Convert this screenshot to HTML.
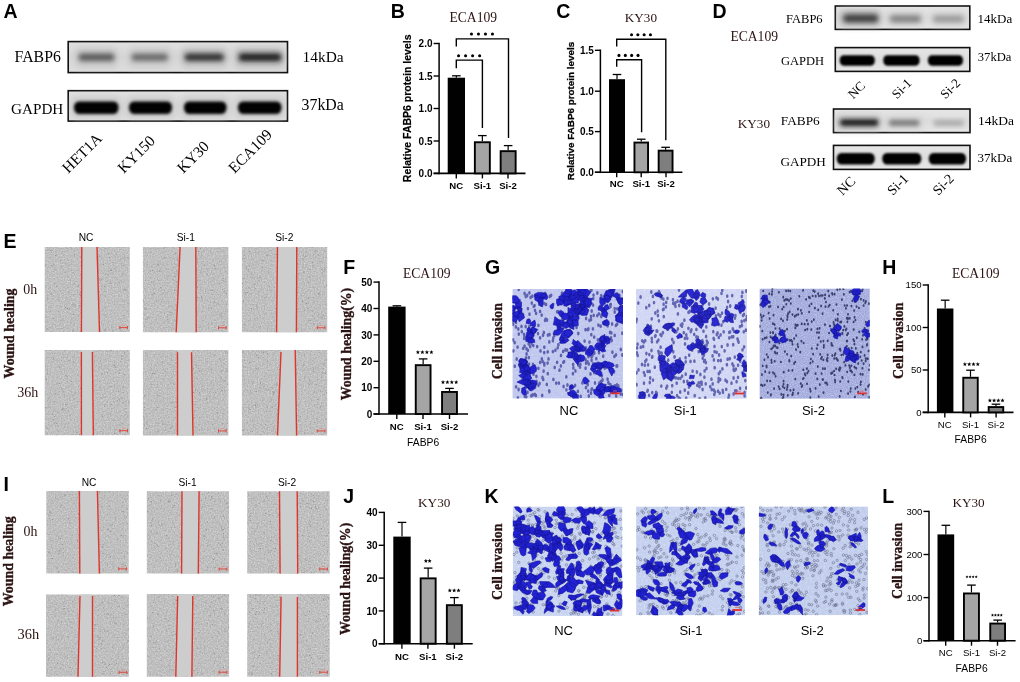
<!DOCTYPE html>
<html><head><meta charset="utf-8"><title>FABP6 figure</title>
<style>html,body{margin:0;padding:0;background:#fff;overflow:hidden;width:1020px;height:682px;}svg{display:block;}</style></head>
<body><svg width="1020" height="682" viewBox="0 0 1020 682">
<defs><filter id="bl5" x="-30%" y="-60%" width="160%" height="220%"><feGaussianBlur stdDeviation="0.5"/></filter><filter id="bl6" x="-30%" y="-60%" width="160%" height="220%"><feGaussianBlur stdDeviation="0.6"/></filter><filter id="bl7" x="-30%" y="-60%" width="160%" height="220%"><feGaussianBlur stdDeviation="0.7"/></filter><filter id="bl8" x="-30%" y="-60%" width="160%" height="220%"><feGaussianBlur stdDeviation="0.8"/></filter><filter id="bl9" x="-30%" y="-60%" width="160%" height="220%"><feGaussianBlur stdDeviation="0.9"/></filter><filter id="bl10" x="-30%" y="-60%" width="160%" height="220%"><feGaussianBlur stdDeviation="1.0"/></filter><filter id="bl11" x="-30%" y="-60%" width="160%" height="220%"><feGaussianBlur stdDeviation="1.1"/></filter><filter id="bl12" x="-30%" y="-60%" width="160%" height="220%"><feGaussianBlur stdDeviation="1.2"/></filter><filter id="bl13" x="-30%" y="-60%" width="160%" height="220%"><feGaussianBlur stdDeviation="1.3"/></filter><filter id="bl14" x="-30%" y="-60%" width="160%" height="220%"><feGaussianBlur stdDeviation="1.4"/></filter><filter id="bl15" x="-30%" y="-60%" width="160%" height="220%"><feGaussianBlur stdDeviation="1.5"/></filter><filter id="bl16" x="-30%" y="-60%" width="160%" height="220%"><feGaussianBlur stdDeviation="1.6"/></filter><filter id="bl17" x="-30%" y="-60%" width="160%" height="220%"><feGaussianBlur stdDeviation="1.7"/></filter><filter id="bl18" x="-30%" y="-60%" width="160%" height="220%"><feGaussianBlur stdDeviation="1.8"/></filter><filter id="bl19" x="-30%" y="-60%" width="160%" height="220%"><feGaussianBlur stdDeviation="1.9"/></filter><filter id="bl20" x="-30%" y="-60%" width="160%" height="220%"><feGaussianBlur stdDeviation="2.0"/></filter><filter id="bl21" x="-30%" y="-60%" width="160%" height="220%"><feGaussianBlur stdDeviation="2.1"/></filter><filter id="bl22" x="-30%" y="-60%" width="160%" height="220%"><feGaussianBlur stdDeviation="2.2"/></filter><filter id="bl23" x="-30%" y="-60%" width="160%" height="220%"><feGaussianBlur stdDeviation="2.3"/></filter><filter id="bl24" x="-30%" y="-60%" width="160%" height="220%"><feGaussianBlur stdDeviation="2.4"/></filter><filter id="bl25" x="-30%" y="-60%" width="160%" height="220%"><feGaussianBlur stdDeviation="2.5"/></filter><filter id="bl26" x="-30%" y="-60%" width="160%" height="220%"><feGaussianBlur stdDeviation="2.6"/></filter><filter id="bl27" x="-30%" y="-60%" width="160%" height="220%"><feGaussianBlur stdDeviation="2.7"/></filter><filter id="bl28" x="-30%" y="-60%" width="160%" height="220%"><feGaussianBlur stdDeviation="2.8"/></filter><filter id="bl29" x="-30%" y="-60%" width="160%" height="220%"><feGaussianBlur stdDeviation="2.9"/></filter><filter id="bl30" x="-30%" y="-60%" width="160%" height="220%"><feGaussianBlur stdDeviation="3.0"/></filter><filter id="bl31" x="-30%" y="-60%" width="160%" height="220%"><feGaussianBlur stdDeviation="3.1"/></filter><filter id="bl32" x="-30%" y="-60%" width="160%" height="220%"><feGaussianBlur stdDeviation="3.2"/></filter><filter id="bl33" x="-30%" y="-60%" width="160%" height="220%"><feGaussianBlur stdDeviation="3.3"/></filter><filter id="bl34" x="-30%" y="-60%" width="160%" height="220%"><feGaussianBlur stdDeviation="3.4"/></filter><filter id="bl35" x="-30%" y="-60%" width="160%" height="220%"><feGaussianBlur stdDeviation="3.5"/></filter><linearGradient id="ga1" x1="0" y1="0" x2="0" y2="1"><stop offset="0" stop-color="#e2e2e2"/><stop offset="0.5" stop-color="#d6d6d6"/><stop offset="1" stop-color="#dfdfdf"/></linearGradient><linearGradient id="ga2" x1="0" y1="0" x2="0" y2="1"><stop offset="0" stop-color="#e2e2e2"/><stop offset="0.5" stop-color="#d6d6d6"/><stop offset="1" stop-color="#dfdfdf"/></linearGradient><linearGradient id="gd1" x1="0" y1="0" x2="0" y2="1"><stop offset="0" stop-color="#e6e6e6"/><stop offset="0.5" stop-color="#dddddd"/><stop offset="1" stop-color="#e6e6e6"/></linearGradient><linearGradient id="gd2" x1="0" y1="0" x2="0" y2="1"><stop offset="0" stop-color="#e6e6e6"/><stop offset="0.5" stop-color="#dddddd"/><stop offset="1" stop-color="#e6e6e6"/></linearGradient><linearGradient id="gd3" x1="0" y1="0" x2="0" y2="1"><stop offset="0" stop-color="#e6e6e6"/><stop offset="0.5" stop-color="#dddddd"/><stop offset="1" stop-color="#e6e6e6"/></linearGradient><linearGradient id="gd4" x1="0" y1="0" x2="0" y2="1"><stop offset="0" stop-color="#e6e6e6"/><stop offset="0.5" stop-color="#dddddd"/><stop offset="1" stop-color="#e6e6e6"/></linearGradient><filter id="noiseG" x="0" y="0" width="100%" height="100%"><feTurbulence type="fractalNoise" baseFrequency="0.9" numOctaves="2" seed="3" result="n"/><feColorMatrix type="matrix" values="0 0 0 0 0  0 0 0 0 0  0 0 0 0 0  -1.6 0 0 0 0.95" in="n" result="a"/><feComposite in="SourceGraphic" in2="a" operator="in"/></filter><clipPath id="cw11"><rect x="44.70" y="247.00" width="85.10" height="85.10"/></clipPath><filter id="tx11" x="44.70" y="247.00" width="85.10" height="85.10" filterUnits="userSpaceOnUse" color-interpolation-filters="sRGB"><feTurbulence type="fractalNoise" baseFrequency="0.7" numOctaves="2" seed="11"/><feColorMatrix type="matrix" values="0.24 0 0 0 0.63  0.24 0 0 0 0.63  0.24 0 0 0 0.63  0 0 0 0 1"/></filter><clipPath id="cw12"><rect x="142.90" y="247.00" width="85.50" height="85.30"/></clipPath><filter id="tx12" x="142.90" y="247.00" width="85.50" height="85.30" filterUnits="userSpaceOnUse" color-interpolation-filters="sRGB"><feTurbulence type="fractalNoise" baseFrequency="0.7" numOctaves="2" seed="12"/><feColorMatrix type="matrix" values="0.24 0 0 0 0.63  0.24 0 0 0 0.63  0.24 0 0 0 0.63  0 0 0 0 1"/></filter><clipPath id="cw13"><rect x="241.90" y="247.00" width="85.30" height="85.30"/></clipPath><filter id="tx13" x="241.90" y="247.00" width="85.30" height="85.30" filterUnits="userSpaceOnUse" color-interpolation-filters="sRGB"><feTurbulence type="fractalNoise" baseFrequency="0.7" numOctaves="2" seed="13"/><feColorMatrix type="matrix" values="0.24 0 0 0 0.63  0.24 0 0 0 0.63  0.24 0 0 0 0.63  0 0 0 0 1"/></filter><clipPath id="cw14"><rect x="44.70" y="349.90" width="85.10" height="85.30"/></clipPath><filter id="tx14" x="44.70" y="349.90" width="85.10" height="85.30" filterUnits="userSpaceOnUse" color-interpolation-filters="sRGB"><feTurbulence type="fractalNoise" baseFrequency="0.7" numOctaves="2" seed="14"/><feColorMatrix type="matrix" values="0.24 0 0 0 0.63  0.24 0 0 0 0.63  0.24 0 0 0 0.63  0 0 0 0 1"/></filter><clipPath id="cw15"><rect x="142.90" y="349.90" width="85.50" height="85.50"/></clipPath><filter id="tx15" x="142.90" y="349.90" width="85.50" height="85.50" filterUnits="userSpaceOnUse" color-interpolation-filters="sRGB"><feTurbulence type="fractalNoise" baseFrequency="0.7" numOctaves="2" seed="15"/><feColorMatrix type="matrix" values="0.24 0 0 0 0.63  0.24 0 0 0 0.63  0.24 0 0 0 0.63  0 0 0 0 1"/></filter><clipPath id="cw16"><rect x="241.90" y="349.90" width="85.30" height="85.50"/></clipPath><filter id="tx16" x="241.90" y="349.90" width="85.30" height="85.50" filterUnits="userSpaceOnUse" color-interpolation-filters="sRGB"><feTurbulence type="fractalNoise" baseFrequency="0.7" numOctaves="2" seed="16"/><feColorMatrix type="matrix" values="0.24 0 0 0 0.63  0.24 0 0 0 0.63  0.24 0 0 0 0.63  0 0 0 0 1"/></filter><clipPath id="cw21"><rect x="46.30" y="491.00" width="82.40" height="82.40"/></clipPath><filter id="tx21" x="46.30" y="491.00" width="82.40" height="82.40" filterUnits="userSpaceOnUse" color-interpolation-filters="sRGB"><feTurbulence type="fractalNoise" baseFrequency="0.7" numOctaves="2" seed="21"/><feColorMatrix type="matrix" values="0.24 0 0 0 0.63  0.24 0 0 0 0.63  0.24 0 0 0 0.63  0 0 0 0 1"/></filter><clipPath id="cw22"><rect x="146.80" y="491.20" width="82.30" height="82.30"/></clipPath><filter id="tx22" x="146.80" y="491.20" width="82.30" height="82.30" filterUnits="userSpaceOnUse" color-interpolation-filters="sRGB"><feTurbulence type="fractalNoise" baseFrequency="0.7" numOctaves="2" seed="22"/><feColorMatrix type="matrix" values="0.24 0 0 0 0.63  0.24 0 0 0 0.63  0.24 0 0 0 0.63  0 0 0 0 1"/></filter><clipPath id="cw23"><rect x="247.20" y="491.20" width="82.50" height="82.30"/></clipPath><filter id="tx23" x="247.20" y="491.20" width="82.50" height="82.30" filterUnits="userSpaceOnUse" color-interpolation-filters="sRGB"><feTurbulence type="fractalNoise" baseFrequency="0.7" numOctaves="2" seed="23"/><feColorMatrix type="matrix" values="0.24 0 0 0 0.63  0.24 0 0 0 0.63  0.24 0 0 0 0.63  0 0 0 0 1"/></filter><clipPath id="cw24"><rect x="46.00" y="594.40" width="83.00" height="82.40"/></clipPath><filter id="tx24" x="46.00" y="594.40" width="83.00" height="82.40" filterUnits="userSpaceOnUse" color-interpolation-filters="sRGB"><feTurbulence type="fractalNoise" baseFrequency="0.7" numOctaves="2" seed="24"/><feColorMatrix type="matrix" values="0.24 0 0 0 0.63  0.24 0 0 0 0.63  0.24 0 0 0 0.63  0 0 0 0 1"/></filter><clipPath id="cw25"><rect x="146.80" y="594.10" width="82.30" height="82.60"/></clipPath><filter id="tx25" x="146.80" y="594.10" width="82.30" height="82.60" filterUnits="userSpaceOnUse" color-interpolation-filters="sRGB"><feTurbulence type="fractalNoise" baseFrequency="0.7" numOctaves="2" seed="25"/><feColorMatrix type="matrix" values="0.24 0 0 0 0.63  0.24 0 0 0 0.63  0.24 0 0 0 0.63  0 0 0 0 1"/></filter><clipPath id="cw26"><rect x="247.20" y="594.10" width="82.50" height="82.60"/></clipPath><filter id="tx26" x="247.20" y="594.10" width="82.50" height="82.60" filterUnits="userSpaceOnUse" color-interpolation-filters="sRGB"><feTurbulence type="fractalNoise" baseFrequency="0.7" numOctaves="2" seed="26"/><feColorMatrix type="matrix" values="0.24 0 0 0 0.63  0.24 0 0 0 0.63  0.24 0 0 0 0.63  0 0 0 0 1"/></filter><clipPath id="cc101"><rect x="512.40" y="289.00" width="110.60" height="109.60"/></clipPath><filter id="ct101" x="512.40" y="289.00" width="110.60" height="109.60" filterUnits="userSpaceOnUse" color-interpolation-filters="sRGB"><feTurbulence type="fractalNoise" baseFrequency="0.5" numOctaves="2" seed="101"/><feColorMatrix type="matrix" values="0 0 0 0 0.831  0 0 0 0 0.851  0 0 0 0 0.961  2.4 0 0 0 -0.95"/></filter><clipPath id="cc102"><rect x="636.00" y="289.00" width="111.00" height="109.80"/></clipPath><filter id="ct102" x="636.00" y="289.00" width="111.00" height="109.80" filterUnits="userSpaceOnUse" color-interpolation-filters="sRGB"><feTurbulence type="fractalNoise" baseFrequency="0.5" numOctaves="2" seed="102"/><feColorMatrix type="matrix" values="0 0 0 0 0.886  0 0 0 0 0.898  0 0 0 0 0.976  2.4 0 0 0 -0.95"/></filter><clipPath id="cc103"><rect x="759.50" y="288.60" width="110.30" height="110.10"/></clipPath><filter id="ct103" x="759.50" y="288.60" width="110.30" height="110.10" filterUnits="userSpaceOnUse" color-interpolation-filters="sRGB"><feTurbulence type="fractalNoise" baseFrequency="0.9" numOctaves="2" seed="103"/><feColorMatrix type="matrix" values="0 0 0 0 0.749  0 0 0 0 0.776  0 0 0 0 0.925  2.4 0 0 0 -0.95"/></filter><clipPath id="cc104"><rect x="512.80" y="506.60" width="109.60" height="109.30"/></clipPath><filter id="ct104" x="512.80" y="506.60" width="109.60" height="109.30" filterUnits="userSpaceOnUse" color-interpolation-filters="sRGB"><feTurbulence type="fractalNoise" baseFrequency="0.5" numOctaves="2" seed="104"/><feColorMatrix type="matrix" values="0 0 0 0 0.867  0 0 0 0 0.898  0 0 0 0 0.973  2.4 0 0 0 -0.95"/></filter><clipPath id="cc105"><rect x="636.10" y="506.50" width="108.80" height="108.80"/></clipPath><filter id="ct105" x="636.10" y="506.50" width="108.80" height="108.80" filterUnits="userSpaceOnUse" color-interpolation-filters="sRGB"><feTurbulence type="fractalNoise" baseFrequency="0.5" numOctaves="2" seed="105"/><feColorMatrix type="matrix" values="0 0 0 0 0.851  0 0 0 0 0.886  0 0 0 0 0.965  2.4 0 0 0 -0.95"/></filter><clipPath id="cc106"><rect x="758.90" y="506.50" width="109.10" height="108.80"/></clipPath><filter id="ct106" x="758.90" y="506.50" width="109.10" height="108.80" filterUnits="userSpaceOnUse" color-interpolation-filters="sRGB"><feTurbulence type="fractalNoise" baseFrequency="0.5" numOctaves="2" seed="106"/><feColorMatrix type="matrix" values="0 0 0 0 0.847  0 0 0 0 0.878  0 0 0 0 0.957  2.4 0 0 0 -0.95"/></filter></defs>
<rect width="1020" height="682" fill="#fff"/>
<g opacity="0.999">
<text x="3.60" y="18.20" font-family='"Liberation Sans", sans-serif' font-size="19.5" font-weight="bold" fill="#000" text-anchor="start">A</text>
<text x="390.80" y="18.00" font-family='"Liberation Sans", sans-serif' font-size="19.5" font-weight="bold" fill="#000" text-anchor="start">B</text>
<text x="556.30" y="18.20" font-family='"Liberation Sans", sans-serif' font-size="19.5" font-weight="bold" fill="#000" text-anchor="start">C</text>
<text x="712.60" y="18.20" font-family='"Liberation Sans", sans-serif' font-size="19.5" font-weight="bold" fill="#000" text-anchor="start">D</text>
<text x="3.40" y="247.90" font-family='"Liberation Sans", sans-serif' font-size="19.5" font-weight="bold" fill="#000" text-anchor="start">E</text>
<text x="343.20" y="274.10" font-family='"Liberation Sans", sans-serif' font-size="19.5" font-weight="bold" fill="#000" text-anchor="start">F</text>
<text x="485.00" y="274.30" font-family='"Liberation Sans", sans-serif' font-size="19.5" font-weight="bold" fill="#000" text-anchor="start">G</text>
<text x="882.30" y="274.10" font-family='"Liberation Sans", sans-serif' font-size="19.5" font-weight="bold" fill="#000" text-anchor="start">H</text>
<text x="3.40" y="490.60" font-family='"Liberation Sans", sans-serif' font-size="19.5" font-weight="bold" fill="#000" text-anchor="start">I</text>
<text x="343.30" y="502.70" font-family='"Liberation Sans", sans-serif' font-size="19.5" font-weight="bold" fill="#000" text-anchor="start">J</text>
<text x="484.60" y="502.70" font-family='"Liberation Sans", sans-serif' font-size="19.5" font-weight="bold" fill="#000" text-anchor="start">K</text>
<text x="882.30" y="502.70" font-family='"Liberation Sans", sans-serif' font-size="19.5" font-weight="bold" fill="#000" text-anchor="start">L</text>
<rect x="68.20" y="41.60" width="219.30" height="31.00" fill="url(#ga1)" stroke="#111" stroke-width="1.6"/>
<rect x="68.20" y="90.70" width="219.30" height="30.40" fill="url(#ga2)" stroke="#111" stroke-width="1.6"/>
<g>
<rect x="75.60" y="47.00" width="41.40" height="21.00" rx="4" fill="#c6c6c6" opacity="0.8" filter="url(#bl30)"/>
<rect x="128.60" y="47.00" width="42.10" height="21.00" rx="4" fill="#c8c8c8" opacity="0.8" filter="url(#bl30)"/>
<rect x="181.50" y="47.00" width="45.20" height="21.00" rx="4" fill="#c0c0c0" opacity="0.8" filter="url(#bl30)"/>
<rect x="235.00" y="47.00" width="49.00" height="21.00" rx="4" fill="#bcbcbc" opacity="0.8" filter="url(#bl30)"/>
<rect x="78.50" y="53.60" width="36.00" height="7.40" rx="3.70" fill="#5a5a5a" opacity="1.0" filter="url(#bl25)"/>
<rect x="131.50" y="53.80" width="36.50" height="7.00" rx="3.50" fill="#666666" opacity="1.0" filter="url(#bl25)"/>
<rect x="184.50" y="53.50" width="39.50" height="7.60" rx="3.80" fill="#2e2e2e" opacity="1.0" filter="url(#bl25)"/>
<rect x="238.50" y="53.30" width="43.00" height="8.00" rx="4.00" fill="#1a1a1a" opacity="1.0" filter="url(#bl25)"/>
<rect x="72.00" y="96.00" width="48.50" height="23.00" rx="4" fill="#c8c8c8" opacity="0.7" filter="url(#bl30)"/>
<rect x="127.00" y="96.00" width="47.00" height="23.00" rx="4" fill="#c8c8c8" opacity="0.7" filter="url(#bl30)"/>
<rect x="182.00" y="96.00" width="46.50" height="23.00" rx="4" fill="#c8c8c8" opacity="0.7" filter="url(#bl30)"/>
<rect x="236.00" y="96.00" width="47.50" height="23.00" rx="4" fill="#c8c8c8" opacity="0.7" filter="url(#bl30)"/>
<rect x="74.00" y="101.40" width="44.50" height="12.60" rx="4.85" ry="5.73" fill="#000" filter="url(#bl14)"/>
<rect x="129.00" y="101.40" width="43.00" height="12.60" rx="4.85" ry="5.73" fill="#000" filter="url(#bl14)"/>
<rect x="184.00" y="101.40" width="42.50" height="12.60" rx="4.85" ry="5.73" fill="#000" filter="url(#bl14)"/>
<rect x="238.00" y="101.40" width="43.50" height="12.60" rx="4.85" ry="5.73" fill="#000" filter="url(#bl14)"/>
</g>
<text x="14.60" y="61.80" font-family='"Liberation Serif", serif' font-size="15.8" font-weight="normal" fill="#000" text-anchor="start">FABP6</text>
<text x="11.00" y="113.80" font-family='"Liberation Serif", serif' font-size="15.2" font-weight="normal" fill="#000" text-anchor="start">GAPDH</text>
<text x="302.60" y="62.00" font-family='"Liberation Serif", serif' font-size="15.4" font-weight="normal" fill="#000" text-anchor="start">14kDa</text>
<text x="301.60" y="110.30" font-family='"Liberation Serif", serif' font-size="15.8" font-weight="normal" fill="#000" text-anchor="start">37kDa</text>
<text x="68.30" y="174.00" font-family='"Liberation Serif", serif' font-size="15.5" font-weight="normal" fill="#000" text-anchor="start" transform="rotate(-45 68.30 174.00)">HET1A</text>
<text x="123.80" y="174.00" font-family='"Liberation Serif", serif' font-size="15.5" font-weight="normal" fill="#000" text-anchor="start" transform="rotate(-45 123.80 174.00)">KY150</text>
<text x="183.30" y="174.00" font-family='"Liberation Serif", serif' font-size="15.5" font-weight="normal" fill="#000" text-anchor="start" transform="rotate(-45 183.30 174.00)">KY30</text>
<text x="234.60" y="174.00" font-family='"Liberation Serif", serif' font-size="15.5" font-weight="normal" fill="#000" text-anchor="start" transform="rotate(-45 234.60 174.00)">ECA109</text>
<line x1="439.10" y1="42.75" x2="439.10" y2="174.15" stroke="#000" stroke-width="1.5"/>
<line x1="433.60" y1="43.50" x2="439.10" y2="43.50" stroke="#000" stroke-width="1.4"/>
<text x="432.50" y="47.10" font-family='"Liberation Sans", sans-serif' font-size="10.0" font-weight="bold" fill="#000" text-anchor="end">2.0</text>
<line x1="433.60" y1="76.00" x2="439.10" y2="76.00" stroke="#000" stroke-width="1.4"/>
<text x="432.50" y="79.60" font-family='"Liberation Sans", sans-serif' font-size="10.0" font-weight="bold" fill="#000" text-anchor="end">1.5</text>
<line x1="433.60" y1="108.50" x2="439.10" y2="108.50" stroke="#000" stroke-width="1.4"/>
<text x="432.50" y="112.10" font-family='"Liberation Sans", sans-serif' font-size="10.0" font-weight="bold" fill="#000" text-anchor="end">1.0</text>
<line x1="433.60" y1="141.00" x2="439.10" y2="141.00" stroke="#000" stroke-width="1.4"/>
<text x="432.50" y="144.60" font-family='"Liberation Sans", sans-serif' font-size="10.0" font-weight="bold" fill="#000" text-anchor="end">0.5</text>
<line x1="433.60" y1="173.40" x2="439.10" y2="173.40" stroke="#000" stroke-width="1.4"/>
<text x="432.50" y="177.00" font-family='"Liberation Sans", sans-serif' font-size="10.0" font-weight="bold" fill="#000" text-anchor="end">0.0</text>
<line x1="433.60" y1="173.40" x2="525.50" y2="173.40" stroke="#000" stroke-width="1.6"/>
<line x1="456.30" y1="173.40" x2="456.30" y2="178.40" stroke="#000" stroke-width="1.4"/>
<line x1="482.40" y1="173.40" x2="482.40" y2="178.40" stroke="#000" stroke-width="1.4"/>
<line x1="508.00" y1="173.40" x2="508.00" y2="178.40" stroke="#000" stroke-width="1.4"/>
<line x1="456.35" y1="75.80" x2="456.35" y2="77.70" stroke="#000" stroke-width="1.2"/>
<line x1="452.05" y1="75.80" x2="460.65" y2="75.80" stroke="#000" stroke-width="1.3"/>
<rect x="447.70" y="77.70" width="17.30" height="95.70" fill="#000"/>
<line x1="482.35" y1="135.60" x2="482.35" y2="141.30" stroke="#000" stroke-width="1.2"/>
<line x1="478.05" y1="135.60" x2="486.65" y2="135.60" stroke="#000" stroke-width="1.3"/>
<rect x="474.85" y="142.25" width="15.00" height="31.15" fill="#a5a5a5" stroke="#000" stroke-width="1.9"/>
<line x1="508.15" y1="145.60" x2="508.15" y2="150.20" stroke="#000" stroke-width="1.2"/>
<line x1="503.85" y1="145.60" x2="512.45" y2="145.60" stroke="#000" stroke-width="1.3"/>
<rect x="500.65" y="151.15" width="15.00" height="22.25" fill="#7e7e7e" stroke="#000" stroke-width="1.9"/>
<path d="M456.3 68.2 V60.1 H482.4 V127.9" fill="none" stroke="#000" stroke-width="1.4"/>
<path d="M456.3 46.6 V38.9 H508.5 V138" fill="none" stroke="#000" stroke-width="1.4"/>
<circle cx="458.55" cy="55.70" r="1.55" fill="#000"/><circle cx="465.58" cy="55.70" r="1.55" fill="#000"/><circle cx="472.62" cy="55.70" r="1.55" fill="#000"/><circle cx="479.65" cy="55.70" r="1.55" fill="#000"/>
<circle cx="471.45" cy="34.00" r="1.55" fill="#000"/><circle cx="478.45" cy="34.00" r="1.55" fill="#000"/><circle cx="485.45" cy="34.00" r="1.55" fill="#000"/><circle cx="492.45" cy="34.00" r="1.55" fill="#000"/>
<text x="449.50" y="21.70" font-family='"Liberation Serif", serif' font-size="13.6" font-weight="normal" fill="#2a1212" text-anchor="start">ECA109</text>
<text x="411.20" y="108.30" font-family='"Liberation Sans", sans-serif' font-size="10.5" font-weight="bold" fill="#000" text-anchor="middle" transform="rotate(-90 411.20 108.30)" stroke="#000" stroke-width="0.2">Relative FABP6 protein levels</text>
<text x="456.30" y="188.70" font-family='"Liberation Sans", sans-serif' font-size="9.6" font-weight="bold" fill="#000" text-anchor="middle">NC</text>
<text x="482.40" y="188.70" font-family='"Liberation Sans", sans-serif' font-size="9.6" font-weight="bold" fill="#000" text-anchor="middle">Si-1</text>
<text x="508.00" y="188.70" font-family='"Liberation Sans", sans-serif' font-size="9.6" font-weight="bold" fill="#000" text-anchor="middle">Si-2</text>
<line x1="600.40" y1="49.55" x2="600.40" y2="173.05" stroke="#000" stroke-width="1.5"/>
<line x1="594.90" y1="50.30" x2="600.40" y2="50.30" stroke="#000" stroke-width="1.4"/>
<text x="593.80" y="53.90" font-family='"Liberation Sans", sans-serif' font-size="10.0" font-weight="bold" fill="#000" text-anchor="end">1.5</text>
<line x1="594.90" y1="91.20" x2="600.40" y2="91.20" stroke="#000" stroke-width="1.4"/>
<text x="593.80" y="94.80" font-family='"Liberation Sans", sans-serif' font-size="10.0" font-weight="bold" fill="#000" text-anchor="end">1.0</text>
<line x1="594.90" y1="131.60" x2="600.40" y2="131.60" stroke="#000" stroke-width="1.4"/>
<text x="593.80" y="135.20" font-family='"Liberation Sans", sans-serif' font-size="10.0" font-weight="bold" fill="#000" text-anchor="end">0.5</text>
<line x1="594.90" y1="172.30" x2="600.40" y2="172.30" stroke="#000" stroke-width="1.4"/>
<text x="593.80" y="175.90" font-family='"Liberation Sans", sans-serif' font-size="10.0" font-weight="bold" fill="#000" text-anchor="end">0.0</text>
<line x1="594.90" y1="172.30" x2="682.40" y2="172.30" stroke="#000" stroke-width="1.6"/>
<line x1="616.70" y1="172.30" x2="616.70" y2="177.30" stroke="#000" stroke-width="1.4"/>
<line x1="641.20" y1="172.30" x2="641.20" y2="177.30" stroke="#000" stroke-width="1.4"/>
<line x1="666.00" y1="172.30" x2="666.00" y2="177.30" stroke="#000" stroke-width="1.4"/>
<line x1="617.00" y1="74.50" x2="617.00" y2="79.20" stroke="#000" stroke-width="1.2"/>
<line x1="612.70" y1="74.50" x2="621.30" y2="74.50" stroke="#000" stroke-width="1.3"/>
<rect x="609.00" y="79.20" width="16.00" height="93.10" fill="#000"/>
<line x1="641.25" y1="139.20" x2="641.25" y2="141.60" stroke="#000" stroke-width="1.2"/>
<line x1="636.95" y1="139.20" x2="645.55" y2="139.20" stroke="#000" stroke-width="1.3"/>
<rect x="634.45" y="142.55" width="13.60" height="29.75" fill="#a5a5a5" stroke="#000" stroke-width="1.9"/>
<line x1="665.60" y1="147.30" x2="665.60" y2="149.70" stroke="#000" stroke-width="1.2"/>
<line x1="661.30" y1="147.30" x2="669.90" y2="147.30" stroke="#000" stroke-width="1.3"/>
<rect x="658.65" y="150.65" width="13.90" height="21.65" fill="#7e7e7e" stroke="#000" stroke-width="1.9"/>
<path d="M616.7 66.7 V59.8 H641.6 V132.3" fill="none" stroke="#000" stroke-width="1.4"/>
<path d="M616.7 46.6 V39.3 H665.8 V140.3" fill="none" stroke="#000" stroke-width="1.4"/>
<circle cx="618.95" cy="55.40" r="1.55" fill="#000"/><circle cx="625.32" cy="55.40" r="1.55" fill="#000"/><circle cx="631.68" cy="55.40" r="1.55" fill="#000"/><circle cx="638.05" cy="55.40" r="1.55" fill="#000"/>
<circle cx="631.55" cy="34.80" r="1.55" fill="#000"/><circle cx="637.85" cy="34.80" r="1.55" fill="#000"/><circle cx="644.15" cy="34.80" r="1.55" fill="#000"/><circle cx="650.45" cy="34.80" r="1.55" fill="#000"/>
<text x="624.80" y="21.70" font-family='"Liberation Serif", serif' font-size="13.2" font-weight="normal" fill="#2a1212" text-anchor="start">KY30</text>
<text x="573.80" y="111.00" font-family='"Liberation Sans", sans-serif' font-size="9.85" font-weight="bold" fill="#000" text-anchor="middle" transform="rotate(-90 573.80 111.00)" stroke="#000" stroke-width="0.3">Relative FABP6 protein levels</text>
<text x="616.70" y="187.30" font-family='"Liberation Sans", sans-serif' font-size="9.6" font-weight="bold" fill="#000" text-anchor="middle">NC</text>
<text x="641.20" y="187.30" font-family='"Liberation Sans", sans-serif' font-size="9.6" font-weight="bold" fill="#000" text-anchor="middle">Si-1</text>
<text x="666.00" y="187.30" font-family='"Liberation Sans", sans-serif' font-size="9.6" font-weight="bold" fill="#000" text-anchor="middle">Si-2</text>
<rect x="835.30" y="6.00" width="134.50" height="23.40" fill="url(#gd1)" stroke="#111" stroke-width="1.6"/>
<rect x="835.30" y="47.60" width="134.50" height="23.80" fill="url(#gd2)" stroke="#111" stroke-width="1.6"/>
<rect x="833.50" y="109.00" width="136.50" height="23.60" fill="url(#gd3)" stroke="#111" stroke-width="1.6"/>
<rect x="833.50" y="145.40" width="136.50" height="24.00" fill="url(#gd4)" stroke="#111" stroke-width="1.6"/>
<rect x="839.00" y="9.00" width="42.00" height="18.00" rx="4" fill="#b8b8b8" opacity="0.8" filter="url(#bl30)"/>
<rect x="887.00" y="11.00" width="36.00" height="15.00" rx="4" fill="#cbcbcb" opacity="0.7" filter="url(#bl30)"/>
<rect x="931.00" y="11.00" width="35.00" height="15.00" rx="4" fill="#d0d0d0" opacity="0.7" filter="url(#bl30)"/>
<rect x="843.00" y="14.20" width="35.40" height="8.40" rx="4.20" fill="#404040" opacity="1.0" filter="url(#bl24)"/>
<rect x="890.00" y="15.40" width="31.00" height="6.80" rx="3.40" fill="#808080" opacity="1.0" filter="url(#bl24)"/>
<rect x="933.00" y="15.80" width="30.70" height="6.40" rx="3.20" fill="#989898" opacity="1.0" filter="url(#bl24)"/>
<rect x="839.70" y="55.20" width="35.10" height="10.50" rx="4.04" ry="4.77" fill="#000" filter="url(#bl11)"/>
<rect x="883.30" y="55.20" width="36.30" height="10.50" rx="4.04" ry="4.77" fill="#000" filter="url(#bl11)"/>
<rect x="927.90" y="55.20" width="35.10" height="10.50" rx="4.04" ry="4.77" fill="#000" filter="url(#bl11)"/>
<rect x="836.00" y="115.00" width="45.00" height="16.00" rx="4" fill="#bcbcbc" opacity="0.8" filter="url(#bl30)"/>
<rect x="886.00" y="116.00" width="37.00" height="14.00" rx="4" fill="#cbcbcb" opacity="0.6" filter="url(#bl30)"/>
<rect x="840.00" y="119.30" width="38.40" height="6.60" rx="3.30" fill="#1c1c1c" opacity="1.0" filter="url(#bl20)"/>
<rect x="889.00" y="119.90" width="30.40" height="5.80" rx="2.90" fill="#7a7a7a" opacity="1.0" filter="url(#bl22)"/>
<rect x="933.40" y="120.30" width="30.60" height="5.40" rx="2.70" fill="#a4a4a4" opacity="1.0" filter="url(#bl24)"/>
<rect x="836.80" y="153.00" width="37.90" height="11.60" rx="4.46" ry="5.27" fill="#000" filter="url(#bl11)"/>
<rect x="882.30" y="153.00" width="39.00" height="11.60" rx="4.46" ry="5.27" fill="#000" filter="url(#bl11)"/>
<rect x="928.80" y="153.00" width="37.20" height="11.60" rx="4.46" ry="5.27" fill="#000" filter="url(#bl11)"/>
<text x="786.00" y="23.00" font-family='"Liberation Serif", serif' font-size="12.5" font-weight="normal" fill="#000" text-anchor="start">FABP6</text>
<text x="781.00" y="64.60" font-family='"Liberation Serif", serif' font-size="12.5" font-weight="normal" fill="#000" text-anchor="start">GAPDH</text>
<text x="730.40" y="41.10" font-family='"Liberation Serif", serif' font-size="13.6" font-weight="normal" fill="#2a1212" text-anchor="start">ECA109</text>
<text x="977.60" y="23.30" font-family='"Liberation Serif", serif' font-size="13.0" font-weight="normal" fill="#000" text-anchor="start">14kDa</text>
<text x="977.80" y="60.50" font-family='"Liberation Serif", serif' font-size="12.6" font-weight="normal" fill="#000" text-anchor="start">37kDa</text>
<text x="737.80" y="128.00" font-family='"Liberation Serif", serif' font-size="13.2" font-weight="normal" fill="#2a1212" text-anchor="start">KY30</text>
<text x="780.80" y="125.10" font-family='"Liberation Serif", serif' font-size="13.3" font-weight="normal" fill="#000" text-anchor="start">FABP6</text>
<text x="780.40" y="165.90" font-family='"Liberation Serif", serif' font-size="13.2" font-weight="normal" fill="#000" text-anchor="start">GAPDH</text>
<text x="978.00" y="125.20" font-family='"Liberation Serif", serif' font-size="13.5" font-weight="normal" fill="#000" text-anchor="start">14kDa</text>
<text x="977.60" y="161.50" font-family='"Liberation Serif", serif' font-size="13.0" font-weight="normal" fill="#000" text-anchor="start">37kDa</text>
<text x="853.20" y="99.40" font-family='"Liberation Serif", serif' font-size="13.1" font-weight="normal" fill="#000" text-anchor="start" transform="rotate(-45 853.20 99.40)">NC</text>
<text x="897.00" y="99.40" font-family='"Liberation Serif", serif' font-size="13.1" font-weight="normal" fill="#000" text-anchor="start" transform="rotate(-45 897.00 99.40)">Si-1</text>
<text x="945.60" y="99.40" font-family='"Liberation Serif", serif' font-size="13.1" font-weight="normal" fill="#000" text-anchor="start" transform="rotate(-45 945.60 99.40)">Si-2</text>
<text x="842.50" y="196.00" font-family='"Liberation Serif", serif' font-size="14.0" font-weight="normal" fill="#000" text-anchor="start" transform="rotate(-45 842.50 196.00)">NC</text>
<text x="892.80" y="196.00" font-family='"Liberation Serif", serif' font-size="14.0" font-weight="normal" fill="#000" text-anchor="start" transform="rotate(-45 892.80 196.00)">Si-1</text>
<text x="938.20" y="196.00" font-family='"Liberation Serif", serif' font-size="14.0" font-weight="normal" fill="#000" text-anchor="start" transform="rotate(-45 938.20 196.00)">Si-2</text>
<g clip-path="url(#cw11)">
<rect x="44.70" y="247.00" width="85.10" height="85.10" fill="#bdbdbd" filter="url(#tx11)"/>
<path d="M83.2 294.6h1v1h-1zM96.9 262.8h1v1h-1zM98.7 297.7h1v1h-1zM95.7 313.2h1v1h-1zM101.1 285.9h1v1h-1zM109.9 281.1h1v1h-1zM84.7 330.4h1v1h-1zM71.2 248.3h1v1h-1zM104.9 247.9h1v1h-1zM110.2 282.7h1v1h-1zM65.4 298.2h1v1h-1zM85.9 295.9h1v1h-1zM61.4 327.9h1v1h-1zM54.0 290.6h1v1h-1zM65.0 307.0h1v1h-1zM80.5 324.0h1v1h-1zM127.9 257.8h1v1h-1zM108.4 252.9h1v1h-1zM52.5 258.8h1v1h-1zM47.7 248.5h1v1h-1zM104.6 314.5h1v1h-1zM54.5 268.9h1v1h-1zM103.8 286.0h1v1h-1zM47.2 298.2h1v1h-1zM87.0 299.3h1v1h-1zM66.5 248.0h1v1h-1zM105.2 327.8h1v1h-1zM114.6 256.6h1v1h-1zM68.1 265.2h1v1h-1zM105.0 295.6h1v1h-1zM103.0 264.0h1v1h-1zM66.5 307.8h1v1h-1zM97.9 324.4h1v1h-1zM112.5 327.4h1v1h-1zM121.3 330.4h1v1h-1zM90.4 314.3h1v1h-1zM74.4 254.0h1v1h-1zM73.8 282.9h1v1h-1zM88.8 304.7h1v1h-1zM50.3 292.8h1v1h-1zM123.1 315.1h1v1h-1zM73.6 323.7h1v1h-1zM89.4 256.2h1v1h-1zM122.6 300.4h1v1h-1zM121.5 273.9h1v1h-1zM56.0 254.5h1v1h-1zM53.0 317.8h1v1h-1zM52.9 295.5h1v1h-1z" fill="rgb(130,130,130)" opacity="0.6"/>
<path d="M83.2 319.8h1v1h-1zM50.1 250.0h1v1h-1zM64.6 272.0h1v1h-1zM79.3 293.9h1v1h-1zM104.9 273.8h1v1h-1zM44.7 264.8h1v1h-1zM80.4 295.2h1v1h-1zM111.0 270.0h1v1h-1zM109.2 257.0h1v1h-1zM54.6 282.8h1v1h-1zM70.6 322.3h1v1h-1zM99.3 255.5h1v1h-1zM72.7 272.2h1v1h-1zM60.3 260.1h1v1h-1zM114.3 268.2h1v1h-1zM96.1 282.9h1v1h-1zM51.0 265.1h1v1h-1zM82.6 252.1h1v1h-1zM68.7 292.2h1v1h-1zM104.4 328.9h1v1h-1zM95.6 253.4h1v1h-1zM106.9 274.1h1v1h-1zM74.6 305.3h1v1h-1zM118.8 282.5h1v1h-1zM101.1 279.3h1v1h-1zM46.6 328.5h1v1h-1zM123.9 289.4h1v1h-1zM72.5 303.7h1v1h-1zM98.7 315.4h1v1h-1zM123.1 264.9h1v1h-1zM86.9 318.2h1v1h-1zM83.2 253.4h1v1h-1zM56.3 285.7h1v1h-1zM110.2 269.7h1v1h-1zM112.5 330.7h1v1h-1zM99.2 278.4h1v1h-1zM90.2 250.1h1v1h-1zM125.3 289.6h1v1h-1zM78.2 314.4h1v1h-1zM77.7 285.3h1v1h-1zM72.5 330.6h1v1h-1zM123.4 257.5h1v1h-1zM67.0 308.1h1v1h-1zM86.2 249.4h1v1h-1zM73.2 314.1h1v1h-1zM89.3 295.8h1v1h-1zM79.7 256.7h1v1h-1zM96.2 249.4h1v1h-1zM55.1 254.9h1v1h-1zM67.6 287.3h1v1h-1zM97.3 325.7h1v1h-1zM104.4 330.2h1v1h-1zM68.9 308.6h1v1h-1zM79.9 292.0h1v1h-1zM96.8 319.9h1v1h-1zM120.5 263.6h1v1h-1zM120.2 258.4h1v1h-1zM90.9 307.0h1v1h-1zM79.0 305.3h1v1h-1z" fill="rgb(110,110,110)" opacity="0.6"/>
<path d="M60.4 290.6h1v1h-1zM70.5 254.7h1v1h-1zM126.8 302.6h1v1h-1zM100.0 300.0h1v1h-1zM82.2 318.7h1v1h-1zM88.3 249.5h1v1h-1zM77.6 328.5h1v1h-1zM112.5 262.1h1v1h-1zM60.7 290.3h1v1h-1zM44.7 320.6h1v1h-1zM60.6 331.7h1v1h-1zM62.8 269.0h1v1h-1zM51.0 264.8h1v1h-1zM97.6 257.8h1v1h-1zM58.2 300.5h1v1h-1zM69.7 261.9h1v1h-1zM92.3 319.5h1v1h-1zM128.1 302.9h1v1h-1zM89.1 327.6h1v1h-1zM51.1 293.5h1v1h-1zM48.5 326.7h1v1h-1zM118.2 295.7h1v1h-1zM96.5 253.8h1v1h-1zM106.7 280.1h1v1h-1zM116.0 254.1h1v1h-1zM56.9 299.1h1v1h-1zM59.1 324.1h1v1h-1zM119.6 279.7h1v1h-1zM77.3 291.2h1v1h-1zM71.5 318.4h1v1h-1zM68.4 298.7h1v1h-1zM100.0 295.0h1v1h-1zM82.7 300.6h1v1h-1zM67.9 276.4h1v1h-1zM52.1 326.4h1v1h-1zM91.5 302.5h1v1h-1zM106.1 316.6h1v1h-1zM81.2 250.0h1v1h-1zM84.7 332.1h1v1h-1zM125.2 288.9h1v1h-1zM52.0 265.8h1v1h-1zM92.3 317.7h1v1h-1zM99.1 291.5h1v1h-1zM66.5 304.1h1v1h-1zM62.4 319.4h1v1h-1zM88.6 281.1h1v1h-1zM61.2 266.3h1v1h-1zM97.4 255.9h1v1h-1zM94.2 319.5h1v1h-1zM66.0 263.8h1v1h-1zM119.5 249.0h1v1h-1zM90.5 320.5h1v1h-1zM99.0 292.1h1v1h-1z" fill="rgb(150,150,150)" opacity="0.6"/>
<polygon points="81.80,246.00 97.00,246.00 99.50,333.10 81.40,333.10" fill="#cdcdcd"/>
</g>
<line x1="81.80" y1="247.00" x2="81.40" y2="332.10" stroke="#e0352b" stroke-width="1.4"/>
<line x1="97.00" y1="247.00" x2="99.50" y2="332.10" stroke="#e0352b" stroke-width="1.4"/>
<line x1="119.50" y1="327.60" x2="127.90" y2="327.60" stroke="#e04a40" stroke-width="1.0"/>
<line x1="119.90" y1="326.00" x2="119.90" y2="329.20" stroke="#e04a40" stroke-width="1.0"/>
<line x1="127.50" y1="326.00" x2="127.50" y2="329.20" stroke="#e04a40" stroke-width="1.0"/>
<line x1="122.00" y1="325.20" x2="125.50" y2="325.20" stroke="#e88a80" stroke-width="0.7"/>
<g clip-path="url(#cw12)">
<rect x="142.90" y="247.00" width="85.50" height="85.30" fill="#bdbdbd" filter="url(#tx12)"/>
<path d="M183.5 303.1h1v1h-1zM201.9 298.3h1v1h-1zM186.8 316.9h1v1h-1zM221.5 316.9h1v1h-1zM225.9 293.0h1v1h-1zM177.1 282.7h1v1h-1zM183.0 299.0h1v1h-1zM171.6 278.7h1v1h-1zM146.6 264.4h1v1h-1zM166.5 276.4h1v1h-1zM224.6 261.3h1v1h-1zM174.0 263.1h1v1h-1zM222.2 322.2h1v1h-1zM223.6 290.9h1v1h-1zM181.0 314.6h1v1h-1zM167.3 268.7h1v1h-1zM143.2 249.3h1v1h-1zM207.9 282.6h1v1h-1zM169.6 326.7h1v1h-1zM201.6 288.9h1v1h-1zM153.6 292.6h1v1h-1zM177.7 274.6h1v1h-1zM171.3 305.6h1v1h-1zM169.6 306.3h1v1h-1zM157.9 264.8h1v1h-1zM180.8 262.3h1v1h-1zM174.2 319.4h1v1h-1zM185.7 280.2h1v1h-1zM226.0 294.2h1v1h-1zM167.3 326.9h1v1h-1zM167.1 316.3h1v1h-1zM170.3 257.7h1v1h-1zM217.1 302.7h1v1h-1zM213.1 277.6h1v1h-1zM181.2 292.0h1v1h-1zM197.2 286.9h1v1h-1zM214.8 319.7h1v1h-1zM201.9 328.6h1v1h-1zM211.0 293.8h1v1h-1zM222.7 249.6h1v1h-1zM201.5 299.5h1v1h-1zM211.3 280.3h1v1h-1zM194.8 328.3h1v1h-1zM172.2 322.9h1v1h-1zM172.1 269.7h1v1h-1zM227.6 257.2h1v1h-1zM196.9 261.7h1v1h-1zM220.4 325.1h1v1h-1zM194.1 253.1h1v1h-1zM168.3 275.4h1v1h-1zM198.3 253.3h1v1h-1zM212.1 331.4h1v1h-1zM163.4 291.9h1v1h-1zM184.4 303.2h1v1h-1z" fill="rgb(150,150,150)" opacity="0.6"/>
<path d="M172.8 279.6h1v1h-1zM184.2 301.9h1v1h-1zM143.0 300.2h1v1h-1zM186.4 254.8h1v1h-1zM223.8 256.6h1v1h-1zM226.4 303.6h1v1h-1zM223.4 320.9h1v1h-1zM187.3 266.0h1v1h-1zM149.6 270.4h1v1h-1zM205.0 290.8h1v1h-1zM160.8 271.0h1v1h-1zM161.7 298.8h1v1h-1zM164.1 256.9h1v1h-1zM209.9 289.8h1v1h-1zM196.5 269.4h1v1h-1zM219.4 260.8h1v1h-1zM195.6 250.9h1v1h-1zM190.8 300.3h1v1h-1zM192.5 276.6h1v1h-1zM211.1 323.6h1v1h-1zM188.6 314.3h1v1h-1zM199.3 326.7h1v1h-1zM193.7 286.0h1v1h-1zM151.2 266.1h1v1h-1zM215.0 268.3h1v1h-1zM177.7 306.6h1v1h-1zM170.5 289.6h1v1h-1zM197.0 261.5h1v1h-1zM162.2 293.4h1v1h-1zM185.2 283.6h1v1h-1zM145.7 303.1h1v1h-1zM178.2 299.7h1v1h-1zM172.0 312.6h1v1h-1zM157.4 264.5h1v1h-1zM221.1 312.7h1v1h-1zM159.6 263.8h1v1h-1zM222.2 330.7h1v1h-1zM153.7 280.5h1v1h-1zM222.0 288.9h1v1h-1zM172.7 266.8h1v1h-1zM193.6 297.1h1v1h-1zM196.7 286.3h1v1h-1zM179.1 293.3h1v1h-1zM222.7 277.9h1v1h-1zM153.4 284.2h1v1h-1zM213.5 311.6h1v1h-1zM193.7 312.3h1v1h-1zM153.7 293.1h1v1h-1zM206.6 268.5h1v1h-1zM156.2 300.0h1v1h-1zM175.3 273.4h1v1h-1zM177.1 264.5h1v1h-1zM197.8 250.7h1v1h-1zM197.4 297.3h1v1h-1zM223.0 280.4h1v1h-1zM195.6 307.9h1v1h-1zM219.0 314.4h1v1h-1zM200.4 271.7h1v1h-1zM155.9 318.4h1v1h-1zM192.2 262.3h1v1h-1z" fill="rgb(130,130,130)" opacity="0.6"/>
<path d="M174.3 276.0h1v1h-1zM147.9 316.8h1v1h-1zM177.5 318.9h1v1h-1zM190.6 330.3h1v1h-1zM190.4 290.3h1v1h-1zM145.5 309.0h1v1h-1zM200.5 256.7h1v1h-1zM212.2 289.7h1v1h-1zM175.5 320.3h1v1h-1zM151.7 293.9h1v1h-1zM202.5 320.0h1v1h-1zM221.2 315.4h1v1h-1zM163.6 247.7h1v1h-1zM228.3 290.0h1v1h-1zM214.0 301.5h1v1h-1zM218.7 282.9h1v1h-1zM160.0 287.2h1v1h-1zM150.8 281.5h1v1h-1zM197.5 279.8h1v1h-1zM144.4 307.6h1v1h-1zM210.7 307.6h1v1h-1zM201.0 296.5h1v1h-1zM179.9 265.8h1v1h-1zM185.7 306.5h1v1h-1zM210.1 251.2h1v1h-1zM187.5 284.5h1v1h-1zM169.6 312.0h1v1h-1zM175.8 281.1h1v1h-1zM152.3 269.9h1v1h-1zM214.1 265.0h1v1h-1zM190.4 250.6h1v1h-1zM189.6 248.9h1v1h-1zM174.1 289.5h1v1h-1zM145.3 319.1h1v1h-1zM175.0 253.1h1v1h-1zM150.1 251.8h1v1h-1zM225.0 310.7h1v1h-1zM153.4 288.4h1v1h-1zM200.1 248.1h1v1h-1zM188.7 277.9h1v1h-1zM196.0 299.5h1v1h-1zM187.8 320.8h1v1h-1zM169.5 314.7h1v1h-1zM167.1 318.8h1v1h-1zM158.9 270.4h1v1h-1zM206.5 273.5h1v1h-1zM176.1 270.3h1v1h-1zM177.0 258.7h1v1h-1z" fill="rgb(110,110,110)" opacity="0.6"/>
<polygon points="180.10,246.00 195.80,246.00 196.20,333.30 176.20,333.30" fill="#cdcdcd"/>
</g>
<line x1="180.10" y1="247.00" x2="176.20" y2="332.30" stroke="#e0352b" stroke-width="1.4"/>
<line x1="195.80" y1="247.00" x2="196.20" y2="332.30" stroke="#e0352b" stroke-width="1.4"/>
<line x1="218.10" y1="327.80" x2="226.50" y2="327.80" stroke="#e04a40" stroke-width="1.0"/>
<line x1="218.50" y1="326.20" x2="218.50" y2="329.40" stroke="#e04a40" stroke-width="1.0"/>
<line x1="226.10" y1="326.20" x2="226.10" y2="329.40" stroke="#e04a40" stroke-width="1.0"/>
<line x1="220.60" y1="325.40" x2="224.10" y2="325.40" stroke="#e88a80" stroke-width="0.7"/>
<g clip-path="url(#cw13)">
<rect x="241.90" y="247.00" width="85.30" height="85.30" fill="#bdbdbd" filter="url(#tx13)"/>
<path d="M264.0 305.5h1v1h-1zM310.3 322.9h1v1h-1zM244.5 257.8h1v1h-1zM283.4 311.4h1v1h-1zM300.8 294.3h1v1h-1zM326.1 284.6h1v1h-1zM317.8 296.2h1v1h-1zM261.1 289.5h1v1h-1zM302.1 300.8h1v1h-1zM303.0 258.7h1v1h-1zM315.4 250.6h1v1h-1zM292.3 277.7h1v1h-1zM296.8 294.4h1v1h-1zM319.2 295.2h1v1h-1zM270.5 289.4h1v1h-1zM286.0 287.5h1v1h-1zM284.7 324.7h1v1h-1zM318.9 323.3h1v1h-1zM287.4 272.5h1v1h-1zM255.6 330.5h1v1h-1zM276.8 260.2h1v1h-1zM317.4 289.4h1v1h-1zM303.7 251.7h1v1h-1zM244.2 292.3h1v1h-1zM318.0 324.4h1v1h-1zM260.7 251.3h1v1h-1zM326.6 267.1h1v1h-1zM300.0 308.5h1v1h-1zM266.1 254.9h1v1h-1zM253.3 308.9h1v1h-1zM316.7 279.5h1v1h-1zM247.6 320.3h1v1h-1zM323.1 275.9h1v1h-1zM287.3 331.5h1v1h-1zM255.5 248.3h1v1h-1zM290.1 322.4h1v1h-1zM286.2 291.4h1v1h-1zM265.9 296.4h1v1h-1zM277.5 271.1h1v1h-1zM302.9 255.3h1v1h-1zM279.6 255.9h1v1h-1zM313.7 257.7h1v1h-1zM305.6 256.1h1v1h-1zM322.4 315.1h1v1h-1zM289.0 316.7h1v1h-1zM276.1 318.1h1v1h-1zM279.5 292.8h1v1h-1z" fill="rgb(150,150,150)" opacity="0.6"/>
<path d="M261.6 259.6h1v1h-1zM296.6 263.0h1v1h-1zM312.4 310.5h1v1h-1zM309.6 268.9h1v1h-1zM279.7 262.1h1v1h-1zM262.0 267.1h1v1h-1zM242.1 283.2h1v1h-1zM313.4 301.5h1v1h-1zM317.5 315.5h1v1h-1zM293.4 308.6h1v1h-1zM290.5 262.5h1v1h-1zM255.9 305.3h1v1h-1zM296.9 291.9h1v1h-1zM254.4 283.3h1v1h-1zM259.3 276.9h1v1h-1zM268.9 286.3h1v1h-1zM306.6 298.2h1v1h-1zM247.1 292.0h1v1h-1zM245.6 292.6h1v1h-1zM324.4 251.2h1v1h-1zM318.1 293.5h1v1h-1zM247.9 269.5h1v1h-1zM245.9 267.3h1v1h-1zM258.5 280.5h1v1h-1zM313.5 323.6h1v1h-1zM267.3 254.4h1v1h-1zM321.4 261.2h1v1h-1zM251.0 308.1h1v1h-1zM303.0 271.8h1v1h-1zM282.1 269.8h1v1h-1zM280.3 247.3h1v1h-1zM287.3 270.6h1v1h-1zM318.8 292.8h1v1h-1zM307.3 307.9h1v1h-1zM312.0 262.2h1v1h-1zM242.4 258.3h1v1h-1zM254.1 318.6h1v1h-1zM305.1 255.6h1v1h-1zM321.4 316.7h1v1h-1zM250.8 293.6h1v1h-1zM321.4 272.6h1v1h-1zM283.0 323.3h1v1h-1zM248.7 265.4h1v1h-1zM242.9 300.6h1v1h-1zM305.8 303.0h1v1h-1zM307.6 281.9h1v1h-1zM309.9 319.8h1v1h-1zM251.4 276.7h1v1h-1zM249.1 251.0h1v1h-1zM324.2 268.7h1v1h-1zM318.3 293.5h1v1h-1zM317.6 254.5h1v1h-1zM280.1 282.9h1v1h-1zM302.1 300.9h1v1h-1zM276.0 253.9h1v1h-1z" fill="rgb(110,110,110)" opacity="0.6"/>
<path d="M287.2 265.2h1v1h-1zM293.8 248.2h1v1h-1zM313.1 254.2h1v1h-1zM325.6 304.2h1v1h-1zM296.4 302.9h1v1h-1zM311.8 315.1h1v1h-1zM257.2 277.4h1v1h-1zM281.1 298.6h1v1h-1zM301.7 258.2h1v1h-1zM297.5 328.3h1v1h-1zM304.4 309.8h1v1h-1zM318.7 261.3h1v1h-1zM301.2 329.8h1v1h-1zM327.0 257.4h1v1h-1zM248.5 287.1h1v1h-1zM314.5 250.1h1v1h-1zM259.6 315.1h1v1h-1zM264.0 297.2h1v1h-1zM307.8 297.5h1v1h-1zM297.6 273.1h1v1h-1zM282.9 294.3h1v1h-1zM254.6 251.5h1v1h-1zM312.1 265.6h1v1h-1zM293.4 271.8h1v1h-1zM252.8 277.8h1v1h-1zM291.8 296.8h1v1h-1zM254.7 287.9h1v1h-1zM286.2 325.5h1v1h-1zM294.2 327.4h1v1h-1zM327.2 316.0h1v1h-1zM251.2 273.3h1v1h-1zM321.8 268.1h1v1h-1zM277.4 331.7h1v1h-1zM244.4 324.3h1v1h-1zM305.5 302.4h1v1h-1zM297.4 309.4h1v1h-1zM320.9 269.0h1v1h-1zM243.7 255.0h1v1h-1zM287.1 247.8h1v1h-1zM293.9 290.6h1v1h-1zM284.5 295.8h1v1h-1zM252.5 264.5h1v1h-1zM273.9 253.6h1v1h-1zM326.0 285.2h1v1h-1zM259.6 326.6h1v1h-1zM289.2 300.6h1v1h-1zM257.7 251.7h1v1h-1zM256.8 307.2h1v1h-1zM267.9 272.4h1v1h-1zM295.2 255.5h1v1h-1zM302.5 266.9h1v1h-1zM307.5 320.0h1v1h-1zM262.7 259.9h1v1h-1zM243.5 277.9h1v1h-1zM255.5 261.4h1v1h-1zM278.8 257.5h1v1h-1zM322.9 315.2h1v1h-1zM309.3 276.0h1v1h-1zM306.0 251.2h1v1h-1z" fill="rgb(130,130,130)" opacity="0.6"/>
<polygon points="277.50,246.00 296.80,246.00 296.40,333.30 276.60,333.30" fill="#cdcdcd"/>
</g>
<line x1="277.50" y1="247.00" x2="276.60" y2="332.30" stroke="#e0352b" stroke-width="1.4"/>
<line x1="296.80" y1="247.00" x2="296.40" y2="332.30" stroke="#e0352b" stroke-width="1.4"/>
<line x1="316.90" y1="327.80" x2="325.30" y2="327.80" stroke="#e04a40" stroke-width="1.0"/>
<line x1="317.30" y1="326.20" x2="317.30" y2="329.40" stroke="#e04a40" stroke-width="1.0"/>
<line x1="324.90" y1="326.20" x2="324.90" y2="329.40" stroke="#e04a40" stroke-width="1.0"/>
<line x1="319.40" y1="325.40" x2="322.90" y2="325.40" stroke="#e88a80" stroke-width="0.7"/>
<g clip-path="url(#cw14)">
<rect x="44.70" y="349.90" width="85.10" height="85.30" fill="#bdbdbd" filter="url(#tx14)"/>
<path d="M53.8 409.8h1v1h-1zM89.6 371.0h1v1h-1zM66.5 412.5h1v1h-1zM113.4 380.7h1v1h-1zM98.5 362.7h1v1h-1zM121.0 358.0h1v1h-1zM103.2 359.4h1v1h-1zM108.3 391.4h1v1h-1zM107.7 359.6h1v1h-1zM94.6 386.2h1v1h-1zM86.0 387.2h1v1h-1zM50.4 362.1h1v1h-1zM67.4 387.6h1v1h-1zM71.3 433.7h1v1h-1zM47.4 428.5h1v1h-1zM124.9 414.5h1v1h-1zM77.4 431.8h1v1h-1zM46.2 427.4h1v1h-1zM117.9 419.8h1v1h-1zM50.0 407.9h1v1h-1zM56.2 382.2h1v1h-1zM111.4 392.1h1v1h-1zM65.8 408.0h1v1h-1zM77.3 374.9h1v1h-1zM68.7 398.2h1v1h-1zM71.2 368.3h1v1h-1zM115.8 387.7h1v1h-1zM50.6 387.3h1v1h-1zM65.7 357.6h1v1h-1zM92.2 352.3h1v1h-1zM96.0 390.2h1v1h-1zM57.8 394.3h1v1h-1zM116.9 400.3h1v1h-1zM49.7 396.2h1v1h-1zM92.0 376.9h1v1h-1zM58.8 391.2h1v1h-1zM90.2 367.2h1v1h-1zM108.7 355.6h1v1h-1zM73.9 420.2h1v1h-1zM57.7 430.4h1v1h-1zM109.0 385.9h1v1h-1zM64.6 350.8h1v1h-1zM91.5 419.8h1v1h-1zM120.1 388.7h1v1h-1zM128.8 377.1h1v1h-1zM72.2 395.7h1v1h-1zM109.5 350.2h1v1h-1z" fill="rgb(150,150,150)" opacity="0.6"/>
<path d="M83.0 389.7h1v1h-1zM78.2 427.4h1v1h-1zM63.7 426.8h1v1h-1zM100.2 360.4h1v1h-1zM47.1 373.3h1v1h-1zM79.1 434.4h1v1h-1zM86.0 373.9h1v1h-1zM59.0 382.9h1v1h-1zM115.1 371.8h1v1h-1zM64.8 423.7h1v1h-1zM74.3 398.5h1v1h-1zM48.3 397.7h1v1h-1zM87.8 394.4h1v1h-1zM110.6 350.1h1v1h-1zM62.4 407.9h1v1h-1zM69.5 414.9h1v1h-1zM99.6 366.7h1v1h-1zM91.8 427.5h1v1h-1zM99.4 386.5h1v1h-1zM66.6 381.3h1v1h-1zM93.9 389.9h1v1h-1zM72.2 356.4h1v1h-1zM57.5 425.3h1v1h-1zM46.4 356.8h1v1h-1zM106.4 350.6h1v1h-1zM121.4 422.9h1v1h-1zM77.4 401.2h1v1h-1zM102.6 432.5h1v1h-1zM127.4 416.6h1v1h-1zM118.0 390.5h1v1h-1zM113.8 401.4h1v1h-1zM104.6 365.6h1v1h-1zM74.3 392.4h1v1h-1zM48.9 401.9h1v1h-1zM56.0 423.0h1v1h-1zM70.8 381.0h1v1h-1zM119.2 369.4h1v1h-1zM117.3 397.3h1v1h-1zM73.2 394.4h1v1h-1zM54.1 353.3h1v1h-1zM124.1 373.9h1v1h-1zM54.2 416.0h1v1h-1zM90.5 414.0h1v1h-1zM61.3 356.8h1v1h-1zM121.4 359.0h1v1h-1zM50.2 406.7h1v1h-1zM55.1 393.0h1v1h-1zM119.6 425.1h1v1h-1zM104.0 405.7h1v1h-1zM87.4 430.6h1v1h-1zM110.0 413.5h1v1h-1zM87.6 427.5h1v1h-1zM123.2 392.0h1v1h-1zM47.1 432.8h1v1h-1zM58.4 366.0h1v1h-1zM82.5 429.8h1v1h-1zM64.8 409.9h1v1h-1zM109.9 413.0h1v1h-1zM125.6 418.4h1v1h-1z" fill="rgb(130,130,130)" opacity="0.6"/>
<path d="M101.3 373.4h1v1h-1zM98.9 381.0h1v1h-1zM61.2 388.5h1v1h-1zM53.4 419.7h1v1h-1zM68.4 360.0h1v1h-1zM79.2 434.1h1v1h-1zM67.1 375.7h1v1h-1zM52.8 358.2h1v1h-1zM128.9 359.6h1v1h-1zM119.0 372.5h1v1h-1zM122.6 402.2h1v1h-1zM52.3 418.7h1v1h-1zM61.8 408.9h1v1h-1zM62.7 391.4h1v1h-1zM91.1 382.4h1v1h-1zM80.3 387.8h1v1h-1zM57.2 411.8h1v1h-1zM100.6 397.4h1v1h-1zM90.9 358.2h1v1h-1zM81.0 433.5h1v1h-1zM115.2 429.3h1v1h-1zM44.7 407.6h1v1h-1zM87.9 396.7h1v1h-1zM124.4 352.4h1v1h-1zM114.0 433.0h1v1h-1zM115.1 366.5h1v1h-1zM110.6 386.1h1v1h-1zM121.2 355.7h1v1h-1zM83.9 367.2h1v1h-1zM85.2 375.9h1v1h-1zM76.1 431.7h1v1h-1zM55.9 435.1h1v1h-1zM87.9 355.6h1v1h-1zM113.8 365.0h1v1h-1zM59.3 366.9h1v1h-1zM54.4 422.4h1v1h-1zM128.8 401.4h1v1h-1zM104.7 396.4h1v1h-1zM118.2 403.3h1v1h-1zM51.6 413.5h1v1h-1zM118.9 399.5h1v1h-1zM111.0 403.9h1v1h-1zM90.3 377.0h1v1h-1zM53.6 393.5h1v1h-1zM122.7 386.2h1v1h-1zM65.5 375.2h1v1h-1zM65.4 403.9h1v1h-1zM56.9 383.4h1v1h-1zM102.0 415.8h1v1h-1zM121.2 397.6h1v1h-1zM73.1 361.4h1v1h-1zM113.6 419.6h1v1h-1zM106.9 372.1h1v1h-1zM45.9 379.2h1v1h-1zM52.7 401.3h1v1h-1z" fill="rgb(110,110,110)" opacity="0.6"/>
<polygon points="81.40,348.90 92.40,348.90 93.30,436.20 81.40,436.20" fill="#cdcdcd"/>
</g>
<line x1="81.40" y1="352.00" x2="81.40" y2="435.20" stroke="#e0352b" stroke-width="1.4"/>
<line x1="92.40" y1="352.00" x2="93.30" y2="435.20" stroke="#e0352b" stroke-width="1.4"/>
<line x1="119.50" y1="430.70" x2="127.90" y2="430.70" stroke="#e04a40" stroke-width="1.0"/>
<line x1="119.90" y1="429.10" x2="119.90" y2="432.30" stroke="#e04a40" stroke-width="1.0"/>
<line x1="127.50" y1="429.10" x2="127.50" y2="432.30" stroke="#e04a40" stroke-width="1.0"/>
<line x1="122.00" y1="428.30" x2="125.50" y2="428.30" stroke="#e88a80" stroke-width="0.7"/>
<g clip-path="url(#cw15)">
<rect x="142.90" y="349.90" width="85.50" height="85.50" fill="#bdbdbd" filter="url(#tx15)"/>
<path d="M225.4 350.9h1v1h-1zM144.3 425.1h1v1h-1zM163.4 378.8h1v1h-1zM211.1 369.0h1v1h-1zM191.2 380.7h1v1h-1zM159.6 395.6h1v1h-1zM223.1 408.9h1v1h-1zM176.7 356.2h1v1h-1zM221.8 369.8h1v1h-1zM169.4 364.0h1v1h-1zM191.6 389.4h1v1h-1zM181.3 411.5h1v1h-1zM172.6 402.8h1v1h-1zM168.7 388.0h1v1h-1zM155.2 371.2h1v1h-1zM171.2 428.0h1v1h-1zM222.0 423.0h1v1h-1zM191.8 360.3h1v1h-1zM199.0 399.4h1v1h-1zM162.9 397.5h1v1h-1zM196.7 435.0h1v1h-1zM182.8 363.3h1v1h-1zM216.9 434.3h1v1h-1zM148.1 428.2h1v1h-1zM198.1 367.4h1v1h-1zM174.4 369.2h1v1h-1zM217.9 381.7h1v1h-1zM181.5 384.5h1v1h-1zM171.6 425.7h1v1h-1zM220.8 378.1h1v1h-1zM215.4 364.4h1v1h-1zM186.2 406.2h1v1h-1zM220.0 360.2h1v1h-1zM201.8 373.0h1v1h-1zM198.4 407.7h1v1h-1zM209.1 392.3h1v1h-1zM156.7 394.3h1v1h-1zM161.3 429.5h1v1h-1zM194.6 404.2h1v1h-1zM171.0 359.5h1v1h-1zM187.4 400.4h1v1h-1zM218.8 421.8h1v1h-1zM162.4 409.5h1v1h-1zM148.2 357.5h1v1h-1zM210.7 368.6h1v1h-1zM224.7 376.9h1v1h-1zM167.0 356.1h1v1h-1zM175.4 429.2h1v1h-1zM201.3 370.4h1v1h-1zM168.1 431.1h1v1h-1zM179.3 391.0h1v1h-1zM210.2 354.6h1v1h-1zM182.3 435.2h1v1h-1zM177.6 381.2h1v1h-1zM175.3 362.2h1v1h-1zM201.8 386.0h1v1h-1zM178.5 398.5h1v1h-1z" fill="rgb(150,150,150)" opacity="0.6"/>
<path d="M146.0 428.0h1v1h-1zM177.5 423.7h1v1h-1zM184.8 430.7h1v1h-1zM144.4 395.2h1v1h-1zM218.7 358.4h1v1h-1zM224.0 380.2h1v1h-1zM148.4 388.4h1v1h-1zM146.6 355.2h1v1h-1zM195.6 427.6h1v1h-1zM193.1 392.0h1v1h-1zM216.5 412.2h1v1h-1zM171.5 426.3h1v1h-1zM143.3 416.8h1v1h-1zM203.5 389.4h1v1h-1zM154.0 373.2h1v1h-1zM192.8 368.1h1v1h-1zM188.7 425.5h1v1h-1zM170.4 402.4h1v1h-1zM221.5 389.9h1v1h-1zM226.4 371.0h1v1h-1zM157.4 407.1h1v1h-1zM195.2 389.2h1v1h-1zM177.5 404.2h1v1h-1zM191.7 394.3h1v1h-1zM199.3 370.5h1v1h-1zM184.1 394.2h1v1h-1zM212.2 424.2h1v1h-1zM175.2 406.7h1v1h-1zM205.8 398.7h1v1h-1zM226.9 422.8h1v1h-1zM146.5 415.5h1v1h-1zM221.6 387.2h1v1h-1zM220.4 435.3h1v1h-1zM218.4 432.6h1v1h-1zM180.5 352.4h1v1h-1zM161.8 362.2h1v1h-1zM186.2 383.2h1v1h-1zM199.0 392.3h1v1h-1zM152.2 373.1h1v1h-1zM195.9 364.4h1v1h-1zM184.1 409.4h1v1h-1zM187.0 427.0h1v1h-1zM171.4 401.5h1v1h-1zM220.3 370.4h1v1h-1z" fill="rgb(110,110,110)" opacity="0.6"/>
<path d="M155.5 409.3h1v1h-1zM173.3 383.4h1v1h-1zM162.4 423.2h1v1h-1zM186.6 369.7h1v1h-1zM214.8 391.8h1v1h-1zM169.8 409.2h1v1h-1zM214.8 397.4h1v1h-1zM170.1 427.3h1v1h-1zM217.3 416.7h1v1h-1zM183.5 359.8h1v1h-1zM176.2 351.2h1v1h-1zM222.2 413.3h1v1h-1zM223.7 363.4h1v1h-1zM191.2 424.5h1v1h-1zM150.2 350.7h1v1h-1zM207.3 421.3h1v1h-1zM213.2 418.4h1v1h-1zM144.2 407.1h1v1h-1zM194.6 409.9h1v1h-1zM227.3 411.8h1v1h-1zM171.6 376.8h1v1h-1zM206.0 396.7h1v1h-1zM195.7 377.4h1v1h-1zM201.5 428.5h1v1h-1zM225.2 352.3h1v1h-1zM148.9 425.3h1v1h-1zM155.4 364.7h1v1h-1zM179.9 386.1h1v1h-1zM210.3 383.3h1v1h-1zM157.1 431.4h1v1h-1zM177.0 378.2h1v1h-1zM164.6 429.7h1v1h-1zM165.1 374.7h1v1h-1zM198.9 417.6h1v1h-1zM226.7 368.8h1v1h-1zM212.5 409.8h1v1h-1zM170.4 382.5h1v1h-1zM158.2 395.2h1v1h-1zM164.8 370.3h1v1h-1zM214.9 391.4h1v1h-1zM146.2 422.4h1v1h-1zM220.7 377.5h1v1h-1zM199.0 429.5h1v1h-1zM207.1 428.6h1v1h-1zM176.1 401.5h1v1h-1zM173.6 366.7h1v1h-1zM147.5 394.6h1v1h-1zM193.0 417.7h1v1h-1zM225.7 428.9h1v1h-1zM208.6 396.6h1v1h-1zM222.5 423.2h1v1h-1zM187.2 350.9h1v1h-1zM180.9 414.2h1v1h-1zM214.2 354.4h1v1h-1zM223.5 358.6h1v1h-1zM228.3 425.2h1v1h-1zM157.4 422.8h1v1h-1zM227.0 383.9h1v1h-1zM151.0 368.5h1v1h-1zM160.8 356.4h1v1h-1zM161.6 420.6h1v1h-1z" fill="rgb(130,130,130)" opacity="0.6"/>
<polygon points="177.50,348.90 191.50,348.90 193.00,436.40 177.50,436.40" fill="#cdcdcd"/>
</g>
<line x1="177.50" y1="352.20" x2="177.50" y2="435.40" stroke="#e0352b" stroke-width="1.4"/>
<line x1="191.50" y1="352.20" x2="193.00" y2="435.40" stroke="#e0352b" stroke-width="1.4"/>
<line x1="218.10" y1="430.90" x2="226.50" y2="430.90" stroke="#e04a40" stroke-width="1.0"/>
<line x1="218.50" y1="429.30" x2="218.50" y2="432.50" stroke="#e04a40" stroke-width="1.0"/>
<line x1="226.10" y1="429.30" x2="226.10" y2="432.50" stroke="#e04a40" stroke-width="1.0"/>
<line x1="220.60" y1="428.50" x2="224.10" y2="428.50" stroke="#e88a80" stroke-width="0.7"/>
<g clip-path="url(#cw16)">
<rect x="241.90" y="349.90" width="85.30" height="85.50" fill="#bdbdbd" filter="url(#tx16)"/>
<path d="M272.7 391.0h1v1h-1zM242.8 375.7h1v1h-1zM298.8 352.2h1v1h-1zM308.7 380.8h1v1h-1zM309.1 379.6h1v1h-1zM273.7 391.8h1v1h-1zM280.6 402.3h1v1h-1zM261.7 384.6h1v1h-1zM300.5 430.3h1v1h-1zM255.0 404.5h1v1h-1zM296.6 372.8h1v1h-1zM263.7 432.6h1v1h-1zM250.7 368.4h1v1h-1zM295.9 374.2h1v1h-1zM252.6 361.1h1v1h-1zM315.3 367.7h1v1h-1zM284.5 395.6h1v1h-1zM268.6 389.4h1v1h-1zM304.0 354.4h1v1h-1zM287.2 358.4h1v1h-1zM295.7 368.9h1v1h-1zM293.7 367.3h1v1h-1zM324.7 390.2h1v1h-1zM300.1 384.4h1v1h-1zM272.1 387.6h1v1h-1zM254.4 370.1h1v1h-1zM294.3 400.1h1v1h-1zM280.0 401.0h1v1h-1zM294.5 375.4h1v1h-1zM326.5 398.2h1v1h-1zM243.8 359.7h1v1h-1zM265.2 423.9h1v1h-1zM323.6 432.9h1v1h-1zM269.0 364.4h1v1h-1zM286.6 395.5h1v1h-1zM251.0 392.5h1v1h-1zM269.9 400.9h1v1h-1zM321.1 402.0h1v1h-1zM277.1 409.7h1v1h-1zM317.4 378.7h1v1h-1zM309.1 383.8h1v1h-1zM256.4 368.6h1v1h-1zM313.3 370.8h1v1h-1zM294.4 430.9h1v1h-1zM265.3 389.3h1v1h-1zM304.6 376.6h1v1h-1zM265.9 410.5h1v1h-1zM272.0 406.8h1v1h-1z" fill="rgb(130,130,130)" opacity="0.6"/>
<path d="M261.2 350.4h1v1h-1zM298.8 431.3h1v1h-1zM268.4 417.4h1v1h-1zM263.5 426.3h1v1h-1zM286.0 364.6h1v1h-1zM312.9 417.5h1v1h-1zM297.7 432.7h1v1h-1zM244.7 353.6h1v1h-1zM276.0 377.2h1v1h-1zM298.9 419.5h1v1h-1zM269.2 410.4h1v1h-1zM252.3 350.7h1v1h-1zM245.9 422.0h1v1h-1zM245.2 389.6h1v1h-1zM244.5 366.8h1v1h-1zM314.1 391.6h1v1h-1zM306.0 417.2h1v1h-1zM283.7 356.7h1v1h-1zM326.4 359.1h1v1h-1zM318.9 351.9h1v1h-1zM246.8 406.9h1v1h-1zM300.9 368.9h1v1h-1zM309.2 403.6h1v1h-1zM298.4 404.5h1v1h-1zM294.4 418.2h1v1h-1zM271.7 411.0h1v1h-1zM243.8 429.5h1v1h-1zM266.4 405.8h1v1h-1zM321.2 408.8h1v1h-1zM292.5 385.2h1v1h-1zM298.9 379.1h1v1h-1zM326.7 379.7h1v1h-1zM315.9 404.4h1v1h-1zM318.4 349.9h1v1h-1zM317.3 366.6h1v1h-1zM267.0 407.0h1v1h-1zM251.9 420.2h1v1h-1zM242.0 360.6h1v1h-1zM289.9 418.8h1v1h-1zM297.6 409.5h1v1h-1zM268.8 427.1h1v1h-1zM264.1 376.1h1v1h-1zM276.8 415.7h1v1h-1zM255.3 367.2h1v1h-1zM243.8 425.5h1v1h-1zM320.8 414.8h1v1h-1zM271.8 387.4h1v1h-1zM276.6 385.0h1v1h-1zM277.8 404.0h1v1h-1zM270.4 374.8h1v1h-1zM311.8 367.4h1v1h-1zM260.1 424.5h1v1h-1zM308.5 370.2h1v1h-1zM294.2 426.3h1v1h-1z" fill="rgb(150,150,150)" opacity="0.6"/>
<path d="M302.5 370.2h1v1h-1zM293.0 410.1h1v1h-1zM266.9 353.7h1v1h-1zM267.9 389.3h1v1h-1zM255.9 391.1h1v1h-1zM279.9 423.8h1v1h-1zM320.3 390.5h1v1h-1zM297.8 419.8h1v1h-1zM262.3 399.7h1v1h-1zM286.7 428.5h1v1h-1zM281.7 372.1h1v1h-1zM278.9 421.8h1v1h-1zM278.8 369.1h1v1h-1zM272.8 392.3h1v1h-1zM267.1 360.5h1v1h-1zM259.7 387.7h1v1h-1zM276.2 383.3h1v1h-1zM258.2 367.8h1v1h-1zM322.4 372.8h1v1h-1zM303.2 364.7h1v1h-1zM323.2 363.2h1v1h-1zM251.9 431.0h1v1h-1zM271.3 398.4h1v1h-1zM257.4 357.6h1v1h-1zM317.3 399.0h1v1h-1zM299.9 416.6h1v1h-1zM277.5 414.3h1v1h-1zM252.4 382.7h1v1h-1zM243.3 366.4h1v1h-1zM260.0 382.7h1v1h-1zM256.1 354.7h1v1h-1zM280.1 429.5h1v1h-1zM277.0 421.9h1v1h-1zM248.9 408.9h1v1h-1zM313.1 368.6h1v1h-1zM282.4 350.3h1v1h-1zM316.4 418.2h1v1h-1zM324.8 372.7h1v1h-1zM292.0 381.1h1v1h-1zM241.9 351.6h1v1h-1zM313.9 421.9h1v1h-1zM263.6 385.8h1v1h-1zM255.5 406.6h1v1h-1zM274.9 431.5h1v1h-1zM254.5 405.0h1v1h-1zM263.2 352.0h1v1h-1zM249.5 362.0h1v1h-1zM287.3 351.5h1v1h-1zM326.0 392.4h1v1h-1zM242.7 429.8h1v1h-1zM296.8 404.4h1v1h-1zM319.9 406.4h1v1h-1zM292.0 426.3h1v1h-1zM312.5 360.2h1v1h-1zM284.4 375.5h1v1h-1zM315.6 383.9h1v1h-1zM304.3 432.8h1v1h-1zM312.2 382.6h1v1h-1zM273.2 393.7h1v1h-1zM325.5 419.1h1v1h-1z" fill="rgb(110,110,110)" opacity="0.6"/>
<polygon points="281.00,348.90 295.20,348.90 296.60,436.40 277.50,436.40" fill="#cdcdcd"/>
</g>
<line x1="281.00" y1="352.00" x2="277.50" y2="435.40" stroke="#e0352b" stroke-width="1.4"/>
<line x1="295.20" y1="349.90" x2="296.60" y2="435.40" stroke="#e0352b" stroke-width="1.4"/>
<line x1="316.90" y1="430.90" x2="325.30" y2="430.90" stroke="#e04a40" stroke-width="1.0"/>
<line x1="317.30" y1="429.30" x2="317.30" y2="432.50" stroke="#e04a40" stroke-width="1.0"/>
<line x1="324.90" y1="429.30" x2="324.90" y2="432.50" stroke="#e04a40" stroke-width="1.0"/>
<line x1="319.40" y1="428.50" x2="322.90" y2="428.50" stroke="#e88a80" stroke-width="0.7"/>
<text x="86.00" y="241.00" font-family='"Liberation Sans", sans-serif' font-size="10.2" font-weight="normal" fill="#000" text-anchor="middle">NC</text>
<text x="185.80" y="241.00" font-family='"Liberation Sans", sans-serif' font-size="10.2" font-weight="normal" fill="#000" text-anchor="middle">Si-1</text>
<text x="284.30" y="241.00" font-family='"Liberation Sans", sans-serif' font-size="10.2" font-weight="normal" fill="#000" text-anchor="middle">Si-2</text>
<text x="23.20" y="293.90" font-family='"Liberation Serif", serif' font-size="13.9" font-weight="normal" fill="#2a1212" text-anchor="start">0h</text>
<text x="17.30" y="396.70" font-family='"Liberation Serif", serif' font-size="14.0" font-weight="normal" fill="#2a1212" text-anchor="start">36h</text>
<text x="13.80" y="333.50" font-family='"Liberation Serif", serif' font-size="13.9" font-weight="bold" fill="#2a1212" text-anchor="middle" transform="rotate(-90 13.80 333.50)" stroke="#2a1212" stroke-width="0.35">Wound healing</text>
<g clip-path="url(#cw21)">
<rect x="46.30" y="491.00" width="82.40" height="82.40" fill="#bdbdbd" filter="url(#tx21)"/>
<path d="M59.9 547.8h1v1h-1zM112.9 533.2h1v1h-1zM103.5 527.0h1v1h-1zM110.6 508.2h1v1h-1zM108.5 553.9h1v1h-1zM127.8 496.8h1v1h-1zM74.4 503.0h1v1h-1zM46.5 496.8h1v1h-1zM107.9 509.3h1v1h-1zM115.0 518.4h1v1h-1zM77.2 547.3h1v1h-1zM79.8 572.5h1v1h-1zM50.4 502.5h1v1h-1zM111.8 563.6h1v1h-1zM79.0 564.2h1v1h-1zM96.1 532.6h1v1h-1zM109.2 505.4h1v1h-1zM65.5 570.4h1v1h-1zM124.4 499.1h1v1h-1zM126.0 516.6h1v1h-1zM87.9 569.0h1v1h-1zM99.4 527.5h1v1h-1zM49.8 513.7h1v1h-1zM86.4 543.1h1v1h-1zM110.5 542.6h1v1h-1zM101.3 561.8h1v1h-1zM121.8 522.8h1v1h-1zM77.8 534.2h1v1h-1zM62.9 563.2h1v1h-1zM63.3 518.6h1v1h-1zM124.2 570.7h1v1h-1zM88.1 510.6h1v1h-1zM84.8 527.0h1v1h-1zM101.2 546.2h1v1h-1zM113.1 568.0h1v1h-1zM76.6 497.2h1v1h-1zM49.5 541.1h1v1h-1zM83.4 572.6h1v1h-1zM64.8 557.1h1v1h-1zM120.4 552.5h1v1h-1zM61.8 495.9h1v1h-1zM75.3 504.4h1v1h-1zM87.1 547.1h1v1h-1zM62.7 506.9h1v1h-1zM96.3 543.2h1v1h-1zM112.8 565.7h1v1h-1zM50.9 547.1h1v1h-1zM96.3 553.3h1v1h-1zM108.0 506.0h1v1h-1zM121.3 510.8h1v1h-1z" fill="rgb(150,150,150)" opacity="0.6"/>
<path d="M69.5 560.5h1v1h-1zM109.8 524.5h1v1h-1zM49.1 518.1h1v1h-1zM103.5 544.5h1v1h-1zM56.6 567.5h1v1h-1zM59.6 551.0h1v1h-1zM80.1 521.1h1v1h-1zM87.6 517.2h1v1h-1zM59.4 550.0h1v1h-1zM61.2 505.0h1v1h-1zM51.7 558.0h1v1h-1zM95.0 563.8h1v1h-1zM59.7 496.7h1v1h-1zM110.1 530.8h1v1h-1zM50.6 512.3h1v1h-1zM49.2 511.5h1v1h-1zM127.3 552.5h1v1h-1zM124.8 565.1h1v1h-1zM110.0 530.9h1v1h-1zM71.7 535.0h1v1h-1zM57.8 550.4h1v1h-1zM116.5 539.1h1v1h-1zM52.2 500.8h1v1h-1zM56.7 535.4h1v1h-1zM60.0 506.2h1v1h-1zM78.2 562.2h1v1h-1zM72.1 494.5h1v1h-1zM59.2 550.8h1v1h-1zM113.7 557.2h1v1h-1zM51.2 540.0h1v1h-1zM75.6 517.2h1v1h-1zM97.9 557.6h1v1h-1zM64.9 495.0h1v1h-1zM113.6 550.6h1v1h-1zM112.0 523.9h1v1h-1zM53.3 530.5h1v1h-1zM113.9 512.6h1v1h-1zM127.8 491.5h1v1h-1zM89.3 542.1h1v1h-1zM127.9 504.7h1v1h-1zM124.7 517.5h1v1h-1zM69.2 522.2h1v1h-1zM126.7 508.7h1v1h-1zM83.7 564.7h1v1h-1zM60.0 538.0h1v1h-1zM100.6 497.0h1v1h-1zM96.3 542.1h1v1h-1zM68.5 520.1h1v1h-1zM102.2 506.6h1v1h-1zM123.0 535.4h1v1h-1zM63.9 494.3h1v1h-1zM60.6 549.5h1v1h-1zM85.7 562.2h1v1h-1zM126.2 523.1h1v1h-1zM121.5 505.3h1v1h-1zM128.5 536.7h1v1h-1zM107.3 563.7h1v1h-1zM61.0 535.5h1v1h-1z" fill="rgb(130,130,130)" opacity="0.6"/>
<path d="M89.8 556.0h1v1h-1zM76.9 539.2h1v1h-1zM58.2 552.9h1v1h-1zM48.2 552.1h1v1h-1zM86.2 506.4h1v1h-1zM85.0 558.6h1v1h-1zM85.5 559.1h1v1h-1zM78.2 493.2h1v1h-1zM72.6 571.8h1v1h-1zM122.9 511.3h1v1h-1zM89.1 545.2h1v1h-1zM88.0 546.0h1v1h-1zM52.0 518.9h1v1h-1zM89.6 551.0h1v1h-1zM102.8 569.6h1v1h-1zM68.1 517.9h1v1h-1zM102.6 552.9h1v1h-1zM57.3 498.8h1v1h-1zM61.7 543.9h1v1h-1zM62.9 552.3h1v1h-1zM110.1 556.2h1v1h-1zM97.8 553.4h1v1h-1zM51.6 558.1h1v1h-1zM55.2 497.3h1v1h-1zM88.6 563.2h1v1h-1zM77.0 540.8h1v1h-1zM58.3 536.6h1v1h-1zM107.5 529.1h1v1h-1zM94.2 506.6h1v1h-1zM78.0 513.4h1v1h-1zM58.5 571.2h1v1h-1zM89.9 495.1h1v1h-1zM80.7 563.7h1v1h-1zM122.5 563.8h1v1h-1zM102.3 546.7h1v1h-1zM99.0 491.8h1v1h-1zM101.4 506.4h1v1h-1zM79.2 493.7h1v1h-1zM81.2 517.7h1v1h-1zM120.7 534.9h1v1h-1zM123.5 556.4h1v1h-1zM87.5 525.0h1v1h-1z" fill="rgb(110,110,110)" opacity="0.6"/>
<polygon points="79.40,490.00 97.40,490.00 99.40,574.40 79.80,574.40" fill="#cdcdcd"/>
</g>
<line x1="79.40" y1="491.00" x2="79.80" y2="573.40" stroke="#e0352b" stroke-width="1.4"/>
<line x1="97.40" y1="491.00" x2="99.40" y2="573.40" stroke="#e0352b" stroke-width="1.4"/>
<line x1="118.40" y1="568.90" x2="126.80" y2="568.90" stroke="#e04a40" stroke-width="1.0"/>
<line x1="118.80" y1="567.30" x2="118.80" y2="570.50" stroke="#e04a40" stroke-width="1.0"/>
<line x1="126.40" y1="567.30" x2="126.40" y2="570.50" stroke="#e04a40" stroke-width="1.0"/>
<line x1="120.90" y1="566.50" x2="124.40" y2="566.50" stroke="#e88a80" stroke-width="0.7"/>
<g clip-path="url(#cw22)">
<rect x="146.80" y="491.20" width="82.30" height="82.30" fill="#bdbdbd" filter="url(#tx22)"/>
<path d="M225.7 502.8h1v1h-1zM222.8 549.5h1v1h-1zM172.4 506.8h1v1h-1zM201.7 506.4h1v1h-1zM219.4 523.9h1v1h-1zM220.8 526.4h1v1h-1zM211.1 496.0h1v1h-1zM188.9 524.2h1v1h-1zM184.6 507.1h1v1h-1zM207.6 545.2h1v1h-1zM151.1 525.0h1v1h-1zM222.6 529.1h1v1h-1zM168.1 501.0h1v1h-1zM182.6 513.3h1v1h-1zM186.9 496.8h1v1h-1zM197.7 524.3h1v1h-1zM207.3 567.3h1v1h-1zM205.9 529.4h1v1h-1zM220.0 500.5h1v1h-1zM223.4 537.8h1v1h-1zM220.0 544.4h1v1h-1zM150.3 531.3h1v1h-1zM169.6 554.5h1v1h-1zM166.0 535.2h1v1h-1zM187.6 532.3h1v1h-1zM175.1 563.3h1v1h-1zM178.6 545.2h1v1h-1zM176.6 569.6h1v1h-1zM190.2 554.4h1v1h-1zM156.1 532.9h1v1h-1zM213.2 559.1h1v1h-1zM147.1 511.2h1v1h-1zM223.0 515.8h1v1h-1zM214.7 566.8h1v1h-1zM158.3 524.4h1v1h-1zM189.1 509.1h1v1h-1zM158.2 495.2h1v1h-1zM147.6 498.0h1v1h-1zM216.2 553.2h1v1h-1zM168.8 501.5h1v1h-1zM195.0 516.2h1v1h-1zM210.8 508.3h1v1h-1zM170.8 495.0h1v1h-1zM212.5 521.9h1v1h-1zM177.6 570.6h1v1h-1zM207.8 492.2h1v1h-1zM183.1 557.8h1v1h-1zM204.2 538.7h1v1h-1zM151.0 501.3h1v1h-1zM223.0 533.3h1v1h-1zM203.6 535.5h1v1h-1zM183.3 558.2h1v1h-1zM184.0 522.9h1v1h-1zM214.0 517.2h1v1h-1zM184.2 504.8h1v1h-1zM207.1 521.4h1v1h-1zM192.7 571.4h1v1h-1zM162.3 523.3h1v1h-1z" fill="rgb(110,110,110)" opacity="0.6"/>
<path d="M197.3 528.0h1v1h-1zM225.8 517.5h1v1h-1zM161.5 536.6h1v1h-1zM194.8 568.4h1v1h-1zM220.9 562.9h1v1h-1zM222.9 532.9h1v1h-1zM172.1 522.0h1v1h-1zM148.9 538.6h1v1h-1zM191.5 526.9h1v1h-1zM149.8 535.3h1v1h-1zM187.8 534.3h1v1h-1zM186.0 496.6h1v1h-1zM175.9 555.7h1v1h-1zM154.8 543.0h1v1h-1zM153.1 506.9h1v1h-1zM150.0 522.3h1v1h-1zM199.1 495.2h1v1h-1zM198.8 572.3h1v1h-1zM176.0 512.5h1v1h-1zM147.5 522.5h1v1h-1zM155.6 560.8h1v1h-1zM192.2 521.0h1v1h-1zM168.5 512.5h1v1h-1zM159.9 560.2h1v1h-1zM174.6 495.7h1v1h-1zM226.6 503.8h1v1h-1zM194.1 534.5h1v1h-1zM174.2 571.1h1v1h-1zM151.1 510.5h1v1h-1zM214.5 553.0h1v1h-1zM203.3 557.7h1v1h-1zM183.0 508.4h1v1h-1zM164.7 530.1h1v1h-1zM207.6 528.2h1v1h-1zM165.4 534.8h1v1h-1zM200.4 500.1h1v1h-1zM157.5 521.9h1v1h-1zM186.6 504.7h1v1h-1zM156.8 505.2h1v1h-1zM216.5 552.4h1v1h-1zM168.5 538.1h1v1h-1zM178.8 515.0h1v1h-1zM209.1 556.5h1v1h-1z" fill="rgb(150,150,150)" opacity="0.6"/>
<path d="M156.7 544.8h1v1h-1zM212.0 497.8h1v1h-1zM194.3 493.0h1v1h-1zM151.8 518.1h1v1h-1zM168.1 569.9h1v1h-1zM189.2 514.2h1v1h-1zM175.0 565.4h1v1h-1zM228.8 520.5h1v1h-1zM191.8 519.9h1v1h-1zM221.7 543.0h1v1h-1zM170.2 547.5h1v1h-1zM188.0 543.4h1v1h-1zM156.5 509.0h1v1h-1zM169.5 499.2h1v1h-1zM149.5 507.9h1v1h-1zM149.3 504.2h1v1h-1zM226.9 506.9h1v1h-1zM205.0 498.3h1v1h-1zM193.7 567.0h1v1h-1zM188.3 568.4h1v1h-1zM200.5 517.6h1v1h-1zM223.9 500.5h1v1h-1zM186.0 525.3h1v1h-1zM191.3 563.5h1v1h-1zM221.2 529.4h1v1h-1zM214.3 500.5h1v1h-1zM173.7 504.9h1v1h-1zM152.5 519.2h1v1h-1zM157.7 546.1h1v1h-1zM182.5 535.5h1v1h-1zM195.1 507.5h1v1h-1zM161.2 524.6h1v1h-1zM192.6 558.9h1v1h-1zM197.1 511.1h1v1h-1zM194.6 509.9h1v1h-1zM150.6 541.0h1v1h-1zM188.7 566.7h1v1h-1zM160.0 499.4h1v1h-1zM153.7 532.5h1v1h-1zM203.3 535.5h1v1h-1zM147.6 534.8h1v1h-1zM198.3 518.8h1v1h-1zM209.9 499.0h1v1h-1zM192.9 503.3h1v1h-1zM176.5 493.5h1v1h-1zM193.1 565.6h1v1h-1zM229.1 500.2h1v1h-1zM228.5 507.1h1v1h-1zM169.9 541.2h1v1h-1z" fill="rgb(130,130,130)" opacity="0.6"/>
<polygon points="182.00,490.20 199.10,490.20 198.30,574.50 181.60,574.50" fill="#cdcdcd"/>
</g>
<line x1="182.00" y1="491.20" x2="181.60" y2="573.50" stroke="#e0352b" stroke-width="1.4"/>
<line x1="199.10" y1="491.20" x2="198.30" y2="573.50" stroke="#e0352b" stroke-width="1.4"/>
<line x1="218.80" y1="569.00" x2="227.20" y2="569.00" stroke="#e04a40" stroke-width="1.0"/>
<line x1="219.20" y1="567.40" x2="219.20" y2="570.60" stroke="#e04a40" stroke-width="1.0"/>
<line x1="226.80" y1="567.40" x2="226.80" y2="570.60" stroke="#e04a40" stroke-width="1.0"/>
<line x1="221.30" y1="566.60" x2="224.80" y2="566.60" stroke="#e88a80" stroke-width="0.7"/>
<g clip-path="url(#cw23)">
<rect x="247.20" y="491.20" width="82.50" height="82.30" fill="#bdbdbd" filter="url(#tx23)"/>
<path d="M323.5 569.3h1v1h-1zM290.9 501.9h1v1h-1zM284.7 493.2h1v1h-1zM328.2 532.2h1v1h-1zM310.8 508.1h1v1h-1zM300.2 506.2h1v1h-1zM263.3 500.6h1v1h-1zM270.3 539.8h1v1h-1zM321.0 528.6h1v1h-1zM268.5 500.0h1v1h-1zM305.5 559.4h1v1h-1zM296.1 569.0h1v1h-1zM281.5 493.1h1v1h-1zM325.6 509.0h1v1h-1zM255.5 504.8h1v1h-1zM267.7 569.5h1v1h-1zM275.1 547.9h1v1h-1zM247.5 522.2h1v1h-1zM271.8 565.2h1v1h-1zM265.1 512.9h1v1h-1zM247.8 494.2h1v1h-1zM285.9 524.7h1v1h-1zM269.9 521.0h1v1h-1zM298.5 555.4h1v1h-1zM322.7 545.1h1v1h-1zM312.8 495.1h1v1h-1zM249.6 520.0h1v1h-1zM329.0 553.5h1v1h-1zM301.9 535.0h1v1h-1zM250.1 515.6h1v1h-1zM299.3 558.2h1v1h-1zM306.5 503.0h1v1h-1zM292.0 501.2h1v1h-1zM313.1 500.9h1v1h-1zM271.6 570.4h1v1h-1zM259.8 547.9h1v1h-1zM253.7 497.9h1v1h-1zM314.9 505.7h1v1h-1zM287.5 551.8h1v1h-1zM309.8 525.9h1v1h-1zM299.7 502.7h1v1h-1zM293.2 571.5h1v1h-1zM270.8 550.3h1v1h-1zM315.9 508.3h1v1h-1zM309.3 507.4h1v1h-1zM296.8 564.6h1v1h-1zM255.4 539.3h1v1h-1zM256.7 526.6h1v1h-1zM310.6 499.4h1v1h-1zM296.1 572.7h1v1h-1z" fill="rgb(110,110,110)" opacity="0.6"/>
<path d="M248.6 516.4h1v1h-1zM289.5 551.6h1v1h-1zM277.7 514.9h1v1h-1zM325.5 535.5h1v1h-1zM309.0 519.7h1v1h-1zM287.7 494.2h1v1h-1zM285.6 507.4h1v1h-1zM292.1 558.1h1v1h-1zM283.9 519.4h1v1h-1zM308.7 536.1h1v1h-1zM297.5 495.4h1v1h-1zM256.1 543.2h1v1h-1zM326.8 551.2h1v1h-1zM266.6 537.4h1v1h-1zM313.2 572.5h1v1h-1zM265.9 496.3h1v1h-1zM278.3 492.7h1v1h-1zM297.1 515.2h1v1h-1zM280.8 557.4h1v1h-1zM326.4 519.3h1v1h-1zM286.6 536.8h1v1h-1zM291.7 548.1h1v1h-1zM288.7 500.3h1v1h-1zM328.9 514.0h1v1h-1zM303.5 567.9h1v1h-1zM296.9 539.9h1v1h-1zM317.9 508.2h1v1h-1zM291.2 561.9h1v1h-1zM308.6 567.4h1v1h-1zM257.9 522.5h1v1h-1zM315.8 494.5h1v1h-1zM291.3 508.5h1v1h-1zM324.0 521.4h1v1h-1zM280.1 521.4h1v1h-1zM311.0 571.9h1v1h-1zM316.5 523.4h1v1h-1zM268.2 551.9h1v1h-1zM302.6 571.9h1v1h-1zM309.2 558.0h1v1h-1zM300.5 561.3h1v1h-1zM269.4 514.6h1v1h-1zM302.2 500.4h1v1h-1zM317.6 497.9h1v1h-1zM302.4 500.3h1v1h-1zM264.1 532.4h1v1h-1zM259.4 543.1h1v1h-1z" fill="rgb(130,130,130)" opacity="0.6"/>
<path d="M269.3 492.4h1v1h-1zM295.8 545.3h1v1h-1zM265.0 551.7h1v1h-1zM309.9 521.5h1v1h-1zM270.4 571.4h1v1h-1zM254.3 530.2h1v1h-1zM287.1 556.3h1v1h-1zM291.2 546.6h1v1h-1zM282.4 537.9h1v1h-1zM274.3 502.9h1v1h-1zM284.3 494.0h1v1h-1zM303.9 571.3h1v1h-1zM293.1 544.7h1v1h-1zM314.3 564.9h1v1h-1zM314.1 496.9h1v1h-1zM281.0 554.7h1v1h-1zM309.0 524.3h1v1h-1zM249.7 545.1h1v1h-1zM282.1 497.9h1v1h-1zM270.1 540.4h1v1h-1zM306.6 505.8h1v1h-1zM250.7 564.2h1v1h-1zM267.6 572.1h1v1h-1zM308.1 523.8h1v1h-1zM277.0 572.4h1v1h-1zM250.6 501.1h1v1h-1zM262.3 492.8h1v1h-1zM285.9 549.6h1v1h-1zM284.9 545.5h1v1h-1zM276.1 508.5h1v1h-1zM282.1 494.5h1v1h-1zM282.5 558.9h1v1h-1zM327.0 535.3h1v1h-1zM323.0 572.0h1v1h-1zM279.4 571.4h1v1h-1zM282.1 547.7h1v1h-1zM309.1 541.1h1v1h-1zM322.5 568.4h1v1h-1zM265.4 546.2h1v1h-1zM327.2 500.3h1v1h-1zM306.6 570.0h1v1h-1zM250.1 513.0h1v1h-1zM294.5 572.9h1v1h-1zM247.8 566.9h1v1h-1zM301.6 546.9h1v1h-1zM268.6 567.5h1v1h-1zM314.0 553.7h1v1h-1zM276.4 539.2h1v1h-1zM259.0 502.7h1v1h-1zM290.3 535.4h1v1h-1zM316.4 513.1h1v1h-1zM285.1 504.3h1v1h-1zM312.6 518.8h1v1h-1zM307.9 503.8h1v1h-1z" fill="rgb(150,150,150)" opacity="0.6"/>
<polygon points="279.50,490.20 297.20,490.20 297.70,574.50 280.10,574.50" fill="#cdcdcd"/>
</g>
<line x1="279.50" y1="491.20" x2="280.10" y2="573.50" stroke="#e0352b" stroke-width="1.4"/>
<line x1="297.20" y1="491.20" x2="297.70" y2="573.50" stroke="#e0352b" stroke-width="1.4"/>
<line x1="319.40" y1="569.00" x2="327.80" y2="569.00" stroke="#e04a40" stroke-width="1.0"/>
<line x1="319.80" y1="567.40" x2="319.80" y2="570.60" stroke="#e04a40" stroke-width="1.0"/>
<line x1="327.40" y1="567.40" x2="327.40" y2="570.60" stroke="#e04a40" stroke-width="1.0"/>
<line x1="321.90" y1="566.60" x2="325.40" y2="566.60" stroke="#e88a80" stroke-width="0.7"/>
<g clip-path="url(#cw24)">
<rect x="46.00" y="594.40" width="83.00" height="82.40" fill="#bdbdbd" filter="url(#tx24)"/>
<path d="M105.1 663.6h1v1h-1zM64.1 608.2h1v1h-1zM101.7 602.0h1v1h-1zM112.9 617.7h1v1h-1zM109.1 663.9h1v1h-1zM102.5 673.5h1v1h-1zM91.0 624.6h1v1h-1zM87.0 607.1h1v1h-1zM67.5 636.3h1v1h-1zM114.5 622.5h1v1h-1zM104.3 630.6h1v1h-1zM70.4 622.1h1v1h-1zM112.3 647.2h1v1h-1zM121.6 670.6h1v1h-1zM118.3 595.1h1v1h-1zM86.0 659.7h1v1h-1zM57.1 662.4h1v1h-1zM114.4 598.7h1v1h-1zM92.2 652.1h1v1h-1zM54.6 609.5h1v1h-1zM52.7 638.1h1v1h-1zM103.2 607.2h1v1h-1zM123.4 608.3h1v1h-1zM106.8 613.1h1v1h-1zM91.8 671.8h1v1h-1zM123.4 624.4h1v1h-1zM98.6 639.0h1v1h-1zM94.4 624.0h1v1h-1zM63.7 606.0h1v1h-1zM99.6 637.2h1v1h-1zM47.3 664.0h1v1h-1zM57.6 638.7h1v1h-1zM115.9 623.3h1v1h-1zM118.8 605.8h1v1h-1zM100.4 629.2h1v1h-1zM55.6 603.6h1v1h-1zM102.0 662.0h1v1h-1zM106.0 666.9h1v1h-1zM126.9 672.6h1v1h-1zM96.9 635.4h1v1h-1zM78.5 667.6h1v1h-1zM127.0 662.3h1v1h-1zM114.0 595.1h1v1h-1zM119.4 676.7h1v1h-1zM90.1 648.9h1v1h-1zM101.7 640.5h1v1h-1zM54.8 615.6h1v1h-1zM71.5 627.2h1v1h-1zM77.4 672.4h1v1h-1zM72.3 601.3h1v1h-1z" fill="rgb(110,110,110)" opacity="0.6"/>
<path d="M82.6 665.7h1v1h-1zM87.5 676.4h1v1h-1zM122.7 620.5h1v1h-1zM51.8 602.4h1v1h-1zM117.4 616.4h1v1h-1zM68.7 610.7h1v1h-1zM72.9 610.7h1v1h-1zM126.8 605.2h1v1h-1zM90.2 614.4h1v1h-1zM57.3 620.2h1v1h-1zM66.8 609.7h1v1h-1zM49.1 675.9h1v1h-1zM103.4 628.9h1v1h-1zM111.1 664.0h1v1h-1zM110.7 657.4h1v1h-1zM112.3 635.3h1v1h-1zM84.2 625.6h1v1h-1zM125.5 664.4h1v1h-1zM127.7 646.9h1v1h-1zM68.9 633.6h1v1h-1zM112.0 671.1h1v1h-1zM65.7 603.3h1v1h-1zM121.6 657.2h1v1h-1zM88.9 644.7h1v1h-1zM116.3 606.1h1v1h-1zM86.1 594.8h1v1h-1zM98.0 609.2h1v1h-1zM127.6 613.2h1v1h-1zM115.8 659.6h1v1h-1zM66.3 647.8h1v1h-1zM87.9 638.0h1v1h-1zM110.6 669.1h1v1h-1zM61.9 594.4h1v1h-1zM117.5 658.0h1v1h-1zM122.9 645.6h1v1h-1zM82.0 635.9h1v1h-1zM111.0 613.5h1v1h-1zM57.8 594.6h1v1h-1zM127.4 628.8h1v1h-1zM47.4 659.2h1v1h-1zM119.6 676.2h1v1h-1zM60.1 667.4h1v1h-1zM110.5 615.1h1v1h-1zM102.4 647.2h1v1h-1zM77.9 670.7h1v1h-1zM61.8 664.0h1v1h-1zM73.0 657.7h1v1h-1zM48.2 653.9h1v1h-1zM54.0 667.1h1v1h-1zM65.2 613.2h1v1h-1z" fill="rgb(150,150,150)" opacity="0.6"/>
<path d="M55.6 637.0h1v1h-1zM107.3 631.0h1v1h-1zM95.5 607.0h1v1h-1zM99.8 626.6h1v1h-1zM79.5 633.0h1v1h-1zM121.1 597.2h1v1h-1zM80.0 625.4h1v1h-1zM93.8 628.1h1v1h-1zM115.6 617.6h1v1h-1zM78.6 618.4h1v1h-1zM77.7 657.0h1v1h-1zM100.2 643.0h1v1h-1zM61.2 621.8h1v1h-1zM71.4 650.9h1v1h-1zM116.2 663.0h1v1h-1zM56.9 674.1h1v1h-1zM97.4 614.9h1v1h-1zM124.5 614.0h1v1h-1zM84.3 609.9h1v1h-1zM127.4 640.9h1v1h-1zM94.7 676.1h1v1h-1zM108.1 614.0h1v1h-1zM67.9 618.5h1v1h-1zM74.6 643.6h1v1h-1zM78.6 600.6h1v1h-1zM82.9 670.6h1v1h-1zM125.8 633.2h1v1h-1zM48.5 658.0h1v1h-1zM76.8 617.3h1v1h-1zM69.9 666.9h1v1h-1zM110.1 673.0h1v1h-1zM96.2 648.0h1v1h-1zM62.7 608.8h1v1h-1zM65.1 656.3h1v1h-1zM127.3 640.5h1v1h-1zM90.8 619.7h1v1h-1zM114.4 664.5h1v1h-1zM66.3 670.3h1v1h-1zM49.6 649.2h1v1h-1zM99.5 604.7h1v1h-1zM62.7 613.2h1v1h-1zM56.5 654.1h1v1h-1zM61.5 638.3h1v1h-1zM63.2 602.6h1v1h-1zM111.0 606.5h1v1h-1zM108.2 602.2h1v1h-1zM85.0 602.6h1v1h-1zM106.9 643.8h1v1h-1zM101.5 643.5h1v1h-1zM75.5 636.8h1v1h-1zM117.8 653.8h1v1h-1z" fill="rgb(130,130,130)" opacity="0.6"/>
<polygon points="80.00,593.40 92.50,593.40 92.50,677.80 78.00,677.80" fill="#cdcdcd"/>
</g>
<line x1="80.00" y1="596.00" x2="78.00" y2="676.80" stroke="#e0352b" stroke-width="1.4"/>
<line x1="92.50" y1="596.00" x2="92.50" y2="676.80" stroke="#e0352b" stroke-width="1.4"/>
<line x1="118.70" y1="672.30" x2="127.10" y2="672.30" stroke="#e04a40" stroke-width="1.0"/>
<line x1="119.10" y1="670.70" x2="119.10" y2="673.90" stroke="#e04a40" stroke-width="1.0"/>
<line x1="126.70" y1="670.70" x2="126.70" y2="673.90" stroke="#e04a40" stroke-width="1.0"/>
<line x1="121.20" y1="669.90" x2="124.70" y2="669.90" stroke="#e88a80" stroke-width="0.7"/>
<g clip-path="url(#cw25)">
<rect x="146.80" y="594.10" width="82.30" height="82.60" fill="#bdbdbd" filter="url(#tx25)"/>
<path d="M177.8 670.7h1v1h-1zM149.7 640.7h1v1h-1zM176.3 632.9h1v1h-1zM218.8 597.4h1v1h-1zM175.6 599.4h1v1h-1zM157.1 613.4h1v1h-1zM219.4 656.5h1v1h-1zM176.0 675.6h1v1h-1zM213.6 653.0h1v1h-1zM226.3 652.0h1v1h-1zM191.6 604.6h1v1h-1zM220.2 608.2h1v1h-1zM152.9 601.8h1v1h-1zM183.7 619.5h1v1h-1zM176.4 599.9h1v1h-1zM179.2 595.1h1v1h-1zM172.6 668.7h1v1h-1zM153.1 625.1h1v1h-1zM187.9 660.5h1v1h-1zM213.0 610.6h1v1h-1zM204.1 640.4h1v1h-1zM191.2 638.5h1v1h-1zM183.7 644.8h1v1h-1zM178.3 659.4h1v1h-1zM176.4 665.5h1v1h-1zM175.2 633.4h1v1h-1zM189.0 650.8h1v1h-1zM158.8 648.2h1v1h-1zM168.0 620.0h1v1h-1zM178.5 594.8h1v1h-1zM152.3 612.1h1v1h-1zM224.5 594.5h1v1h-1zM186.7 643.1h1v1h-1zM223.5 671.5h1v1h-1zM229.0 635.7h1v1h-1zM209.4 606.3h1v1h-1zM185.7 676.0h1v1h-1zM226.8 642.6h1v1h-1zM188.8 641.7h1v1h-1zM204.1 646.4h1v1h-1zM197.0 671.7h1v1h-1zM175.7 617.5h1v1h-1zM172.5 596.0h1v1h-1zM158.6 596.4h1v1h-1zM193.7 669.9h1v1h-1zM165.5 618.0h1v1h-1zM228.2 626.8h1v1h-1zM227.4 644.4h1v1h-1zM204.3 601.7h1v1h-1zM211.1 601.2h1v1h-1zM166.1 629.6h1v1h-1z" fill="rgb(110,110,110)" opacity="0.6"/>
<path d="M164.4 666.1h1v1h-1zM195.2 604.4h1v1h-1zM206.8 610.4h1v1h-1zM172.8 670.0h1v1h-1zM219.5 663.0h1v1h-1zM175.9 649.9h1v1h-1zM184.7 599.9h1v1h-1zM152.5 646.6h1v1h-1zM224.0 629.6h1v1h-1zM164.1 646.2h1v1h-1zM213.1 652.6h1v1h-1zM213.6 669.5h1v1h-1zM195.4 596.8h1v1h-1zM169.1 671.7h1v1h-1zM173.0 602.5h1v1h-1zM226.8 601.8h1v1h-1zM164.6 639.7h1v1h-1zM197.5 595.4h1v1h-1zM147.0 617.8h1v1h-1zM200.4 672.2h1v1h-1zM202.0 652.7h1v1h-1zM156.0 640.5h1v1h-1zM149.5 652.6h1v1h-1zM211.1 667.8h1v1h-1zM227.9 619.5h1v1h-1zM153.0 625.5h1v1h-1zM208.8 620.8h1v1h-1zM191.6 615.7h1v1h-1zM218.7 667.8h1v1h-1zM189.5 656.3h1v1h-1zM150.8 635.9h1v1h-1zM149.6 640.6h1v1h-1zM160.7 676.2h1v1h-1zM172.8 652.4h1v1h-1zM201.1 638.3h1v1h-1zM206.5 623.3h1v1h-1zM179.7 623.4h1v1h-1zM199.7 650.7h1v1h-1zM214.8 599.9h1v1h-1zM218.0 673.7h1v1h-1zM213.5 610.3h1v1h-1zM195.9 638.9h1v1h-1zM149.1 630.6h1v1h-1zM218.9 633.0h1v1h-1zM194.2 630.6h1v1h-1zM160.9 615.6h1v1h-1zM215.0 658.5h1v1h-1zM215.5 624.4h1v1h-1zM163.0 607.1h1v1h-1zM164.0 648.5h1v1h-1zM227.6 662.4h1v1h-1zM186.5 673.5h1v1h-1z" fill="rgb(150,150,150)" opacity="0.6"/>
<path d="M185.8 665.0h1v1h-1zM154.9 642.2h1v1h-1zM153.2 642.2h1v1h-1zM217.7 631.0h1v1h-1zM197.1 648.1h1v1h-1zM151.5 661.5h1v1h-1zM160.7 675.6h1v1h-1zM198.6 631.9h1v1h-1zM222.9 667.1h1v1h-1zM211.8 637.3h1v1h-1zM171.8 635.0h1v1h-1zM185.2 629.0h1v1h-1zM218.2 615.9h1v1h-1zM148.1 655.8h1v1h-1zM189.2 655.3h1v1h-1zM160.5 660.1h1v1h-1zM170.9 632.2h1v1h-1zM212.1 624.3h1v1h-1zM169.3 664.9h1v1h-1zM217.5 597.4h1v1h-1zM196.4 605.9h1v1h-1zM224.6 613.6h1v1h-1zM176.4 635.6h1v1h-1zM186.4 608.8h1v1h-1zM222.1 649.9h1v1h-1zM188.1 617.3h1v1h-1zM203.8 610.7h1v1h-1zM179.3 619.9h1v1h-1zM221.6 608.7h1v1h-1zM165.8 611.4h1v1h-1zM181.9 662.3h1v1h-1zM224.6 628.7h1v1h-1zM152.0 629.6h1v1h-1zM167.4 640.4h1v1h-1zM190.1 634.3h1v1h-1zM168.6 625.1h1v1h-1zM183.0 617.1h1v1h-1zM149.6 618.4h1v1h-1zM194.6 637.9h1v1h-1zM213.1 596.2h1v1h-1zM213.9 663.0h1v1h-1zM195.6 622.4h1v1h-1zM170.4 617.1h1v1h-1zM201.6 673.6h1v1h-1zM185.6 623.2h1v1h-1zM168.8 668.7h1v1h-1zM210.0 615.3h1v1h-1zM221.7 596.1h1v1h-1z" fill="rgb(130,130,130)" opacity="0.6"/>
<polygon points="177.70,593.10 192.80,593.10 191.90,677.70 175.80,677.70" fill="#cdcdcd"/>
</g>
<line x1="177.70" y1="596.00" x2="175.80" y2="676.70" stroke="#e0352b" stroke-width="1.4"/>
<line x1="192.80" y1="596.00" x2="191.90" y2="676.70" stroke="#e0352b" stroke-width="1.4"/>
<line x1="218.80" y1="672.20" x2="227.20" y2="672.20" stroke="#e04a40" stroke-width="1.0"/>
<line x1="219.20" y1="670.60" x2="219.20" y2="673.80" stroke="#e04a40" stroke-width="1.0"/>
<line x1="226.80" y1="670.60" x2="226.80" y2="673.80" stroke="#e04a40" stroke-width="1.0"/>
<line x1="221.30" y1="669.80" x2="224.80" y2="669.80" stroke="#e88a80" stroke-width="0.7"/>
<g clip-path="url(#cw26)">
<rect x="247.20" y="594.10" width="82.50" height="82.60" fill="#bdbdbd" filter="url(#tx26)"/>
<path d="M308.9 610.8h1v1h-1zM282.9 639.0h1v1h-1zM311.2 657.2h1v1h-1zM307.4 645.6h1v1h-1zM327.4 596.5h1v1h-1zM267.3 642.4h1v1h-1zM282.1 664.1h1v1h-1zM251.8 672.7h1v1h-1zM297.3 607.0h1v1h-1zM311.5 598.0h1v1h-1zM277.7 658.6h1v1h-1zM255.1 613.9h1v1h-1zM279.4 596.8h1v1h-1zM259.7 594.8h1v1h-1zM251.2 674.4h1v1h-1zM252.5 608.1h1v1h-1zM252.7 665.8h1v1h-1zM292.3 626.7h1v1h-1zM256.3 611.2h1v1h-1zM323.1 599.6h1v1h-1zM323.8 597.7h1v1h-1zM280.0 620.8h1v1h-1zM270.4 630.1h1v1h-1zM322.6 653.1h1v1h-1zM249.1 611.6h1v1h-1zM259.0 654.7h1v1h-1zM264.2 608.0h1v1h-1zM325.5 598.8h1v1h-1zM329.5 660.0h1v1h-1zM296.6 613.3h1v1h-1zM255.4 594.2h1v1h-1zM310.0 671.7h1v1h-1zM326.0 615.7h1v1h-1zM299.6 634.7h1v1h-1zM283.7 611.2h1v1h-1zM308.2 648.8h1v1h-1zM300.5 641.2h1v1h-1zM263.4 612.0h1v1h-1zM325.7 645.7h1v1h-1zM306.3 640.8h1v1h-1zM305.8 655.5h1v1h-1zM328.4 614.0h1v1h-1zM289.3 628.0h1v1h-1zM309.3 655.0h1v1h-1zM286.0 607.3h1v1h-1zM269.8 657.2h1v1h-1zM271.0 672.9h1v1h-1zM320.6 668.9h1v1h-1zM305.1 615.1h1v1h-1zM289.6 629.4h1v1h-1zM328.2 639.1h1v1h-1zM271.3 675.4h1v1h-1zM312.0 632.5h1v1h-1zM296.3 645.5h1v1h-1zM324.4 660.2h1v1h-1z" fill="rgb(110,110,110)" opacity="0.6"/>
<path d="M299.6 672.9h1v1h-1zM281.0 663.8h1v1h-1zM327.1 618.3h1v1h-1zM291.5 636.2h1v1h-1zM247.8 643.7h1v1h-1zM273.1 620.5h1v1h-1zM253.4 639.1h1v1h-1zM311.9 671.9h1v1h-1zM275.9 669.0h1v1h-1zM311.2 669.5h1v1h-1zM283.2 637.2h1v1h-1zM327.4 645.4h1v1h-1zM286.5 642.2h1v1h-1zM316.9 670.0h1v1h-1zM314.8 620.7h1v1h-1zM272.5 606.1h1v1h-1zM288.5 626.0h1v1h-1zM313.8 651.9h1v1h-1zM301.3 613.9h1v1h-1zM326.7 674.4h1v1h-1zM291.9 659.7h1v1h-1zM291.5 628.5h1v1h-1zM263.3 637.4h1v1h-1zM310.0 659.1h1v1h-1zM304.5 596.4h1v1h-1zM255.0 595.2h1v1h-1zM308.6 650.7h1v1h-1zM258.3 650.5h1v1h-1zM257.0 626.8h1v1h-1zM258.9 603.1h1v1h-1zM265.4 654.6h1v1h-1zM327.5 642.7h1v1h-1zM265.6 663.2h1v1h-1zM270.0 643.6h1v1h-1zM310.8 602.9h1v1h-1zM283.5 675.8h1v1h-1zM292.7 618.7h1v1h-1zM325.6 631.3h1v1h-1zM259.3 647.5h1v1h-1zM277.3 667.9h1v1h-1zM276.9 623.4h1v1h-1zM289.5 670.4h1v1h-1zM266.5 652.3h1v1h-1zM281.5 618.4h1v1h-1zM259.5 606.6h1v1h-1zM270.8 646.2h1v1h-1zM323.2 634.4h1v1h-1zM322.7 627.1h1v1h-1zM269.1 649.5h1v1h-1zM266.6 611.7h1v1h-1zM287.0 661.4h1v1h-1zM278.6 673.1h1v1h-1zM262.8 626.3h1v1h-1zM301.8 669.1h1v1h-1zM320.2 619.0h1v1h-1zM266.6 652.7h1v1h-1z" fill="rgb(150,150,150)" opacity="0.6"/>
<path d="M259.1 612.0h1v1h-1zM316.4 673.1h1v1h-1zM324.7 625.8h1v1h-1zM317.7 621.1h1v1h-1zM284.9 600.3h1v1h-1zM326.5 650.2h1v1h-1zM250.0 595.7h1v1h-1zM249.1 671.8h1v1h-1zM328.5 598.5h1v1h-1zM292.4 619.2h1v1h-1zM306.7 620.9h1v1h-1zM271.3 661.7h1v1h-1zM312.3 663.0h1v1h-1zM294.1 635.7h1v1h-1zM273.6 611.4h1v1h-1zM254.1 651.9h1v1h-1zM318.8 658.0h1v1h-1zM277.6 632.7h1v1h-1zM276.2 605.4h1v1h-1zM285.7 631.0h1v1h-1zM261.8 623.2h1v1h-1zM288.7 596.8h1v1h-1zM302.8 675.4h1v1h-1zM277.1 655.1h1v1h-1zM295.3 602.8h1v1h-1zM279.6 598.5h1v1h-1zM280.0 611.0h1v1h-1zM249.1 623.4h1v1h-1zM298.5 607.4h1v1h-1zM320.3 657.6h1v1h-1zM300.3 634.1h1v1h-1zM316.1 620.2h1v1h-1zM291.5 670.8h1v1h-1zM263.9 601.0h1v1h-1zM252.0 652.7h1v1h-1zM269.1 638.9h1v1h-1zM257.0 657.6h1v1h-1zM277.0 630.9h1v1h-1zM260.2 663.1h1v1h-1zM254.8 597.9h1v1h-1z" fill="rgb(130,130,130)" opacity="0.6"/>
<polygon points="281.10,593.10 297.40,593.10 297.40,677.70 279.70,677.70" fill="#cdcdcd"/>
</g>
<line x1="281.10" y1="596.70" x2="279.70" y2="676.70" stroke="#e0352b" stroke-width="1.4"/>
<line x1="297.40" y1="597.00" x2="297.40" y2="676.70" stroke="#e0352b" stroke-width="1.4"/>
<line x1="319.40" y1="672.20" x2="327.80" y2="672.20" stroke="#e04a40" stroke-width="1.0"/>
<line x1="319.80" y1="670.60" x2="319.80" y2="673.80" stroke="#e04a40" stroke-width="1.0"/>
<line x1="327.40" y1="670.60" x2="327.40" y2="673.80" stroke="#e04a40" stroke-width="1.0"/>
<line x1="321.90" y1="669.80" x2="325.40" y2="669.80" stroke="#e88a80" stroke-width="0.7"/>
<text x="89.00" y="486.00" font-family='"Liberation Sans", sans-serif' font-size="10.2" font-weight="normal" fill="#000" text-anchor="middle">NC</text>
<text x="187.60" y="486.00" font-family='"Liberation Sans", sans-serif' font-size="10.2" font-weight="normal" fill="#000" text-anchor="middle">Si-1</text>
<text x="287.00" y="486.00" font-family='"Liberation Sans", sans-serif' font-size="10.2" font-weight="normal" fill="#000" text-anchor="middle">Si-2</text>
<text x="23.50" y="535.90" font-family='"Liberation Serif", serif' font-size="13.9" font-weight="normal" fill="#2a1212" text-anchor="start">0h</text>
<text x="17.50" y="638.80" font-family='"Liberation Serif", serif' font-size="14.4" font-weight="normal" fill="#2a1212" text-anchor="start">36h</text>
<text x="13.50" y="561.30" font-family='"Liberation Serif", serif' font-size="13.9" font-weight="bold" fill="#2a1212" text-anchor="middle" transform="rotate(-90 13.50 561.30)" stroke="#2a1212" stroke-width="0.35">Wound healing</text>
<line x1="379.00" y1="281.35" x2="379.00" y2="414.75" stroke="#000" stroke-width="1.5"/>
<line x1="373.50" y1="282.10" x2="379.00" y2="282.10" stroke="#000" stroke-width="1.4"/>
<text x="372.40" y="285.70" font-family='"Liberation Sans", sans-serif' font-size="10.0" font-weight="bold" fill="#000" text-anchor="end">50</text>
<line x1="373.50" y1="308.50" x2="379.00" y2="308.50" stroke="#000" stroke-width="1.4"/>
<text x="372.40" y="312.10" font-family='"Liberation Sans", sans-serif' font-size="10.0" font-weight="bold" fill="#000" text-anchor="end">40</text>
<line x1="373.50" y1="334.90" x2="379.00" y2="334.90" stroke="#000" stroke-width="1.4"/>
<text x="372.40" y="338.50" font-family='"Liberation Sans", sans-serif' font-size="10.0" font-weight="bold" fill="#000" text-anchor="end">30</text>
<line x1="373.50" y1="361.30" x2="379.00" y2="361.30" stroke="#000" stroke-width="1.4"/>
<text x="372.40" y="364.90" font-family='"Liberation Sans", sans-serif' font-size="10.0" font-weight="bold" fill="#000" text-anchor="end">20</text>
<line x1="373.50" y1="387.70" x2="379.00" y2="387.70" stroke="#000" stroke-width="1.4"/>
<text x="372.40" y="391.30" font-family='"Liberation Sans", sans-serif' font-size="10.0" font-weight="bold" fill="#000" text-anchor="end">10</text>
<line x1="373.50" y1="414.00" x2="379.00" y2="414.00" stroke="#000" stroke-width="1.4"/>
<text x="372.40" y="417.60" font-family='"Liberation Sans", sans-serif' font-size="10.0" font-weight="bold" fill="#000" text-anchor="end">0</text>
<line x1="373.50" y1="414.00" x2="468.00" y2="414.00" stroke="#000" stroke-width="1.6"/>
<line x1="396.80" y1="414.00" x2="396.80" y2="419.00" stroke="#000" stroke-width="1.4"/>
<line x1="423.00" y1="414.00" x2="423.00" y2="419.00" stroke="#000" stroke-width="1.4"/>
<line x1="449.50" y1="414.00" x2="449.50" y2="419.00" stroke="#000" stroke-width="1.4"/>
<line x1="396.90" y1="305.80" x2="396.90" y2="306.60" stroke="#000" stroke-width="1.2"/>
<line x1="392.60" y1="305.80" x2="401.20" y2="305.80" stroke="#000" stroke-width="1.3"/>
<rect x="388.20" y="306.60" width="17.40" height="107.40" fill="#000"/>
<line x1="423.15" y1="358.90" x2="423.15" y2="364.20" stroke="#000" stroke-width="1.2"/>
<line x1="418.85" y1="358.90" x2="427.45" y2="358.90" stroke="#000" stroke-width="1.3"/>
<rect x="415.75" y="365.15" width="14.80" height="48.85" fill="#a5a5a5" stroke="#000" stroke-width="1.9"/>
<line x1="449.50" y1="388.40" x2="449.50" y2="391.00" stroke="#000" stroke-width="1.2"/>
<line x1="445.20" y1="388.40" x2="453.80" y2="388.40" stroke="#000" stroke-width="1.3"/>
<rect x="442.05" y="391.95" width="14.90" height="22.05" fill="#7e7e7e" stroke="#000" stroke-width="1.9"/>
<text x="396.80" y="429.50" font-family='"Liberation Sans", sans-serif' font-size="9.6" font-weight="bold" fill="#000" text-anchor="middle">NC</text>
<text x="423.00" y="429.50" font-family='"Liberation Sans", sans-serif' font-size="9.6" font-weight="bold" fill="#000" text-anchor="middle">Si-1</text>
<text x="449.50" y="429.50" font-family='"Liberation Sans", sans-serif' font-size="9.6" font-weight="bold" fill="#000" text-anchor="middle">Si-2</text>
<text x="423.10" y="445.60" font-family='"Liberation Sans", sans-serif' font-size="10.3" font-weight="normal" fill="#000" text-anchor="middle">FABP6</text>
<polygon points="417.90,350.00 418.48,351.40 419.99,351.52 418.84,352.51 419.19,353.98 417.90,353.19 416.61,353.98 416.96,352.51 415.81,351.52 417.32,351.40" fill="#000"/><polygon points="422.40,350.00 422.98,351.40 424.49,351.52 423.34,352.51 423.69,353.98 422.40,353.19 421.11,353.98 421.46,352.51 420.31,351.52 421.82,351.40" fill="#000"/><polygon points="426.90,350.00 427.48,351.40 428.99,351.52 427.84,352.51 428.19,353.98 426.90,353.19 425.61,353.98 425.96,352.51 424.81,351.52 426.32,351.40" fill="#000"/><polygon points="431.40,350.00 431.98,351.40 433.49,351.52 432.34,352.51 432.69,353.98 431.40,353.19 430.11,353.98 430.46,352.51 429.31,351.52 430.82,351.40" fill="#000"/>
<polygon points="443.00,380.10 443.58,381.50 445.09,381.62 443.94,382.61 444.29,384.08 443.00,383.29 441.71,384.08 442.06,382.61 440.91,381.62 442.42,381.50" fill="#000"/><polygon points="447.40,380.10 447.98,381.50 449.49,381.62 448.34,382.61 448.69,384.08 447.40,383.29 446.11,384.08 446.46,382.61 445.31,381.62 446.82,381.50" fill="#000"/><polygon points="451.80,380.10 452.38,381.50 453.89,381.62 452.74,382.61 453.09,384.08 451.80,383.29 450.51,384.08 450.86,382.61 449.71,381.62 451.22,381.50" fill="#000"/><polygon points="456.20,380.10 456.78,381.50 458.29,381.62 457.14,382.61 457.49,384.08 456.20,383.29 454.91,384.08 455.26,382.61 454.11,381.62 455.62,381.50" fill="#000"/>
<text x="403.00" y="277.70" font-family='"Liberation Serif", serif' font-size="13.6" font-weight="normal" fill="#2a1212" text-anchor="start">ECA109</text>
<text x="350.60" y="344.00" font-family='"Liberation Serif", serif' font-size="13.8" font-weight="bold" fill="#2a1212" text-anchor="middle" transform="rotate(-90 350.60 344.00)" stroke="#2a1212" stroke-width="0.35">Wound healing(%)</text>
<line x1="928.20" y1="284.25" x2="928.20" y2="413.15" stroke="#000" stroke-width="1.5"/>
<line x1="922.70" y1="285.00" x2="928.20" y2="285.00" stroke="#000" stroke-width="1.4"/>
<text x="921.60" y="288.46" font-family='"Liberation Sans", sans-serif' font-size="9.6" font-weight="normal" fill="#000" text-anchor="end">150</text>
<line x1="922.70" y1="327.50" x2="928.20" y2="327.50" stroke="#000" stroke-width="1.4"/>
<text x="921.60" y="330.96" font-family='"Liberation Sans", sans-serif' font-size="9.6" font-weight="normal" fill="#000" text-anchor="end">100</text>
<line x1="922.70" y1="370.00" x2="928.20" y2="370.00" stroke="#000" stroke-width="1.4"/>
<text x="921.60" y="373.46" font-family='"Liberation Sans", sans-serif' font-size="9.6" font-weight="normal" fill="#000" text-anchor="end">50</text>
<line x1="922.70" y1="412.40" x2="928.20" y2="412.40" stroke="#000" stroke-width="1.4"/>
<text x="921.60" y="415.86" font-family='"Liberation Sans", sans-serif' font-size="9.6" font-weight="normal" fill="#000" text-anchor="end">0</text>
<line x1="922.70" y1="412.40" x2="1013.50" y2="412.40" stroke="#000" stroke-width="1.6"/>
<line x1="944.80" y1="412.40" x2="944.80" y2="417.40" stroke="#000" stroke-width="1.4"/>
<line x1="970.60" y1="412.40" x2="970.60" y2="417.40" stroke="#000" stroke-width="1.4"/>
<line x1="996.10" y1="412.40" x2="996.10" y2="417.40" stroke="#000" stroke-width="1.4"/>
<line x1="945.15" y1="300.20" x2="945.15" y2="308.50" stroke="#000" stroke-width="1.2"/>
<line x1="940.85" y1="300.20" x2="949.45" y2="300.20" stroke="#000" stroke-width="1.3"/>
<rect x="936.90" y="308.50" width="16.50" height="103.90" fill="#000"/>
<line x1="970.50" y1="370.20" x2="970.50" y2="376.80" stroke="#000" stroke-width="1.2"/>
<line x1="966.20" y1="370.20" x2="974.80" y2="370.20" stroke="#000" stroke-width="1.3"/>
<rect x="963.25" y="377.75" width="14.50" height="34.65" fill="#a5a5a5" stroke="#000" stroke-width="1.9"/>
<line x1="995.95" y1="404.20" x2="995.95" y2="406.10" stroke="#000" stroke-width="1.2"/>
<line x1="991.65" y1="404.20" x2="1000.25" y2="404.20" stroke="#000" stroke-width="1.3"/>
<rect x="988.65" y="407.05" width="14.60" height="5.35" fill="#7e7e7e" stroke="#000" stroke-width="1.9"/>
<text x="944.80" y="427.90" font-family='"Liberation Sans", sans-serif' font-size="9.6" font-weight="normal" fill="#000" text-anchor="middle">NC</text>
<text x="970.60" y="427.90" font-family='"Liberation Sans", sans-serif' font-size="9.6" font-weight="normal" fill="#000" text-anchor="middle">Si-1</text>
<text x="996.10" y="427.90" font-family='"Liberation Sans", sans-serif' font-size="9.6" font-weight="normal" fill="#000" text-anchor="middle">Si-2</text>
<text x="970.60" y="443.20" font-family='"Liberation Sans", sans-serif' font-size="10.3" font-weight="normal" fill="#000" text-anchor="middle">FABP6</text>
<polygon points="964.90,362.00 965.48,363.40 966.99,363.52 965.84,364.51 966.19,365.98 964.90,365.19 963.61,365.98 963.96,364.51 962.81,363.52 964.32,363.40" fill="#000"/><polygon points="969.20,362.00 969.78,363.40 971.29,363.52 970.14,364.51 970.49,365.98 969.20,365.19 967.91,365.98 968.26,364.51 967.11,363.52 968.62,363.40" fill="#000"/><polygon points="973.50,362.00 974.08,363.40 975.59,363.52 974.44,364.51 974.79,365.98 973.50,365.19 972.21,365.98 972.56,364.51 971.41,363.52 972.92,363.40" fill="#000"/><polygon points="977.80,362.00 978.38,363.40 979.89,363.52 978.74,364.51 979.09,365.98 977.80,365.19 976.51,365.98 976.86,364.51 975.71,363.52 977.22,363.40" fill="#000"/>
<polygon points="989.90,398.30 990.48,399.70 991.99,399.82 990.84,400.81 991.19,402.28 989.90,401.49 988.61,402.28 988.96,400.81 987.81,399.82 989.32,399.70" fill="#000"/><polygon points="994.10,398.30 994.68,399.70 996.19,399.82 995.04,400.81 995.39,402.28 994.10,401.49 992.81,402.28 993.16,400.81 992.01,399.82 993.52,399.70" fill="#000"/><polygon points="998.30,398.30 998.88,399.70 1000.39,399.82 999.24,400.81 999.59,402.28 998.30,401.49 997.01,402.28 997.36,400.81 996.21,399.82 997.72,399.70" fill="#000"/><polygon points="1002.50,398.30 1003.08,399.70 1004.59,399.82 1003.44,400.81 1003.79,402.28 1002.50,401.49 1001.21,402.28 1001.56,400.81 1000.41,399.82 1001.92,399.70" fill="#000"/>
<text x="951.90" y="277.70" font-family='"Liberation Serif", serif' font-size="13.6" font-weight="normal" fill="#2a1212" text-anchor="start">ECA109</text>
<text x="902.60" y="340.80" font-family='"Liberation Serif", serif' font-size="13.8" font-weight="bold" fill="#2a1212" text-anchor="middle" transform="rotate(-90 902.60 340.80)" stroke="#2a1212" stroke-width="0.35">Cell invasion</text>
<line x1="384.20" y1="511.65" x2="384.20" y2="644.45" stroke="#000" stroke-width="1.5"/>
<line x1="378.70" y1="512.40" x2="384.20" y2="512.40" stroke="#000" stroke-width="1.4"/>
<text x="377.60" y="516.00" font-family='"Liberation Sans", sans-serif' font-size="10.0" font-weight="bold" fill="#000" text-anchor="end">40</text>
<line x1="378.70" y1="545.30" x2="384.20" y2="545.30" stroke="#000" stroke-width="1.4"/>
<text x="377.60" y="548.90" font-family='"Liberation Sans", sans-serif' font-size="10.0" font-weight="bold" fill="#000" text-anchor="end">30</text>
<line x1="378.70" y1="578.10" x2="384.20" y2="578.10" stroke="#000" stroke-width="1.4"/>
<text x="377.60" y="581.70" font-family='"Liberation Sans", sans-serif' font-size="10.0" font-weight="bold" fill="#000" text-anchor="end">20</text>
<line x1="378.70" y1="610.90" x2="384.20" y2="610.90" stroke="#000" stroke-width="1.4"/>
<text x="377.60" y="614.50" font-family='"Liberation Sans", sans-serif' font-size="10.0" font-weight="bold" fill="#000" text-anchor="end">10</text>
<line x1="378.70" y1="643.70" x2="384.20" y2="643.70" stroke="#000" stroke-width="1.4"/>
<text x="377.60" y="647.30" font-family='"Liberation Sans", sans-serif' font-size="10.0" font-weight="bold" fill="#000" text-anchor="end">0</text>
<line x1="378.70" y1="643.70" x2="472.70" y2="643.70" stroke="#000" stroke-width="1.6"/>
<line x1="401.90" y1="643.70" x2="401.90" y2="648.70" stroke="#000" stroke-width="1.4"/>
<line x1="427.90" y1="643.70" x2="427.90" y2="648.70" stroke="#000" stroke-width="1.4"/>
<line x1="454.40" y1="643.70" x2="454.40" y2="648.70" stroke="#000" stroke-width="1.4"/>
<line x1="402.00" y1="522.40" x2="402.00" y2="536.60" stroke="#000" stroke-width="1.2"/>
<line x1="397.70" y1="522.40" x2="406.30" y2="522.40" stroke="#000" stroke-width="1.3"/>
<rect x="393.30" y="536.60" width="17.40" height="107.10" fill="#000"/>
<line x1="428.15" y1="568.10" x2="428.15" y2="577.40" stroke="#000" stroke-width="1.2"/>
<line x1="423.85" y1="568.10" x2="432.45" y2="568.10" stroke="#000" stroke-width="1.3"/>
<rect x="420.65" y="578.35" width="15.00" height="65.35" fill="#a5a5a5" stroke="#000" stroke-width="1.9"/>
<line x1="454.35" y1="597.60" x2="454.35" y2="604.20" stroke="#000" stroke-width="1.2"/>
<line x1="450.05" y1="597.60" x2="458.65" y2="597.60" stroke="#000" stroke-width="1.3"/>
<rect x="446.85" y="605.15" width="15.00" height="38.55" fill="#7e7e7e" stroke="#000" stroke-width="1.9"/>
<text x="401.90" y="659.60" font-family='"Liberation Sans", sans-serif' font-size="9.6" font-weight="bold" fill="#000" text-anchor="middle">NC</text>
<text x="427.90" y="659.60" font-family='"Liberation Sans", sans-serif' font-size="9.6" font-weight="bold" fill="#000" text-anchor="middle">Si-1</text>
<text x="454.40" y="659.60" font-family='"Liberation Sans", sans-serif' font-size="9.6" font-weight="bold" fill="#000" text-anchor="middle">Si-2</text>
<polygon points="425.90,558.80 426.48,560.20 427.99,560.32 426.84,561.31 427.19,562.78 425.90,561.99 424.61,562.78 424.96,561.31 423.81,560.32 425.32,560.20" fill="#000"/><polygon points="429.60,558.80 430.18,560.20 431.69,560.32 430.54,561.31 430.89,562.78 429.60,561.99 428.31,562.78 428.66,561.31 427.51,560.32 429.02,560.20" fill="#000"/>
<polygon points="449.80,588.30 450.38,589.70 451.89,589.82 450.74,590.81 451.09,592.28 449.80,591.49 448.51,592.28 448.86,590.81 447.71,589.82 449.22,589.70" fill="#000"/><polygon points="454.15,588.30 454.73,589.70 456.24,589.82 455.09,590.81 455.44,592.28 454.15,591.49 452.86,592.28 453.21,590.81 452.06,589.82 453.57,589.70" fill="#000"/><polygon points="458.50,588.30 459.08,589.70 460.59,589.82 459.44,590.81 459.79,592.28 458.50,591.49 457.21,592.28 457.56,590.81 456.41,589.82 457.92,589.70" fill="#000"/>
<text x="418.10" y="507.00" font-family='"Liberation Serif", serif' font-size="13.2" font-weight="normal" fill="#2a1212" text-anchor="start">KY30</text>
<text x="349.80" y="578.90" font-family='"Liberation Serif", serif' font-size="13.8" font-weight="bold" fill="#2a1212" text-anchor="middle" transform="rotate(-90 349.80 578.90)" stroke="#2a1212" stroke-width="0.35">Wound healing(%)</text>
<line x1="929.00" y1="510.65" x2="929.00" y2="641.45" stroke="#000" stroke-width="1.5"/>
<line x1="923.50" y1="511.40" x2="929.00" y2="511.40" stroke="#000" stroke-width="1.4"/>
<text x="922.40" y="514.86" font-family='"Liberation Sans", sans-serif' font-size="9.6" font-weight="normal" fill="#000" text-anchor="end">300</text>
<line x1="923.50" y1="554.50" x2="929.00" y2="554.50" stroke="#000" stroke-width="1.4"/>
<text x="922.40" y="557.96" font-family='"Liberation Sans", sans-serif' font-size="9.6" font-weight="normal" fill="#000" text-anchor="end">200</text>
<line x1="923.50" y1="597.60" x2="929.00" y2="597.60" stroke="#000" stroke-width="1.4"/>
<text x="922.40" y="601.06" font-family='"Liberation Sans", sans-serif' font-size="9.6" font-weight="normal" fill="#000" text-anchor="end">100</text>
<line x1="923.50" y1="640.70" x2="929.00" y2="640.70" stroke="#000" stroke-width="1.4"/>
<text x="922.40" y="644.16" font-family='"Liberation Sans", sans-serif' font-size="9.6" font-weight="normal" fill="#000" text-anchor="end">0</text>
<line x1="923.50" y1="640.70" x2="1015.60" y2="640.70" stroke="#000" stroke-width="1.6"/>
<line x1="945.70" y1="640.70" x2="945.70" y2="645.70" stroke="#000" stroke-width="1.4"/>
<line x1="971.50" y1="640.70" x2="971.50" y2="645.70" stroke="#000" stroke-width="1.4"/>
<line x1="997.50" y1="640.70" x2="997.50" y2="645.70" stroke="#000" stroke-width="1.4"/>
<line x1="945.85" y1="525.30" x2="945.85" y2="534.40" stroke="#000" stroke-width="1.2"/>
<line x1="941.55" y1="525.30" x2="950.15" y2="525.30" stroke="#000" stroke-width="1.3"/>
<rect x="937.50" y="534.40" width="16.70" height="106.30" fill="#000"/>
<line x1="971.45" y1="585.10" x2="971.45" y2="592.50" stroke="#000" stroke-width="1.2"/>
<line x1="967.15" y1="585.10" x2="975.75" y2="585.10" stroke="#000" stroke-width="1.3"/>
<rect x="963.95" y="593.45" width="15.00" height="47.25" fill="#a5a5a5" stroke="#000" stroke-width="1.9"/>
<line x1="997.65" y1="620.10" x2="997.65" y2="622.60" stroke="#000" stroke-width="1.2"/>
<line x1="993.35" y1="620.10" x2="1001.95" y2="620.10" stroke="#000" stroke-width="1.3"/>
<rect x="990.25" y="623.55" width="14.80" height="17.15" fill="#7e7e7e" stroke="#000" stroke-width="1.9"/>
<text x="945.70" y="656.30" font-family='"Liberation Sans", sans-serif' font-size="9.6" font-weight="normal" fill="#000" text-anchor="middle">NC</text>
<text x="971.50" y="656.30" font-family='"Liberation Sans", sans-serif' font-size="9.6" font-weight="normal" fill="#000" text-anchor="middle">Si-1</text>
<text x="997.50" y="656.30" font-family='"Liberation Sans", sans-serif' font-size="9.6" font-weight="normal" fill="#000" text-anchor="middle">Si-2</text>
<text x="971.60" y="671.90" font-family='"Liberation Sans", sans-serif' font-size="10.3" font-weight="normal" fill="#000" text-anchor="middle">FABP6</text>
<polygon points="967.00,575.30 967.42,576.32 968.52,576.41 967.68,577.12 967.94,578.19 967.00,577.62 966.06,578.19 966.32,577.12 965.48,576.41 966.58,576.32" fill="#000"/><polygon points="970.07,575.30 970.49,576.32 971.59,576.41 970.75,577.12 971.01,578.19 970.07,577.62 969.13,578.19 969.38,577.12 968.54,576.41 969.64,576.32" fill="#000"/><polygon points="973.13,575.30 973.56,576.32 974.66,576.41 973.82,577.12 974.07,578.19 973.13,577.62 972.19,578.19 972.45,577.12 971.61,576.41 972.71,576.32" fill="#000"/><polygon points="976.20,575.30 976.62,576.32 977.72,576.41 976.88,577.12 977.14,578.19 976.20,577.62 975.26,578.19 975.52,577.12 974.68,576.41 975.78,576.32" fill="#000"/>
<polygon points="992.50,613.60 992.92,614.62 994.02,614.71 993.18,615.42 993.44,616.49 992.50,615.92 991.56,616.49 991.82,615.42 990.98,614.71 992.08,614.62" fill="#000"/><polygon points="995.43,613.60 995.86,614.62 996.96,614.71 996.12,615.42 996.37,616.49 995.43,615.92 994.49,616.49 994.75,615.42 993.91,614.71 995.01,614.62" fill="#000"/><polygon points="998.37,613.60 998.79,614.62 999.89,614.71 999.05,615.42 999.31,616.49 998.37,615.92 997.43,616.49 997.68,615.42 996.84,614.71 997.94,614.62" fill="#000"/><polygon points="1001.30,613.60 1001.72,614.62 1002.82,614.71 1001.98,615.42 1002.24,616.49 1001.30,615.92 1000.36,616.49 1000.62,615.42 999.78,614.71 1000.88,614.62" fill="#000"/>
<text x="952.40" y="507.00" font-family='"Liberation Serif", serif' font-size="13.2" font-weight="normal" fill="#2a1212" text-anchor="start">KY30</text>
<text x="902.40" y="560.90" font-family='"Liberation Serif", serif' font-size="13.8" font-weight="bold" fill="#2a1212" text-anchor="middle" transform="rotate(-90 902.40 560.90)" stroke="#2a1212" stroke-width="0.35">Cell invasion</text>
<g clip-path="url(#cc101)"><rect x="512.40" y="289.00" width="110.60" height="109.60" fill="#bfc6ee"/><rect x="512.40" y="289.00" width="110.60" height="109.60" fill="#bfc6ee" filter="url(#ct101)" opacity="0.7"/><path d="M575.4 310.3a1.3 1.9 0 1 0 2.6 0a1.3 1.9 0 1 0-2.6 0M617.9 390.3a1.3 1.9 0 1 0 2.6 0a1.3 1.9 0 1 0-2.6 0M562.8 361.7a1.3 1.9 0 1 0 2.6 0a1.3 1.9 0 1 0-2.6 0M534.8 313.3a1.3 1.9 0 1 0 2.6 0a1.3 1.9 0 1 0-2.6 0M543.0 364.9a1.3 1.9 0 1 0 2.6 0a1.3 1.9 0 1 0-2.6 0M534.6 395.4a1.3 1.9 0 1 0 2.6 0a1.3 1.9 0 1 0-2.6 0M518.9 310.2a1.3 1.9 0 1 0 2.6 0a1.3 1.9 0 1 0-2.6 0M520.9 373.4a1.3 1.9 0 1 0 2.6 0a1.3 1.9 0 1 0-2.6 0M551.6 340.7a1.3 1.9 0 1 0 2.6 0a1.3 1.9 0 1 0-2.6 0M547.2 358.9a1.3 1.9 0 1 0 2.6 0a1.3 1.9 0 1 0-2.6 0M555.8 311.8a1.3 1.9 0 1 0 2.6 0a1.3 1.9 0 1 0-2.6 0M558.7 322.4a1.3 1.9 0 1 0 2.6 0a1.3 1.9 0 1 0-2.6 0M523.4 379.2a1.3 1.9 0 1 0 2.6 0a1.3 1.9 0 1 0-2.6 0M586.3 361.9a1.3 1.9 0 1 0 2.6 0a1.3 1.9 0 1 0-2.6 0M608.7 332.3a1.3 1.9 0 1 0 2.6 0a1.3 1.9 0 1 0-2.6 0M553.0 335.4a1.3 1.9 0 1 0 2.6 0a1.3 1.9 0 1 0-2.6 0M555.8 362.3a1.3 1.9 0 1 0 2.6 0a1.3 1.9 0 1 0-2.6 0M511.8 339.9a1.3 1.9 0 1 0 2.6 0a1.3 1.9 0 1 0-2.6 0M570.3 326.9a1.3 1.9 0 1 0 2.6 0a1.3 1.9 0 1 0-2.6 0M513.5 366.2a1.3 1.9 0 1 0 2.6 0a1.3 1.9 0 1 0-2.6 0M512.1 350.9a1.3 1.9 0 1 0 2.6 0a1.3 1.9 0 1 0-2.6 0M528.1 292.8a1.3 1.9 0 1 0 2.6 0a1.3 1.9 0 1 0-2.6 0M531.1 296.2a1.3 1.9 0 1 0 2.6 0a1.3 1.9 0 1 0-2.6 0M527.8 364.1a1.3 1.9 0 1 0 2.6 0a1.3 1.9 0 1 0-2.6 0M591.6 328.8a1.3 1.9 0 1 0 2.6 0a1.3 1.9 0 1 0-2.6 0M583.3 341.1a1.3 1.9 0 1 0 2.6 0a1.3 1.9 0 1 0-2.6 0M566.2 385.0a1.3 1.9 0 1 0 2.6 0a1.3 1.9 0 1 0-2.6 0M545.5 384.4a1.3 1.9 0 1 0 2.6 0a1.3 1.9 0 1 0-2.6 0M587.5 363.9a1.3 1.9 0 1 0 2.6 0a1.3 1.9 0 1 0-2.6 0M511.8 298.2a1.3 1.9 0 1 0 2.6 0a1.3 1.9 0 1 0-2.6 0M514.6 326.9a1.3 1.9 0 1 0 2.6 0a1.3 1.9 0 1 0-2.6 0M615.7 385.0a1.3 1.9 0 1 0 2.6 0a1.3 1.9 0 1 0-2.6 0M603.8 302.0a1.3 1.9 0 1 0 2.6 0a1.3 1.9 0 1 0-2.6 0M589.2 373.9a1.3 1.9 0 1 0 2.6 0a1.3 1.9 0 1 0-2.6 0M600.6 375.8a1.3 1.9 0 1 0 2.6 0a1.3 1.9 0 1 0-2.6 0M526.6 308.6a1.3 1.9 0 1 0 2.6 0a1.3 1.9 0 1 0-2.6 0M598.8 369.9a1.3 1.9 0 1 0 2.6 0a1.3 1.9 0 1 0-2.6 0M609.8 337.9a1.3 1.9 0 1 0 2.6 0a1.3 1.9 0 1 0-2.6 0M609.5 304.3a1.3 1.9 0 1 0 2.6 0a1.3 1.9 0 1 0-2.6 0M617.0 385.9a1.3 1.9 0 1 0 2.6 0a1.3 1.9 0 1 0-2.6 0M548.4 296.4a1.3 1.9 0 1 0 2.6 0a1.3 1.9 0 1 0-2.6 0M571.8 364.5a1.3 1.9 0 1 0 2.6 0a1.3 1.9 0 1 0-2.6 0M549.9 295.3a1.3 1.9 0 1 0 2.6 0a1.3 1.9 0 1 0-2.6 0M541.9 379.4a1.3 1.9 0 1 0 2.6 0a1.3 1.9 0 1 0-2.6 0M521.1 391.7a1.3 1.9 0 1 0 2.6 0a1.3 1.9 0 1 0-2.6 0M538.8 311.4a1.3 1.9 0 1 0 2.6 0a1.3 1.9 0 1 0-2.6 0M523.5 396.5a1.3 1.9 0 1 0 2.6 0a1.3 1.9 0 1 0-2.6 0M610.8 324.0a1.3 1.9 0 1 0 2.6 0a1.3 1.9 0 1 0-2.6 0M521.7 360.6a1.3 1.9 0 1 0 2.6 0a1.3 1.9 0 1 0-2.6 0M609.3 290.3a1.3 1.9 0 1 0 2.6 0a1.3 1.9 0 1 0-2.6 0M581.1 382.9a1.3 1.9 0 1 0 2.6 0a1.3 1.9 0 1 0-2.6 0M561.8 351.4a1.3 1.9 0 1 0 2.6 0a1.3 1.9 0 1 0-2.6 0M600.1 315.1a1.3 1.9 0 1 0 2.6 0a1.3 1.9 0 1 0-2.6 0M541.3 361.4a1.3 1.9 0 1 0 2.6 0a1.3 1.9 0 1 0-2.6 0M572.2 347.7a1.3 1.9 0 1 0 2.6 0a1.3 1.9 0 1 0-2.6 0M548.1 391.7a1.3 1.9 0 1 0 2.6 0a1.3 1.9 0 1 0-2.6 0M543.0 363.4a1.3 1.9 0 1 0 2.6 0a1.3 1.9 0 1 0-2.6 0M610.0 332.9a1.3 1.9 0 1 0 2.6 0a1.3 1.9 0 1 0-2.6 0M517.1 313.2a1.3 1.9 0 1 0 2.6 0a1.3 1.9 0 1 0-2.6 0M518.4 305.2a1.3 1.9 0 1 0 2.6 0a1.3 1.9 0 1 0-2.6 0M524.4 326.5a1.3 1.9 0 1 0 2.6 0a1.3 1.9 0 1 0-2.6 0M552.0 338.0a1.3 1.9 0 1 0 2.6 0a1.3 1.9 0 1 0-2.6 0M584.7 363.2a1.3 1.9 0 1 0 2.6 0a1.3 1.9 0 1 0-2.6 0M587.1 328.9a1.3 1.9 0 1 0 2.6 0a1.3 1.9 0 1 0-2.6 0M584.4 349.3a1.3 1.9 0 1 0 2.6 0a1.3 1.9 0 1 0-2.6 0M525.2 348.8a1.3 1.9 0 1 0 2.6 0a1.3 1.9 0 1 0-2.6 0M546.3 363.1a1.3 1.9 0 1 0 2.6 0a1.3 1.9 0 1 0-2.6 0M592.4 315.4a1.3 1.9 0 1 0 2.6 0a1.3 1.9 0 1 0-2.6 0M559.2 338.9a1.3 1.9 0 1 0 2.6 0a1.3 1.9 0 1 0-2.6 0M543.9 293.4a1.3 1.9 0 1 0 2.6 0a1.3 1.9 0 1 0-2.6 0M516.6 397.8a1.3 1.9 0 1 0 2.6 0a1.3 1.9 0 1 0-2.6 0M592.9 337.1a1.3 1.9 0 1 0 2.6 0a1.3 1.9 0 1 0-2.6 0M584.8 318.5a1.3 1.9 0 1 0 2.6 0a1.3 1.9 0 1 0-2.6 0M589.7 393.2a1.3 1.9 0 1 0 2.6 0a1.3 1.9 0 1 0-2.6 0M596.6 340.0a1.3 1.9 0 1 0 2.6 0a1.3 1.9 0 1 0-2.6 0M619.9 390.1a1.3 1.9 0 1 0 2.6 0a1.3 1.9 0 1 0-2.6 0M517.5 334.1a1.3 1.9 0 1 0 2.6 0a1.3 1.9 0 1 0-2.6 0M561.1 319.0a1.3 1.9 0 1 0 2.6 0a1.3 1.9 0 1 0-2.6 0M579.3 304.7a1.3 1.9 0 1 0 2.6 0a1.3 1.9 0 1 0-2.6 0M593.7 383.0a1.3 1.9 0 1 0 2.6 0a1.3 1.9 0 1 0-2.6 0M517.9 364.9a1.3 1.9 0 1 0 2.6 0a1.3 1.9 0 1 0-2.6 0M540.5 359.0a1.3 1.9 0 1 0 2.6 0a1.3 1.9 0 1 0-2.6 0M587.5 396.0a1.3 1.9 0 1 0 2.6 0a1.3 1.9 0 1 0-2.6 0M599.4 326.2a1.3 1.9 0 1 0 2.6 0a1.3 1.9 0 1 0-2.6 0M591.8 305.1a1.3 1.9 0 1 0 2.6 0a1.3 1.9 0 1 0-2.6 0M590.0 334.7a1.3 1.9 0 1 0 2.6 0a1.3 1.9 0 1 0-2.6 0M540.4 315.1a1.3 1.9 0 1 0 2.6 0a1.3 1.9 0 1 0-2.6 0M535.1 376.3a1.3 1.9 0 1 0 2.6 0a1.3 1.9 0 1 0-2.6 0M521.7 314.5a1.3 1.9 0 1 0 2.6 0a1.3 1.9 0 1 0-2.6 0M532.4 306.3a1.3 1.9 0 1 0 2.6 0a1.3 1.9 0 1 0-2.6 0M591.8 353.4a1.3 1.9 0 1 0 2.6 0a1.3 1.9 0 1 0-2.6 0M584.6 387.7a1.3 1.9 0 1 0 2.6 0a1.3 1.9 0 1 0-2.6 0M560.7 293.1a1.3 1.9 0 1 0 2.6 0a1.3 1.9 0 1 0-2.6 0M532.0 345.6a1.3 1.9 0 1 0 2.6 0a1.3 1.9 0 1 0-2.6 0M590.2 389.7a1.3 1.9 0 1 0 2.6 0a1.3 1.9 0 1 0-2.6 0M567.6 313.9a1.3 1.9 0 1 0 2.6 0a1.3 1.9 0 1 0-2.6 0M576.6 391.4a1.3 1.9 0 1 0 2.6 0a1.3 1.9 0 1 0-2.6 0M547.9 391.0a1.3 1.9 0 1 0 2.6 0a1.3 1.9 0 1 0-2.6 0M611.1 352.2a1.3 1.9 0 1 0 2.6 0a1.3 1.9 0 1 0-2.6 0M564.3 303.1a1.3 1.9 0 1 0 2.6 0a1.3 1.9 0 1 0-2.6 0M523.3 293.5a1.3 1.9 0 1 0 2.6 0a1.3 1.9 0 1 0-2.6 0M578.7 367.1a1.3 1.9 0 1 0 2.6 0a1.3 1.9 0 1 0-2.6 0M621.0 355.0a1.3 1.9 0 1 0 2.6 0a1.3 1.9 0 1 0-2.6 0M621.0 333.2a1.3 1.9 0 1 0 2.6 0a1.3 1.9 0 1 0-2.6 0M525.9 295.5a1.3 1.9 0 1 0 2.6 0a1.3 1.9 0 1 0-2.6 0M543.0 347.2a1.3 1.9 0 1 0 2.6 0a1.3 1.9 0 1 0-2.6 0M620.2 321.6a1.3 1.9 0 1 0 2.6 0a1.3 1.9 0 1 0-2.6 0M537.1 368.3a1.3 1.9 0 1 0 2.6 0a1.3 1.9 0 1 0-2.6 0M554.1 350.2a1.3 1.9 0 1 0 2.6 0a1.3 1.9 0 1 0-2.6 0M527.8 382.5a1.3 1.9 0 1 0 2.6 0a1.3 1.9 0 1 0-2.6 0M612.8 371.8a1.3 1.9 0 1 0 2.6 0a1.3 1.9 0 1 0-2.6 0M614.6 325.4a1.3 1.9 0 1 0 2.6 0a1.3 1.9 0 1 0-2.6 0M514.7 322.4a1.3 1.9 0 1 0 2.6 0a1.3 1.9 0 1 0-2.6 0M610.4 340.5a1.3 1.9 0 1 0 2.6 0a1.3 1.9 0 1 0-2.6 0M533.3 305.6a1.3 1.9 0 1 0 2.6 0a1.3 1.9 0 1 0-2.6 0M529.3 337.1a1.3 1.9 0 1 0 2.6 0a1.3 1.9 0 1 0-2.6 0M613.5 385.9a1.3 1.9 0 1 0 2.6 0a1.3 1.9 0 1 0-2.6 0M594.9 371.9a1.3 1.9 0 1 0 2.6 0a1.3 1.9 0 1 0-2.6 0M532.2 374.2a1.3 1.9 0 1 0 2.6 0a1.3 1.9 0 1 0-2.6 0M535.9 346.6a1.3 1.9 0 1 0 2.6 0a1.3 1.9 0 1 0-2.6 0M514.8 386.8a1.3 1.9 0 1 0 2.6 0a1.3 1.9 0 1 0-2.6 0M525.3 354.0a1.3 1.9 0 1 0 2.6 0a1.3 1.9 0 1 0-2.6 0M584.3 359.6a1.3 1.9 0 1 0 2.6 0a1.3 1.9 0 1 0-2.6 0M586.6 329.5a1.3 1.9 0 1 0 2.6 0a1.3 1.9 0 1 0-2.6 0M598.7 391.9a1.3 1.9 0 1 0 2.6 0a1.3 1.9 0 1 0-2.6 0M579.4 396.4a1.3 1.9 0 1 0 2.6 0a1.3 1.9 0 1 0-2.6 0M605.1 295.1a1.3 1.9 0 1 0 2.6 0a1.3 1.9 0 1 0-2.6 0M585.4 299.0a1.3 1.9 0 1 0 2.6 0a1.3 1.9 0 1 0-2.6 0M584.2 329.7a1.3 1.9 0 1 0 2.6 0a1.3 1.9 0 1 0-2.6 0M605.6 293.9a1.3 1.9 0 1 0 2.6 0a1.3 1.9 0 1 0-2.6 0M615.8 293.8a1.3 1.9 0 1 0 2.6 0a1.3 1.9 0 1 0-2.6 0M517.4 289.3a1.3 1.9 0 1 0 2.6 0a1.3 1.9 0 1 0-2.6 0M525.0 397.1a1.3 1.9 0 1 0 2.6 0a1.3 1.9 0 1 0-2.6 0M603.5 389.5a1.3 1.9 0 1 0 2.6 0a1.3 1.9 0 1 0-2.6 0M531.7 364.4a1.3 1.9 0 1 0 2.6 0a1.3 1.9 0 1 0-2.6 0M599.1 368.7a1.3 1.9 0 1 0 2.6 0a1.3 1.9 0 1 0-2.6 0M540.9 395.4a1.3 1.9 0 1 0 2.6 0a1.3 1.9 0 1 0-2.6 0M591.7 364.0a1.3 1.9 0 1 0 2.6 0a1.3 1.9 0 1 0-2.6 0M542.6 332.5a1.3 1.9 0 1 0 2.6 0a1.3 1.9 0 1 0-2.6 0M594.9 345.6a1.3 1.9 0 1 0 2.6 0a1.3 1.9 0 1 0-2.6 0M565.1 389.8a1.3 1.9 0 1 0 2.6 0a1.3 1.9 0 1 0-2.6 0M557.6 383.1a1.3 1.9 0 1 0 2.6 0a1.3 1.9 0 1 0-2.6 0M516.3 347.1a1.3 1.9 0 1 0 2.6 0a1.3 1.9 0 1 0-2.6 0M590.0 290.2a1.3 1.9 0 1 0 2.6 0a1.3 1.9 0 1 0-2.6 0M588.1 320.3a1.3 1.9 0 1 0 2.6 0a1.3 1.9 0 1 0-2.6 0M580.3 357.3a1.3 1.9 0 1 0 2.6 0a1.3 1.9 0 1 0-2.6 0M526.2 392.4a1.3 1.9 0 1 0 2.6 0a1.3 1.9 0 1 0-2.6 0M537.9 304.0a1.3 1.9 0 1 0 2.6 0a1.3 1.9 0 1 0-2.6 0M560.1 296.0a1.3 1.9 0 1 0 2.6 0a1.3 1.9 0 1 0-2.6 0M522.3 372.5a1.3 1.9 0 1 0 2.6 0a1.3 1.9 0 1 0-2.6 0M521.9 348.3a1.3 1.9 0 1 0 2.6 0a1.3 1.9 0 1 0-2.6 0M609.0 338.7a1.3 1.9 0 1 0 2.6 0a1.3 1.9 0 1 0-2.6 0M601.2 380.0a1.3 1.9 0 1 0 2.6 0a1.3 1.9 0 1 0-2.6 0M529.3 297.4a1.3 1.9 0 1 0 2.6 0a1.3 1.9 0 1 0-2.6 0M597.8 384.0a1.3 1.9 0 1 0 2.6 0a1.3 1.9 0 1 0-2.6 0M605.4 367.3a1.3 1.9 0 1 0 2.6 0a1.3 1.9 0 1 0-2.6 0M567.5 394.0a1.3 1.9 0 1 0 2.6 0a1.3 1.9 0 1 0-2.6 0M592.9 372.6a1.3 1.9 0 1 0 2.6 0a1.3 1.9 0 1 0-2.6 0M611.9 295.0a1.3 1.9 0 1 0 2.6 0a1.3 1.9 0 1 0-2.6 0M593.1 353.0a1.3 1.9 0 1 0 2.6 0a1.3 1.9 0 1 0-2.6 0M512.5 317.0a1.3 1.9 0 1 0 2.6 0a1.3 1.9 0 1 0-2.6 0M590.3 347.0a1.3 1.9 0 1 0 2.6 0a1.3 1.9 0 1 0-2.6 0M573.3 320.5a1.3 1.9 0 1 0 2.6 0a1.3 1.9 0 1 0-2.6 0M573.8 385.3a1.3 1.9 0 1 0 2.6 0a1.3 1.9 0 1 0-2.6 0M619.5 349.5a1.3 1.9 0 1 0 2.6 0a1.3 1.9 0 1 0-2.6 0M592.0 298.6a1.3 1.9 0 1 0 2.6 0a1.3 1.9 0 1 0-2.6 0M526.6 350.3a1.3 1.9 0 1 0 2.6 0a1.3 1.9 0 1 0-2.6 0M602.5 302.1a1.3 1.9 0 1 0 2.6 0a1.3 1.9 0 1 0-2.6 0M527.4 343.8a1.3 1.9 0 1 0 2.6 0a1.3 1.9 0 1 0-2.6 0M544.8 304.4a1.3 1.9 0 1 0 2.6 0a1.3 1.9 0 1 0-2.6 0M528.6 335.5a1.3 1.9 0 1 0 2.6 0a1.3 1.9 0 1 0-2.6 0M598.8 307.8a1.3 1.9 0 1 0 2.6 0a1.3 1.9 0 1 0-2.6 0M600.2 297.2a1.3 1.9 0 1 0 2.6 0a1.3 1.9 0 1 0-2.6 0M538.8 362.3a1.3 1.9 0 1 0 2.6 0a1.3 1.9 0 1 0-2.6 0M511.9 324.3a1.3 1.9 0 1 0 2.6 0a1.3 1.9 0 1 0-2.6 0M528.2 314.2a1.3 1.9 0 1 0 2.6 0a1.3 1.9 0 1 0-2.6 0M609.2 306.5a1.3 1.9 0 1 0 2.6 0a1.3 1.9 0 1 0-2.6 0M590.7 388.8a1.3 1.9 0 1 0 2.6 0a1.3 1.9 0 1 0-2.6 0M538.3 383.5a1.3 1.9 0 1 0 2.6 0a1.3 1.9 0 1 0-2.6 0M546.5 373.7a1.3 1.9 0 1 0 2.6 0a1.3 1.9 0 1 0-2.6 0M575.3 327.4a1.3 1.9 0 1 0 2.6 0a1.3 1.9 0 1 0-2.6 0M609.1 365.3a1.3 1.9 0 1 0 2.6 0a1.3 1.9 0 1 0-2.6 0M546.4 351.8a1.3 1.9 0 1 0 2.6 0a1.3 1.9 0 1 0-2.6 0M543.7 320.3a1.3 1.9 0 1 0 2.6 0a1.3 1.9 0 1 0-2.6 0M614.9 395.9a1.3 1.9 0 1 0 2.6 0a1.3 1.9 0 1 0-2.6 0M528.6 389.4a1.3 1.9 0 1 0 2.6 0a1.3 1.9 0 1 0-2.6 0M590.1 290.2a1.3 1.9 0 1 0 2.6 0a1.3 1.9 0 1 0-2.6 0M523.1 336.8a1.3 1.9 0 1 0 2.6 0a1.3 1.9 0 1 0-2.6 0M609.2 384.7a1.3 1.9 0 1 0 2.6 0a1.3 1.9 0 1 0-2.6 0M538.8 337.8a1.3 1.9 0 1 0 2.6 0a1.3 1.9 0 1 0-2.6 0M613.4 312.0a1.3 1.9 0 1 0 2.6 0a1.3 1.9 0 1 0-2.6 0M522.7 334.5a1.3 1.9 0 1 0 2.6 0a1.3 1.9 0 1 0-2.6 0M586.4 384.7a1.3 1.9 0 1 0 2.6 0a1.3 1.9 0 1 0-2.6 0M608.1 290.3a1.3 1.9 0 1 0 2.6 0a1.3 1.9 0 1 0-2.6 0M530.5 303.1a1.3 1.9 0 1 0 2.6 0a1.3 1.9 0 1 0-2.6 0M577.0 333.5a1.3 1.9 0 1 0 2.6 0a1.3 1.9 0 1 0-2.6 0M613.1 356.4a1.3 1.9 0 1 0 2.6 0a1.3 1.9 0 1 0-2.6 0M579.1 364.3a1.3 1.9 0 1 0 2.6 0a1.3 1.9 0 1 0-2.6 0M533.8 387.1a1.3 1.9 0 1 0 2.6 0a1.3 1.9 0 1 0-2.6 0M606.3 379.2a1.3 1.9 0 1 0 2.6 0a1.3 1.9 0 1 0-2.6 0M597.6 307.9a1.3 1.9 0 1 0 2.6 0a1.3 1.9 0 1 0-2.6 0M517.0 329.0a1.3 1.9 0 1 0 2.6 0a1.3 1.9 0 1 0-2.6 0M590.4 311.0a1.3 1.9 0 1 0 2.6 0a1.3 1.9 0 1 0-2.6 0M607.2 383.0a1.3 1.9 0 1 0 2.6 0a1.3 1.9 0 1 0-2.6 0M588.2 342.1a1.3 1.9 0 1 0 2.6 0a1.3 1.9 0 1 0-2.6 0M527.7 377.7a1.3 1.9 0 1 0 2.6 0a1.3 1.9 0 1 0-2.6 0M530.2 343.4a1.3 1.9 0 1 0 2.6 0a1.3 1.9 0 1 0-2.6 0M595.0 358.7a1.3 1.9 0 1 0 2.6 0a1.3 1.9 0 1 0-2.6 0M537.2 385.3a1.3 1.9 0 1 0 2.6 0a1.3 1.9 0 1 0-2.6 0M546.6 335.1a1.3 1.9 0 1 0 2.6 0a1.3 1.9 0 1 0-2.6 0M559.6 365.9a1.3 1.9 0 1 0 2.6 0a1.3 1.9 0 1 0-2.6 0M515.4 359.0a1.3 1.9 0 1 0 2.6 0a1.3 1.9 0 1 0-2.6 0M565.0 376.8a1.3 1.9 0 1 0 2.6 0a1.3 1.9 0 1 0-2.6 0M551.6 351.6a1.3 1.9 0 1 0 2.6 0a1.3 1.9 0 1 0-2.6 0M618.1 295.4a1.3 1.9 0 1 0 2.6 0a1.3 1.9 0 1 0-2.6 0M598.7 340.3a1.3 1.9 0 1 0 2.6 0a1.3 1.9 0 1 0-2.6 0M544.3 319.1a1.3 1.9 0 1 0 2.6 0a1.3 1.9 0 1 0-2.6 0M535.2 381.4a1.3 1.9 0 1 0 2.6 0a1.3 1.9 0 1 0-2.6 0M533.5 394.5a1.3 1.9 0 1 0 2.6 0a1.3 1.9 0 1 0-2.6 0M568.2 320.3a1.3 1.9 0 1 0 2.6 0a1.3 1.9 0 1 0-2.6 0M597.7 352.7a1.3 1.9 0 1 0 2.6 0a1.3 1.9 0 1 0-2.6 0M608.9 304.8a1.3 1.9 0 1 0 2.6 0a1.3 1.9 0 1 0-2.6 0M587.6 292.1a1.3 1.9 0 1 0 2.6 0a1.3 1.9 0 1 0-2.6 0M531.4 334.5a1.3 1.9 0 1 0 2.6 0a1.3 1.9 0 1 0-2.6 0M545.7 320.0a1.3 1.9 0 1 0 2.6 0a1.3 1.9 0 1 0-2.6 0M574.1 370.9a1.3 1.9 0 1 0 2.6 0a1.3 1.9 0 1 0-2.6 0M557.1 344.7a1.3 1.9 0 1 0 2.6 0a1.3 1.9 0 1 0-2.6 0M597.6 313.8a1.3 1.9 0 1 0 2.6 0a1.3 1.9 0 1 0-2.6 0M621.5 291.6a1.3 1.9 0 1 0 2.6 0a1.3 1.9 0 1 0-2.6 0M552.1 379.4a1.3 1.9 0 1 0 2.6 0a1.3 1.9 0 1 0-2.6 0M537.1 325.3a1.3 1.9 0 1 0 2.6 0a1.3 1.9 0 1 0-2.6 0M530.0 395.8a1.3 1.9 0 1 0 2.6 0a1.3 1.9 0 1 0-2.6 0M608.0 297.9a1.3 1.9 0 1 0 2.6 0a1.3 1.9 0 1 0-2.6 0M570.7 305.7a1.3 1.9 0 1 0 2.6 0a1.3 1.9 0 1 0-2.6 0M513.1 313.2a1.3 1.9 0 1 0 2.6 0a1.3 1.9 0 1 0-2.6 0M588.8 346.9a1.3 1.9 0 1 0 2.6 0a1.3 1.9 0 1 0-2.6 0M542.9 352.6a1.3 1.9 0 1 0 2.6 0a1.3 1.9 0 1 0-2.6 0M520.2 326.5a1.3 1.9 0 1 0 2.6 0a1.3 1.9 0 1 0-2.6 0M522.0 379.3a1.3 1.9 0 1 0 2.6 0a1.3 1.9 0 1 0-2.6 0M553.4 367.4a1.3 1.9 0 1 0 2.6 0a1.3 1.9 0 1 0-2.6 0M548.2 334.5a1.3 1.9 0 1 0 2.6 0a1.3 1.9 0 1 0-2.6 0M574.7 317.4a1.3 1.9 0 1 0 2.6 0a1.3 1.9 0 1 0-2.6 0M571.6 373.7a1.3 1.9 0 1 0 2.6 0a1.3 1.9 0 1 0-2.6 0M519.3 310.8a1.3 1.9 0 1 0 2.6 0a1.3 1.9 0 1 0-2.6 0M513.4 342.6a1.3 1.9 0 1 0 2.6 0a1.3 1.9 0 1 0-2.6 0M523.3 346.1a1.3 1.9 0 1 0 2.6 0a1.3 1.9 0 1 0-2.6 0M528.9 346.6a1.3 1.9 0 1 0 2.6 0a1.3 1.9 0 1 0-2.6 0M542.3 371.1a1.3 1.9 0 1 0 2.6 0a1.3 1.9 0 1 0-2.6 0M601.3 394.2a1.3 1.9 0 1 0 2.6 0a1.3 1.9 0 1 0-2.6 0M562.3 386.5a1.3 1.9 0 1 0 2.6 0a1.3 1.9 0 1 0-2.6 0M606.4 325.8a1.3 1.9 0 1 0 2.6 0a1.3 1.9 0 1 0-2.6 0M619.5 394.0a1.3 1.9 0 1 0 2.6 0a1.3 1.9 0 1 0-2.6 0M528.5 371.4a1.3 1.9 0 1 0 2.6 0a1.3 1.9 0 1 0-2.6 0M587.1 356.6a1.3 1.9 0 1 0 2.6 0a1.3 1.9 0 1 0-2.6 0M589.7 319.5a1.3 1.9 0 1 0 2.6 0a1.3 1.9 0 1 0-2.6 0M603.4 368.1a1.3 1.9 0 1 0 2.6 0a1.3 1.9 0 1 0-2.6 0M531.4 394.9a1.3 1.9 0 1 0 2.6 0a1.3 1.9 0 1 0-2.6 0M592.2 295.1a1.3 1.9 0 1 0 2.6 0a1.3 1.9 0 1 0-2.6 0M514.7 307.6a1.3 1.9 0 1 0 2.6 0a1.3 1.9 0 1 0-2.6 0M584.3 368.2a1.3 1.9 0 1 0 2.6 0a1.3 1.9 0 1 0-2.6 0M614.1 385.8a1.3 1.9 0 1 0 2.6 0a1.3 1.9 0 1 0-2.6 0M533.7 310.3a1.3 1.9 0 1 0 2.6 0a1.3 1.9 0 1 0-2.6 0M520.5 331.7a1.3 1.9 0 1 0 2.6 0a1.3 1.9 0 1 0-2.6 0M557.9 330.7a1.3 1.9 0 1 0 2.6 0a1.3 1.9 0 1 0-2.6 0M601.9 356.2a1.3 1.9 0 1 0 2.6 0a1.3 1.9 0 1 0-2.6 0M600.0 383.5a1.3 1.9 0 1 0 2.6 0a1.3 1.9 0 1 0-2.6 0M595.7 345.3a1.3 1.9 0 1 0 2.6 0a1.3 1.9 0 1 0-2.6 0M556.4 347.8a1.3 1.9 0 1 0 2.6 0a1.3 1.9 0 1 0-2.6 0M562.0 362.3a1.3 1.9 0 1 0 2.6 0a1.3 1.9 0 1 0-2.6 0M605.3 363.1a1.3 1.9 0 1 0 2.6 0a1.3 1.9 0 1 0-2.6 0M539.2 350.9a1.3 1.9 0 1 0 2.6 0a1.3 1.9 0 1 0-2.6 0M561.5 302.5a1.3 1.9 0 1 0 2.6 0a1.3 1.9 0 1 0-2.6 0M522.8 338.4a1.3 1.9 0 1 0 2.6 0a1.3 1.9 0 1 0-2.6 0M615.2 366.0a1.3 1.9 0 1 0 2.6 0a1.3 1.9 0 1 0-2.6 0M517.3 389.5a1.3 1.9 0 1 0 2.6 0a1.3 1.9 0 1 0-2.6 0M591.3 355.1a1.3 1.9 0 1 0 2.6 0a1.3 1.9 0 1 0-2.6 0M511.8 323.0a1.3 1.9 0 1 0 2.6 0a1.3 1.9 0 1 0-2.6 0M548.0 341.9a1.3 1.9 0 1 0 2.6 0a1.3 1.9 0 1 0-2.6 0M524.7 358.0a1.3 1.9 0 1 0 2.6 0a1.3 1.9 0 1 0-2.6 0M578.8 359.2a1.3 1.9 0 1 0 2.6 0a1.3 1.9 0 1 0-2.6 0M565.8 350.1a1.3 1.9 0 1 0 2.6 0a1.3 1.9 0 1 0-2.6 0M523.6 379.6a1.3 1.9 0 1 0 2.6 0a1.3 1.9 0 1 0-2.6 0M607.1 382.3a1.3 1.9 0 1 0 2.6 0a1.3 1.9 0 1 0-2.6 0M596.0 315.6a1.3 1.9 0 1 0 2.6 0a1.3 1.9 0 1 0-2.6 0M543.6 294.6a1.3 1.9 0 1 0 2.6 0a1.3 1.9 0 1 0-2.6 0M598.0 383.2a1.3 1.9 0 1 0 2.6 0a1.3 1.9 0 1 0-2.6 0M614.7 354.8a1.3 1.9 0 1 0 2.6 0a1.3 1.9 0 1 0-2.6 0M599.5 381.7a1.3 1.9 0 1 0 2.6 0a1.3 1.9 0 1 0-2.6 0M524.5 296.5a1.3 1.9 0 1 0 2.6 0a1.3 1.9 0 1 0-2.6 0M608.0 395.4a1.3 1.9 0 1 0 2.6 0a1.3 1.9 0 1 0-2.6 0M590.3 356.9a1.3 1.9 0 1 0 2.6 0a1.3 1.9 0 1 0-2.6 0M554.9 383.1a1.3 1.9 0 1 0 2.6 0a1.3 1.9 0 1 0-2.6 0M542.6 294.9a1.3 1.9 0 1 0 2.6 0a1.3 1.9 0 1 0-2.6 0M600.0 295.7a1.3 1.9 0 1 0 2.6 0a1.3 1.9 0 1 0-2.6 0M590.3 360.3a1.3 1.9 0 1 0 2.6 0a1.3 1.9 0 1 0-2.6 0M523.3 336.9a1.3 1.9 0 1 0 2.6 0a1.3 1.9 0 1 0-2.6 0M541.2 377.5a1.3 1.9 0 1 0 2.6 0a1.3 1.9 0 1 0-2.6 0M597.1 325.1a1.3 1.9 0 1 0 2.6 0a1.3 1.9 0 1 0-2.6 0M528.1 326.5a1.3 1.9 0 1 0 2.6 0a1.3 1.9 0 1 0-2.6 0M559.7 355.4a1.3 1.9 0 1 0 2.6 0a1.3 1.9 0 1 0-2.6 0M615.9 324.2a1.3 1.9 0 1 0 2.6 0a1.3 1.9 0 1 0-2.6 0M527.5 357.6a1.3 1.9 0 1 0 2.6 0a1.3 1.9 0 1 0-2.6 0M558.2 370.2a1.3 1.9 0 1 0 2.6 0a1.3 1.9 0 1 0-2.6 0M584.3 349.0a1.3 1.9 0 1 0 2.6 0a1.3 1.9 0 1 0-2.6 0M601.3 310.5a1.3 1.9 0 1 0 2.6 0a1.3 1.9 0 1 0-2.6 0M597.7 309.0a1.3 1.9 0 1 0 2.6 0a1.3 1.9 0 1 0-2.6 0M564.1 349.9a1.3 1.9 0 1 0 2.6 0a1.3 1.9 0 1 0-2.6 0M571.2 301.3a1.3 1.9 0 1 0 2.6 0a1.3 1.9 0 1 0-2.6 0M561.9 319.7a1.3 1.9 0 1 0 2.6 0a1.3 1.9 0 1 0-2.6 0M541.7 335.2a1.3 1.9 0 1 0 2.6 0a1.3 1.9 0 1 0-2.6 0M556.8 311.6a1.3 1.9 0 1 0 2.6 0a1.3 1.9 0 1 0-2.6 0M586.9 391.1a1.3 1.9 0 1 0 2.6 0a1.3 1.9 0 1 0-2.6 0M615.9 308.8a1.3 1.9 0 1 0 2.6 0a1.3 1.9 0 1 0-2.6 0M536.7 333.6a1.3 1.9 0 1 0 2.6 0a1.3 1.9 0 1 0-2.6 0M576.9 364.9a1.3 1.9 0 1 0 2.6 0a1.3 1.9 0 1 0-2.6 0M576.3 343.0a1.3 1.9 0 1 0 2.6 0a1.3 1.9 0 1 0-2.6 0M621.6 394.3a1.3 1.9 0 1 0 2.6 0a1.3 1.9 0 1 0-2.6 0M600.0 316.6a1.3 1.9 0 1 0 2.6 0a1.3 1.9 0 1 0-2.6 0M596.0 293.0a1.3 1.9 0 1 0 2.6 0a1.3 1.9 0 1 0-2.6 0M615.9 365.9a1.3 1.9 0 1 0 2.6 0a1.3 1.9 0 1 0-2.6 0M613.4 335.4a1.3 1.9 0 1 0 2.6 0a1.3 1.9 0 1 0-2.6 0M589.7 316.5a1.3 1.9 0 1 0 2.6 0a1.3 1.9 0 1 0-2.6 0M613.4 308.6a1.3 1.9 0 1 0 2.6 0a1.3 1.9 0 1 0-2.6 0M512.1 319.7a1.3 1.9 0 1 0 2.6 0a1.3 1.9 0 1 0-2.6 0M584.6 347.9a1.3 1.9 0 1 0 2.6 0a1.3 1.9 0 1 0-2.6 0M600.4 363.9a1.3 1.9 0 1 0 2.6 0a1.3 1.9 0 1 0-2.6 0M597.4 392.3a1.3 1.9 0 1 0 2.6 0a1.3 1.9 0 1 0-2.6 0M518.4 300.6a1.3 1.9 0 1 0 2.6 0a1.3 1.9 0 1 0-2.6 0M543.0 303.6a1.3 1.9 0 1 0 2.6 0a1.3 1.9 0 1 0-2.6 0M572.1 367.9a1.3 1.9 0 1 0 2.6 0a1.3 1.9 0 1 0-2.6 0" fill="#5e62ae"/><path d="M580.7 306.8L583.4 307.7L579.6 313.5L576.0 315.2L574.3 310.0ZM568.0 296.9L563.3 297.1L561.4 295.3L564.1 291.9L566.3 290.4L571.8 292.0L571.4 295.2ZM575.5 305.2L581.4 303.7L581.8 309.4L579.1 315.3L574.0 311.6ZM566.6 306.4L563.7 305.7L563.9 301.0L565.6 300.2L570.9 300.8L570.5 303.7ZM585.0 310.4L584.7 312.2L581.0 314.4L576.9 312.1L576.9 309.2L579.2 307.7L581.6 307.7ZM559.8 305.1L557.7 305.9L556.5 303.2L556.6 299.3L559.0 298.6L563.7 299.7L563.9 301.8L562.1 305.0ZM562.7 300.0L566.2 296.9L569.6 296.3L572.1 300.6L571.3 304.7L566.7 304.5L564.4 303.9ZM574.7 315.3L570.2 316.9L568.0 312.5L567.9 307.5L571.0 308.9L576.7 309.3L580.4 310.7L577.9 315.9ZM587.9 305.7L583.7 302.9L582.2 299.4L584.9 295.4L588.6 298.5ZM577.3 306.2L584.1 304.7L588.9 310.0L587.0 315.2L581.7 315.4L578.2 311.6ZM584.1 295.7L579.5 295.2L576.5 289.3L583.5 286.3L586.1 292.2ZM571.8 303.5L568.0 304.3L567.9 298.6L575.6 294.0L579.6 295.9L578.2 303.1ZM572.2 305.7L580.0 303.6L582.3 308.1L578.5 313.6L573.8 309.3ZM584.3 307.5L584.6 309.6L581.5 309.7L578.9 308.6L579.5 305.5L582.0 304.2L584.4 305.4ZM569.7 295.7L569.4 294.0L571.1 290.8L575.3 289.9L578.2 292.9L577.5 296.6L574.2 299.0L570.1 299.2ZM564.3 302.5L561.0 300.7L559.2 299.7L558.9 296.3L561.6 296.1L565.5 295.7L564.9 299.9ZM580.1 305.7L580.1 300.3L585.6 300.4L585.6 305.0L582.1 310.6ZM579.5 299.8L575.0 298.3L574.0 297.1L574.9 293.4L579.3 291.1L582.1 292.5L584.4 297.5L581.0 298.4ZM570.1 294.5L574.7 295.1L576.7 297.4L572.2 300.5L568.5 298.7ZM586.0 289.2L582.5 293.8L580.7 293.6L579.0 291.4L579.5 289.8L582.2 286.3L584.8 287.9ZM569.7 294.3L565.6 292.9L565.6 289.7L566.7 287.7L570.0 287.4L571.5 289.3L571.4 291.9ZM584.8 297.2L584.4 299.9L582.5 302.0L578.1 299.5L579.0 295.9L583.3 295.3ZM584.5 301.5L587.8 297.9L592.4 303.0L589.3 307.7L585.5 306.8ZM587.6 297.9L592.5 298.6L589.0 306.1L583.6 308.1L583.4 301.8ZM577.7 292.2L586.0 288.4L591.0 292.1L586.6 298.2L580.5 297.3ZM574.8 301.3L576.1 304.4L575.2 309.9L571.5 311.3L570.8 308.7L571.8 304.4ZM573.2 321.4L569.5 318.1L571.6 315.9L578.8 315.9L579.2 319.1ZM567.1 322.8L567.9 320.0L568.7 316.3L572.8 318.5L572.6 321.6L572.4 323.7L570.8 325.1ZM578.3 325.5L572.7 326.7L571.7 322.5L573.1 319.5L578.2 320.0L578.1 322.3ZM556.7 324.7L558.8 322.8L561.9 325.2L559.9 329.7L557.4 329.9ZM570.6 317.7L568.1 315.7L566.5 313.5L570.1 311.8L572.6 312.9L573.7 316.4ZM553.0 334.2L554.2 330.7L557.4 329.5L559.9 327.5L564.1 328.1L562.2 331.9L558.7 335.1L556.8 335.3ZM558.7 327.4L557.1 323.9L556.5 321.3L557.9 319.6L563.5 320.4L564.2 323.1L564.2 324.1L561.3 326.2ZM570.0 328.9L573.2 333.0L568.3 336.7L565.0 335.3L564.0 331.4ZM562.1 326.6L563.5 321.8L567.7 322.3L570.0 326.2L566.1 328.5ZM567.9 314.9L569.3 319.1L564.2 319.9L562.1 318.3L561.9 313.5L565.6 313.0ZM558.0 312.5L560.4 310.2L563.4 311.8L563.9 314.9L561.2 317.4L559.7 315.8ZM565.6 322.9L567.3 320.0L570.7 319.8L572.1 320.8L573.6 324.3L571.8 326.0L569.1 326.0L566.9 324.6ZM554.2 320.6L554.8 316.6L558.1 319.1L560.9 323.8L558.5 325.3L555.2 325.3L553.3 324.8ZM567.4 329.5L571.9 330.9L572.4 334.1L568.7 337.9L562.9 337.4L560.1 338.0L561.3 334.0L563.6 330.7ZM520.4 310.8L523.6 314.6L524.6 317.7L519.3 321.7L517.0 316.8ZM510.5 301.5L511.4 295.8L516.1 295.7L517.7 297.0L520.1 301.0L517.7 303.5L512.1 302.9ZM515.4 309.7L514.3 311.9L513.0 314.7L510.3 312.4L508.2 309.1L509.9 307.2L514.0 307.1ZM514.6 317.1L512.7 315.1L512.9 312.7L517.5 310.9L520.3 312.6L517.3 316.4ZM517.1 306.4L520.3 306.9L522.1 308.8L520.5 311.2L517.5 309.5ZM510.0 316.2L513.9 315.5L519.0 316.5L516.0 322.2L510.5 320.6ZM521.4 307.1L518.2 308.6L515.0 308.7L515.6 302.9L521.6 301.9ZM514.0 310.2L511.3 311.0L509.7 308.2L511.1 306.4L512.9 305.1L515.8 306.8L515.3 308.0ZM522.1 308.6L521.8 312.4L520.0 313.8L518.1 311.6L517.7 307.7L519.9 307.4ZM543.2 302.6L542.5 306.9L540.1 306.0L537.7 301.2L539.6 297.4L543.2 297.0ZM546.2 293.5L545.6 297.0L540.8 297.9L534.8 296.8L534.3 294.3L537.8 292.4L541.7 292.4ZM540.8 299.0L539.9 302.7L534.9 300.0L534.5 295.3L539.0 295.8ZM546.7 299.5L542.4 298.8L541.3 296.6L541.3 294.5L544.0 293.6L546.9 294.5L547.9 297.8ZM602.2 315.7L601.2 309.1L605.6 309.7L607.9 313.3L606.6 318.0ZM620.1 298.3L624.4 297.6L625.5 301.9L622.4 303.8L619.7 304.7L617.9 302.2L618.4 300.0ZM622.9 323.8L618.1 322.0L615.6 320.8L615.9 316.9L617.5 315.2L620.7 315.2L623.3 317.0L624.7 322.3ZM602.8 312.0L598.1 309.1L599.3 306.7L599.9 304.8L604.1 308.1L604.8 309.8L603.8 311.9ZM618.8 294.0L619.9 296.9L618.5 298.9L615.4 297.7L613.7 296.4L612.7 295.2L615.4 293.1L617.5 293.7ZM599.7 302.7L599.8 297.4L604.7 298.8L605.0 303.7L602.0 306.5ZM608.4 295.1L610.6 299.6L608.0 302.9L602.6 300.1L604.5 295.9ZM613.5 292.9L611.4 296.0L607.5 295.9L606.0 291.2L613.0 289.4ZM606.8 310.2L604.6 311.8L603.6 308.2L605.1 305.1L607.7 304.6L609.6 308.5ZM622.2 303.7L620.6 305.3L618.2 302.9L617.4 299.2L621.1 297.6L623.4 299.2L624.0 303.1ZM610.6 288.7L612.1 288.5L615.2 289.1L614.3 292.5L613.1 293.3L610.0 293.0L609.6 291.6ZM603.5 296.1L606.0 290.9L610.2 290.3L613.3 292.5L611.8 297.6L606.0 299.3ZM617.3 296.8L620.9 298.9L620.3 302.4L618.2 301.9L616.0 299.2ZM610.9 299.0L609.8 300.8L608.1 301.8L606.5 299.3L603.6 296.6L605.1 295.0L610.1 296.8ZM622.8 316.7L625.0 320.7L621.5 321.7L617.1 321.7L616.4 319.8L615.2 315.8L619.2 312.2L623.7 313.7ZM618.6 307.3L623.3 305.8L625.7 306.9L626.4 311.8L620.7 312.9L618.2 309.8ZM609.2 324.5L606.3 326.0L602.9 324.6L602.8 321.6L607.0 319.3L609.2 321.8ZM619.8 305.8L623.4 305.3L625.8 310.1L622.8 314.3L618.5 316.2L618.7 310.9ZM533.2 333.0L534.3 335.4L532.6 338.2L530.8 339.0L529.3 338.1L526.9 337.1L528.6 333.6L529.8 332.8ZM534.6 328.1L535.7 331.0L535.5 332.8L533.6 334.2L530.9 331.2L531.2 329.9L533.3 326.8ZM530.3 332.3L527.2 331.0L527.0 328.8L528.1 327.6L529.0 327.4L531.3 329.2L532.4 330.9L531.9 332.6ZM532.7 331.4L531.5 338.0L528.9 340.3L525.5 340.1L526.6 332.4L529.4 329.8ZM530.0 342.9L525.5 341.1L529.6 337.3L534.1 339.0L534.9 342.3ZM529.9 323.6L533.2 321.1L534.8 320.1L535.6 322.8L535.6 324.9L535.0 327.0L532.3 326.0L530.4 325.6ZM530.6 329.8L532.1 326.7L537.9 329.5L535.6 332.6L532.6 335.3L530.6 333.4ZM574.2 357.8L575.2 355.8L574.4 353.0L577.5 354.4L578.3 355.1L579.0 357.6L578.9 359.1L576.9 359.7ZM595.6 349.0L594.2 350.6L592.0 354.5L588.7 352.3L586.1 351.6L588.2 348.3L590.5 345.5L592.7 346.4ZM585.4 351.9L587.8 349.2L590.7 350.8L593.3 352.1L591.6 354.7L590.2 356.4L585.5 354.3ZM568.5 353.6L571.0 351.5L572.4 352.2L574.4 353.9L574.7 355.6L571.8 357.9L568.6 357.9L566.4 356.7ZM573.2 339.3L574.6 340.5L576.4 341.8L577.4 344.3L576.9 346.0L574.9 346.4L571.9 343.3L572.7 342.1ZM582.0 350.6L579.7 352.0L576.9 352.1L575.3 349.7L576.8 347.4L579.8 347.4ZM569.5 348.5L572.1 346.5L576.4 346.2L578.0 348.8L576.1 350.7L572.3 351.9ZM585.8 348.6L585.1 350.9L582.3 351.6L579.0 349.7L579.8 347.3L581.0 346.5L583.3 345.6L584.8 347.3ZM577.4 361.5L576.4 356.6L580.2 354.6L584.0 355.7L585.0 357.8L584.0 360.7L581.5 361.7ZM576.8 359.4L574.3 360.3L571.3 356.6L572.8 351.3L576.0 351.8L578.8 355.5ZM568.0 352.1L571.8 352.0L572.5 355.4L570.6 356.7L568.1 354.7ZM580.6 357.4L580.4 360.6L579.3 361.9L577.7 364.9L575.3 361.9L573.9 359.7L576.3 356.6L579.3 355.1ZM574.8 350.5L573.7 348.9L575.2 346.1L576.4 344.8L580.2 347.9L581.2 349.7L577.2 351.7ZM582.4 348.3L577.3 350.5L575.7 347.5L573.7 344.0L577.9 340.4L582.4 344.9ZM596.9 350.2L594.4 346.4L596.7 342.9L599.6 342.5L602.3 341.6L603.1 343.2L601.1 346.4L598.8 348.8ZM608.7 340.7L605.4 340.9L603.7 338.2L606.1 336.0L608.7 336.8ZM598.3 351.5L598.6 348.3L599.1 345.7L601.6 344.4L603.3 343.0L603.9 348.3L602.4 349.8ZM599.4 338.3L604.8 334.3L605.1 337.1L604.1 341.5L599.5 341.3ZM603.0 350.9L601.9 348.4L601.6 344.1L603.2 343.0L604.3 344.3L605.9 345.6L604.0 349.2ZM610.5 339.1L609.8 340.8L610.2 342.9L606.6 344.5L606.5 342.6L605.3 340.7L607.3 338.1L608.2 338.0ZM603.8 336.4L604.8 338.4L604.8 341.8L601.7 342.4L600.9 340.7L600.1 338.8L600.0 337.2L602.2 335.7ZM600.5 350.6L596.7 346.7L599.4 345.1L601.7 343.2L603.5 346.7L605.8 351.2L602.3 352.1ZM603.8 338.3L606.6 338.3L606.3 342.6L601.7 347.4L600.8 342.2ZM527.6 360.9L526.7 364.5L524.9 365.8L522.1 367.6L521.1 363.7L519.5 362.1L524.4 359.9ZM524.2 368.7L525.2 365.7L528.4 365.8L529.9 369.2L528.6 372.4L525.8 371.7ZM528.2 380.2L532.8 380.1L536.0 381.1L537.4 384.1L533.0 388.1L529.6 387.8L526.5 385.6ZM532.1 383.0L534.4 383.7L536.4 384.7L534.3 389.3L530.9 391.1L528.6 388.8L528.5 385.7ZM522.8 371.1L525.7 370.6L528.4 370.8L531.1 373.6L527.9 374.6L525.7 374.9L523.7 374.2L522.8 373.0ZM519.9 368.6L518.4 364.1L521.2 363.0L522.9 364.0L523.8 367.3ZM523.7 368.4L522.8 366.1L527.2 363.7L529.6 367.2L529.7 370.0L526.9 371.7ZM527.3 370.6L523.1 372.3L519.7 372.7L520.0 369.3L520.3 367.3L523.1 364.5L525.5 365.4L528.4 366.6ZM530.5 380.7L529.6 386.0L527.6 387.6L526.0 388.3L523.5 382.7L523.2 379.8L527.4 379.0ZM521.9 378.2L518.7 375.5L523.2 373.1L526.3 373.3L527.6 375.9ZM526.2 366.9L523.5 368.9L519.4 362.8L520.4 358.5L524.3 359.7L527.1 361.9ZM521.8 366.6L518.5 361.1L520.4 358.6L525.7 359.2L527.3 362.6ZM531.9 378.1L528.4 381.3L524.3 379.6L522.9 377.3L526.1 373.3L529.6 372.2L530.9 376.6ZM530.7 382.3L530.0 384.1L524.2 385.0L522.4 384.4L516.9 382.1L520.5 380.2L523.3 378.7L528.3 379.9ZM526.4 395.1L523.0 394.8L521.8 392.3L521.7 388.3L524.9 386.8L526.0 390.2ZM532.9 382.3L533.4 385.2L533.6 386.3L531.1 388.4L528.1 389.1L527.7 386.9L528.3 384.2L530.3 382.7ZM530.1 373.3L529.6 369.3L530.5 366.8L535.0 364.6L536.6 368.3L536.2 371.4L532.8 373.8ZM532.0 388.7L527.9 388.1L526.9 386.5L525.1 384.0L525.4 381.9L528.5 382.0L530.8 383.3L532.1 386.5ZM593.9 369.6L591.5 367.5L591.4 365.7L595.0 362.5L596.5 363.8L596.9 365.4L596.9 368.0ZM592.5 365.0L594.8 365.8L596.3 367.0L595.8 370.4L594.5 372.4L592.2 371.5L590.3 369.0L591.5 366.9ZM602.2 363.3L603.5 366.3L599.9 367.7L596.8 368.9L594.2 363.9L598.1 361.9ZM610.0 368.3L605.6 367.3L604.7 364.3L605.2 362.1L609.2 361.9L613.3 363.6L614.3 365.9ZM596.9 364.5L601.8 363.5L603.7 366.2L602.5 367.6L598.4 369.1L597.2 366.4ZM606.1 361.0L608.2 364.4L605.9 366.7L603.2 367.9L601.3 365.2L602.2 362.8L603.8 361.2ZM611.8 376.0L609.2 371.5L607.8 367.1L613.1 368.1L614.4 370.6ZM599.6 369.6L598.4 366.8L599.3 366.0L600.0 364.4L602.1 365.4L603.8 365.5L602.2 368.1L601.9 368.9ZM602.0 372.8L601.8 375.6L600.0 376.5L597.9 374.8L595.3 373.9L596.3 370.9L597.9 369.2L600.9 371.2ZM593.7 392.3L593.6 389.5L596.6 389.3L600.4 390.4L600.4 394.1L600.7 395.6L597.8 396.3L594.3 394.1ZM614.2 389.8L611.4 391.1L609.8 390.9L608.8 388.1L609.5 387.1L612.4 387.5ZM604.6 393.5L601.5 394.7L598.8 389.4L601.6 386.7L605.5 388.8ZM595.8 388.3L599.7 384.0L606.3 384.4L604.4 389.7L600.0 391.5ZM598.5 398.0L599.3 394.6L599.6 393.2L602.4 392.7L603.1 395.0L604.3 397.9L602.2 398.1L599.9 399.1ZM604.3 389.4L605.1 386.8L608.5 386.4L609.0 388.9L609.5 391.4L605.7 392.2ZM610.6 393.4L610.3 389.0L610.4 386.1L613.3 385.6L615.6 387.7L617.2 389.1L616.0 393.8L613.6 393.8ZM610.1 389.4L614.2 386.5L620.1 388.0L621.3 391.7L613.6 392.4ZM596.6 387.1L597.8 385.4L601.4 382.9L604.7 385.1L604.9 389.5L600.0 391.7L596.0 390.3ZM610.9 390.0L610.8 391.5L609.1 391.9L607.6 391.5L606.9 388.5L607.1 386.7L609.3 386.4ZM572.3 388.5L570.6 387.6L570.5 384.9L572.3 384.5L574.6 387.3ZM571.9 386.3L573.1 388.5L571.3 389.5L569.3 390.0L569.4 387.3L569.6 385.7ZM567.6 392.5L573.8 393.1L575.5 395.7L570.9 396.7L567.9 394.2ZM570.3 390.6L573.6 389.9L576.5 392.8L576.5 396.3L573.7 398.3L571.1 396.3L568.5 394.4ZM572.8 394.3L574.6 394.3L578.4 394.7L578.3 400.6L574.8 399.9L572.3 398.1ZM563.2 342.0L563.3 338.1L567.7 338.6L568.9 340.6L564.8 343.4ZM561.1 340.3L564.3 340.2L564.6 341.1L564.9 342.2L564.2 343.1L562.0 343.5L559.5 343.0L559.8 342.2ZM560.4 337.4L563.5 337.3L564.1 338.9L562.8 341.4L560.6 341.6L559.3 340.0ZM554.0 303.5L553.2 308.4L551.9 309.0L550.2 307.8L549.9 305.8L552.1 303.6ZM526.0 323.2L527.1 319.3L529.5 318.8L530.7 320.7L530.4 322.7L528.7 324.0ZM573.7 325.6L574.0 329.4L572.3 328.9L569.4 327.5L570.4 324.2L572.3 324.3ZM525.7 360.0L526.5 362.6L524.4 365.3L520.4 365.7L522.3 362.2ZM606.0 322.9L605.5 323.8L603.3 324.7L602.7 323.8L602.5 322.2L603.7 320.9L605.9 320.7ZM584.3 383.9L583.2 381.3L582.5 380.7L583.5 378.0L585.4 377.0L587.4 378.6L589.5 381.3L586.7 383.8Z" fill="#2424d2" stroke="#16169c" stroke-width="0.6"/><rect x="610.5" y="392.4" width="9.5" height="1.8" fill="#e03030"/><rect x="613.0" y="390.6" width="4" height="0.8" fill="#e06060"/></g>
<g clip-path="url(#cc102)"><rect x="636.00" y="289.00" width="111.00" height="109.80" fill="#d0d5f3"/><rect x="636.00" y="289.00" width="111.00" height="109.80" fill="#d0d5f3" filter="url(#ct102)" opacity="0.7"/><path d="M651.1 356.6a1.3 1.9 0 1 0 2.6 0a1.3 1.9 0 1 0-2.6 0M653.5 367.2a1.3 1.9 0 1 0 2.6 0a1.3 1.9 0 1 0-2.6 0M702.2 331.2a1.3 1.9 0 1 0 2.6 0a1.3 1.9 0 1 0-2.6 0M703.2 351.2a1.3 1.9 0 1 0 2.6 0a1.3 1.9 0 1 0-2.6 0M639.5 347.2a1.3 1.9 0 1 0 2.6 0a1.3 1.9 0 1 0-2.6 0M703.5 346.1a1.3 1.9 0 1 0 2.6 0a1.3 1.9 0 1 0-2.6 0M732.3 369.7a1.3 1.9 0 1 0 2.6 0a1.3 1.9 0 1 0-2.6 0M676.6 313.9a1.3 1.9 0 1 0 2.6 0a1.3 1.9 0 1 0-2.6 0M648.9 378.0a1.3 1.9 0 1 0 2.6 0a1.3 1.9 0 1 0-2.6 0M711.3 355.9a1.3 1.9 0 1 0 2.6 0a1.3 1.9 0 1 0-2.6 0M683.7 344.0a1.3 1.9 0 1 0 2.6 0a1.3 1.9 0 1 0-2.6 0M659.3 347.2a1.3 1.9 0 1 0 2.6 0a1.3 1.9 0 1 0-2.6 0M650.8 357.2a1.3 1.9 0 1 0 2.6 0a1.3 1.9 0 1 0-2.6 0M704.6 362.6a1.3 1.9 0 1 0 2.6 0a1.3 1.9 0 1 0-2.6 0M662.1 299.1a1.3 1.9 0 1 0 2.6 0a1.3 1.9 0 1 0-2.6 0M671.7 364.5a1.3 1.9 0 1 0 2.6 0a1.3 1.9 0 1 0-2.6 0M691.3 371.1a1.3 1.9 0 1 0 2.6 0a1.3 1.9 0 1 0-2.6 0M682.5 332.7a1.3 1.9 0 1 0 2.6 0a1.3 1.9 0 1 0-2.6 0M735.4 307.3a1.3 1.9 0 1 0 2.6 0a1.3 1.9 0 1 0-2.6 0M657.7 353.7a1.3 1.9 0 1 0 2.6 0a1.3 1.9 0 1 0-2.6 0M704.8 336.5a1.3 1.9 0 1 0 2.6 0a1.3 1.9 0 1 0-2.6 0M696.6 337.4a1.3 1.9 0 1 0 2.6 0a1.3 1.9 0 1 0-2.6 0M708.9 386.6a1.3 1.9 0 1 0 2.6 0a1.3 1.9 0 1 0-2.6 0M726.3 359.2a1.3 1.9 0 1 0 2.6 0a1.3 1.9 0 1 0-2.6 0M686.9 393.0a1.3 1.9 0 1 0 2.6 0a1.3 1.9 0 1 0-2.6 0M684.3 357.7a1.3 1.9 0 1 0 2.6 0a1.3 1.9 0 1 0-2.6 0M731.1 364.0a1.3 1.9 0 1 0 2.6 0a1.3 1.9 0 1 0-2.6 0M678.1 370.6a1.3 1.9 0 1 0 2.6 0a1.3 1.9 0 1 0-2.6 0M701.3 389.5a1.3 1.9 0 1 0 2.6 0a1.3 1.9 0 1 0-2.6 0M703.9 347.6a1.3 1.9 0 1 0 2.6 0a1.3 1.9 0 1 0-2.6 0M742.8 346.9a1.3 1.9 0 1 0 2.6 0a1.3 1.9 0 1 0-2.6 0M678.9 392.0a1.3 1.9 0 1 0 2.6 0a1.3 1.9 0 1 0-2.6 0M739.5 307.9a1.3 1.9 0 1 0 2.6 0a1.3 1.9 0 1 0-2.6 0M642.7 383.2a1.3 1.9 0 1 0 2.6 0a1.3 1.9 0 1 0-2.6 0M732.7 331.2a1.3 1.9 0 1 0 2.6 0a1.3 1.9 0 1 0-2.6 0M663.0 364.2a1.3 1.9 0 1 0 2.6 0a1.3 1.9 0 1 0-2.6 0M739.1 312.4a1.3 1.9 0 1 0 2.6 0a1.3 1.9 0 1 0-2.6 0M684.4 361.8a1.3 1.9 0 1 0 2.6 0a1.3 1.9 0 1 0-2.6 0M659.2 334.6a1.3 1.9 0 1 0 2.6 0a1.3 1.9 0 1 0-2.6 0M650.6 341.7a1.3 1.9 0 1 0 2.6 0a1.3 1.9 0 1 0-2.6 0M660.2 297.9a1.3 1.9 0 1 0 2.6 0a1.3 1.9 0 1 0-2.6 0M677.9 305.5a1.3 1.9 0 1 0 2.6 0a1.3 1.9 0 1 0-2.6 0M647.9 305.5a1.3 1.9 0 1 0 2.6 0a1.3 1.9 0 1 0-2.6 0M681.1 323.9a1.3 1.9 0 1 0 2.6 0a1.3 1.9 0 1 0-2.6 0M715.5 334.5a1.3 1.9 0 1 0 2.6 0a1.3 1.9 0 1 0-2.6 0M661.7 309.6a1.3 1.9 0 1 0 2.6 0a1.3 1.9 0 1 0-2.6 0M667.7 370.6a1.3 1.9 0 1 0 2.6 0a1.3 1.9 0 1 0-2.6 0M657.1 340.1a1.3 1.9 0 1 0 2.6 0a1.3 1.9 0 1 0-2.6 0M724.2 380.1a1.3 1.9 0 1 0 2.6 0a1.3 1.9 0 1 0-2.6 0M686.0 381.5a1.3 1.9 0 1 0 2.6 0a1.3 1.9 0 1 0-2.6 0M706.0 313.9a1.3 1.9 0 1 0 2.6 0a1.3 1.9 0 1 0-2.6 0M645.0 307.7a1.3 1.9 0 1 0 2.6 0a1.3 1.9 0 1 0-2.6 0M722.4 331.8a1.3 1.9 0 1 0 2.6 0a1.3 1.9 0 1 0-2.6 0M727.7 395.2a1.3 1.9 0 1 0 2.6 0a1.3 1.9 0 1 0-2.6 0M736.7 340.5a1.3 1.9 0 1 0 2.6 0a1.3 1.9 0 1 0-2.6 0M635.5 319.3a1.3 1.9 0 1 0 2.6 0a1.3 1.9 0 1 0-2.6 0M659.0 360.3a1.3 1.9 0 1 0 2.6 0a1.3 1.9 0 1 0-2.6 0M712.6 390.2a1.3 1.9 0 1 0 2.6 0a1.3 1.9 0 1 0-2.6 0M713.0 394.4a1.3 1.9 0 1 0 2.6 0a1.3 1.9 0 1 0-2.6 0M705.5 341.1a1.3 1.9 0 1 0 2.6 0a1.3 1.9 0 1 0-2.6 0M727.6 319.1a1.3 1.9 0 1 0 2.6 0a1.3 1.9 0 1 0-2.6 0M721.1 368.9a1.3 1.9 0 1 0 2.6 0a1.3 1.9 0 1 0-2.6 0M730.9 295.6a1.3 1.9 0 1 0 2.6 0a1.3 1.9 0 1 0-2.6 0M655.6 393.3a1.3 1.9 0 1 0 2.6 0a1.3 1.9 0 1 0-2.6 0M650.5 338.5a1.3 1.9 0 1 0 2.6 0a1.3 1.9 0 1 0-2.6 0M701.5 341.9a1.3 1.9 0 1 0 2.6 0a1.3 1.9 0 1 0-2.6 0M732.3 393.9a1.3 1.9 0 1 0 2.6 0a1.3 1.9 0 1 0-2.6 0M672.6 303.8a1.3 1.9 0 1 0 2.6 0a1.3 1.9 0 1 0-2.6 0M736.2 338.8a1.3 1.9 0 1 0 2.6 0a1.3 1.9 0 1 0-2.6 0M662.3 304.2a1.3 1.9 0 1 0 2.6 0a1.3 1.9 0 1 0-2.6 0M635.7 353.0a1.3 1.9 0 1 0 2.6 0a1.3 1.9 0 1 0-2.6 0M665.9 350.1a1.3 1.9 0 1 0 2.6 0a1.3 1.9 0 1 0-2.6 0M737.3 342.2a1.3 1.9 0 1 0 2.6 0a1.3 1.9 0 1 0-2.6 0M740.5 296.3a1.3 1.9 0 1 0 2.6 0a1.3 1.9 0 1 0-2.6 0M718.8 371.9a1.3 1.9 0 1 0 2.6 0a1.3 1.9 0 1 0-2.6 0M741.1 292.4a1.3 1.9 0 1 0 2.6 0a1.3 1.9 0 1 0-2.6 0M690.9 350.1a1.3 1.9 0 1 0 2.6 0a1.3 1.9 0 1 0-2.6 0M701.1 340.7a1.3 1.9 0 1 0 2.6 0a1.3 1.9 0 1 0-2.6 0M665.0 388.1a1.3 1.9 0 1 0 2.6 0a1.3 1.9 0 1 0-2.6 0M732.2 366.0a1.3 1.9 0 1 0 2.6 0a1.3 1.9 0 1 0-2.6 0M741.2 349.8a1.3 1.9 0 1 0 2.6 0a1.3 1.9 0 1 0-2.6 0M643.5 365.2a1.3 1.9 0 1 0 2.6 0a1.3 1.9 0 1 0-2.6 0M646.3 371.4a1.3 1.9 0 1 0 2.6 0a1.3 1.9 0 1 0-2.6 0M706.7 311.7a1.3 1.9 0 1 0 2.6 0a1.3 1.9 0 1 0-2.6 0M651.6 296.4a1.3 1.9 0 1 0 2.6 0a1.3 1.9 0 1 0-2.6 0M654.3 396.4a1.3 1.9 0 1 0 2.6 0a1.3 1.9 0 1 0-2.6 0M660.0 386.1a1.3 1.9 0 1 0 2.6 0a1.3 1.9 0 1 0-2.6 0M649.6 326.2a1.3 1.9 0 1 0 2.6 0a1.3 1.9 0 1 0-2.6 0M687.1 328.3a1.3 1.9 0 1 0 2.6 0a1.3 1.9 0 1 0-2.6 0M741.7 315.4a1.3 1.9 0 1 0 2.6 0a1.3 1.9 0 1 0-2.6 0M688.4 311.5a1.3 1.9 0 1 0 2.6 0a1.3 1.9 0 1 0-2.6 0M646.8 364.8a1.3 1.9 0 1 0 2.6 0a1.3 1.9 0 1 0-2.6 0M672.3 342.5a1.3 1.9 0 1 0 2.6 0a1.3 1.9 0 1 0-2.6 0M711.6 298.8a1.3 1.9 0 1 0 2.6 0a1.3 1.9 0 1 0-2.6 0M640.7 364.5a1.3 1.9 0 1 0 2.6 0a1.3 1.9 0 1 0-2.6 0M745.0 291.0a1.3 1.9 0 1 0 2.6 0a1.3 1.9 0 1 0-2.6 0M684.9 398.2a1.3 1.9 0 1 0 2.6 0a1.3 1.9 0 1 0-2.6 0M727.2 397.6a1.3 1.9 0 1 0 2.6 0a1.3 1.9 0 1 0-2.6 0M693.4 395.7a1.3 1.9 0 1 0 2.6 0a1.3 1.9 0 1 0-2.6 0M640.9 340.8a1.3 1.9 0 1 0 2.6 0a1.3 1.9 0 1 0-2.6 0M728.8 331.9a1.3 1.9 0 1 0 2.6 0a1.3 1.9 0 1 0-2.6 0M683.6 338.3a1.3 1.9 0 1 0 2.6 0a1.3 1.9 0 1 0-2.6 0M676.9 378.3a1.3 1.9 0 1 0 2.6 0a1.3 1.9 0 1 0-2.6 0M742.7 314.3a1.3 1.9 0 1 0 2.6 0a1.3 1.9 0 1 0-2.6 0M670.5 377.3a1.3 1.9 0 1 0 2.6 0a1.3 1.9 0 1 0-2.6 0M717.3 378.4a1.3 1.9 0 1 0 2.6 0a1.3 1.9 0 1 0-2.6 0M710.4 389.5a1.3 1.9 0 1 0 2.6 0a1.3 1.9 0 1 0-2.6 0M728.5 358.6a1.3 1.9 0 1 0 2.6 0a1.3 1.9 0 1 0-2.6 0M666.2 298.3a1.3 1.9 0 1 0 2.6 0a1.3 1.9 0 1 0-2.6 0M730.2 383.2a1.3 1.9 0 1 0 2.6 0a1.3 1.9 0 1 0-2.6 0M733.7 318.1a1.3 1.9 0 1 0 2.6 0a1.3 1.9 0 1 0-2.6 0M716.7 391.2a1.3 1.9 0 1 0 2.6 0a1.3 1.9 0 1 0-2.6 0M657.6 291.6a1.3 1.9 0 1 0 2.6 0a1.3 1.9 0 1 0-2.6 0M654.0 313.0a1.3 1.9 0 1 0 2.6 0a1.3 1.9 0 1 0-2.6 0M710.2 379.2a1.3 1.9 0 1 0 2.6 0a1.3 1.9 0 1 0-2.6 0M725.6 364.7a1.3 1.9 0 1 0 2.6 0a1.3 1.9 0 1 0-2.6 0M743.3 395.8a1.3 1.9 0 1 0 2.6 0a1.3 1.9 0 1 0-2.6 0M683.5 390.2a1.3 1.9 0 1 0 2.6 0a1.3 1.9 0 1 0-2.6 0M714.5 315.9a1.3 1.9 0 1 0 2.6 0a1.3 1.9 0 1 0-2.6 0M699.7 307.7a1.3 1.9 0 1 0 2.6 0a1.3 1.9 0 1 0-2.6 0M679.1 378.3a1.3 1.9 0 1 0 2.6 0a1.3 1.9 0 1 0-2.6 0M635.8 347.9a1.3 1.9 0 1 0 2.6 0a1.3 1.9 0 1 0-2.6 0M683.1 320.1a1.3 1.9 0 1 0 2.6 0a1.3 1.9 0 1 0-2.6 0M641.9 346.5a1.3 1.9 0 1 0 2.6 0a1.3 1.9 0 1 0-2.6 0M671.7 299.7a1.3 1.9 0 1 0 2.6 0a1.3 1.9 0 1 0-2.6 0M679.3 363.6a1.3 1.9 0 1 0 2.6 0a1.3 1.9 0 1 0-2.6 0M643.5 375.2a1.3 1.9 0 1 0 2.6 0a1.3 1.9 0 1 0-2.6 0M643.9 340.7a1.3 1.9 0 1 0 2.6 0a1.3 1.9 0 1 0-2.6 0M675.4 383.1a1.3 1.9 0 1 0 2.6 0a1.3 1.9 0 1 0-2.6 0M733.8 369.9a1.3 1.9 0 1 0 2.6 0a1.3 1.9 0 1 0-2.6 0M667.4 324.6a1.3 1.9 0 1 0 2.6 0a1.3 1.9 0 1 0-2.6 0M726.3 345.0a1.3 1.9 0 1 0 2.6 0a1.3 1.9 0 1 0-2.6 0M705.2 368.5a1.3 1.9 0 1 0 2.6 0a1.3 1.9 0 1 0-2.6 0M656.0 331.2a1.3 1.9 0 1 0 2.6 0a1.3 1.9 0 1 0-2.6 0M740.6 325.5a1.3 1.9 0 1 0 2.6 0a1.3 1.9 0 1 0-2.6 0M728.9 306.0a1.3 1.9 0 1 0 2.6 0a1.3 1.9 0 1 0-2.6 0M636.3 344.2a1.3 1.9 0 1 0 2.6 0a1.3 1.9 0 1 0-2.6 0M666.1 354.4a1.3 1.9 0 1 0 2.6 0a1.3 1.9 0 1 0-2.6 0M720.2 293.3a1.3 1.9 0 1 0 2.6 0a1.3 1.9 0 1 0-2.6 0M690.1 330.0a1.3 1.9 0 1 0 2.6 0a1.3 1.9 0 1 0-2.6 0M735.3 381.7a1.3 1.9 0 1 0 2.6 0a1.3 1.9 0 1 0-2.6 0M732.9 370.4a1.3 1.9 0 1 0 2.6 0a1.3 1.9 0 1 0-2.6 0M673.2 357.0a1.3 1.9 0 1 0 2.6 0a1.3 1.9 0 1 0-2.6 0M695.1 329.4a1.3 1.9 0 1 0 2.6 0a1.3 1.9 0 1 0-2.6 0M666.9 360.2a1.3 1.9 0 1 0 2.6 0a1.3 1.9 0 1 0-2.6 0M734.2 315.6a1.3 1.9 0 1 0 2.6 0a1.3 1.9 0 1 0-2.6 0M674.2 306.4a1.3 1.9 0 1 0 2.6 0a1.3 1.9 0 1 0-2.6 0M675.2 331.7a1.3 1.9 0 1 0 2.6 0a1.3 1.9 0 1 0-2.6 0M645.1 359.8a1.3 1.9 0 1 0 2.6 0a1.3 1.9 0 1 0-2.6 0M672.9 377.6a1.3 1.9 0 1 0 2.6 0a1.3 1.9 0 1 0-2.6 0M661.6 369.6a1.3 1.9 0 1 0 2.6 0a1.3 1.9 0 1 0-2.6 0M743.4 307.6a1.3 1.9 0 1 0 2.6 0a1.3 1.9 0 1 0-2.6 0M675.8 395.7a1.3 1.9 0 1 0 2.6 0a1.3 1.9 0 1 0-2.6 0M679.5 325.1a1.3 1.9 0 1 0 2.6 0a1.3 1.9 0 1 0-2.6 0M651.7 380.1a1.3 1.9 0 1 0 2.6 0a1.3 1.9 0 1 0-2.6 0M670.9 385.6a1.3 1.9 0 1 0 2.6 0a1.3 1.9 0 1 0-2.6 0M696.6 308.7a1.3 1.9 0 1 0 2.6 0a1.3 1.9 0 1 0-2.6 0M744.9 387.9a1.3 1.9 0 1 0 2.6 0a1.3 1.9 0 1 0-2.6 0M717.8 355.0a1.3 1.9 0 1 0 2.6 0a1.3 1.9 0 1 0-2.6 0M718.4 393.1a1.3 1.9 0 1 0 2.6 0a1.3 1.9 0 1 0-2.6 0M656.6 315.5a1.3 1.9 0 1 0 2.6 0a1.3 1.9 0 1 0-2.6 0M719.3 334.9a1.3 1.9 0 1 0 2.6 0a1.3 1.9 0 1 0-2.6 0M744.0 380.6a1.3 1.9 0 1 0 2.6 0a1.3 1.9 0 1 0-2.6 0M692.6 306.5a1.3 1.9 0 1 0 2.6 0a1.3 1.9 0 1 0-2.6 0M702.6 355.0a1.3 1.9 0 1 0 2.6 0a1.3 1.9 0 1 0-2.6 0M699.1 374.5a1.3 1.9 0 1 0 2.6 0a1.3 1.9 0 1 0-2.6 0M687.7 387.0a1.3 1.9 0 1 0 2.6 0a1.3 1.9 0 1 0-2.6 0M700.8 306.6a1.3 1.9 0 1 0 2.6 0a1.3 1.9 0 1 0-2.6 0M725.8 307.5a1.3 1.9 0 1 0 2.6 0a1.3 1.9 0 1 0-2.6 0M735.2 390.8a1.3 1.9 0 1 0 2.6 0a1.3 1.9 0 1 0-2.6 0M656.4 311.1a1.3 1.9 0 1 0 2.6 0a1.3 1.9 0 1 0-2.6 0M712.7 339.2a1.3 1.9 0 1 0 2.6 0a1.3 1.9 0 1 0-2.6 0M676.3 371.5a1.3 1.9 0 1 0 2.6 0a1.3 1.9 0 1 0-2.6 0M671.9 303.3a1.3 1.9 0 1 0 2.6 0a1.3 1.9 0 1 0-2.6 0M695.9 385.3a1.3 1.9 0 1 0 2.6 0a1.3 1.9 0 1 0-2.6 0M741.2 300.6a1.3 1.9 0 1 0 2.6 0a1.3 1.9 0 1 0-2.6 0M717.5 324.6a1.3 1.9 0 1 0 2.6 0a1.3 1.9 0 1 0-2.6 0M742.5 331.8a1.3 1.9 0 1 0 2.6 0a1.3 1.9 0 1 0-2.6 0M646.1 325.3a1.3 1.9 0 1 0 2.6 0a1.3 1.9 0 1 0-2.6 0M691.9 308.3a1.3 1.9 0 1 0 2.6 0a1.3 1.9 0 1 0-2.6 0M720.2 325.2a1.3 1.9 0 1 0 2.6 0a1.3 1.9 0 1 0-2.6 0M717.1 314.5a1.3 1.9 0 1 0 2.6 0a1.3 1.9 0 1 0-2.6 0M689.2 361.4a1.3 1.9 0 1 0 2.6 0a1.3 1.9 0 1 0-2.6 0M657.6 320.8a1.3 1.9 0 1 0 2.6 0a1.3 1.9 0 1 0-2.6 0M727.9 332.3a1.3 1.9 0 1 0 2.6 0a1.3 1.9 0 1 0-2.6 0M673.4 356.8a1.3 1.9 0 1 0 2.6 0a1.3 1.9 0 1 0-2.6 0M711.4 383.9a1.3 1.9 0 1 0 2.6 0a1.3 1.9 0 1 0-2.6 0M697.4 382.8a1.3 1.9 0 1 0 2.6 0a1.3 1.9 0 1 0-2.6 0M733.8 390.8a1.3 1.9 0 1 0 2.6 0a1.3 1.9 0 1 0-2.6 0M736.8 365.2a1.3 1.9 0 1 0 2.6 0a1.3 1.9 0 1 0-2.6 0M712.0 331.7a1.3 1.9 0 1 0 2.6 0a1.3 1.9 0 1 0-2.6 0M646.5 390.3a1.3 1.9 0 1 0 2.6 0a1.3 1.9 0 1 0-2.6 0M680.7 326.1a1.3 1.9 0 1 0 2.6 0a1.3 1.9 0 1 0-2.6 0M695.6 372.0a1.3 1.9 0 1 0 2.6 0a1.3 1.9 0 1 0-2.6 0M726.8 301.5a1.3 1.9 0 1 0 2.6 0a1.3 1.9 0 1 0-2.6 0M721.7 392.3a1.3 1.9 0 1 0 2.6 0a1.3 1.9 0 1 0-2.6 0M743.3 392.4a1.3 1.9 0 1 0 2.6 0a1.3 1.9 0 1 0-2.6 0M698.2 386.6a1.3 1.9 0 1 0 2.6 0a1.3 1.9 0 1 0-2.6 0M700.3 382.2a1.3 1.9 0 1 0 2.6 0a1.3 1.9 0 1 0-2.6 0M744.6 330.2a1.3 1.9 0 1 0 2.6 0a1.3 1.9 0 1 0-2.6 0M648.4 371.4a1.3 1.9 0 1 0 2.6 0a1.3 1.9 0 1 0-2.6 0M738.8 388.3a1.3 1.9 0 1 0 2.6 0a1.3 1.9 0 1 0-2.6 0M686.0 338.3a1.3 1.9 0 1 0 2.6 0a1.3 1.9 0 1 0-2.6 0M648.5 382.5a1.3 1.9 0 1 0 2.6 0a1.3 1.9 0 1 0-2.6 0M664.9 302.4a1.3 1.9 0 1 0 2.6 0a1.3 1.9 0 1 0-2.6 0M646.0 391.2a1.3 1.9 0 1 0 2.6 0a1.3 1.9 0 1 0-2.6 0M680.8 376.1a1.3 1.9 0 1 0 2.6 0a1.3 1.9 0 1 0-2.6 0M642.5 341.9a1.3 1.9 0 1 0 2.6 0a1.3 1.9 0 1 0-2.6 0M717.5 373.7a1.3 1.9 0 1 0 2.6 0a1.3 1.9 0 1 0-2.6 0M655.8 341.8a1.3 1.9 0 1 0 2.6 0a1.3 1.9 0 1 0-2.6 0M724.9 389.3a1.3 1.9 0 1 0 2.6 0a1.3 1.9 0 1 0-2.6 0M645.1 353.5a1.3 1.9 0 1 0 2.6 0a1.3 1.9 0 1 0-2.6 0M733.5 357.1a1.3 1.9 0 1 0 2.6 0a1.3 1.9 0 1 0-2.6 0M721.9 321.7a1.3 1.9 0 1 0 2.6 0a1.3 1.9 0 1 0-2.6 0M689.4 290.5a1.3 1.9 0 1 0 2.6 0a1.3 1.9 0 1 0-2.6 0M723.3 350.8a1.3 1.9 0 1 0 2.6 0a1.3 1.9 0 1 0-2.6 0M654.8 392.3a1.3 1.9 0 1 0 2.6 0a1.3 1.9 0 1 0-2.6 0M658.2 292.7a1.3 1.9 0 1 0 2.6 0a1.3 1.9 0 1 0-2.6 0M715.1 297.8a1.3 1.9 0 1 0 2.6 0a1.3 1.9 0 1 0-2.6 0M707.8 304.0a1.3 1.9 0 1 0 2.6 0a1.3 1.9 0 1 0-2.6 0M637.2 369.9a1.3 1.9 0 1 0 2.6 0a1.3 1.9 0 1 0-2.6 0M702.8 361.4a1.3 1.9 0 1 0 2.6 0a1.3 1.9 0 1 0-2.6 0M713.4 367.7a1.3 1.9 0 1 0 2.6 0a1.3 1.9 0 1 0-2.6 0M654.3 335.6a1.3 1.9 0 1 0 2.6 0a1.3 1.9 0 1 0-2.6 0M700.4 384.1a1.3 1.9 0 1 0 2.6 0a1.3 1.9 0 1 0-2.6 0M706.4 342.6a1.3 1.9 0 1 0 2.6 0a1.3 1.9 0 1 0-2.6 0M725.7 381.7a1.3 1.9 0 1 0 2.6 0a1.3 1.9 0 1 0-2.6 0M662.4 309.1a1.3 1.9 0 1 0 2.6 0a1.3 1.9 0 1 0-2.6 0M635.3 384.7a1.3 1.9 0 1 0 2.6 0a1.3 1.9 0 1 0-2.6 0M658.2 352.5a1.3 1.9 0 1 0 2.6 0a1.3 1.9 0 1 0-2.6 0M693.1 361.2a1.3 1.9 0 1 0 2.6 0a1.3 1.9 0 1 0-2.6 0M738.9 361.1a1.3 1.9 0 1 0 2.6 0a1.3 1.9 0 1 0-2.6 0M653.8 336.3a1.3 1.9 0 1 0 2.6 0a1.3 1.9 0 1 0-2.6 0M655.3 331.0a1.3 1.9 0 1 0 2.6 0a1.3 1.9 0 1 0-2.6 0M716.9 360.6a1.3 1.9 0 1 0 2.6 0a1.3 1.9 0 1 0-2.6 0M704.4 383.8a1.3 1.9 0 1 0 2.6 0a1.3 1.9 0 1 0-2.6 0M745.5 316.6a1.3 1.9 0 1 0 2.6 0a1.3 1.9 0 1 0-2.6 0M712.6 359.9a1.3 1.9 0 1 0 2.6 0a1.3 1.9 0 1 0-2.6 0M637.7 397.9a1.3 1.9 0 1 0 2.6 0a1.3 1.9 0 1 0-2.6 0M679.0 362.9a1.3 1.9 0 1 0 2.6 0a1.3 1.9 0 1 0-2.6 0M660.2 335.5a1.3 1.9 0 1 0 2.6 0a1.3 1.9 0 1 0-2.6 0M647.8 395.3a1.3 1.9 0 1 0 2.6 0a1.3 1.9 0 1 0-2.6 0M639.3 297.0a1.3 1.9 0 1 0 2.6 0a1.3 1.9 0 1 0-2.6 0M715.4 352.3a1.3 1.9 0 1 0 2.6 0a1.3 1.9 0 1 0-2.6 0M670.5 392.3a1.3 1.9 0 1 0 2.6 0a1.3 1.9 0 1 0-2.6 0M712.3 338.3a1.3 1.9 0 1 0 2.6 0a1.3 1.9 0 1 0-2.6 0M713.7 391.9a1.3 1.9 0 1 0 2.6 0a1.3 1.9 0 1 0-2.6 0M731.5 329.0a1.3 1.9 0 1 0 2.6 0a1.3 1.9 0 1 0-2.6 0M720.7 313.2a1.3 1.9 0 1 0 2.6 0a1.3 1.9 0 1 0-2.6 0M677.5 398.0a1.3 1.9 0 1 0 2.6 0a1.3 1.9 0 1 0-2.6 0M716.3 333.0a1.3 1.9 0 1 0 2.6 0a1.3 1.9 0 1 0-2.6 0M695.1 337.0a1.3 1.9 0 1 0 2.6 0a1.3 1.9 0 1 0-2.6 0M713.2 346.4a1.3 1.9 0 1 0 2.6 0a1.3 1.9 0 1 0-2.6 0M685.0 335.0a1.3 1.9 0 1 0 2.6 0a1.3 1.9 0 1 0-2.6 0M732.3 378.0a1.3 1.9 0 1 0 2.6 0a1.3 1.9 0 1 0-2.6 0M661.6 332.7a1.3 1.9 0 1 0 2.6 0a1.3 1.9 0 1 0-2.6 0M734.6 369.1a1.3 1.9 0 1 0 2.6 0a1.3 1.9 0 1 0-2.6 0M701.4 358.1a1.3 1.9 0 1 0 2.6 0a1.3 1.9 0 1 0-2.6 0M657.1 351.3a1.3 1.9 0 1 0 2.6 0a1.3 1.9 0 1 0-2.6 0M717.5 337.4a1.3 1.9 0 1 0 2.6 0a1.3 1.9 0 1 0-2.6 0M680.1 336.3a1.3 1.9 0 1 0 2.6 0a1.3 1.9 0 1 0-2.6 0M701.2 313.1a1.3 1.9 0 1 0 2.6 0a1.3 1.9 0 1 0-2.6 0M725.9 296.1a1.3 1.9 0 1 0 2.6 0a1.3 1.9 0 1 0-2.6 0M720.5 346.6a1.3 1.9 0 1 0 2.6 0a1.3 1.9 0 1 0-2.6 0M662.5 316.6a1.3 1.9 0 1 0 2.6 0a1.3 1.9 0 1 0-2.6 0M664.6 306.8a1.3 1.9 0 1 0 2.6 0a1.3 1.9 0 1 0-2.6 0M744.9 319.6a1.3 1.9 0 1 0 2.6 0a1.3 1.9 0 1 0-2.6 0M644.0 361.3a1.3 1.9 0 1 0 2.6 0a1.3 1.9 0 1 0-2.6 0M743.0 320.6a1.3 1.9 0 1 0 2.6 0a1.3 1.9 0 1 0-2.6 0M660.4 353.2a1.3 1.9 0 1 0 2.6 0a1.3 1.9 0 1 0-2.6 0M670.9 339.5a1.3 1.9 0 1 0 2.6 0a1.3 1.9 0 1 0-2.6 0M698.3 398.6a1.3 1.9 0 1 0 2.6 0a1.3 1.9 0 1 0-2.6 0M676.6 328.8a1.3 1.9 0 1 0 2.6 0a1.3 1.9 0 1 0-2.6 0M713.3 351.7a1.3 1.9 0 1 0 2.6 0a1.3 1.9 0 1 0-2.6 0M732.0 336.7a1.3 1.9 0 1 0 2.6 0a1.3 1.9 0 1 0-2.6 0M705.3 345.0a1.3 1.9 0 1 0 2.6 0a1.3 1.9 0 1 0-2.6 0M701.7 342.7a1.3 1.9 0 1 0 2.6 0a1.3 1.9 0 1 0-2.6 0M652.7 302.6a1.3 1.9 0 1 0 2.6 0a1.3 1.9 0 1 0-2.6 0M678.8 398.8a1.3 1.9 0 1 0 2.6 0a1.3 1.9 0 1 0-2.6 0M691.2 343.8a1.3 1.9 0 1 0 2.6 0a1.3 1.9 0 1 0-2.6 0M684.4 374.2a1.3 1.9 0 1 0 2.6 0a1.3 1.9 0 1 0-2.6 0M674.0 331.8a1.3 1.9 0 1 0 2.6 0a1.3 1.9 0 1 0-2.6 0M672.0 351.8a1.3 1.9 0 1 0 2.6 0a1.3 1.9 0 1 0-2.6 0M687.9 355.2a1.3 1.9 0 1 0 2.6 0a1.3 1.9 0 1 0-2.6 0M738.6 326.6a1.3 1.9 0 1 0 2.6 0a1.3 1.9 0 1 0-2.6 0M704.0 398.0a1.3 1.9 0 1 0 2.6 0a1.3 1.9 0 1 0-2.6 0M717.1 381.6a1.3 1.9 0 1 0 2.6 0a1.3 1.9 0 1 0-2.6 0M724.9 310.6a1.3 1.9 0 1 0 2.6 0a1.3 1.9 0 1 0-2.6 0M705.0 326.9a1.3 1.9 0 1 0 2.6 0a1.3 1.9 0 1 0-2.6 0M674.1 303.0a1.3 1.9 0 1 0 2.6 0a1.3 1.9 0 1 0-2.6 0M721.4 390.3a1.3 1.9 0 1 0 2.6 0a1.3 1.9 0 1 0-2.6 0M730.4 336.8a1.3 1.9 0 1 0 2.6 0a1.3 1.9 0 1 0-2.6 0M736.7 377.3a1.3 1.9 0 1 0 2.6 0a1.3 1.9 0 1 0-2.6 0M703.1 377.2a1.3 1.9 0 1 0 2.6 0a1.3 1.9 0 1 0-2.6 0M721.0 290.3a1.3 1.9 0 1 0 2.6 0a1.3 1.9 0 1 0-2.6 0M703.6 360.3a1.3 1.9 0 1 0 2.6 0a1.3 1.9 0 1 0-2.6 0M674.6 377.8a1.3 1.9 0 1 0 2.6 0a1.3 1.9 0 1 0-2.6 0M716.6 299.0a1.3 1.9 0 1 0 2.6 0a1.3 1.9 0 1 0-2.6 0M677.7 290.0a1.3 1.9 0 1 0 2.6 0a1.3 1.9 0 1 0-2.6 0M676.3 301.2a1.3 1.9 0 1 0 2.6 0a1.3 1.9 0 1 0-2.6 0M634.9 321.7a1.3 1.9 0 1 0 2.6 0a1.3 1.9 0 1 0-2.6 0M714.3 308.2a1.3 1.9 0 1 0 2.6 0a1.3 1.9 0 1 0-2.6 0M742.3 309.5a1.3 1.9 0 1 0 2.6 0a1.3 1.9 0 1 0-2.6 0M726.8 318.7a1.3 1.9 0 1 0 2.6 0a1.3 1.9 0 1 0-2.6 0M731.9 344.7a1.3 1.9 0 1 0 2.6 0a1.3 1.9 0 1 0-2.6 0M728.0 337.9a1.3 1.9 0 1 0 2.6 0a1.3 1.9 0 1 0-2.6 0M665.8 386.2a1.3 1.9 0 1 0 2.6 0a1.3 1.9 0 1 0-2.6 0M637.0 303.1a1.3 1.9 0 1 0 2.6 0a1.3 1.9 0 1 0-2.6 0M650.2 350.5a1.3 1.9 0 1 0 2.6 0a1.3 1.9 0 1 0-2.6 0M719.0 316.0a1.3 1.9 0 1 0 2.6 0a1.3 1.9 0 1 0-2.6 0M699.2 382.6a1.3 1.9 0 1 0 2.6 0a1.3 1.9 0 1 0-2.6 0M635.3 372.8a1.3 1.9 0 1 0 2.6 0a1.3 1.9 0 1 0-2.6 0M650.0 292.0a1.3 1.9 0 1 0 2.6 0a1.3 1.9 0 1 0-2.6 0M689.4 331.5a1.3 1.9 0 1 0 2.6 0a1.3 1.9 0 1 0-2.6 0M678.5 358.9a1.3 1.9 0 1 0 2.6 0a1.3 1.9 0 1 0-2.6 0M636.4 355.4a1.3 1.9 0 1 0 2.6 0a1.3 1.9 0 1 0-2.6 0M650.9 392.6a1.3 1.9 0 1 0 2.6 0a1.3 1.9 0 1 0-2.6 0M687.2 312.4a1.3 1.9 0 1 0 2.6 0a1.3 1.9 0 1 0-2.6 0M692.9 334.3a1.3 1.9 0 1 0 2.6 0a1.3 1.9 0 1 0-2.6 0M642.6 372.6a1.3 1.9 0 1 0 2.6 0a1.3 1.9 0 1 0-2.6 0M682.5 381.5a1.3 1.9 0 1 0 2.6 0a1.3 1.9 0 1 0-2.6 0M718.9 379.7a1.3 1.9 0 1 0 2.6 0a1.3 1.9 0 1 0-2.6 0M740.4 321.5a1.3 1.9 0 1 0 2.6 0a1.3 1.9 0 1 0-2.6 0M697.4 351.7a1.3 1.9 0 1 0 2.6 0a1.3 1.9 0 1 0-2.6 0M703.3 370.9a1.3 1.9 0 1 0 2.6 0a1.3 1.9 0 1 0-2.6 0M719.5 360.5a1.3 1.9 0 1 0 2.6 0a1.3 1.9 0 1 0-2.6 0M701.7 348.6a1.3 1.9 0 1 0 2.6 0a1.3 1.9 0 1 0-2.6 0M650.4 318.8a1.3 1.9 0 1 0 2.6 0a1.3 1.9 0 1 0-2.6 0M648.0 354.6a1.3 1.9 0 1 0 2.6 0a1.3 1.9 0 1 0-2.6 0M701.9 313.6a1.3 1.9 0 1 0 2.6 0a1.3 1.9 0 1 0-2.6 0" fill="#6468b2"/><path d="M682.4 303.2L683.8 302.7L685.3 303.3L687.9 307.1L687.1 309.5L685.8 309.3L683.8 307.8L682.2 307.3ZM705.5 297.0L704.1 298.0L700.9 296.5L700.2 295.2L702.6 292.3L705.8 294.1ZM693.4 300.3L694.1 302.2L690.0 303.3L687.7 300.9L690.0 298.9ZM707.2 301.7L702.9 305.3L699.8 302.0L701.1 298.0L705.2 297.8ZM686.6 299.8L691.8 300.0L692.5 303.5L689.7 306.8L685.7 303.5ZM688.0 289.4L691.9 288.7L694.0 292.0L696.4 295.1L696.0 298.0L691.5 298.2L689.6 296.0L686.1 290.4ZM682.8 304.1L679.5 302.2L680.2 299.4L682.3 297.5L684.5 297.4L686.2 298.5L685.2 301.9ZM678.3 297.1L681.0 294.2L686.3 289.8L687.3 291.6L686.3 296.7L684.0 297.3ZM695.9 293.0L699.9 294.3L698.8 297.9L696.2 300.7L694.0 297.0L693.5 294.7ZM697.3 297.9L694.1 294.7L695.3 290.7L697.5 289.6L699.8 293.1L698.5 296.6ZM699.3 309.9L696.3 312.5L694.6 313.5L691.0 312.2L691.4 306.1L696.4 305.6ZM701.6 309.3L698.9 314.6L693.1 309.4L695.2 305.1L701.9 305.6ZM710.3 314.4L709.4 318.5L704.3 318.5L700.8 312.8L704.8 310.4L707.6 311.2ZM709.9 316.4L709.0 314.8L706.8 311.9L708.2 308.5L709.3 307.0L713.9 310.3L715.2 313.1L713.7 314.1ZM701.4 328.7L698.8 326.7L697.3 320.7L700.3 321.4L703.5 324.6ZM697.2 321.6L698.7 317.1L701.9 317.4L702.2 321.0L699.8 323.6ZM696.5 321.8L691.5 322.3L689.4 319.7L691.8 317.0L695.0 314.5L698.3 315.1L699.8 317.1L700.3 319.9ZM701.5 316.6L705.3 314.5L708.1 318.1L708.1 322.5L704.3 323.0L699.1 321.2ZM698.4 310.1L700.5 307.3L701.8 306.8L704.0 308.8L702.0 312.3L700.1 313.9L698.6 312.1ZM701.4 320.8L700.1 322.4L698.1 324.7L694.1 322.7L694.3 320.5L692.6 318.7L695.5 316.6L698.8 318.5ZM713.4 308.0L714.2 310.3L713.3 313.8L706.7 314.7L705.4 310.8L708.9 307.8ZM704.4 314.6L704.5 311.2L710.6 311.2L710.3 315.0L708.0 319.5ZM695.4 321.3L695.0 319.5L698.2 317.9L701.6 319.0L703.1 321.1L703.5 325.1L699.6 324.5L697.4 325.4ZM701.6 319.3L703.5 315.5L710.4 314.3L711.2 316.4L707.6 320.3L703.5 322.3ZM696.3 317.5L697.3 315.7L701.3 315.9L701.8 320.0L699.8 321.4L697.5 323.9L695.7 321.2L694.3 318.0ZM714.7 326.3L711.5 325.3L712.2 321.4L711.8 318.3L716.7 317.3L718.8 321.8L719.2 324.7ZM658.0 295.5L658.3 293.5L660.0 292.9L661.7 294.4L661.3 297.3ZM655.6 295.9L654.0 294.2L655.5 292.9L657.1 292.6L659.2 293.6L662.7 295.3L661.7 297.7L658.2 296.8ZM730.0 322.2L727.4 318.2L729.5 315.9L732.7 317.8L733.5 322.7ZM729.3 316.5L729.7 314.5L731.6 313.3L734.0 314.4L733.3 317.2L732.2 319.0L729.7 318.4ZM723.7 321.2L725.1 316.1L730.4 317.3L729.9 320.0L727.5 322.2ZM730.5 313.7L729.6 316.2L727.7 316.4L725.3 314.5L724.9 312.0L725.6 309.2L729.0 311.2ZM742.6 304.5L744.8 304.8L744.6 308.8L744.0 310.9L739.6 312.7L738.3 309.6L738.1 307.4ZM742.1 306.0L739.1 306.7L738.1 302.9L741.4 301.1L743.6 300.3L744.4 302.8ZM736.5 309.5L734.4 308.2L735.4 304.6L737.9 304.7L739.6 308.4ZM647.8 332.6L645.3 331.8L645.9 329.1L646.7 326.6L648.1 324.4L651.2 327.3L651.9 328.5L650.4 330.3ZM653.9 330.1L651.9 333.2L648.8 333.7L647.4 331.9L650.2 330.1ZM648.3 326.9L651.7 330.5L651.1 333.6L649.3 334.5L645.8 330.3L645.8 327.1ZM649.1 332.3L650.3 334.5L648.6 335.7L646.7 335.0L644.4 333.2L646.2 331.9ZM649.6 332.2L647.3 333.7L645.7 334.5L643.1 330.6L645.1 327.4L647.3 326.5ZM665.3 324.4L668.4 325.1L669.1 327.5L664.7 328.7L662.7 327.6L663.0 326.0ZM672.6 327.4L674.6 328.7L675.7 329.9L674.9 333.1L673.7 332.5L671.9 331.1L671.9 329.3ZM667.9 330.9L665.7 329.2L663.5 326.9L665.1 324.0L669.7 323.0L670.7 325.6L670.1 327.9ZM674.8 323.2L674.2 325.5L671.7 326.6L669.6 323.9L672.6 322.8ZM671.2 323.4L672.2 326.0L672.2 328.2L668.7 328.1L666.3 327.6L666.1 325.5L667.5 323.6ZM700.4 346.7L700.5 345.2L704.9 345.8L705.6 348.1L703.6 351.2L700.5 350.9ZM705.3 348.0L700.6 349.4L696.3 347.7L697.8 343.4L703.0 345.4ZM701.8 345.2L701.8 346.7L699.5 349.3L697.2 344.9L698.7 342.3ZM702.2 353.1L699.9 352.2L699.5 350.0L700.2 349.0L703.1 348.1L706.4 349.5L703.7 351.5ZM686.8 347.1L687.8 345.2L690.8 344.9L694.2 346.3L693.7 347.5L691.6 350.8L688.8 350.2L687.3 348.7ZM708.5 348.4L707.6 351.6L701.9 355.3L701.0 351.2L703.3 347.4ZM696.4 347.4L695.4 345.1L695.6 343.1L696.8 341.5L698.4 340.0L700.2 342.4L700.9 343.1L699.3 345.4ZM704.9 349.3L704.4 352.0L702.5 351.5L699.6 349.9L701.2 348.0L702.3 346.6L704.4 346.9ZM696.9 342.8L695.4 340.1L696.7 339.0L698.5 338.8L702.5 341.5L702.4 343.7L702.6 345.3L699.6 345.7ZM691.5 347.1L690.5 344.4L693.3 342.9L695.9 344.7L696.0 347.7L692.9 349.6ZM659.6 361.9L659.3 358.8L662.4 358.1L664.9 360.4L666.3 361.3L664.1 364.8L662.0 365.2ZM670.6 372.5L668.6 373.8L667.3 372.0L666.2 369.3L668.7 366.2L671.3 365.7L672.0 367.4L673.0 368.5ZM671.5 381.3L668.4 378.9L667.2 374.2L667.7 371.7L670.6 372.1L674.3 376.9ZM675.7 363.9L674.9 360.4L678.6 359.2L680.7 361.1L680.0 363.6L678.5 365.6L677.0 365.0ZM674.6 367.0L671.6 367.4L669.7 367.6L669.5 365.2L671.4 363.5L673.5 362.8L676.2 363.9L676.6 365.9ZM666.7 378.4L666.8 375.8L665.6 371.7L669.9 369.6L671.2 372.7L672.4 377.6L670.4 380.3ZM658.2 360.4L658.2 357.1L659.2 355.3L661.3 355.1L665.4 355.9L665.1 358.1L664.7 360.3L662.3 360.5ZM684.0 363.6L681.1 368.0L678.0 366.4L676.5 363.7L680.7 361.0ZM679.3 366.7L681.2 367.7L682.2 369.1L681.4 372.0L678.7 373.7L676.8 371.8L677.2 369.1ZM674.0 363.3L679.4 365.6L678.5 371.4L674.7 371.4L670.3 367.3ZM672.4 369.9L677.3 372.8L673.0 376.6L669.0 377.8L665.5 372.9L669.2 369.8ZM679.6 365.1L684.5 364.0L683.3 369.8L678.9 372.4L675.4 368.6ZM662.5 367.1L659.0 362.6L664.3 361.5L668.0 362.7L671.8 368.1L666.1 369.7ZM679.4 368.7L679.4 369.9L676.7 372.3L673.1 370.9L673.8 368.5L677.1 365.4ZM682.6 362.1L683.5 363.3L682.6 365.1L679.2 365.6L675.5 364.1L676.0 361.0L675.9 359.9L681.0 360.2ZM669.9 354.0L667.4 356.7L664.6 353.2L665.5 348.4L668.9 346.3L672.1 344.6L672.7 350.5ZM659.7 365.1L662.2 360.8L665.7 364.8L667.4 366.0L666.3 372.1L662.3 372.9L660.1 370.9ZM668.7 374.4L666.5 377.6L663.6 380.0L661.1 373.6L664.7 367.8L667.8 368.8ZM738.1 357.0L740.7 355.7L741.7 358.8L740.0 361.1L736.7 359.7ZM743.6 365.8L741.9 363.5L743.9 359.7L746.2 361.9L746.3 365.6ZM747.9 365.6L750.3 366.3L749.0 371.4L746.0 371.5L743.2 371.3L743.8 367.7L745.8 365.4ZM739.3 359.1L737.5 356.2L739.3 353.0L743.0 354.9L742.1 357.3ZM744.2 372.7L745.8 373.9L746.1 376.4L744.4 376.7L742.8 377.2L741.9 373.9L741.9 371.6ZM745.2 370.2L743.7 368.0L744.1 366.3L748.3 366.1L748.1 368.6ZM741.4 354.1L743.7 356.8L740.2 358.3L736.9 355.4L739.1 353.3ZM744.3 363.6L746.2 364.3L745.5 366.6L745.3 367.6L743.1 367.4L741.4 365.7L743.0 364.3ZM643.3 400.9L641.5 400.5L639.8 399.4L639.4 397.5L642.3 395.5L643.4 393.7L645.3 396.1L644.6 400.8ZM644.0 398.9L640.6 398.4L638.3 396.3L639.5 393.7L642.4 391.9L645.2 393.6L645.7 395.3ZM644.2 394.8L642.1 395.2L640.4 394.9L639.0 392.3L642.7 391.6L645.5 392.7ZM668.0 397.7L664.2 396.0L665.6 394.2L670.0 394.0L671.1 396.3ZM669.1 399.5L666.1 400.2L666.4 397.5L667.4 396.0L669.7 395.2L672.0 396.2L670.7 398.6ZM670.9 396.8L672.6 395.9L673.3 396.2L675.3 397.4L674.7 399.5L673.8 400.6L671.9 400.6L670.3 398.6ZM692.5 384.4L690.5 382.4L692.6 380.9L693.9 381.8L694.9 383.7ZM692.2 375.3L694.5 375.4L693.8 378.6L691.6 378.6L689.4 378.7L690.0 375.0ZM688.6 385.7L687.1 384.7L687.1 383.7L689.0 381.9L690.7 382.3L691.9 383.6L690.8 386.7ZM682.3 337.1L677.7 338.7L676.5 336.2L679.5 333.3L681.7 334.4ZM735.0 330.9L736.1 330.1L738.1 330.2L739.4 330.7L739.1 332.6L737.6 333.4L735.8 333.6L734.5 332.7ZM653.1 399.1L652.5 397.4L653.5 395.9L654.3 394.2L656.3 393.7L657.5 395.0L657.1 397.0L655.9 399.3ZM698.3 316.2L697.8 313.5L699.4 312.7L701.2 313.7L702.1 315.7L699.5 317.0ZM692.8 306.1L694.3 303.3L695.6 302.1L697.6 303.1L697.8 304.9L697.7 306.3L695.9 308.6L694.9 307.1Z" fill="#2a2ad0" stroke="#1c1c9c" stroke-width="0.6"/><rect x="734.5" y="392.6" width="9.5" height="1.8" fill="#e03030"/><rect x="737.0" y="390.8" width="4" height="0.8" fill="#e06060"/></g>
<g clip-path="url(#cc103)"><rect x="759.50" y="288.60" width="110.30" height="110.10" fill="#a0a9da"/><rect x="759.50" y="288.60" width="110.30" height="110.10" fill="#a0a9da" filter="url(#ct103)" opacity="1.0"/><path d="M866.5 338.8a1.0 1.35 0 1 0 2.0 0a1.0 1.35 0 1 0-2.0 0M837.8 369.5a1.0 1.35 0 1 0 2.0 0a1.0 1.35 0 1 0-2.0 0M782.2 297.2a1.0 1.35 0 1 0 2.0 0a1.0 1.35 0 1 0-2.0 0M825.0 302.0a1.0 1.35 0 1 0 2.0 0a1.0 1.35 0 1 0-2.0 0M800.7 386.6a1.0 1.35 0 1 0 2.0 0a1.0 1.35 0 1 0-2.0 0M854.7 301.7a1.0 1.35 0 1 0 2.0 0a1.0 1.35 0 1 0-2.0 0M767.6 313.1a1.0 1.35 0 1 0 2.0 0a1.0 1.35 0 1 0-2.0 0M849.8 291.3a1.0 1.35 0 1 0 2.0 0a1.0 1.35 0 1 0-2.0 0M783.3 300.4a1.0 1.35 0 1 0 2.0 0a1.0 1.35 0 1 0-2.0 0M772.6 346.2a1.0 1.35 0 1 0 2.0 0a1.0 1.35 0 1 0-2.0 0M778.7 333.7a1.0 1.35 0 1 0 2.0 0a1.0 1.35 0 1 0-2.0 0M839.4 368.2a1.0 1.35 0 1 0 2.0 0a1.0 1.35 0 1 0-2.0 0M804.3 375.2a1.0 1.35 0 1 0 2.0 0a1.0 1.35 0 1 0-2.0 0M821.6 379.6a1.0 1.35 0 1 0 2.0 0a1.0 1.35 0 1 0-2.0 0M786.0 329.2a1.0 1.35 0 1 0 2.0 0a1.0 1.35 0 1 0-2.0 0M822.5 392.7a1.0 1.35 0 1 0 2.0 0a1.0 1.35 0 1 0-2.0 0M826.7 340.9a1.0 1.35 0 1 0 2.0 0a1.0 1.35 0 1 0-2.0 0M786.2 319.6a1.0 1.35 0 1 0 2.0 0a1.0 1.35 0 1 0-2.0 0M782.3 397.2a1.0 1.35 0 1 0 2.0 0a1.0 1.35 0 1 0-2.0 0M856.3 387.1a1.0 1.35 0 1 0 2.0 0a1.0 1.35 0 1 0-2.0 0M816.8 366.6a1.0 1.35 0 1 0 2.0 0a1.0 1.35 0 1 0-2.0 0M791.2 341.6a1.0 1.35 0 1 0 2.0 0a1.0 1.35 0 1 0-2.0 0M774.6 334.9a1.0 1.35 0 1 0 2.0 0a1.0 1.35 0 1 0-2.0 0M786.4 299.6a1.0 1.35 0 1 0 2.0 0a1.0 1.35 0 1 0-2.0 0M859.9 299.2a1.0 1.35 0 1 0 2.0 0a1.0 1.35 0 1 0-2.0 0M848.2 365.6a1.0 1.35 0 1 0 2.0 0a1.0 1.35 0 1 0-2.0 0M768.4 342.0a1.0 1.35 0 1 0 2.0 0a1.0 1.35 0 1 0-2.0 0M868.3 397.3a1.0 1.35 0 1 0 2.0 0a1.0 1.35 0 1 0-2.0 0M820.6 373.6a1.0 1.35 0 1 0 2.0 0a1.0 1.35 0 1 0-2.0 0M836.7 320.7a1.0 1.35 0 1 0 2.0 0a1.0 1.35 0 1 0-2.0 0M819.2 354.3a1.0 1.35 0 1 0 2.0 0a1.0 1.35 0 1 0-2.0 0M802.0 378.8a1.0 1.35 0 1 0 2.0 0a1.0 1.35 0 1 0-2.0 0M807.5 371.1a1.0 1.35 0 1 0 2.0 0a1.0 1.35 0 1 0-2.0 0M765.6 337.6a1.0 1.35 0 1 0 2.0 0a1.0 1.35 0 1 0-2.0 0M763.4 359.8a1.0 1.35 0 1 0 2.0 0a1.0 1.35 0 1 0-2.0 0M854.8 348.4a1.0 1.35 0 1 0 2.0 0a1.0 1.35 0 1 0-2.0 0M820.9 357.1a1.0 1.35 0 1 0 2.0 0a1.0 1.35 0 1 0-2.0 0M783.8 331.1a1.0 1.35 0 1 0 2.0 0a1.0 1.35 0 1 0-2.0 0M822.3 359.8a1.0 1.35 0 1 0 2.0 0a1.0 1.35 0 1 0-2.0 0M800.4 341.2a1.0 1.35 0 1 0 2.0 0a1.0 1.35 0 1 0-2.0 0M795.0 349.6a1.0 1.35 0 1 0 2.0 0a1.0 1.35 0 1 0-2.0 0M833.1 324.7a1.0 1.35 0 1 0 2.0 0a1.0 1.35 0 1 0-2.0 0M834.1 382.1a1.0 1.35 0 1 0 2.0 0a1.0 1.35 0 1 0-2.0 0M817.7 396.5a1.0 1.35 0 1 0 2.0 0a1.0 1.35 0 1 0-2.0 0M792.6 389.8a1.0 1.35 0 1 0 2.0 0a1.0 1.35 0 1 0-2.0 0M778.6 328.6a1.0 1.35 0 1 0 2.0 0a1.0 1.35 0 1 0-2.0 0M848.6 292.2a1.0 1.35 0 1 0 2.0 0a1.0 1.35 0 1 0-2.0 0M826.3 384.5a1.0 1.35 0 1 0 2.0 0a1.0 1.35 0 1 0-2.0 0M862.6 363.7a1.0 1.35 0 1 0 2.0 0a1.0 1.35 0 1 0-2.0 0M796.6 325.2a1.0 1.35 0 1 0 2.0 0a1.0 1.35 0 1 0-2.0 0M828.1 295.9a1.0 1.35 0 1 0 2.0 0a1.0 1.35 0 1 0-2.0 0M761.6 385.7a1.0 1.35 0 1 0 2.0 0a1.0 1.35 0 1 0-2.0 0M827.6 306.5a1.0 1.35 0 1 0 2.0 0a1.0 1.35 0 1 0-2.0 0M805.8 320.4a1.0 1.35 0 1 0 2.0 0a1.0 1.35 0 1 0-2.0 0M854.4 320.1a1.0 1.35 0 1 0 2.0 0a1.0 1.35 0 1 0-2.0 0M838.4 370.5a1.0 1.35 0 1 0 2.0 0a1.0 1.35 0 1 0-2.0 0M793.7 316.4a1.0 1.35 0 1 0 2.0 0a1.0 1.35 0 1 0-2.0 0M816.0 332.6a1.0 1.35 0 1 0 2.0 0a1.0 1.35 0 1 0-2.0 0M824.0 324.7a1.0 1.35 0 1 0 2.0 0a1.0 1.35 0 1 0-2.0 0M846.1 334.9a1.0 1.35 0 1 0 2.0 0a1.0 1.35 0 1 0-2.0 0M773.5 373.9a1.0 1.35 0 1 0 2.0 0a1.0 1.35 0 1 0-2.0 0M857.2 363.6a1.0 1.35 0 1 0 2.0 0a1.0 1.35 0 1 0-2.0 0M818.8 384.6a1.0 1.35 0 1 0 2.0 0a1.0 1.35 0 1 0-2.0 0M861.5 289.6a1.0 1.35 0 1 0 2.0 0a1.0 1.35 0 1 0-2.0 0M812.3 290.7a1.0 1.35 0 1 0 2.0 0a1.0 1.35 0 1 0-2.0 0M795.3 315.2a1.0 1.35 0 1 0 2.0 0a1.0 1.35 0 1 0-2.0 0M809.4 363.2a1.0 1.35 0 1 0 2.0 0a1.0 1.35 0 1 0-2.0 0M853.5 317.3a1.0 1.35 0 1 0 2.0 0a1.0 1.35 0 1 0-2.0 0M759.8 398.6a1.0 1.35 0 1 0 2.0 0a1.0 1.35 0 1 0-2.0 0M844.8 349.2a1.0 1.35 0 1 0 2.0 0a1.0 1.35 0 1 0-2.0 0M770.9 294.4a1.0 1.35 0 1 0 2.0 0a1.0 1.35 0 1 0-2.0 0M861.5 346.9a1.0 1.35 0 1 0 2.0 0a1.0 1.35 0 1 0-2.0 0M853.4 374.9a1.0 1.35 0 1 0 2.0 0a1.0 1.35 0 1 0-2.0 0M841.3 377.3a1.0 1.35 0 1 0 2.0 0a1.0 1.35 0 1 0-2.0 0M786.4 315.7a1.0 1.35 0 1 0 2.0 0a1.0 1.35 0 1 0-2.0 0M806.3 373.1a1.0 1.35 0 1 0 2.0 0a1.0 1.35 0 1 0-2.0 0M846.1 372.0a1.0 1.35 0 1 0 2.0 0a1.0 1.35 0 1 0-2.0 0M822.4 341.1a1.0 1.35 0 1 0 2.0 0a1.0 1.35 0 1 0-2.0 0M779.9 362.0a1.0 1.35 0 1 0 2.0 0a1.0 1.35 0 1 0-2.0 0M830.6 345.2a1.0 1.35 0 1 0 2.0 0a1.0 1.35 0 1 0-2.0 0M838.7 396.4a1.0 1.35 0 1 0 2.0 0a1.0 1.35 0 1 0-2.0 0M862.6 300.4a1.0 1.35 0 1 0 2.0 0a1.0 1.35 0 1 0-2.0 0M790.2 356.1a1.0 1.35 0 1 0 2.0 0a1.0 1.35 0 1 0-2.0 0M834.6 319.9a1.0 1.35 0 1 0 2.0 0a1.0 1.35 0 1 0-2.0 0M861.2 339.3a1.0 1.35 0 1 0 2.0 0a1.0 1.35 0 1 0-2.0 0M842.9 294.4a1.0 1.35 0 1 0 2.0 0a1.0 1.35 0 1 0-2.0 0M789.3 291.1a1.0 1.35 0 1 0 2.0 0a1.0 1.35 0 1 0-2.0 0M845.8 346.1a1.0 1.35 0 1 0 2.0 0a1.0 1.35 0 1 0-2.0 0M863.6 355.4a1.0 1.35 0 1 0 2.0 0a1.0 1.35 0 1 0-2.0 0M794.3 327.9a1.0 1.35 0 1 0 2.0 0a1.0 1.35 0 1 0-2.0 0M799.9 310.4a1.0 1.35 0 1 0 2.0 0a1.0 1.35 0 1 0-2.0 0M770.4 360.1a1.0 1.35 0 1 0 2.0 0a1.0 1.35 0 1 0-2.0 0M793.1 338.5a1.0 1.35 0 1 0 2.0 0a1.0 1.35 0 1 0-2.0 0M836.7 318.8a1.0 1.35 0 1 0 2.0 0a1.0 1.35 0 1 0-2.0 0M807.0 324.2a1.0 1.35 0 1 0 2.0 0a1.0 1.35 0 1 0-2.0 0M794.2 362.0a1.0 1.35 0 1 0 2.0 0a1.0 1.35 0 1 0-2.0 0M769.4 332.6a1.0 1.35 0 1 0 2.0 0a1.0 1.35 0 1 0-2.0 0M770.6 362.4a1.0 1.35 0 1 0 2.0 0a1.0 1.35 0 1 0-2.0 0M791.4 394.9a1.0 1.35 0 1 0 2.0 0a1.0 1.35 0 1 0-2.0 0M811.7 361.5a1.0 1.35 0 1 0 2.0 0a1.0 1.35 0 1 0-2.0 0M816.3 378.9a1.0 1.35 0 1 0 2.0 0a1.0 1.35 0 1 0-2.0 0M835.8 359.2a1.0 1.35 0 1 0 2.0 0a1.0 1.35 0 1 0-2.0 0M762.0 304.2a1.0 1.35 0 1 0 2.0 0a1.0 1.35 0 1 0-2.0 0M841.3 334.0a1.0 1.35 0 1 0 2.0 0a1.0 1.35 0 1 0-2.0 0M866.1 358.6a1.0 1.35 0 1 0 2.0 0a1.0 1.35 0 1 0-2.0 0M849.3 370.6a1.0 1.35 0 1 0 2.0 0a1.0 1.35 0 1 0-2.0 0M864.7 361.0a1.0 1.35 0 1 0 2.0 0a1.0 1.35 0 1 0-2.0 0M861.9 335.5a1.0 1.35 0 1 0 2.0 0a1.0 1.35 0 1 0-2.0 0M788.0 300.7a1.0 1.35 0 1 0 2.0 0a1.0 1.35 0 1 0-2.0 0M786.4 387.1a1.0 1.35 0 1 0 2.0 0a1.0 1.35 0 1 0-2.0 0M831.1 293.4a1.0 1.35 0 1 0 2.0 0a1.0 1.35 0 1 0-2.0 0M761.6 339.3a1.0 1.35 0 1 0 2.0 0a1.0 1.35 0 1 0-2.0 0M818.6 328.3a1.0 1.35 0 1 0 2.0 0a1.0 1.35 0 1 0-2.0 0M760.7 317.4a1.0 1.35 0 1 0 2.0 0a1.0 1.35 0 1 0-2.0 0M855.2 368.5a1.0 1.35 0 1 0 2.0 0a1.0 1.35 0 1 0-2.0 0M848.8 318.3a1.0 1.35 0 1 0 2.0 0a1.0 1.35 0 1 0-2.0 0M832.2 310.3a1.0 1.35 0 1 0 2.0 0a1.0 1.35 0 1 0-2.0 0M791.8 393.9a1.0 1.35 0 1 0 2.0 0a1.0 1.35 0 1 0-2.0 0M782.0 320.8a1.0 1.35 0 1 0 2.0 0a1.0 1.35 0 1 0-2.0 0M782.5 384.2a1.0 1.35 0 1 0 2.0 0a1.0 1.35 0 1 0-2.0 0M834.3 353.7a1.0 1.35 0 1 0 2.0 0a1.0 1.35 0 1 0-2.0 0M852.4 339.6a1.0 1.35 0 1 0 2.0 0a1.0 1.35 0 1 0-2.0 0M859.5 374.2a1.0 1.35 0 1 0 2.0 0a1.0 1.35 0 1 0-2.0 0M791.5 314.6a1.0 1.35 0 1 0 2.0 0a1.0 1.35 0 1 0-2.0 0M817.8 337.7a1.0 1.35 0 1 0 2.0 0a1.0 1.35 0 1 0-2.0 0M845.6 360.4a1.0 1.35 0 1 0 2.0 0a1.0 1.35 0 1 0-2.0 0M840.4 355.0a1.0 1.35 0 1 0 2.0 0a1.0 1.35 0 1 0-2.0 0M787.6 370.5a1.0 1.35 0 1 0 2.0 0a1.0 1.35 0 1 0-2.0 0M866.8 358.8a1.0 1.35 0 1 0 2.0 0a1.0 1.35 0 1 0-2.0 0M836.9 314.3a1.0 1.35 0 1 0 2.0 0a1.0 1.35 0 1 0-2.0 0M771.5 337.9a1.0 1.35 0 1 0 2.0 0a1.0 1.35 0 1 0-2.0 0M824.0 368.7a1.0 1.35 0 1 0 2.0 0a1.0 1.35 0 1 0-2.0 0M810.8 348.5a1.0 1.35 0 1 0 2.0 0a1.0 1.35 0 1 0-2.0 0M768.3 293.9a1.0 1.35 0 1 0 2.0 0a1.0 1.35 0 1 0-2.0 0M771.9 323.7a1.0 1.35 0 1 0 2.0 0a1.0 1.35 0 1 0-2.0 0M785.3 304.3a1.0 1.35 0 1 0 2.0 0a1.0 1.35 0 1 0-2.0 0M795.8 325.7a1.0 1.35 0 1 0 2.0 0a1.0 1.35 0 1 0-2.0 0M849.4 391.6a1.0 1.35 0 1 0 2.0 0a1.0 1.35 0 1 0-2.0 0M868.1 369.8a1.0 1.35 0 1 0 2.0 0a1.0 1.35 0 1 0-2.0 0M759.7 314.8a1.0 1.35 0 1 0 2.0 0a1.0 1.35 0 1 0-2.0 0M868.7 365.2a1.0 1.35 0 1 0 2.0 0a1.0 1.35 0 1 0-2.0 0M853.1 310.6a1.0 1.35 0 1 0 2.0 0a1.0 1.35 0 1 0-2.0 0M785.0 299.4a1.0 1.35 0 1 0 2.0 0a1.0 1.35 0 1 0-2.0 0M816.4 328.9a1.0 1.35 0 1 0 2.0 0a1.0 1.35 0 1 0-2.0 0M810.4 303.8a1.0 1.35 0 1 0 2.0 0a1.0 1.35 0 1 0-2.0 0M761.3 331.1a1.0 1.35 0 1 0 2.0 0a1.0 1.35 0 1 0-2.0 0M860.7 360.5a1.0 1.35 0 1 0 2.0 0a1.0 1.35 0 1 0-2.0 0M821.6 295.5a1.0 1.35 0 1 0 2.0 0a1.0 1.35 0 1 0-2.0 0M806.3 329.2a1.0 1.35 0 1 0 2.0 0a1.0 1.35 0 1 0-2.0 0M828.1 333.0a1.0 1.35 0 1 0 2.0 0a1.0 1.35 0 1 0-2.0 0M846.9 318.9a1.0 1.35 0 1 0 2.0 0a1.0 1.35 0 1 0-2.0 0M838.9 289.1a1.0 1.35 0 1 0 2.0 0a1.0 1.35 0 1 0-2.0 0M774.6 376.3a1.0 1.35 0 1 0 2.0 0a1.0 1.35 0 1 0-2.0 0M852.6 322.0a1.0 1.35 0 1 0 2.0 0a1.0 1.35 0 1 0-2.0 0M780.4 394.4a1.0 1.35 0 1 0 2.0 0a1.0 1.35 0 1 0-2.0 0M823.8 298.4a1.0 1.35 0 1 0 2.0 0a1.0 1.35 0 1 0-2.0 0M867.6 350.9a1.0 1.35 0 1 0 2.0 0a1.0 1.35 0 1 0-2.0 0M791.5 344.3a1.0 1.35 0 1 0 2.0 0a1.0 1.35 0 1 0-2.0 0M799.3 352.2a1.0 1.35 0 1 0 2.0 0a1.0 1.35 0 1 0-2.0 0M804.1 330.0a1.0 1.35 0 1 0 2.0 0a1.0 1.35 0 1 0-2.0 0M839.2 322.2a1.0 1.35 0 1 0 2.0 0a1.0 1.35 0 1 0-2.0 0M850.1 370.8a1.0 1.35 0 1 0 2.0 0a1.0 1.35 0 1 0-2.0 0M862.6 305.6a1.0 1.35 0 1 0 2.0 0a1.0 1.35 0 1 0-2.0 0M853.5 367.1a1.0 1.35 0 1 0 2.0 0a1.0 1.35 0 1 0-2.0 0M778.6 388.9a1.0 1.35 0 1 0 2.0 0a1.0 1.35 0 1 0-2.0 0M813.9 308.2a1.0 1.35 0 1 0 2.0 0a1.0 1.35 0 1 0-2.0 0M781.6 398.6a1.0 1.35 0 1 0 2.0 0a1.0 1.35 0 1 0-2.0 0M847.0 314.3a1.0 1.35 0 1 0 2.0 0a1.0 1.35 0 1 0-2.0 0M856.9 292.8a1.0 1.35 0 1 0 2.0 0a1.0 1.35 0 1 0-2.0 0M835.3 358.3a1.0 1.35 0 1 0 2.0 0a1.0 1.35 0 1 0-2.0 0M854.4 388.6a1.0 1.35 0 1 0 2.0 0a1.0 1.35 0 1 0-2.0 0M839.2 381.5a1.0 1.35 0 1 0 2.0 0a1.0 1.35 0 1 0-2.0 0M809.6 391.4a1.0 1.35 0 1 0 2.0 0a1.0 1.35 0 1 0-2.0 0M805.9 368.7a1.0 1.35 0 1 0 2.0 0a1.0 1.35 0 1 0-2.0 0M841.3 333.1a1.0 1.35 0 1 0 2.0 0a1.0 1.35 0 1 0-2.0 0M848.9 367.7a1.0 1.35 0 1 0 2.0 0a1.0 1.35 0 1 0-2.0 0M776.1 353.3a1.0 1.35 0 1 0 2.0 0a1.0 1.35 0 1 0-2.0 0M812.1 354.2a1.0 1.35 0 1 0 2.0 0a1.0 1.35 0 1 0-2.0 0M761.7 365.8a1.0 1.35 0 1 0 2.0 0a1.0 1.35 0 1 0-2.0 0M802.3 369.8a1.0 1.35 0 1 0 2.0 0a1.0 1.35 0 1 0-2.0 0M785.1 290.9a1.0 1.35 0 1 0 2.0 0a1.0 1.35 0 1 0-2.0 0M809.9 359.0a1.0 1.35 0 1 0 2.0 0a1.0 1.35 0 1 0-2.0 0M844.4 348.1a1.0 1.35 0 1 0 2.0 0a1.0 1.35 0 1 0-2.0 0M855.6 306.6a1.0 1.35 0 1 0 2.0 0a1.0 1.35 0 1 0-2.0 0M772.1 333.0a1.0 1.35 0 1 0 2.0 0a1.0 1.35 0 1 0-2.0 0M831.0 372.9a1.0 1.35 0 1 0 2.0 0a1.0 1.35 0 1 0-2.0 0M765.7 354.5a1.0 1.35 0 1 0 2.0 0a1.0 1.35 0 1 0-2.0 0M797.1 346.8a1.0 1.35 0 1 0 2.0 0a1.0 1.35 0 1 0-2.0 0M769.4 306.3a1.0 1.35 0 1 0 2.0 0a1.0 1.35 0 1 0-2.0 0M828.8 326.1a1.0 1.35 0 1 0 2.0 0a1.0 1.35 0 1 0-2.0 0M866.2 344.4a1.0 1.35 0 1 0 2.0 0a1.0 1.35 0 1 0-2.0 0M797.0 309.2a1.0 1.35 0 1 0 2.0 0a1.0 1.35 0 1 0-2.0 0M816.6 344.9a1.0 1.35 0 1 0 2.0 0a1.0 1.35 0 1 0-2.0 0M786.8 395.3a1.0 1.35 0 1 0 2.0 0a1.0 1.35 0 1 0-2.0 0M814.6 373.7a1.0 1.35 0 1 0 2.0 0a1.0 1.35 0 1 0-2.0 0M834.0 380.2a1.0 1.35 0 1 0 2.0 0a1.0 1.35 0 1 0-2.0 0M769.9 394.6a1.0 1.35 0 1 0 2.0 0a1.0 1.35 0 1 0-2.0 0M824.5 306.7a1.0 1.35 0 1 0 2.0 0a1.0 1.35 0 1 0-2.0 0M824.1 294.9a1.0 1.35 0 1 0 2.0 0a1.0 1.35 0 1 0-2.0 0M805.1 299.4a1.0 1.35 0 1 0 2.0 0a1.0 1.35 0 1 0-2.0 0M763.8 338.2a1.0 1.35 0 1 0 2.0 0a1.0 1.35 0 1 0-2.0 0M851.0 372.1a1.0 1.35 0 1 0 2.0 0a1.0 1.35 0 1 0-2.0 0M861.7 374.4a1.0 1.35 0 1 0 2.0 0a1.0 1.35 0 1 0-2.0 0M826.6 354.9a1.0 1.35 0 1 0 2.0 0a1.0 1.35 0 1 0-2.0 0M864.3 302.9a1.0 1.35 0 1 0 2.0 0a1.0 1.35 0 1 0-2.0 0M815.9 348.6a1.0 1.35 0 1 0 2.0 0a1.0 1.35 0 1 0-2.0 0M760.1 384.9a1.0 1.35 0 1 0 2.0 0a1.0 1.35 0 1 0-2.0 0M833.5 326.0a1.0 1.35 0 1 0 2.0 0a1.0 1.35 0 1 0-2.0 0M846.2 341.1a1.0 1.35 0 1 0 2.0 0a1.0 1.35 0 1 0-2.0 0M838.6 349.1a1.0 1.35 0 1 0 2.0 0a1.0 1.35 0 1 0-2.0 0M853.4 344.2a1.0 1.35 0 1 0 2.0 0a1.0 1.35 0 1 0-2.0 0M768.4 372.6a1.0 1.35 0 1 0 2.0 0a1.0 1.35 0 1 0-2.0 0M783.9 351.6a1.0 1.35 0 1 0 2.0 0a1.0 1.35 0 1 0-2.0 0M861.4 368.3a1.0 1.35 0 1 0 2.0 0a1.0 1.35 0 1 0-2.0 0M766.1 380.9a1.0 1.35 0 1 0 2.0 0a1.0 1.35 0 1 0-2.0 0M865.1 339.8a1.0 1.35 0 1 0 2.0 0a1.0 1.35 0 1 0-2.0 0M786.6 339.6a1.0 1.35 0 1 0 2.0 0a1.0 1.35 0 1 0-2.0 0M817.1 293.7a1.0 1.35 0 1 0 2.0 0a1.0 1.35 0 1 0-2.0 0M851.9 359.4a1.0 1.35 0 1 0 2.0 0a1.0 1.35 0 1 0-2.0 0M802.6 378.3a1.0 1.35 0 1 0 2.0 0a1.0 1.35 0 1 0-2.0 0M777.6 386.6a1.0 1.35 0 1 0 2.0 0a1.0 1.35 0 1 0-2.0 0M853.2 340.9a1.0 1.35 0 1 0 2.0 0a1.0 1.35 0 1 0-2.0 0M770.9 338.0a1.0 1.35 0 1 0 2.0 0a1.0 1.35 0 1 0-2.0 0M770.2 349.0a1.0 1.35 0 1 0 2.0 0a1.0 1.35 0 1 0-2.0 0M774.2 345.9a1.0 1.35 0 1 0 2.0 0a1.0 1.35 0 1 0-2.0 0M803.6 324.2a1.0 1.35 0 1 0 2.0 0a1.0 1.35 0 1 0-2.0 0M822.8 347.4a1.0 1.35 0 1 0 2.0 0a1.0 1.35 0 1 0-2.0 0M855.8 337.8a1.0 1.35 0 1 0 2.0 0a1.0 1.35 0 1 0-2.0 0M821.9 368.7a1.0 1.35 0 1 0 2.0 0a1.0 1.35 0 1 0-2.0 0M776.6 347.8a1.0 1.35 0 1 0 2.0 0a1.0 1.35 0 1 0-2.0 0M778.4 343.1a1.0 1.35 0 1 0 2.0 0a1.0 1.35 0 1 0-2.0 0M814.6 388.4a1.0 1.35 0 1 0 2.0 0a1.0 1.35 0 1 0-2.0 0M864.7 322.2a1.0 1.35 0 1 0 2.0 0a1.0 1.35 0 1 0-2.0 0M852.7 329.6a1.0 1.35 0 1 0 2.0 0a1.0 1.35 0 1 0-2.0 0M786.1 354.3a1.0 1.35 0 1 0 2.0 0a1.0 1.35 0 1 0-2.0 0M791.9 392.8a1.0 1.35 0 1 0 2.0 0a1.0 1.35 0 1 0-2.0 0M857.9 292.1a1.0 1.35 0 1 0 2.0 0a1.0 1.35 0 1 0-2.0 0M867.1 386.4a1.0 1.35 0 1 0 2.0 0a1.0 1.35 0 1 0-2.0 0M773.7 361.3a1.0 1.35 0 1 0 2.0 0a1.0 1.35 0 1 0-2.0 0M820.1 306.1a1.0 1.35 0 1 0 2.0 0a1.0 1.35 0 1 0-2.0 0M836.3 289.7a1.0 1.35 0 1 0 2.0 0a1.0 1.35 0 1 0-2.0 0M796.6 344.4a1.0 1.35 0 1 0 2.0 0a1.0 1.35 0 1 0-2.0 0M847.0 333.4a1.0 1.35 0 1 0 2.0 0a1.0 1.35 0 1 0-2.0 0M790.2 340.3a1.0 1.35 0 1 0 2.0 0a1.0 1.35 0 1 0-2.0 0M818.0 332.6a1.0 1.35 0 1 0 2.0 0a1.0 1.35 0 1 0-2.0 0M769.2 381.0a1.0 1.35 0 1 0 2.0 0a1.0 1.35 0 1 0-2.0 0M781.2 309.2a1.0 1.35 0 1 0 2.0 0a1.0 1.35 0 1 0-2.0 0M782.5 394.8a1.0 1.35 0 1 0 2.0 0a1.0 1.35 0 1 0-2.0 0M767.0 357.2a1.0 1.35 0 1 0 2.0 0a1.0 1.35 0 1 0-2.0 0M821.6 313.7a1.0 1.35 0 1 0 2.0 0a1.0 1.35 0 1 0-2.0 0M844.9 308.3a1.0 1.35 0 1 0 2.0 0a1.0 1.35 0 1 0-2.0 0M771.1 291.6a1.0 1.35 0 1 0 2.0 0a1.0 1.35 0 1 0-2.0 0M831.4 294.4a1.0 1.35 0 1 0 2.0 0a1.0 1.35 0 1 0-2.0 0M826.4 360.9a1.0 1.35 0 1 0 2.0 0a1.0 1.35 0 1 0-2.0 0M769.8 395.2a1.0 1.35 0 1 0 2.0 0a1.0 1.35 0 1 0-2.0 0M773.6 324.6a1.0 1.35 0 1 0 2.0 0a1.0 1.35 0 1 0-2.0 0M846.8 318.0a1.0 1.35 0 1 0 2.0 0a1.0 1.35 0 1 0-2.0 0M844.4 365.3a1.0 1.35 0 1 0 2.0 0a1.0 1.35 0 1 0-2.0 0M842.2 330.0a1.0 1.35 0 1 0 2.0 0a1.0 1.35 0 1 0-2.0 0M788.8 340.4a1.0 1.35 0 1 0 2.0 0a1.0 1.35 0 1 0-2.0 0M827.3 291.1a1.0 1.35 0 1 0 2.0 0a1.0 1.35 0 1 0-2.0 0M768.6 318.6a1.0 1.35 0 1 0 2.0 0a1.0 1.35 0 1 0-2.0 0M764.2 371.7a1.0 1.35 0 1 0 2.0 0a1.0 1.35 0 1 0-2.0 0M865.8 345.3a1.0 1.35 0 1 0 2.0 0a1.0 1.35 0 1 0-2.0 0M795.2 335.5a1.0 1.35 0 1 0 2.0 0a1.0 1.35 0 1 0-2.0 0M855.1 368.2a1.0 1.35 0 1 0 2.0 0a1.0 1.35 0 1 0-2.0 0M820.1 358.7a1.0 1.35 0 1 0 2.0 0a1.0 1.35 0 1 0-2.0 0M859.3 356.8a1.0 1.35 0 1 0 2.0 0a1.0 1.35 0 1 0-2.0 0M781.8 386.5a1.0 1.35 0 1 0 2.0 0a1.0 1.35 0 1 0-2.0 0M763.4 304.0a1.0 1.35 0 1 0 2.0 0a1.0 1.35 0 1 0-2.0 0M779.9 330.7a1.0 1.35 0 1 0 2.0 0a1.0 1.35 0 1 0-2.0 0M822.0 379.6a1.0 1.35 0 1 0 2.0 0a1.0 1.35 0 1 0-2.0 0M786.6 385.0a1.0 1.35 0 1 0 2.0 0a1.0 1.35 0 1 0-2.0 0M868.3 384.8a1.0 1.35 0 1 0 2.0 0a1.0 1.35 0 1 0-2.0 0M848.1 351.0a1.0 1.35 0 1 0 2.0 0a1.0 1.35 0 1 0-2.0 0M808.4 305.9a1.0 1.35 0 1 0 2.0 0a1.0 1.35 0 1 0-2.0 0M800.8 313.3a1.0 1.35 0 1 0 2.0 0a1.0 1.35 0 1 0-2.0 0M798.3 296.3a1.0 1.35 0 1 0 2.0 0a1.0 1.35 0 1 0-2.0 0M864.8 334.7a1.0 1.35 0 1 0 2.0 0a1.0 1.35 0 1 0-2.0 0M768.7 302.5a1.0 1.35 0 1 0 2.0 0a1.0 1.35 0 1 0-2.0 0M807.9 297.2a1.0 1.35 0 1 0 2.0 0a1.0 1.35 0 1 0-2.0 0M832.6 322.4a1.0 1.35 0 1 0 2.0 0a1.0 1.35 0 1 0-2.0 0M829.1 326.1a1.0 1.35 0 1 0 2.0 0a1.0 1.35 0 1 0-2.0 0M801.3 385.7a1.0 1.35 0 1 0 2.0 0a1.0 1.35 0 1 0-2.0 0M809.0 389.1a1.0 1.35 0 1 0 2.0 0a1.0 1.35 0 1 0-2.0 0M833.1 371.0a1.0 1.35 0 1 0 2.0 0a1.0 1.35 0 1 0-2.0 0M839.4 350.4a1.0 1.35 0 1 0 2.0 0a1.0 1.35 0 1 0-2.0 0M793.1 363.6a1.0 1.35 0 1 0 2.0 0a1.0 1.35 0 1 0-2.0 0M762.5 315.8a1.0 1.35 0 1 0 2.0 0a1.0 1.35 0 1 0-2.0 0M847.3 381.6a1.0 1.35 0 1 0 2.0 0a1.0 1.35 0 1 0-2.0 0M760.9 374.7a1.0 1.35 0 1 0 2.0 0a1.0 1.35 0 1 0-2.0 0M808.1 312.0a1.0 1.35 0 1 0 2.0 0a1.0 1.35 0 1 0-2.0 0M859.8 352.1a1.0 1.35 0 1 0 2.0 0a1.0 1.35 0 1 0-2.0 0M785.9 389.6a1.0 1.35 0 1 0 2.0 0a1.0 1.35 0 1 0-2.0 0M765.7 366.4a1.0 1.35 0 1 0 2.0 0a1.0 1.35 0 1 0-2.0 0M838.7 369.8a1.0 1.35 0 1 0 2.0 0a1.0 1.35 0 1 0-2.0 0M810.7 321.6a1.0 1.35 0 1 0 2.0 0a1.0 1.35 0 1 0-2.0 0M782.7 372.2a1.0 1.35 0 1 0 2.0 0a1.0 1.35 0 1 0-2.0 0M813.7 291.6a1.0 1.35 0 1 0 2.0 0a1.0 1.35 0 1 0-2.0 0M835.1 368.8a1.0 1.35 0 1 0 2.0 0a1.0 1.35 0 1 0-2.0 0M845.7 341.0a1.0 1.35 0 1 0 2.0 0a1.0 1.35 0 1 0-2.0 0M833.7 355.3a1.0 1.35 0 1 0 2.0 0a1.0 1.35 0 1 0-2.0 0M845.8 318.2a1.0 1.35 0 1 0 2.0 0a1.0 1.35 0 1 0-2.0 0M782.6 381.1a1.0 1.35 0 1 0 2.0 0a1.0 1.35 0 1 0-2.0 0M787.3 290.8a1.0 1.35 0 1 0 2.0 0a1.0 1.35 0 1 0-2.0 0M833.5 375.0a1.0 1.35 0 1 0 2.0 0a1.0 1.35 0 1 0-2.0 0M853.9 396.9a1.0 1.35 0 1 0 2.0 0a1.0 1.35 0 1 0-2.0 0M766.8 392.6a1.0 1.35 0 1 0 2.0 0a1.0 1.35 0 1 0-2.0 0M789.8 303.5a1.0 1.35 0 1 0 2.0 0a1.0 1.35 0 1 0-2.0 0M789.7 298.6a1.0 1.35 0 1 0 2.0 0a1.0 1.35 0 1 0-2.0 0M759.1 304.9a1.0 1.35 0 1 0 2.0 0a1.0 1.35 0 1 0-2.0 0M820.0 295.6a1.0 1.35 0 1 0 2.0 0a1.0 1.35 0 1 0-2.0 0M842.3 288.9a1.0 1.35 0 1 0 2.0 0a1.0 1.35 0 1 0-2.0 0M782.7 307.0a1.0 1.35 0 1 0 2.0 0a1.0 1.35 0 1 0-2.0 0M771.4 288.6a1.0 1.35 0 1 0 2.0 0a1.0 1.35 0 1 0-2.0 0M814.7 296.2a1.0 1.35 0 1 0 2.0 0a1.0 1.35 0 1 0-2.0 0M771.4 288.7a1.0 1.35 0 1 0 2.0 0a1.0 1.35 0 1 0-2.0 0M850.4 306.1a1.0 1.35 0 1 0 2.0 0a1.0 1.35 0 1 0-2.0 0M803.8 373.8a1.0 1.35 0 1 0 2.0 0a1.0 1.35 0 1 0-2.0 0M774.5 328.5a1.0 1.35 0 1 0 2.0 0a1.0 1.35 0 1 0-2.0 0M850.5 358.3a1.0 1.35 0 1 0 2.0 0a1.0 1.35 0 1 0-2.0 0M773.4 345.9a1.0 1.35 0 1 0 2.0 0a1.0 1.35 0 1 0-2.0 0M850.7 348.0a1.0 1.35 0 1 0 2.0 0a1.0 1.35 0 1 0-2.0 0M788.6 311.9a1.0 1.35 0 1 0 2.0 0a1.0 1.35 0 1 0-2.0 0M858.3 331.8a1.0 1.35 0 1 0 2.0 0a1.0 1.35 0 1 0-2.0 0M780.1 318.9a1.0 1.35 0 1 0 2.0 0a1.0 1.35 0 1 0-2.0 0M824.3 382.9a1.0 1.35 0 1 0 2.0 0a1.0 1.35 0 1 0-2.0 0M831.3 355.6a1.0 1.35 0 1 0 2.0 0a1.0 1.35 0 1 0-2.0 0M797.2 314.5a1.0 1.35 0 1 0 2.0 0a1.0 1.35 0 1 0-2.0 0M833.0 328.0a1.0 1.35 0 1 0 2.0 0a1.0 1.35 0 1 0-2.0 0M791.4 370.4a1.0 1.35 0 1 0 2.0 0a1.0 1.35 0 1 0-2.0 0M859.9 381.9a1.0 1.35 0 1 0 2.0 0a1.0 1.35 0 1 0-2.0 0M771.9 372.5a1.0 1.35 0 1 0 2.0 0a1.0 1.35 0 1 0-2.0 0M818.0 296.0a1.0 1.35 0 1 0 2.0 0a1.0 1.35 0 1 0-2.0 0M847.7 348.5a1.0 1.35 0 1 0 2.0 0a1.0 1.35 0 1 0-2.0 0M811.7 296.0a1.0 1.35 0 1 0 2.0 0a1.0 1.35 0 1 0-2.0 0M819.8 341.5a1.0 1.35 0 1 0 2.0 0a1.0 1.35 0 1 0-2.0 0M849.7 388.6a1.0 1.35 0 1 0 2.0 0a1.0 1.35 0 1 0-2.0 0M773.1 388.6a1.0 1.35 0 1 0 2.0 0a1.0 1.35 0 1 0-2.0 0M802.1 290.4a1.0 1.35 0 1 0 2.0 0a1.0 1.35 0 1 0-2.0 0M841.5 377.9a1.0 1.35 0 1 0 2.0 0a1.0 1.35 0 1 0-2.0 0M846.0 305.5a1.0 1.35 0 1 0 2.0 0a1.0 1.35 0 1 0-2.0 0M839.9 391.0a1.0 1.35 0 1 0 2.0 0a1.0 1.35 0 1 0-2.0 0M863.7 328.4a1.0 1.35 0 1 0 2.0 0a1.0 1.35 0 1 0-2.0 0M851.4 300.8a1.0 1.35 0 1 0 2.0 0a1.0 1.35 0 1 0-2.0 0M856.3 353.1a1.0 1.35 0 1 0 2.0 0a1.0 1.35 0 1 0-2.0 0M831.4 372.6a1.0 1.35 0 1 0 2.0 0a1.0 1.35 0 1 0-2.0 0M787.1 313.7a1.0 1.35 0 1 0 2.0 0a1.0 1.35 0 1 0-2.0 0M765.6 367.1a1.0 1.35 0 1 0 2.0 0a1.0 1.35 0 1 0-2.0 0M762.2 291.0a1.0 1.35 0 1 0 2.0 0a1.0 1.35 0 1 0-2.0 0M830.5 343.4a1.0 1.35 0 1 0 2.0 0a1.0 1.35 0 1 0-2.0 0M868.0 303.7a1.0 1.35 0 1 0 2.0 0a1.0 1.35 0 1 0-2.0 0M817.2 309.9a1.0 1.35 0 1 0 2.0 0a1.0 1.35 0 1 0-2.0 0M847.1 393.6a1.0 1.35 0 1 0 2.0 0a1.0 1.35 0 1 0-2.0 0M864.9 301.3a1.0 1.35 0 1 0 2.0 0a1.0 1.35 0 1 0-2.0 0M839.2 349.1a1.0 1.35 0 1 0 2.0 0a1.0 1.35 0 1 0-2.0 0M769.6 336.8a1.0 1.35 0 1 0 2.0 0a1.0 1.35 0 1 0-2.0 0M838.6 367.9a1.0 1.35 0 1 0 2.0 0a1.0 1.35 0 1 0-2.0 0M808.9 297.9a1.0 1.35 0 1 0 2.0 0a1.0 1.35 0 1 0-2.0 0M800.7 323.9a1.0 1.35 0 1 0 2.0 0a1.0 1.35 0 1 0-2.0 0M797.1 393.3a1.0 1.35 0 1 0 2.0 0a1.0 1.35 0 1 0-2.0 0M826.5 358.0a1.0 1.35 0 1 0 2.0 0a1.0 1.35 0 1 0-2.0 0M758.8 326.3a1.0 1.35 0 1 0 2.0 0a1.0 1.35 0 1 0-2.0 0M843.7 305.5a1.0 1.35 0 1 0 2.0 0a1.0 1.35 0 1 0-2.0 0M760.6 320.5a1.0 1.35 0 1 0 2.0 0a1.0 1.35 0 1 0-2.0 0M773.9 352.0a1.0 1.35 0 1 0 2.0 0a1.0 1.35 0 1 0-2.0 0M794.3 379.1a1.0 1.35 0 1 0 2.0 0a1.0 1.35 0 1 0-2.0 0M844.7 330.1a1.0 1.35 0 1 0 2.0 0a1.0 1.35 0 1 0-2.0 0M859.5 384.6a1.0 1.35 0 1 0 2.0 0a1.0 1.35 0 1 0-2.0 0M862.0 394.3a1.0 1.35 0 1 0 2.0 0a1.0 1.35 0 1 0-2.0 0M857.2 392.1a1.0 1.35 0 1 0 2.0 0a1.0 1.35 0 1 0-2.0 0M809.3 397.6a1.0 1.35 0 1 0 2.0 0a1.0 1.35 0 1 0-2.0 0M788.4 361.3a1.0 1.35 0 1 0 2.0 0a1.0 1.35 0 1 0-2.0 0M760.4 398.1a1.0 1.35 0 1 0 2.0 0a1.0 1.35 0 1 0-2.0 0M833.6 294.2a1.0 1.35 0 1 0 2.0 0a1.0 1.35 0 1 0-2.0 0M864.7 358.6a1.0 1.35 0 1 0 2.0 0a1.0 1.35 0 1 0-2.0 0M802.6 343.1a1.0 1.35 0 1 0 2.0 0a1.0 1.35 0 1 0-2.0 0M864.7 389.6a1.0 1.35 0 1 0 2.0 0a1.0 1.35 0 1 0-2.0 0M772.5 315.2a1.0 1.35 0 1 0 2.0 0a1.0 1.35 0 1 0-2.0 0M777.9 292.3a1.0 1.35 0 1 0 2.0 0a1.0 1.35 0 1 0-2.0 0M774.2 353.1a1.0 1.35 0 1 0 2.0 0a1.0 1.35 0 1 0-2.0 0M830.1 373.6a1.0 1.35 0 1 0 2.0 0a1.0 1.35 0 1 0-2.0 0M850.4 365.8a1.0 1.35 0 1 0 2.0 0a1.0 1.35 0 1 0-2.0 0M861.1 291.0a1.0 1.35 0 1 0 2.0 0a1.0 1.35 0 1 0-2.0 0M865.7 337.3a1.0 1.35 0 1 0 2.0 0a1.0 1.35 0 1 0-2.0 0M842.3 354.4a1.0 1.35 0 1 0 2.0 0a1.0 1.35 0 1 0-2.0 0M843.2 362.1a1.0 1.35 0 1 0 2.0 0a1.0 1.35 0 1 0-2.0 0M775.7 347.5a1.0 1.35 0 1 0 2.0 0a1.0 1.35 0 1 0-2.0 0M763.7 385.0a1.0 1.35 0 1 0 2.0 0a1.0 1.35 0 1 0-2.0 0M840.3 321.9a1.0 1.35 0 1 0 2.0 0a1.0 1.35 0 1 0-2.0 0M794.5 324.8a1.0 1.35 0 1 0 2.0 0a1.0 1.35 0 1 0-2.0 0M771.6 348.0a1.0 1.35 0 1 0 2.0 0a1.0 1.35 0 1 0-2.0 0M836.0 326.6a1.0 1.35 0 1 0 2.0 0a1.0 1.35 0 1 0-2.0 0M806.0 383.8a1.0 1.35 0 1 0 2.0 0a1.0 1.35 0 1 0-2.0 0M835.5 304.5a1.0 1.35 0 1 0 2.0 0a1.0 1.35 0 1 0-2.0 0M783.4 388.0a1.0 1.35 0 1 0 2.0 0a1.0 1.35 0 1 0-2.0 0M828.7 305.0a1.0 1.35 0 1 0 2.0 0a1.0 1.35 0 1 0-2.0 0M810.3 329.6a1.0 1.35 0 1 0 2.0 0a1.0 1.35 0 1 0-2.0 0M825.6 382.8a1.0 1.35 0 1 0 2.0 0a1.0 1.35 0 1 0-2.0 0M846.4 321.8a1.0 1.35 0 1 0 2.0 0a1.0 1.35 0 1 0-2.0 0M785.5 299.5a1.0 1.35 0 1 0 2.0 0a1.0 1.35 0 1 0-2.0 0M788.3 360.4a1.0 1.35 0 1 0 2.0 0a1.0 1.35 0 1 0-2.0 0M831.5 345.5a1.0 1.35 0 1 0 2.0 0a1.0 1.35 0 1 0-2.0 0M840.9 299.7a1.0 1.35 0 1 0 2.0 0a1.0 1.35 0 1 0-2.0 0M777.0 307.0a1.0 1.35 0 1 0 2.0 0a1.0 1.35 0 1 0-2.0 0M836.8 360.4a1.0 1.35 0 1 0 2.0 0a1.0 1.35 0 1 0-2.0 0M799.8 383.6a1.0 1.35 0 1 0 2.0 0a1.0 1.35 0 1 0-2.0 0M789.4 390.3a1.0 1.35 0 1 0 2.0 0a1.0 1.35 0 1 0-2.0 0M857.9 308.0a1.0 1.35 0 1 0 2.0 0a1.0 1.35 0 1 0-2.0 0M833.2 358.5a1.0 1.35 0 1 0 2.0 0a1.0 1.35 0 1 0-2.0 0M786.5 316.9a1.0 1.35 0 1 0 2.0 0a1.0 1.35 0 1 0-2.0 0M772.0 332.4a1.0 1.35 0 1 0 2.0 0a1.0 1.35 0 1 0-2.0 0M843.4 326.4a1.0 1.35 0 1 0 2.0 0a1.0 1.35 0 1 0-2.0 0M845.4 328.9a1.0 1.35 0 1 0 2.0 0a1.0 1.35 0 1 0-2.0 0M833.7 325.6a1.0 1.35 0 1 0 2.0 0a1.0 1.35 0 1 0-2.0 0M825.7 359.7a1.0 1.35 0 1 0 2.0 0a1.0 1.35 0 1 0-2.0 0M812.8 319.7a1.0 1.35 0 1 0 2.0 0a1.0 1.35 0 1 0-2.0 0M768.0 306.8a1.0 1.35 0 1 0 2.0 0a1.0 1.35 0 1 0-2.0 0M822.9 345.4a1.0 1.35 0 1 0 2.0 0a1.0 1.35 0 1 0-2.0 0M765.5 365.9a1.0 1.35 0 1 0 2.0 0a1.0 1.35 0 1 0-2.0 0" fill="#3c4172"/><path d="M766.3 304.8L765.0 306.1L762.3 303.4L762.0 300.2L764.5 298.0L766.4 298.5L767.9 299.6L768.5 302.9ZM765.4 302.6L765.6 306.1L763.1 307.5L761.6 306.2L760.7 303.2L762.5 301.1ZM767.6 299.9L770.2 301.7L766.3 304.9L763.8 302.5L763.3 300.3ZM760.7 298.8L763.2 295.4L764.9 296.6L765.2 298.3L762.8 299.6ZM765.0 300.3L763.2 299.1L762.3 296.3L762.4 295.7L764.5 295.0L767.2 295.2L767.5 298.3L767.8 299.1ZM852.6 294.6L853.1 291.0L855.4 290.7L858.0 292.2L857.9 294.3L854.6 295.8ZM858.0 300.6L855.9 301.6L854.1 302.3L853.9 300.8L854.2 298.5L856.3 297.1L858.7 297.6ZM851.7 290.3L853.9 288.4L859.6 288.5L861.6 291.4L860.8 292.3L857.8 294.7L854.0 294.4L851.5 292.9ZM856.4 295.8L855.0 293.9L857.2 290.3L860.1 291.5L860.6 294.3ZM854.5 300.8L853.1 299.3L853.4 298.2L854.6 296.0L856.8 295.5L859.5 296.0L859.2 297.6L857.7 299.3ZM776.0 336.3L777.1 337.4L775.3 340.2L774.3 340.4L772.5 339.2L773.5 336.7L774.4 335.9ZM774.4 343.0L774.2 338.7L774.1 335.8L777.5 337.3L779.0 341.4L778.3 342.8ZM775.7 337.2L777.4 339.0L775.3 341.0L772.5 340.4L772.7 338.1ZM780.8 337.9L785.1 335.5L785.6 337.4L787.3 340.2L785.7 342.3L782.5 342.2L778.7 340.8L779.6 339.7ZM783.3 335.5L780.2 335.8L778.4 334.0L780.2 331.5L782.5 332.6ZM782.8 335.4L780.9 335.0L779.5 330.9L782.8 329.4L783.9 331.0L785.2 335.4ZM780.4 338.2L783.1 336.9L785.8 339.6L782.6 343.2L780.8 341.4ZM836.4 331.7L839.1 332.8L841.0 333.6L840.5 336.3L837.9 335.7L835.6 336.0L834.0 334.1L834.2 331.3ZM831.6 330.9L830.5 328.7L833.1 328.9L835.0 329.0L836.4 331.5L836.5 334.3L836.1 335.9L833.0 333.7ZM834.1 337.9L833.2 336.1L834.4 334.5L838.1 334.0L838.0 336.4L837.6 338.9ZM835.1 326.0L837.3 323.2L841.5 326.7L840.9 328.9L838.9 331.5L834.4 330.1L834.1 327.1ZM830.5 330.1L832.2 329.1L835.1 329.1L836.7 330.9L836.4 331.9L834.6 333.8L833.1 333.3L831.3 331.7ZM838.4 325.3L839.9 326.4L840.8 329.0L838.8 330.4L836.8 328.5L835.8 327.4L837.1 324.9ZM867.5 336.8L867.1 334.9L867.5 333.4L868.9 332.6L871.4 335.3L870.4 336.8L868.4 337.0ZM868.5 331.8L866.6 332.9L864.3 332.2L863.2 331.5L865.4 329.8L867.1 329.6L868.6 330.0ZM865.4 324.7L867.3 321.8L868.5 320.4L869.8 320.2L871.9 321.1L871.1 325.5L869.5 326.0L867.1 326.8ZM869.1 336.3L867.3 338.3L865.5 336.5L862.8 334.1L865.3 333.3L865.8 332.1L869.5 333.8L869.8 335.0ZM866.8 331.1L865.1 332.1L862.5 333.0L861.6 330.7L863.3 329.2L866.4 329.3ZM856.6 355.2L857.6 357.0L855.8 359.6L855.3 363.0L852.6 361.6L850.1 360.0L851.2 355.8L853.2 355.1ZM848.4 360.9L845.5 361.2L845.1 359.7L846.1 355.9L848.3 355.5L850.6 355.8L850.6 359.1ZM852.4 360.8L852.2 359.4L852.7 357.1L854.3 355.8L856.6 357.2L856.1 359.7L854.9 361.7L854.2 362.6ZM852.7 360.5L846.6 357.2L848.9 354.2L852.4 353.1L856.7 354.5L855.9 358.5ZM858.3 354.0L858.9 357.3L858.9 359.1L856.7 360.6L853.9 358.0L854.5 354.8ZM851.4 358.5L847.6 356.8L848.7 353.0L853.3 354.0L855.2 356.3ZM847.7 355.1L845.7 354.9L843.2 352.5L845.0 346.6L847.4 348.2L850.6 350.2L849.7 352.4ZM853.0 356.5L850.0 355.6L848.7 353.7L849.7 350.2L852.4 350.6L854.1 351.8L854.0 353.8Z" fill="#2424d2" stroke="#16169c" stroke-width="0.6"/><rect x="857.3" y="392.5" width="9.5" height="1.8" fill="#e03030"/><rect x="859.8" y="390.7" width="4" height="0.8" fill="#e06060"/></g>
<g clip-path="url(#cc104)"><rect x="512.80" y="506.60" width="109.60" height="109.30" fill="#c6d2f0"/><rect x="512.80" y="506.60" width="109.60" height="109.30" fill="#c6d2f0" filter="url(#ct104)" opacity="0.7"/><path d="M616.8 601.9a1.2 1.2 0 1 0 2.4 0a1.2 1.2 0 1 0-2.4 0M591.8 531.5a1.2 1.2 0 1 0 2.4 0a1.2 1.2 0 1 0-2.4 0M547.8 584.6a1.2 1.2 0 1 0 2.4 0a1.2 1.2 0 1 0-2.4 0M600.0 508.4a1.2 1.2 0 1 0 2.4 0a1.2 1.2 0 1 0-2.4 0M529.9 604.5a1.2 1.2 0 1 0 2.4 0a1.2 1.2 0 1 0-2.4 0M524.5 578.2a1.2 1.2 0 1 0 2.4 0a1.2 1.2 0 1 0-2.4 0M547.7 577.2a1.2 1.2 0 1 0 2.4 0a1.2 1.2 0 1 0-2.4 0M606.1 570.2a1.2 1.2 0 1 0 2.4 0a1.2 1.2 0 1 0-2.4 0M554.5 541.8a1.2 1.2 0 1 0 2.4 0a1.2 1.2 0 1 0-2.4 0M579.7 575.3a1.2 1.2 0 1 0 2.4 0a1.2 1.2 0 1 0-2.4 0M556.5 557.6a1.2 1.2 0 1 0 2.4 0a1.2 1.2 0 1 0-2.4 0M570.4 534.8a1.2 1.2 0 1 0 2.4 0a1.2 1.2 0 1 0-2.4 0M531.3 568.7a1.2 1.2 0 1 0 2.4 0a1.2 1.2 0 1 0-2.4 0M522.6 571.9a1.2 1.2 0 1 0 2.4 0a1.2 1.2 0 1 0-2.4 0M599.5 597.1a1.2 1.2 0 1 0 2.4 0a1.2 1.2 0 1 0-2.4 0M539.2 551.9a1.2 1.2 0 1 0 2.4 0a1.2 1.2 0 1 0-2.4 0M612.8 544.8a1.2 1.2 0 1 0 2.4 0a1.2 1.2 0 1 0-2.4 0M620.3 528.5a1.2 1.2 0 1 0 2.4 0a1.2 1.2 0 1 0-2.4 0M603.7 511.1a1.2 1.2 0 1 0 2.4 0a1.2 1.2 0 1 0-2.4 0M584.8 594.6a1.2 1.2 0 1 0 2.4 0a1.2 1.2 0 1 0-2.4 0M571.6 575.8a1.2 1.2 0 1 0 2.4 0a1.2 1.2 0 1 0-2.4 0M611.8 615.5a1.2 1.2 0 1 0 2.4 0a1.2 1.2 0 1 0-2.4 0M531.3 563.7a1.2 1.2 0 1 0 2.4 0a1.2 1.2 0 1 0-2.4 0M516.0 548.0a1.2 1.2 0 1 0 2.4 0a1.2 1.2 0 1 0-2.4 0M527.5 524.1a1.2 1.2 0 1 0 2.4 0a1.2 1.2 0 1 0-2.4 0M580.1 515.8a1.2 1.2 0 1 0 2.4 0a1.2 1.2 0 1 0-2.4 0M528.5 507.7a1.2 1.2 0 1 0 2.4 0a1.2 1.2 0 1 0-2.4 0M600.8 533.2a1.2 1.2 0 1 0 2.4 0a1.2 1.2 0 1 0-2.4 0M519.5 574.5a1.2 1.2 0 1 0 2.4 0a1.2 1.2 0 1 0-2.4 0M590.2 575.5a1.2 1.2 0 1 0 2.4 0a1.2 1.2 0 1 0-2.4 0M571.6 565.0a1.2 1.2 0 1 0 2.4 0a1.2 1.2 0 1 0-2.4 0M590.5 540.5a1.2 1.2 0 1 0 2.4 0a1.2 1.2 0 1 0-2.4 0M604.0 582.4a1.2 1.2 0 1 0 2.4 0a1.2 1.2 0 1 0-2.4 0M605.7 603.9a1.2 1.2 0 1 0 2.4 0a1.2 1.2 0 1 0-2.4 0M603.6 563.3a1.2 1.2 0 1 0 2.4 0a1.2 1.2 0 1 0-2.4 0M568.8 586.8a1.2 1.2 0 1 0 2.4 0a1.2 1.2 0 1 0-2.4 0M575.1 509.7a1.2 1.2 0 1 0 2.4 0a1.2 1.2 0 1 0-2.4 0M612.1 528.4a1.2 1.2 0 1 0 2.4 0a1.2 1.2 0 1 0-2.4 0M564.7 556.0a1.2 1.2 0 1 0 2.4 0a1.2 1.2 0 1 0-2.4 0M521.8 569.8a1.2 1.2 0 1 0 2.4 0a1.2 1.2 0 1 0-2.4 0M576.3 595.5a1.2 1.2 0 1 0 2.4 0a1.2 1.2 0 1 0-2.4 0M578.7 540.1a1.2 1.2 0 1 0 2.4 0a1.2 1.2 0 1 0-2.4 0M573.5 611.4a1.2 1.2 0 1 0 2.4 0a1.2 1.2 0 1 0-2.4 0M581.4 598.8a1.2 1.2 0 1 0 2.4 0a1.2 1.2 0 1 0-2.4 0M512.8 582.0a1.2 1.2 0 1 0 2.4 0a1.2 1.2 0 1 0-2.4 0M534.7 524.4a1.2 1.2 0 1 0 2.4 0a1.2 1.2 0 1 0-2.4 0M547.9 526.0a1.2 1.2 0 1 0 2.4 0a1.2 1.2 0 1 0-2.4 0M521.0 529.7a1.2 1.2 0 1 0 2.4 0a1.2 1.2 0 1 0-2.4 0M536.9 533.9a1.2 1.2 0 1 0 2.4 0a1.2 1.2 0 1 0-2.4 0M599.2 515.7a1.2 1.2 0 1 0 2.4 0a1.2 1.2 0 1 0-2.4 0M533.5 512.6a1.2 1.2 0 1 0 2.4 0a1.2 1.2 0 1 0-2.4 0M567.1 531.6a1.2 1.2 0 1 0 2.4 0a1.2 1.2 0 1 0-2.4 0M569.8 532.6a1.2 1.2 0 1 0 2.4 0a1.2 1.2 0 1 0-2.4 0M533.1 559.9a1.2 1.2 0 1 0 2.4 0a1.2 1.2 0 1 0-2.4 0M519.5 603.3a1.2 1.2 0 1 0 2.4 0a1.2 1.2 0 1 0-2.4 0M573.3 549.8a1.2 1.2 0 1 0 2.4 0a1.2 1.2 0 1 0-2.4 0M571.9 610.1a1.2 1.2 0 1 0 2.4 0a1.2 1.2 0 1 0-2.4 0M565.8 549.7a1.2 1.2 0 1 0 2.4 0a1.2 1.2 0 1 0-2.4 0M535.4 548.2a1.2 1.2 0 1 0 2.4 0a1.2 1.2 0 1 0-2.4 0M596.4 573.6a1.2 1.2 0 1 0 2.4 0a1.2 1.2 0 1 0-2.4 0M541.8 604.8a1.2 1.2 0 1 0 2.4 0a1.2 1.2 0 1 0-2.4 0M526.2 545.5a1.2 1.2 0 1 0 2.4 0a1.2 1.2 0 1 0-2.4 0M596.7 606.6a1.2 1.2 0 1 0 2.4 0a1.2 1.2 0 1 0-2.4 0M561.9 507.8a1.2 1.2 0 1 0 2.4 0a1.2 1.2 0 1 0-2.4 0M573.1 553.3a1.2 1.2 0 1 0 2.4 0a1.2 1.2 0 1 0-2.4 0M514.8 544.7a1.2 1.2 0 1 0 2.4 0a1.2 1.2 0 1 0-2.4 0M608.3 510.7a1.2 1.2 0 1 0 2.4 0a1.2 1.2 0 1 0-2.4 0M531.1 524.9a1.2 1.2 0 1 0 2.4 0a1.2 1.2 0 1 0-2.4 0M599.0 540.2a1.2 1.2 0 1 0 2.4 0a1.2 1.2 0 1 0-2.4 0M586.6 580.4a1.2 1.2 0 1 0 2.4 0a1.2 1.2 0 1 0-2.4 0M512.9 554.5a1.2 1.2 0 1 0 2.4 0a1.2 1.2 0 1 0-2.4 0M524.7 594.0a1.2 1.2 0 1 0 2.4 0a1.2 1.2 0 1 0-2.4 0M565.2 546.9a1.2 1.2 0 1 0 2.4 0a1.2 1.2 0 1 0-2.4 0M600.6 596.5a1.2 1.2 0 1 0 2.4 0a1.2 1.2 0 1 0-2.4 0M519.1 517.0a1.2 1.2 0 1 0 2.4 0a1.2 1.2 0 1 0-2.4 0M547.0 540.8a1.2 1.2 0 1 0 2.4 0a1.2 1.2 0 1 0-2.4 0M559.9 553.3a1.2 1.2 0 1 0 2.4 0a1.2 1.2 0 1 0-2.4 0M618.2 580.0a1.2 1.2 0 1 0 2.4 0a1.2 1.2 0 1 0-2.4 0M617.0 574.2a1.2 1.2 0 1 0 2.4 0a1.2 1.2 0 1 0-2.4 0M537.2 568.6a1.2 1.2 0 1 0 2.4 0a1.2 1.2 0 1 0-2.4 0M529.1 570.4a1.2 1.2 0 1 0 2.4 0a1.2 1.2 0 1 0-2.4 0M527.2 608.3a1.2 1.2 0 1 0 2.4 0a1.2 1.2 0 1 0-2.4 0M544.8 604.4a1.2 1.2 0 1 0 2.4 0a1.2 1.2 0 1 0-2.4 0M535.7 529.3a1.2 1.2 0 1 0 2.4 0a1.2 1.2 0 1 0-2.4 0M538.6 596.6a1.2 1.2 0 1 0 2.4 0a1.2 1.2 0 1 0-2.4 0M602.3 588.0a1.2 1.2 0 1 0 2.4 0a1.2 1.2 0 1 0-2.4 0M574.6 522.5a1.2 1.2 0 1 0 2.4 0a1.2 1.2 0 1 0-2.4 0M537.7 510.2a1.2 1.2 0 1 0 2.4 0a1.2 1.2 0 1 0-2.4 0M613.6 520.6a1.2 1.2 0 1 0 2.4 0a1.2 1.2 0 1 0-2.4 0M590.0 506.7a1.2 1.2 0 1 0 2.4 0a1.2 1.2 0 1 0-2.4 0M542.8 572.5a1.2 1.2 0 1 0 2.4 0a1.2 1.2 0 1 0-2.4 0M531.6 514.2a1.2 1.2 0 1 0 2.4 0a1.2 1.2 0 1 0-2.4 0M609.8 538.0a1.2 1.2 0 1 0 2.4 0a1.2 1.2 0 1 0-2.4 0M512.3 583.6a1.2 1.2 0 1 0 2.4 0a1.2 1.2 0 1 0-2.4 0M620.0 566.2a1.2 1.2 0 1 0 2.4 0a1.2 1.2 0 1 0-2.4 0M515.5 552.2a1.2 1.2 0 1 0 2.4 0a1.2 1.2 0 1 0-2.4 0M578.4 533.3a1.2 1.2 0 1 0 2.4 0a1.2 1.2 0 1 0-2.4 0M557.3 587.6a1.2 1.2 0 1 0 2.4 0a1.2 1.2 0 1 0-2.4 0M583.7 597.5a1.2 1.2 0 1 0 2.4 0a1.2 1.2 0 1 0-2.4 0M615.8 563.3a1.2 1.2 0 1 0 2.4 0a1.2 1.2 0 1 0-2.4 0M619.1 519.4a1.2 1.2 0 1 0 2.4 0a1.2 1.2 0 1 0-2.4 0M568.3 580.4a1.2 1.2 0 1 0 2.4 0a1.2 1.2 0 1 0-2.4 0M613.4 558.0a1.2 1.2 0 1 0 2.4 0a1.2 1.2 0 1 0-2.4 0M559.4 604.1a1.2 1.2 0 1 0 2.4 0a1.2 1.2 0 1 0-2.4 0M563.1 512.9a1.2 1.2 0 1 0 2.4 0a1.2 1.2 0 1 0-2.4 0M561.1 536.1a1.2 1.2 0 1 0 2.4 0a1.2 1.2 0 1 0-2.4 0M583.5 595.8a1.2 1.2 0 1 0 2.4 0a1.2 1.2 0 1 0-2.4 0M516.8 541.2a1.2 1.2 0 1 0 2.4 0a1.2 1.2 0 1 0-2.4 0M610.2 595.0a1.2 1.2 0 1 0 2.4 0a1.2 1.2 0 1 0-2.4 0M597.5 549.1a1.2 1.2 0 1 0 2.4 0a1.2 1.2 0 1 0-2.4 0M616.2 599.3a1.2 1.2 0 1 0 2.4 0a1.2 1.2 0 1 0-2.4 0M601.3 566.0a1.2 1.2 0 1 0 2.4 0a1.2 1.2 0 1 0-2.4 0M581.9 521.0a1.2 1.2 0 1 0 2.4 0a1.2 1.2 0 1 0-2.4 0M515.5 508.2a1.2 1.2 0 1 0 2.4 0a1.2 1.2 0 1 0-2.4 0M517.5 562.3a1.2 1.2 0 1 0 2.4 0a1.2 1.2 0 1 0-2.4 0M615.2 569.5a1.2 1.2 0 1 0 2.4 0a1.2 1.2 0 1 0-2.4 0M598.0 589.1a1.2 1.2 0 1 0 2.4 0a1.2 1.2 0 1 0-2.4 0M615.1 536.8a1.2 1.2 0 1 0 2.4 0a1.2 1.2 0 1 0-2.4 0M566.1 607.7a1.2 1.2 0 1 0 2.4 0a1.2 1.2 0 1 0-2.4 0M547.8 582.9a1.2 1.2 0 1 0 2.4 0a1.2 1.2 0 1 0-2.4 0M556.8 523.3a1.2 1.2 0 1 0 2.4 0a1.2 1.2 0 1 0-2.4 0M533.9 545.9a1.2 1.2 0 1 0 2.4 0a1.2 1.2 0 1 0-2.4 0M514.8 603.0a1.2 1.2 0 1 0 2.4 0a1.2 1.2 0 1 0-2.4 0M550.5 532.9a1.2 1.2 0 1 0 2.4 0a1.2 1.2 0 1 0-2.4 0M599.3 507.2a1.2 1.2 0 1 0 2.4 0a1.2 1.2 0 1 0-2.4 0M595.1 555.8a1.2 1.2 0 1 0 2.4 0a1.2 1.2 0 1 0-2.4 0M521.5 550.1a1.2 1.2 0 1 0 2.4 0a1.2 1.2 0 1 0-2.4 0M619.7 510.9a1.2 1.2 0 1 0 2.4 0a1.2 1.2 0 1 0-2.4 0M542.7 526.1a1.2 1.2 0 1 0 2.4 0a1.2 1.2 0 1 0-2.4 0M576.4 528.3a1.2 1.2 0 1 0 2.4 0a1.2 1.2 0 1 0-2.4 0M604.6 546.4a1.2 1.2 0 1 0 2.4 0a1.2 1.2 0 1 0-2.4 0M615.7 519.9a1.2 1.2 0 1 0 2.4 0a1.2 1.2 0 1 0-2.4 0M536.8 509.5a1.2 1.2 0 1 0 2.4 0a1.2 1.2 0 1 0-2.4 0M516.5 526.7a1.2 1.2 0 1 0 2.4 0a1.2 1.2 0 1 0-2.4 0M576.0 566.8a1.2 1.2 0 1 0 2.4 0a1.2 1.2 0 1 0-2.4 0M591.2 532.2a1.2 1.2 0 1 0 2.4 0a1.2 1.2 0 1 0-2.4 0M577.2 614.2a1.2 1.2 0 1 0 2.4 0a1.2 1.2 0 1 0-2.4 0M546.8 532.3a1.2 1.2 0 1 0 2.4 0a1.2 1.2 0 1 0-2.4 0M532.0 612.1a1.2 1.2 0 1 0 2.4 0a1.2 1.2 0 1 0-2.4 0M581.4 560.6a1.2 1.2 0 1 0 2.4 0a1.2 1.2 0 1 0-2.4 0M565.9 515.3a1.2 1.2 0 1 0 2.4 0a1.2 1.2 0 1 0-2.4 0M536.3 583.1a1.2 1.2 0 1 0 2.4 0a1.2 1.2 0 1 0-2.4 0M539.2 562.8a1.2 1.2 0 1 0 2.4 0a1.2 1.2 0 1 0-2.4 0M610.7 526.6a1.2 1.2 0 1 0 2.4 0a1.2 1.2 0 1 0-2.4 0M563.4 589.9a1.2 1.2 0 1 0 2.4 0a1.2 1.2 0 1 0-2.4 0M593.2 596.9a1.2 1.2 0 1 0 2.4 0a1.2 1.2 0 1 0-2.4 0M611.4 569.7a1.2 1.2 0 1 0 2.4 0a1.2 1.2 0 1 0-2.4 0M536.3 562.3a1.2 1.2 0 1 0 2.4 0a1.2 1.2 0 1 0-2.4 0M613.2 528.3a1.2 1.2 0 1 0 2.4 0a1.2 1.2 0 1 0-2.4 0M543.8 528.2a1.2 1.2 0 1 0 2.4 0a1.2 1.2 0 1 0-2.4 0M607.9 517.2a1.2 1.2 0 1 0 2.4 0a1.2 1.2 0 1 0-2.4 0M528.2 573.2a1.2 1.2 0 1 0 2.4 0a1.2 1.2 0 1 0-2.4 0M591.5 552.7a1.2 1.2 0 1 0 2.4 0a1.2 1.2 0 1 0-2.4 0M593.7 583.9a1.2 1.2 0 1 0 2.4 0a1.2 1.2 0 1 0-2.4 0M554.4 514.6a1.2 1.2 0 1 0 2.4 0a1.2 1.2 0 1 0-2.4 0M587.3 574.4a1.2 1.2 0 1 0 2.4 0a1.2 1.2 0 1 0-2.4 0M616.7 583.3a1.2 1.2 0 1 0 2.4 0a1.2 1.2 0 1 0-2.4 0M518.5 528.0a1.2 1.2 0 1 0 2.4 0a1.2 1.2 0 1 0-2.4 0M545.3 586.0a1.2 1.2 0 1 0 2.4 0a1.2 1.2 0 1 0-2.4 0M545.5 532.2a1.2 1.2 0 1 0 2.4 0a1.2 1.2 0 1 0-2.4 0M532.0 536.2a1.2 1.2 0 1 0 2.4 0a1.2 1.2 0 1 0-2.4 0M566.1 584.1a1.2 1.2 0 1 0 2.4 0a1.2 1.2 0 1 0-2.4 0M604.5 517.6a1.2 1.2 0 1 0 2.4 0a1.2 1.2 0 1 0-2.4 0M572.1 612.9a1.2 1.2 0 1 0 2.4 0a1.2 1.2 0 1 0-2.4 0M555.0 520.2a1.2 1.2 0 1 0 2.4 0a1.2 1.2 0 1 0-2.4 0M583.2 596.7a1.2 1.2 0 1 0 2.4 0a1.2 1.2 0 1 0-2.4 0M516.0 515.9a1.2 1.2 0 1 0 2.4 0a1.2 1.2 0 1 0-2.4 0M545.2 546.4a1.2 1.2 0 1 0 2.4 0a1.2 1.2 0 1 0-2.4 0M524.2 515.8a1.2 1.2 0 1 0 2.4 0a1.2 1.2 0 1 0-2.4 0M557.8 611.1a1.2 1.2 0 1 0 2.4 0a1.2 1.2 0 1 0-2.4 0M573.7 536.9a1.2 1.2 0 1 0 2.4 0a1.2 1.2 0 1 0-2.4 0M616.7 537.5a1.2 1.2 0 1 0 2.4 0a1.2 1.2 0 1 0-2.4 0M527.1 520.1a1.2 1.2 0 1 0 2.4 0a1.2 1.2 0 1 0-2.4 0M514.2 606.7a1.2 1.2 0 1 0 2.4 0a1.2 1.2 0 1 0-2.4 0M569.9 613.8a1.2 1.2 0 1 0 2.4 0a1.2 1.2 0 1 0-2.4 0M570.9 514.4a1.2 1.2 0 1 0 2.4 0a1.2 1.2 0 1 0-2.4 0M552.2 544.3a1.2 1.2 0 1 0 2.4 0a1.2 1.2 0 1 0-2.4 0M528.9 515.4a1.2 1.2 0 1 0 2.4 0a1.2 1.2 0 1 0-2.4 0M587.2 601.8a1.2 1.2 0 1 0 2.4 0a1.2 1.2 0 1 0-2.4 0M614.0 532.6a1.2 1.2 0 1 0 2.4 0a1.2 1.2 0 1 0-2.4 0M579.1 534.4a1.2 1.2 0 1 0 2.4 0a1.2 1.2 0 1 0-2.4 0M604.1 606.4a1.2 1.2 0 1 0 2.4 0a1.2 1.2 0 1 0-2.4 0M512.8 527.4a1.2 1.2 0 1 0 2.4 0a1.2 1.2 0 1 0-2.4 0M606.8 614.0a1.2 1.2 0 1 0 2.4 0a1.2 1.2 0 1 0-2.4 0M604.6 513.6a1.2 1.2 0 1 0 2.4 0a1.2 1.2 0 1 0-2.4 0M577.4 590.8a1.2 1.2 0 1 0 2.4 0a1.2 1.2 0 1 0-2.4 0M574.2 566.0a1.2 1.2 0 1 0 2.4 0a1.2 1.2 0 1 0-2.4 0M596.5 513.1a1.2 1.2 0 1 0 2.4 0a1.2 1.2 0 1 0-2.4 0M574.0 612.9a1.2 1.2 0 1 0 2.4 0a1.2 1.2 0 1 0-2.4 0M571.9 546.0a1.2 1.2 0 1 0 2.4 0a1.2 1.2 0 1 0-2.4 0M526.5 603.9a1.2 1.2 0 1 0 2.4 0a1.2 1.2 0 1 0-2.4 0M585.0 611.0a1.2 1.2 0 1 0 2.4 0a1.2 1.2 0 1 0-2.4 0M617.3 582.2a1.2 1.2 0 1 0 2.4 0a1.2 1.2 0 1 0-2.4 0M605.2 595.9a1.2 1.2 0 1 0 2.4 0a1.2 1.2 0 1 0-2.4 0M593.1 552.1a1.2 1.2 0 1 0 2.4 0a1.2 1.2 0 1 0-2.4 0M585.8 592.2a1.2 1.2 0 1 0 2.4 0a1.2 1.2 0 1 0-2.4 0M540.7 592.6a1.2 1.2 0 1 0 2.4 0a1.2 1.2 0 1 0-2.4 0M577.7 548.1a1.2 1.2 0 1 0 2.4 0a1.2 1.2 0 1 0-2.4 0M559.1 607.0a1.2 1.2 0 1 0 2.4 0a1.2 1.2 0 1 0-2.4 0M518.9 511.4a1.2 1.2 0 1 0 2.4 0a1.2 1.2 0 1 0-2.4 0M566.2 518.3a1.2 1.2 0 1 0 2.4 0a1.2 1.2 0 1 0-2.4 0M605.4 607.1a1.2 1.2 0 1 0 2.4 0a1.2 1.2 0 1 0-2.4 0M550.7 545.0a1.2 1.2 0 1 0 2.4 0a1.2 1.2 0 1 0-2.4 0M584.0 603.2a1.2 1.2 0 1 0 2.4 0a1.2 1.2 0 1 0-2.4 0M581.5 604.4a1.2 1.2 0 1 0 2.4 0a1.2 1.2 0 1 0-2.4 0M549.1 557.7a1.2 1.2 0 1 0 2.4 0a1.2 1.2 0 1 0-2.4 0M586.9 587.7a1.2 1.2 0 1 0 2.4 0a1.2 1.2 0 1 0-2.4 0M553.6 545.2a1.2 1.2 0 1 0 2.4 0a1.2 1.2 0 1 0-2.4 0M604.4 579.5a1.2 1.2 0 1 0 2.4 0a1.2 1.2 0 1 0-2.4 0M569.9 534.1a1.2 1.2 0 1 0 2.4 0a1.2 1.2 0 1 0-2.4 0M551.6 515.9a1.2 1.2 0 1 0 2.4 0a1.2 1.2 0 1 0-2.4 0M538.4 516.5a1.2 1.2 0 1 0 2.4 0a1.2 1.2 0 1 0-2.4 0M536.2 574.8a1.2 1.2 0 1 0 2.4 0a1.2 1.2 0 1 0-2.4 0M572.8 599.5a1.2 1.2 0 1 0 2.4 0a1.2 1.2 0 1 0-2.4 0M573.5 543.9a1.2 1.2 0 1 0 2.4 0a1.2 1.2 0 1 0-2.4 0M549.8 597.4a1.2 1.2 0 1 0 2.4 0a1.2 1.2 0 1 0-2.4 0M513.7 524.4a1.2 1.2 0 1 0 2.4 0a1.2 1.2 0 1 0-2.4 0M560.4 522.6a1.2 1.2 0 1 0 2.4 0a1.2 1.2 0 1 0-2.4 0M555.2 523.9a1.2 1.2 0 1 0 2.4 0a1.2 1.2 0 1 0-2.4 0M579.3 601.3a1.2 1.2 0 1 0 2.4 0a1.2 1.2 0 1 0-2.4 0M554.5 591.1a1.2 1.2 0 1 0 2.4 0a1.2 1.2 0 1 0-2.4 0M511.8 518.4a1.2 1.2 0 1 0 2.4 0a1.2 1.2 0 1 0-2.4 0M527.7 592.3a1.2 1.2 0 1 0 2.4 0a1.2 1.2 0 1 0-2.4 0M541.8 569.1a1.2 1.2 0 1 0 2.4 0a1.2 1.2 0 1 0-2.4 0M606.5 568.3a1.2 1.2 0 1 0 2.4 0a1.2 1.2 0 1 0-2.4 0M556.1 566.5a1.2 1.2 0 1 0 2.4 0a1.2 1.2 0 1 0-2.4 0M583.8 571.5a1.2 1.2 0 1 0 2.4 0a1.2 1.2 0 1 0-2.4 0M571.1 521.4a1.2 1.2 0 1 0 2.4 0a1.2 1.2 0 1 0-2.4 0M618.0 586.0a1.2 1.2 0 1 0 2.4 0a1.2 1.2 0 1 0-2.4 0M608.0 592.8a1.2 1.2 0 1 0 2.4 0a1.2 1.2 0 1 0-2.4 0M535.8 555.1a1.2 1.2 0 1 0 2.4 0a1.2 1.2 0 1 0-2.4 0M577.1 525.8a1.2 1.2 0 1 0 2.4 0a1.2 1.2 0 1 0-2.4 0M601.3 560.2a1.2 1.2 0 1 0 2.4 0a1.2 1.2 0 1 0-2.4 0M575.5 606.8a1.2 1.2 0 1 0 2.4 0a1.2 1.2 0 1 0-2.4 0M546.4 543.7a1.2 1.2 0 1 0 2.4 0a1.2 1.2 0 1 0-2.4 0M576.8 517.7a1.2 1.2 0 1 0 2.4 0a1.2 1.2 0 1 0-2.4 0M539.5 529.4a1.2 1.2 0 1 0 2.4 0a1.2 1.2 0 1 0-2.4 0M618.1 576.4a1.2 1.2 0 1 0 2.4 0a1.2 1.2 0 1 0-2.4 0M599.0 576.2a1.2 1.2 0 1 0 2.4 0a1.2 1.2 0 1 0-2.4 0M546.6 547.0a1.2 1.2 0 1 0 2.4 0a1.2 1.2 0 1 0-2.4 0M615.7 573.7a1.2 1.2 0 1 0 2.4 0a1.2 1.2 0 1 0-2.4 0M578.1 553.4a1.2 1.2 0 1 0 2.4 0a1.2 1.2 0 1 0-2.4 0M610.6 531.5a1.2 1.2 0 1 0 2.4 0a1.2 1.2 0 1 0-2.4 0M607.7 583.0a1.2 1.2 0 1 0 2.4 0a1.2 1.2 0 1 0-2.4 0M591.7 615.0a1.2 1.2 0 1 0 2.4 0a1.2 1.2 0 1 0-2.4 0M565.2 564.8a1.2 1.2 0 1 0 2.4 0a1.2 1.2 0 1 0-2.4 0M557.3 580.2a1.2 1.2 0 1 0 2.4 0a1.2 1.2 0 1 0-2.4 0M604.9 590.3a1.2 1.2 0 1 0 2.4 0a1.2 1.2 0 1 0-2.4 0M537.0 595.1a1.2 1.2 0 1 0 2.4 0a1.2 1.2 0 1 0-2.4 0M515.2 577.1a1.2 1.2 0 1 0 2.4 0a1.2 1.2 0 1 0-2.4 0M530.8 541.5a1.2 1.2 0 1 0 2.4 0a1.2 1.2 0 1 0-2.4 0M573.9 522.2a1.2 1.2 0 1 0 2.4 0a1.2 1.2 0 1 0-2.4 0M590.5 579.1a1.2 1.2 0 1 0 2.4 0a1.2 1.2 0 1 0-2.4 0M596.8 559.0a1.2 1.2 0 1 0 2.4 0a1.2 1.2 0 1 0-2.4 0M603.7 587.9a1.2 1.2 0 1 0 2.4 0a1.2 1.2 0 1 0-2.4 0M571.5 578.4a1.2 1.2 0 1 0 2.4 0a1.2 1.2 0 1 0-2.4 0M539.6 571.6a1.2 1.2 0 1 0 2.4 0a1.2 1.2 0 1 0-2.4 0M542.6 521.9a1.2 1.2 0 1 0 2.4 0a1.2 1.2 0 1 0-2.4 0M577.9 607.8a1.2 1.2 0 1 0 2.4 0a1.2 1.2 0 1 0-2.4 0M563.1 524.7a1.2 1.2 0 1 0 2.4 0a1.2 1.2 0 1 0-2.4 0M581.8 527.9a1.2 1.2 0 1 0 2.4 0a1.2 1.2 0 1 0-2.4 0M582.6 587.3a1.2 1.2 0 1 0 2.4 0a1.2 1.2 0 1 0-2.4 0M534.6 539.1a1.2 1.2 0 1 0 2.4 0a1.2 1.2 0 1 0-2.4 0M560.3 579.1a1.2 1.2 0 1 0 2.4 0a1.2 1.2 0 1 0-2.4 0M587.7 610.8a1.2 1.2 0 1 0 2.4 0a1.2 1.2 0 1 0-2.4 0M577.4 608.4a1.2 1.2 0 1 0 2.4 0a1.2 1.2 0 1 0-2.4 0M535.0 534.2a1.2 1.2 0 1 0 2.4 0a1.2 1.2 0 1 0-2.4 0M618.0 592.5a1.2 1.2 0 1 0 2.4 0a1.2 1.2 0 1 0-2.4 0M554.6 513.5a1.2 1.2 0 1 0 2.4 0a1.2 1.2 0 1 0-2.4 0M539.4 551.2a1.2 1.2 0 1 0 2.4 0a1.2 1.2 0 1 0-2.4 0M513.9 572.7a1.2 1.2 0 1 0 2.4 0a1.2 1.2 0 1 0-2.4 0M611.8 543.6a1.2 1.2 0 1 0 2.4 0a1.2 1.2 0 1 0-2.4 0M549.6 537.3a1.2 1.2 0 1 0 2.4 0a1.2 1.2 0 1 0-2.4 0M555.4 572.9a1.2 1.2 0 1 0 2.4 0a1.2 1.2 0 1 0-2.4 0M543.9 511.8a1.2 1.2 0 1 0 2.4 0a1.2 1.2 0 1 0-2.4 0M518.8 607.5a1.2 1.2 0 1 0 2.4 0a1.2 1.2 0 1 0-2.4 0M583.8 520.7a1.2 1.2 0 1 0 2.4 0a1.2 1.2 0 1 0-2.4 0M557.1 588.8a1.2 1.2 0 1 0 2.4 0a1.2 1.2 0 1 0-2.4 0M553.3 578.5a1.2 1.2 0 1 0 2.4 0a1.2 1.2 0 1 0-2.4 0M621.0 546.1a1.2 1.2 0 1 0 2.4 0a1.2 1.2 0 1 0-2.4 0M561.2 522.9a1.2 1.2 0 1 0 2.4 0a1.2 1.2 0 1 0-2.4 0M588.4 558.9a1.2 1.2 0 1 0 2.4 0a1.2 1.2 0 1 0-2.4 0M570.5 540.4a1.2 1.2 0 1 0 2.4 0a1.2 1.2 0 1 0-2.4 0M579.8 572.2a1.2 1.2 0 1 0 2.4 0a1.2 1.2 0 1 0-2.4 0M611.9 590.5a1.2 1.2 0 1 0 2.4 0a1.2 1.2 0 1 0-2.4 0M520.5 520.3a1.2 1.2 0 1 0 2.4 0a1.2 1.2 0 1 0-2.4 0M553.8 527.6a1.2 1.2 0 1 0 2.4 0a1.2 1.2 0 1 0-2.4 0M531.3 526.1a1.2 1.2 0 1 0 2.4 0a1.2 1.2 0 1 0-2.4 0M603.9 517.8a1.2 1.2 0 1 0 2.4 0a1.2 1.2 0 1 0-2.4 0M598.1 557.9a1.2 1.2 0 1 0 2.4 0a1.2 1.2 0 1 0-2.4 0M592.3 557.1a1.2 1.2 0 1 0 2.4 0a1.2 1.2 0 1 0-2.4 0M536.5 549.9a1.2 1.2 0 1 0 2.4 0a1.2 1.2 0 1 0-2.4 0M611.3 590.8a1.2 1.2 0 1 0 2.4 0a1.2 1.2 0 1 0-2.4 0M583.0 551.5a1.2 1.2 0 1 0 2.4 0a1.2 1.2 0 1 0-2.4 0M593.1 523.0a1.2 1.2 0 1 0 2.4 0a1.2 1.2 0 1 0-2.4 0M562.5 545.9a1.2 1.2 0 1 0 2.4 0a1.2 1.2 0 1 0-2.4 0M557.6 595.5a1.2 1.2 0 1 0 2.4 0a1.2 1.2 0 1 0-2.4 0M529.3 537.3a1.2 1.2 0 1 0 2.4 0a1.2 1.2 0 1 0-2.4 0M573.4 539.1a1.2 1.2 0 1 0 2.4 0a1.2 1.2 0 1 0-2.4 0M610.6 554.9a1.2 1.2 0 1 0 2.4 0a1.2 1.2 0 1 0-2.4 0M512.0 536.9a1.2 1.2 0 1 0 2.4 0a1.2 1.2 0 1 0-2.4 0M542.1 551.6a1.2 1.2 0 1 0 2.4 0a1.2 1.2 0 1 0-2.4 0M511.6 608.3a1.2 1.2 0 1 0 2.4 0a1.2 1.2 0 1 0-2.4 0M558.0 583.6a1.2 1.2 0 1 0 2.4 0a1.2 1.2 0 1 0-2.4 0M562.0 556.9a1.2 1.2 0 1 0 2.4 0a1.2 1.2 0 1 0-2.4 0M544.9 605.1a1.2 1.2 0 1 0 2.4 0a1.2 1.2 0 1 0-2.4 0M527.8 563.1a1.2 1.2 0 1 0 2.4 0a1.2 1.2 0 1 0-2.4 0M541.9 540.4a1.2 1.2 0 1 0 2.4 0a1.2 1.2 0 1 0-2.4 0M522.6 610.9a1.2 1.2 0 1 0 2.4 0a1.2 1.2 0 1 0-2.4 0M545.7 583.4a1.2 1.2 0 1 0 2.4 0a1.2 1.2 0 1 0-2.4 0M593.2 606.7a1.2 1.2 0 1 0 2.4 0a1.2 1.2 0 1 0-2.4 0M560.5 559.9a1.2 1.2 0 1 0 2.4 0a1.2 1.2 0 1 0-2.4 0M602.2 566.7a1.2 1.2 0 1 0 2.4 0a1.2 1.2 0 1 0-2.4 0M537.2 545.9a1.2 1.2 0 1 0 2.4 0a1.2 1.2 0 1 0-2.4 0M611.0 540.7a1.2 1.2 0 1 0 2.4 0a1.2 1.2 0 1 0-2.4 0M577.7 591.0a1.2 1.2 0 1 0 2.4 0a1.2 1.2 0 1 0-2.4 0M599.4 574.5a1.2 1.2 0 1 0 2.4 0a1.2 1.2 0 1 0-2.4 0M596.7 613.8a1.2 1.2 0 1 0 2.4 0a1.2 1.2 0 1 0-2.4 0M564.9 544.1a1.2 1.2 0 1 0 2.4 0a1.2 1.2 0 1 0-2.4 0M555.1 588.0a1.2 1.2 0 1 0 2.4 0a1.2 1.2 0 1 0-2.4 0M532.9 599.5a1.2 1.2 0 1 0 2.4 0a1.2 1.2 0 1 0-2.4 0M540.5 523.7a1.2 1.2 0 1 0 2.4 0a1.2 1.2 0 1 0-2.4 0M591.5 541.6a1.2 1.2 0 1 0 2.4 0a1.2 1.2 0 1 0-2.4 0M594.6 528.7a1.2 1.2 0 1 0 2.4 0a1.2 1.2 0 1 0-2.4 0M540.9 557.8a1.2 1.2 0 1 0 2.4 0a1.2 1.2 0 1 0-2.4 0M589.8 566.1a1.2 1.2 0 1 0 2.4 0a1.2 1.2 0 1 0-2.4 0M616.3 608.6a1.2 1.2 0 1 0 2.4 0a1.2 1.2 0 1 0-2.4 0M525.6 598.3a1.2 1.2 0 1 0 2.4 0a1.2 1.2 0 1 0-2.4 0M621.1 538.2a1.2 1.2 0 1 0 2.4 0a1.2 1.2 0 1 0-2.4 0M557.1 567.6a1.2 1.2 0 1 0 2.4 0a1.2 1.2 0 1 0-2.4 0" fill="none" stroke="#6c7492" stroke-width="0.6"/><path d="M547.2 530.5L549.4 530.1L550.5 532.9L548.9 534.1L544.4 535.9L540.9 534.7L540.8 532.9L542.8 530.6ZM512.7 541.4L516.4 538.9L521.9 539.8L523.6 542.7L518.8 544.9ZM514.7 528.4L514.3 525.0L519.4 523.5L524.7 525.1L519.0 528.5ZM545.5 521.6L545.4 517.6L549.5 521.3L550.3 526.1L546.9 524.5ZM553.7 533.3L551.0 537.2L547.0 539.2L542.5 537.6L544.6 534.8L547.8 532.1ZM551.4 527.5L548.3 527.4L547.0 526.9L547.2 524.1L549.7 522.7L551.7 523.8L553.2 525.8ZM520.7 516.2L523.8 515.1L524.9 517.9L524.7 519.7L522.5 520.1L519.0 519.0ZM539.3 525.4L536.8 528.7L536.5 525.3L537.6 521.8L540.2 520.3L541.3 521.7ZM525.9 530.5L528.7 529.8L530.6 531.6L529.1 533.8L524.4 535.5L523.4 535.3L523.4 532.6ZM545.8 539.0L541.8 536.8L538.2 533.2L537.5 531.1L539.3 530.2L542.5 531.1L545.3 534.6L545.8 536.9ZM556.6 534.9L557.7 537.1L557.2 542.9L553.6 547.4L552.0 544.0L552.4 537.4ZM530.9 538.1L529.6 541.3L526.9 544.2L524.7 544.0L524.7 540.9L525.5 536.2L528.0 534.4L530.5 534.9ZM541.8 554.0L539.8 553.1L535.2 542.1L537.5 539.0L541.9 542.8L543.2 548.0ZM521.0 532.3L522.4 528.4L529.4 524.8L530.1 528.1L523.1 533.3ZM548.7 552.0L544.9 550.3L542.3 548.3L544.9 543.9L548.1 545.7L549.1 547.6ZM533.4 548.2L540.6 547.9L540.5 549.4L538.9 552.0L532.1 554.3L527.6 552.9L530.1 550.5ZM545.1 519.0L547.0 516.4L550.9 516.9L552.9 519.7L550.1 522.9L548.5 521.1ZM521.3 533.2L519.0 536.1L515.0 538.3L512.8 535.0L513.3 532.2L515.3 529.6L519.6 527.5L520.9 529.9ZM520.3 518.4L521.4 524.5L520.7 530.9L518.9 530.7L516.9 527.6L516.3 526.3L516.4 520.7L518.7 516.9ZM540.8 550.1L533.5 549.0L534.6 545.9L543.8 545.0L548.5 548.6ZM517.4 526.2L522.1 524.1L527.3 525.5L526.0 529.1L518.4 531.5L513.7 529.5ZM534.3 515.6L536.5 515.8L538.7 517.5L540.6 518.7L539.1 521.1L539.0 522.4L536.8 521.7L535.5 518.8ZM536.2 530.8L539.3 529.6L542.5 530.5L542.5 534.7L539.5 537.2L536.3 536.4L533.9 532.6ZM537.5 529.7L539.3 530.1L539.5 533.0L535.9 534.8L533.0 533.9L534.3 531.7ZM538.9 533.8L536.6 533.5L534.0 529.1L536.2 527.4L538.6 524.9L541.1 526.7L540.7 531.5ZM548.8 514.6L549.1 519.3L548.4 519.8L545.9 521.7L545.4 519.6L545.9 513.4L547.9 511.8ZM516.2 536.9L516.9 534.3L520.4 534.8L521.5 536.4L522.3 537.9L519.8 539.4L516.6 538.3ZM547.3 542.1L544.5 540.3L547.1 535.0L550.5 533.0L552.9 536.9L553.6 539.6L549.1 543.3ZM579.4 518.1L583.1 516.1L586.5 516.8L586.6 521.6L584.2 524.3ZM611.7 519.9L611.9 516.7L616.4 518.0L617.3 524.5L614.0 523.9ZM580.7 521.0L579.3 523.4L574.1 522.2L571.2 520.2L575.3 518.0L579.5 518.4ZM573.1 528.5L572.3 532.7L565.9 535.9L566.1 532.2L569.2 529.1ZM588.9 508.7L589.4 514.2L581.7 517.7L580.8 514.3L583.4 509.2ZM603.6 532.6L606.4 531.5L610.7 534.2L611.9 536.6L609.2 537.4L605.0 534.7ZM589.0 512.3L587.7 509.4L589.0 507.4L592.4 508.5L593.7 508.8L594.1 511.6L590.6 513.3ZM578.4 545.3L576.4 543.4L576.8 541.1L580.3 541.9L582.4 544.6L582.1 547.2ZM587.6 548.7L586.1 545.1L587.1 543.7L588.7 542.1L591.2 543.0L592.9 544.5L591.3 546.3L589.3 548.3ZM610.3 542.3L606.9 541.8L605.9 536.4L607.3 534.8L611.2 536.5L613.2 537.9ZM585.0 523.7L588.9 520.6L592.8 523.8L593.1 528.5L588.0 528.8ZM588.8 553.4L587.0 555.3L584.1 554.2L583.6 548.6L584.6 543.6L587.0 538.4L588.6 544.0ZM600.9 511.7L599.1 514.3L595.4 513.8L593.9 510.7L598.4 508.4L600.4 507.7L603.3 509.7ZM601.4 545.0L600.4 548.7L597.8 549.1L596.2 547.0L596.7 544.3ZM614.5 518.2L612.3 520.3L609.5 517.5L611.3 514.2L613.8 514.4L615.8 515.3ZM590.7 531.5L589.0 534.3L585.1 534.4L583.3 532.1L582.7 529.0L584.3 527.7L588.3 525.9L589.9 529.3ZM606.9 510.3L614.7 508.5L614.0 512.8L608.4 515.6L602.3 515.4ZM589.2 535.7L585.4 532.8L585.9 526.7L589.0 528.0L590.1 532.2ZM582.6 547.8L578.4 549.9L576.7 546.2L576.0 542.5L580.1 539.6L584.0 544.7ZM587.8 550.6L586.6 550.4L584.6 547.7L586.7 544.1L588.4 544.7L590.0 546.0L590.1 549.1ZM605.9 538.2L603.2 539.4L604.2 536.1L606.9 533.4L610.2 532.7L612.9 532.2L613.3 534.4L607.9 539.1ZM582.2 525.9L585.0 526.3L586.1 529.2L588.1 531.6L585.4 532.7L582.7 533.3L581.7 530.4L581.4 528.2ZM587.5 541.5L586.9 537.9L589.3 537.5L592.1 538.0L592.9 539.7L590.6 541.4ZM590.4 512.3L590.8 511.4L592.7 508.0L594.5 506.6L595.1 508.6L595.5 511.4L594.0 514.3L592.1 513.6ZM599.2 545.3L597.2 548.6L594.4 550.0L592.2 549.4L594.9 544.8L595.7 542.0L598.8 543.8ZM602.3 537.7L598.8 538.7L596.6 537.4L596.4 535.3L598.6 533.4L600.9 535.6ZM574.6 587.7L570.1 584.6L567.7 576.1L574.2 578.0L578.7 584.0ZM557.3 573.6L557.4 571.2L561.4 568.5L564.4 568.7L563.9 570.6L561.6 572.9L558.3 573.9ZM581.9 567.0L579.8 572.0L577.6 575.8L576.0 572.1L574.4 568.9L576.7 565.5L579.5 564.8ZM583.4 577.3L579.9 576.2L576.2 574.9L576.5 571.2L581.2 570.5L583.6 572.5L585.2 574.8ZM556.6 574.3L555.6 571.7L558.4 565.3L560.7 565.8L560.5 570.7ZM577.9 571.9L576.3 564.6L576.5 561.7L579.2 560.9L581.7 564.4L580.2 567.7ZM558.8 565.8L554.4 566.5L553.4 564.5L554.7 558.9L556.4 557.8L558.2 558.2L559.9 562.8ZM572.8 563.8L574.3 567.8L571.0 572.1L566.9 573.7L566.0 570.7L571.0 562.9ZM547.5 555.4L550.3 552.4L555.1 553.6L556.2 557.3L552.6 561.4L551.3 560.6L548.0 558.1ZM560.7 551.3L559.2 549.0L557.3 547.5L557.7 542.0L560.9 542.4L562.3 544.8L562.9 548.5ZM566.6 579.9L565.1 582.0L560.9 584.4L556.5 587.4L555.6 585.0L555.9 583.0L558.6 580.6L563.1 579.8ZM560.2 582.9L559.6 578.3L560.4 576.3L561.5 571.9L563.0 570.5L564.1 572.6L563.9 578.6L562.6 581.2ZM548.7 573.1L545.1 572.0L542.3 569.0L545.2 567.3L549.2 569.1ZM553.2 558.1L550.8 558.0L548.4 554.8L549.0 550.4L551.7 551.5L554.4 555.6ZM554.3 555.4L552.6 555.6L552.0 552.1L552.5 548.8L553.4 548.0L555.1 551.7L556.4 554.4L556.0 557.1ZM576.3 558.5L571.2 558.4L569.6 557.3L567.8 554.7L570.6 554.2L576.0 553.7L578.0 556.7ZM545.0 558.1L548.6 556.8L551.7 559.4L550.4 561.8L546.6 561.5ZM567.1 571.8L570.5 569.3L574.2 568.6L575.3 572.5L573.1 577.6L570.2 575.6ZM572.4 557.5L568.9 560.7L565.8 559.9L566.9 557.8L569.6 554.7L573.6 554.7ZM556.6 562.0L552.4 558.7L549.5 554.6L552.5 554.0L559.2 556.3L561.1 559.6ZM533.3 610.4L529.0 613.5L526.7 612.0L527.0 607.9L527.6 604.2L532.0 605.0L533.3 605.2L535.2 608.0ZM530.8 573.1L535.2 575.8L532.9 579.2L527.9 580.2L521.4 579.3L523.8 577.2ZM520.7 583.7L522.6 584.9L525.4 588.2L524.5 590.7L521.7 589.8L517.4 587.5L518.4 585.7ZM532.2 575.1L536.3 575.5L537.1 579.8L535.9 583.6L530.6 582.6L529.6 578.9ZM542.9 585.3L547.1 582.1L547.3 586.1L544.7 589.1L541.9 590.5ZM523.7 591.3L521.6 588.2L519.7 585.7L520.3 582.0L523.4 581.1L526.8 584.0L526.7 587.1ZM530.0 594.0L527.8 594.4L525.5 593.4L526.2 590.8L529.0 589.7L532.0 590.8ZM532.7 603.3L530.3 601.0L533.6 596.8L537.8 598.8L537.7 603.6ZM538.6 574.4L541.7 572.5L543.0 574.2L541.8 577.0L537.1 580.4L534.7 580.2L533.6 579.0L535.9 576.3ZM520.8 569.8L521.1 567.4L523.7 567.9L526.4 568.7L525.3 574.0L524.2 575.8L522.7 575.3L520.4 575.3ZM521.7 600.9L525.7 600.5L527.3 606.6L525.1 609.9L522.6 605.8ZM546.4 590.7L542.1 592.4L538.3 588.7L539.1 585.6L543.5 586.7ZM518.4 582.4L520.9 585.5L519.4 588.2L517.1 590.8L512.3 589.5L512.1 587.0L514.6 584.3ZM528.7 582.0L532.4 586.6L531.4 588.7L529.1 588.9L526.6 584.6L526.0 582.2ZM545.7 595.5L542.9 600.0L538.7 599.9L537.1 598.3L537.6 592.9L543.8 592.0ZM515.4 579.6L516.8 577.7L519.2 573.8L520.7 575.9L521.7 579.7L519.8 583.8L516.8 584.2ZM530.0 565.5L532.3 569.0L532.2 572.0L531.2 572.7L529.2 569.7L529.1 565.7ZM524.9 598.0L528.4 602.7L528.3 604.0L527.8 606.5L525.3 604.7L523.3 602.2L521.5 598.8L522.4 597.3ZM599.7 599.7L600.4 600.4L600.8 602.9L599.5 604.0L597.5 603.7L595.6 602.8L594.7 600.4L596.1 600.2ZM616.9 594.0L620.6 593.9L621.7 595.7L621.3 598.6L620.3 600.3L617.3 598.3L616.9 595.5ZM610.3 580.9L608.2 583.6L605.0 582.8L603.3 579.4L606.6 579.1ZM588.4 586.3L585.4 580.2L594.4 582.7L596.6 586.9L592.1 589.0ZM620.4 568.8L621.0 571.4L622.2 577.2L619.6 577.8L616.4 573.9L614.2 568.0L617.1 566.8ZM598.4 562.5L601.5 561.5L604.0 562.9L602.7 565.9L601.0 568.5L599.5 567.8L596.9 568.0L596.6 564.2ZM603.9 578.4L607.5 574.4L612.3 575.9L614.0 582.1L609.4 584.1ZM606.2 607.5L609.0 606.5L614.0 607.9L614.8 609.9L611.5 610.0L607.6 609.8ZM612.8 560.0L613.5 561.3L612.3 563.7L607.1 562.4L605.7 559.7L605.1 557.9L609.4 557.1ZM623.7 584.2L619.3 587.9L615.9 588.3L612.7 588.8L612.9 586.3L614.6 584.1L619.1 582.3L622.4 581.9ZM612.5 579.6L612.0 583.8L607.9 585.3L605.3 581.8L609.0 579.6ZM617.1 577.6L617.7 580.6L618.9 586.2L615.8 585.5L614.2 582.1L614.1 577.7ZM601.1 557.6L598.4 555.6L599.4 554.4L604.8 554.6L609.8 556.1L609.2 557.2L608.5 558.6L605.7 559.5ZM595.3 564.6L599.7 564.3L602.1 570.8L600.2 573.6L596.8 573.8L594.1 569.9L593.0 567.3ZM597.5 582.8L599.7 583.4L602.8 584.4L600.7 587.7L594.9 589.8L589.4 589.3L589.8 587.6L592.1 584.3ZM612.7 568.1L616.9 568.4L617.5 570.0L613.1 572.9L608.7 574.2ZM613.2 574.0L612.7 579.0L610.2 577.6L606.3 573.1L606.6 568.9L609.4 566.6L612.4 568.7ZM616.7 589.6L614.4 591.1L612.0 590.6L614.0 585.4L616.2 586.0ZM596.6 603.3L592.5 601.2L592.7 598.4L598.7 597.7L599.8 601.9ZM597.9 581.5L601.2 584.0L602.1 585.8L600.7 588.6L596.9 587.9L595.8 583.9L596.7 581.6ZM599.5 594.2L596.4 592.7L595.1 588.8L599.2 589.5L601.1 591.1L602.8 595.2ZM612.3 586.7L611.1 588.1L605.6 585.8L604.3 582.8L608.6 582.4ZM602.2 583.2L606.6 591.1L599.4 588.0L595.5 581.3L597.2 578.6ZM596.0 570.9L595.1 569.7L594.2 568.2L596.1 566.1L598.5 565.2L600.5 564.5L600.2 566.1L598.8 569.1ZM550.8 609.2L546.2 608.6L546.1 605.9L546.2 601.1L548.6 601.5L551.2 601.8L553.3 604.8L551.9 606.9ZM576.0 607.0L575.7 604.4L578.3 605.0L581.2 607.1L583.3 609.8L582.9 613.0L577.6 610.9ZM574.9 600.9L578.3 600.1L582.4 601.6L581.3 605.0L578.7 606.0L575.5 607.7L572.9 603.2ZM556.3 606.2L558.9 605.7L562.1 606.3L564.4 607.6L565.5 609.6L561.6 609.2L558.2 607.6ZM580.2 602.0L579.7 599.7L582.9 598.6L588.9 600.0L585.8 601.9ZM565.7 606.0L563.2 605.2L562.1 603.5L564.4 601.0L567.3 601.9ZM571.0 600.5L569.6 597.8L574.5 595.3L580.3 593.8L584.0 594.2L578.9 597.1ZM572.3 595.0L576.3 596.7L576.0 599.8L572.6 599.4L568.2 597.8L568.7 594.9ZM553.3 612.1L548.4 610.6L546.3 606.1L547.3 604.3L550.4 603.9L554.9 605.9L553.5 608.3ZM586.3 609.7L582.1 611.8L578.5 611.5L581.6 607.8L583.9 605.5L586.2 605.6L589.8 604.7L588.6 607.9ZM544.7 609.6L546.9 606.0L552.3 603.3L551.7 607.1L544.1 613.5ZM530.4 583.8L526.5 578.0L529.6 573.1L535.5 575.9L535.3 580.6ZM552.3 583.7L555.7 587.4L549.2 587.5L542.9 587.0L540.4 584.9L539.8 582.6L539.6 581.5L548.9 581.7ZM590.4 599.0L588.0 597.4L590.2 595.3L593.4 594.7L600.0 596.1L597.8 599.2ZM622.5 587.8L620.7 589.5L619.6 586.2L620.0 583.0L622.2 581.7L625.2 579.6L625.2 584.0ZM562.8 542.2L563.1 537.4L567.4 537.5L571.1 540.3L572.2 545.8ZM612.5 526.4L610.7 524.8L608.3 521.7L607.4 515.4L609.7 516.0L612.4 517.8L612.4 521.5ZM557.4 549.0L555.1 552.0L553.8 548.4L552.9 544.6L557.9 542.5L560.8 541.2L560.1 545.6ZM562.5 583.6L559.4 579.4L557.9 570.0L560.8 569.1L562.5 573.9L564.3 580.6ZM565.4 517.1L571.3 518.2L570.3 522.0L564.5 523.2L561.2 517.3ZM580.4 505.6L583.4 508.5L585.0 511.6L583.9 514.4L580.5 513.1L576.6 507.9ZM530.4 508.5L532.3 510.6L530.5 511.8L529.4 511.7L526.8 512.2L526.7 509.4L527.1 508.4L529.2 507.8ZM566.2 580.1L564.1 581.9L561.8 581.8L558.9 580.7L557.5 579.5L556.5 576.4L560.3 576.0L562.6 577.2ZM537.0 561.1L539.9 560.9L540.8 562.7L537.4 565.4L533.8 568.3L530.3 566.8L528.4 564.0ZM531.5 554.1L534.2 547.1L536.9 549.2L536.1 557.4L532.5 560.6ZM602.1 617.0L600.2 616.9L597.7 616.3L596.8 615.0L599.9 611.4L602.0 611.6L603.4 612.7ZM576.3 585.2L574.9 590.0L572.6 592.9L567.0 591.5L566.7 587.9L565.7 584.5L569.1 581.2ZM558.9 522.6L565.1 523.7L566.8 529.7L561.2 531.3L558.2 527.7ZM525.2 544.3L528.4 547.5L525.2 548.0L523.1 548.0L515.1 545.3L513.4 542.4L515.6 541.8L522.2 542.5ZM520.6 532.9L522.2 531.7L526.0 530.7L528.8 531.2L529.8 533.3L528.0 534.4L524.4 534.3ZM596.5 576.2L599.7 580.1L597.7 580.3L594.1 578.2L590.4 576.7L590.9 573.1L594.0 574.3ZM566.2 580.0L567.9 575.9L570.4 573.3L570.3 576.9L568.5 581.4L567.1 581.1ZM525.0 545.6L526.3 548.2L525.7 554.8L523.3 556.1L521.0 554.7L519.8 551.5L519.0 548.0L520.6 547.6ZM619.4 603.0L622.3 606.6L620.1 608.8L617.0 609.4L614.3 604.8L616.4 600.4ZM600.0 614.2L598.9 615.8L596.6 615.4L596.6 611.4L597.9 608.4L600.1 608.5L601.8 606.7L601.9 610.9ZM587.7 609.8L586.7 601.5L590.4 597.6L591.4 607.4L589.5 614.3ZM605.7 589.9L609.5 590.4L610.1 594.6L606.4 593.8L605.1 591.8ZM610.0 566.5L608.0 562.6L612.0 560.2L620.2 557.4L621.5 560.4L614.9 564.6ZM545.9 602.2L546.8 600.2L547.2 598.4L550.1 596.7L552.8 596.9L552.5 597.7L550.8 600.0ZM562.6 510.7L565.3 511.6L565.2 514.9L563.2 516.0L560.9 514.1ZM534.8 598.4L531.7 594.6L533.3 590.0L536.6 590.1L540.8 599.4ZM516.6 576.3L519.0 573.9L521.8 570.3L524.0 573.6L526.1 576.0L523.8 579.7L520.5 580.6L518.0 577.7ZM524.7 580.9L522.0 578.0L519.9 577.8L522.1 570.5L524.2 570.9L526.6 573.6L526.5 577.3ZM519.6 576.9L524.8 574.9L525.6 576.5L524.7 578.9L521.1 582.0L517.9 579.2ZM594.7 567.8L592.5 574.7L586.1 574.7L583.3 571.8L590.7 565.9ZM521.8 521.3L521.1 523.9L510.8 526.5L508.3 523.5L512.7 520.8ZM575.8 580.2L579.3 579.7L583.3 581.3L582.7 583.8L578.1 583.4ZM586.3 592.6L587.6 587.2L592.3 583.6L594.6 583.8L594.1 589.7L589.6 593.6ZM553.5 515.8L552.3 514.5L553.3 512.3L554.1 511.3L557.9 513.1L559.5 514.6L556.8 516.1ZM530.2 545.6L531.5 545.5L532.8 547.5L531.5 549.5L530.2 550.3L528.3 547.5ZM567.0 536.0L565.7 535.2L563.4 532.0L562.9 528.8L567.1 528.9L569.8 531.4L570.3 533.9ZM520.0 536.6L523.7 535.3L528.9 534.9L530.9 536.9L523.7 542.0L519.7 541.8L517.5 540.3ZM603.5 610.7L603.1 607.2L603.2 605.5L607.6 604.9L610.3 606.0L609.3 607.6L606.6 610.2L603.9 611.3ZM548.3 547.9L550.3 542.6L552.7 543.1L556.5 549.2L554.1 552.3L552.4 553.2L549.7 552.7ZM607.5 556.5L604.8 548.2L607.2 546.2L610.5 548.6L611.5 557.7ZM562.3 510.9L563.6 514.4L564.5 518.0L561.2 519.8L558.1 517.2L557.2 515.3L558.2 511.8ZM573.8 605.6L576.7 604.1L579.4 607.1L580.1 609.2L576.8 611.2L574.2 610.8L573.6 609.1ZM522.5 607.6L523.9 611.4L523.8 612.9L522.9 614.3L519.3 610.6L517.2 606.7L518.2 606.5ZM566.3 544.1L568.5 542.0L573.2 544.9L575.9 550.4L572.7 552.5L569.2 549.3ZM525.8 606.4L527.1 607.7L522.9 609.6L517.5 610.3L514.4 608.7L514.4 606.9L519.7 605.6L524.6 604.6ZM535.8 533.7L532.9 534.5L531.5 534.6L528.7 531.9L528.6 528.4L531.1 527.0L533.2 526.6L535.3 529.5ZM562.0 539.7L560.6 542.2L559.2 543.8L555.8 541.2L554.2 539.3L554.6 536.3L556.4 536.8L560.1 537.4ZM578.6 609.2L575.1 606.3L575.9 602.9L576.0 601.4L579.2 601.9L580.8 600.9L581.2 606.5L581.6 609.2ZM538.9 545.1L539.0 548.1L536.8 551.1L533.9 551.8L532.2 549.2L532.9 547.3L533.3 543.9L538.7 542.8ZM520.4 508.4L522.1 511.4L520.9 513.2L518.4 511.4L516.1 509.8L514.5 507.0L515.7 504.3L519.6 507.5ZM524.3 541.5L528.5 542.5L533.7 543.6L536.4 543.8L538.5 548.4L533.4 549.2L528.7 547.3L523.9 544.1ZM566.0 549.8L564.6 549.7L563.8 546.8L566.2 543.6L567.9 543.7L569.8 545.6L570.1 550.9ZM557.6 545.9L555.6 544.2L554.7 543.4L556.0 539.5L557.9 537.2L559.4 537.9L559.8 539.1L559.0 544.6ZM593.8 611.7L595.6 612.9L598.5 614.5L597.5 616.7L597.1 619.0L594.3 618.0L592.5 614.3ZM563.5 506.2L565.5 510.3L561.9 514.0L556.7 511.4L556.6 509.2L559.1 505.3ZM612.4 564.2L612.3 560.8L616.3 554.1L618.9 556.8L615.1 563.2ZM622.5 599.8L622.9 603.2L621.6 607.6L620.3 609.6L617.3 607.1L618.7 603.5L621.0 598.0ZM562.6 593.4L558.2 594.4L558.9 589.3L566.0 584.5L568.8 588.4ZM602.3 595.3L599.9 591.5L602.5 584.8L605.1 584.1L605.5 590.2ZM523.9 587.5L528.7 591.7L527.7 594.7L522.4 592.8L517.1 586.4ZM604.7 522.6L607.9 523.9L610.9 527.1L610.4 530.5L607.8 535.9L604.2 534.3L602.5 531.7L603.5 528.6Z" fill="#2222d4" stroke="#15159a" stroke-width="0.6"/><rect x="609.9" y="609.7" width="9.5" height="1.8" fill="#e03030"/><rect x="612.4" y="607.9" width="4" height="0.8" fill="#e06060"/></g>
<g clip-path="url(#cc105)"><rect x="636.10" y="506.50" width="108.80" height="108.80" fill="#c3cfee"/><rect x="636.10" y="506.50" width="108.80" height="108.80" fill="#c3cfee" filter="url(#ct105)" opacity="0.7"/><path d="M730.4 544.5a1.2 1.2 0 1 0 2.4 0a1.2 1.2 0 1 0-2.4 0M720.9 610.0a1.2 1.2 0 1 0 2.4 0a1.2 1.2 0 1 0-2.4 0M668.9 590.1a1.2 1.2 0 1 0 2.4 0a1.2 1.2 0 1 0-2.4 0M671.3 524.3a1.2 1.2 0 1 0 2.4 0a1.2 1.2 0 1 0-2.4 0M672.8 588.2a1.2 1.2 0 1 0 2.4 0a1.2 1.2 0 1 0-2.4 0M651.0 578.2a1.2 1.2 0 1 0 2.4 0a1.2 1.2 0 1 0-2.4 0M673.1 524.9a1.2 1.2 0 1 0 2.4 0a1.2 1.2 0 1 0-2.4 0M681.7 548.5a1.2 1.2 0 1 0 2.4 0a1.2 1.2 0 1 0-2.4 0M685.0 602.4a1.2 1.2 0 1 0 2.4 0a1.2 1.2 0 1 0-2.4 0M735.0 531.2a1.2 1.2 0 1 0 2.4 0a1.2 1.2 0 1 0-2.4 0M742.4 573.1a1.2 1.2 0 1 0 2.4 0a1.2 1.2 0 1 0-2.4 0M739.3 595.4a1.2 1.2 0 1 0 2.4 0a1.2 1.2 0 1 0-2.4 0M692.1 533.8a1.2 1.2 0 1 0 2.4 0a1.2 1.2 0 1 0-2.4 0M736.0 615.2a1.2 1.2 0 1 0 2.4 0a1.2 1.2 0 1 0-2.4 0M702.9 519.2a1.2 1.2 0 1 0 2.4 0a1.2 1.2 0 1 0-2.4 0M724.5 589.8a1.2 1.2 0 1 0 2.4 0a1.2 1.2 0 1 0-2.4 0M730.6 612.7a1.2 1.2 0 1 0 2.4 0a1.2 1.2 0 1 0-2.4 0M741.1 586.6a1.2 1.2 0 1 0 2.4 0a1.2 1.2 0 1 0-2.4 0M677.6 564.4a1.2 1.2 0 1 0 2.4 0a1.2 1.2 0 1 0-2.4 0M689.8 589.2a1.2 1.2 0 1 0 2.4 0a1.2 1.2 0 1 0-2.4 0M703.0 596.4a1.2 1.2 0 1 0 2.4 0a1.2 1.2 0 1 0-2.4 0M691.0 570.7a1.2 1.2 0 1 0 2.4 0a1.2 1.2 0 1 0-2.4 0M739.7 592.7a1.2 1.2 0 1 0 2.4 0a1.2 1.2 0 1 0-2.4 0M736.2 582.5a1.2 1.2 0 1 0 2.4 0a1.2 1.2 0 1 0-2.4 0M648.4 552.1a1.2 1.2 0 1 0 2.4 0a1.2 1.2 0 1 0-2.4 0M666.5 535.1a1.2 1.2 0 1 0 2.4 0a1.2 1.2 0 1 0-2.4 0M648.7 518.5a1.2 1.2 0 1 0 2.4 0a1.2 1.2 0 1 0-2.4 0M687.2 591.7a1.2 1.2 0 1 0 2.4 0a1.2 1.2 0 1 0-2.4 0M729.3 611.8a1.2 1.2 0 1 0 2.4 0a1.2 1.2 0 1 0-2.4 0M698.2 508.1a1.2 1.2 0 1 0 2.4 0a1.2 1.2 0 1 0-2.4 0M655.7 512.7a1.2 1.2 0 1 0 2.4 0a1.2 1.2 0 1 0-2.4 0M729.4 541.3a1.2 1.2 0 1 0 2.4 0a1.2 1.2 0 1 0-2.4 0M713.6 555.6a1.2 1.2 0 1 0 2.4 0a1.2 1.2 0 1 0-2.4 0M698.4 599.2a1.2 1.2 0 1 0 2.4 0a1.2 1.2 0 1 0-2.4 0M706.4 514.6a1.2 1.2 0 1 0 2.4 0a1.2 1.2 0 1 0-2.4 0M704.0 545.2a1.2 1.2 0 1 0 2.4 0a1.2 1.2 0 1 0-2.4 0M741.2 535.6a1.2 1.2 0 1 0 2.4 0a1.2 1.2 0 1 0-2.4 0M661.2 606.9a1.2 1.2 0 1 0 2.4 0a1.2 1.2 0 1 0-2.4 0M679.9 515.5a1.2 1.2 0 1 0 2.4 0a1.2 1.2 0 1 0-2.4 0M721.5 606.5a1.2 1.2 0 1 0 2.4 0a1.2 1.2 0 1 0-2.4 0M688.4 524.7a1.2 1.2 0 1 0 2.4 0a1.2 1.2 0 1 0-2.4 0M729.1 543.5a1.2 1.2 0 1 0 2.4 0a1.2 1.2 0 1 0-2.4 0M661.6 511.2a1.2 1.2 0 1 0 2.4 0a1.2 1.2 0 1 0-2.4 0M730.8 532.1a1.2 1.2 0 1 0 2.4 0a1.2 1.2 0 1 0-2.4 0M648.0 546.1a1.2 1.2 0 1 0 2.4 0a1.2 1.2 0 1 0-2.4 0M711.1 615.0a1.2 1.2 0 1 0 2.4 0a1.2 1.2 0 1 0-2.4 0M657.9 573.7a1.2 1.2 0 1 0 2.4 0a1.2 1.2 0 1 0-2.4 0M664.3 600.3a1.2 1.2 0 1 0 2.4 0a1.2 1.2 0 1 0-2.4 0M687.9 580.9a1.2 1.2 0 1 0 2.4 0a1.2 1.2 0 1 0-2.4 0M726.1 564.7a1.2 1.2 0 1 0 2.4 0a1.2 1.2 0 1 0-2.4 0M686.1 507.5a1.2 1.2 0 1 0 2.4 0a1.2 1.2 0 1 0-2.4 0M652.9 581.8a1.2 1.2 0 1 0 2.4 0a1.2 1.2 0 1 0-2.4 0M717.7 569.4a1.2 1.2 0 1 0 2.4 0a1.2 1.2 0 1 0-2.4 0M640.2 587.7a1.2 1.2 0 1 0 2.4 0a1.2 1.2 0 1 0-2.4 0M727.3 599.6a1.2 1.2 0 1 0 2.4 0a1.2 1.2 0 1 0-2.4 0M716.6 578.6a1.2 1.2 0 1 0 2.4 0a1.2 1.2 0 1 0-2.4 0M672.9 545.9a1.2 1.2 0 1 0 2.4 0a1.2 1.2 0 1 0-2.4 0M655.6 576.5a1.2 1.2 0 1 0 2.4 0a1.2 1.2 0 1 0-2.4 0M671.8 594.6a1.2 1.2 0 1 0 2.4 0a1.2 1.2 0 1 0-2.4 0M660.1 535.2a1.2 1.2 0 1 0 2.4 0a1.2 1.2 0 1 0-2.4 0M644.2 537.0a1.2 1.2 0 1 0 2.4 0a1.2 1.2 0 1 0-2.4 0M719.5 596.3a1.2 1.2 0 1 0 2.4 0a1.2 1.2 0 1 0-2.4 0M734.7 510.3a1.2 1.2 0 1 0 2.4 0a1.2 1.2 0 1 0-2.4 0M709.4 567.7a1.2 1.2 0 1 0 2.4 0a1.2 1.2 0 1 0-2.4 0M672.9 608.8a1.2 1.2 0 1 0 2.4 0a1.2 1.2 0 1 0-2.4 0M709.1 540.6a1.2 1.2 0 1 0 2.4 0a1.2 1.2 0 1 0-2.4 0M725.3 554.6a1.2 1.2 0 1 0 2.4 0a1.2 1.2 0 1 0-2.4 0M686.1 558.4a1.2 1.2 0 1 0 2.4 0a1.2 1.2 0 1 0-2.4 0M686.6 509.3a1.2 1.2 0 1 0 2.4 0a1.2 1.2 0 1 0-2.4 0M724.1 539.4a1.2 1.2 0 1 0 2.4 0a1.2 1.2 0 1 0-2.4 0M683.9 525.7a1.2 1.2 0 1 0 2.4 0a1.2 1.2 0 1 0-2.4 0M696.7 514.2a1.2 1.2 0 1 0 2.4 0a1.2 1.2 0 1 0-2.4 0M638.1 529.4a1.2 1.2 0 1 0 2.4 0a1.2 1.2 0 1 0-2.4 0M730.5 580.8a1.2 1.2 0 1 0 2.4 0a1.2 1.2 0 1 0-2.4 0M713.5 516.5a1.2 1.2 0 1 0 2.4 0a1.2 1.2 0 1 0-2.4 0M684.0 586.6a1.2 1.2 0 1 0 2.4 0a1.2 1.2 0 1 0-2.4 0M715.9 555.4a1.2 1.2 0 1 0 2.4 0a1.2 1.2 0 1 0-2.4 0M643.3 547.8a1.2 1.2 0 1 0 2.4 0a1.2 1.2 0 1 0-2.4 0M738.1 603.4a1.2 1.2 0 1 0 2.4 0a1.2 1.2 0 1 0-2.4 0M701.7 544.9a1.2 1.2 0 1 0 2.4 0a1.2 1.2 0 1 0-2.4 0M700.4 569.1a1.2 1.2 0 1 0 2.4 0a1.2 1.2 0 1 0-2.4 0M685.2 599.3a1.2 1.2 0 1 0 2.4 0a1.2 1.2 0 1 0-2.4 0M696.2 517.0a1.2 1.2 0 1 0 2.4 0a1.2 1.2 0 1 0-2.4 0M714.6 582.5a1.2 1.2 0 1 0 2.4 0a1.2 1.2 0 1 0-2.4 0M646.0 563.6a1.2 1.2 0 1 0 2.4 0a1.2 1.2 0 1 0-2.4 0M741.3 576.9a1.2 1.2 0 1 0 2.4 0a1.2 1.2 0 1 0-2.4 0M708.2 558.5a1.2 1.2 0 1 0 2.4 0a1.2 1.2 0 1 0-2.4 0M681.1 613.8a1.2 1.2 0 1 0 2.4 0a1.2 1.2 0 1 0-2.4 0M665.5 557.0a1.2 1.2 0 1 0 2.4 0a1.2 1.2 0 1 0-2.4 0M645.2 562.4a1.2 1.2 0 1 0 2.4 0a1.2 1.2 0 1 0-2.4 0M707.0 581.7a1.2 1.2 0 1 0 2.4 0a1.2 1.2 0 1 0-2.4 0M741.3 535.1a1.2 1.2 0 1 0 2.4 0a1.2 1.2 0 1 0-2.4 0M657.6 545.5a1.2 1.2 0 1 0 2.4 0a1.2 1.2 0 1 0-2.4 0M671.3 605.8a1.2 1.2 0 1 0 2.4 0a1.2 1.2 0 1 0-2.4 0M657.6 557.8a1.2 1.2 0 1 0 2.4 0a1.2 1.2 0 1 0-2.4 0M743.6 550.9a1.2 1.2 0 1 0 2.4 0a1.2 1.2 0 1 0-2.4 0M684.8 552.1a1.2 1.2 0 1 0 2.4 0a1.2 1.2 0 1 0-2.4 0M670.0 541.4a1.2 1.2 0 1 0 2.4 0a1.2 1.2 0 1 0-2.4 0M726.0 508.1a1.2 1.2 0 1 0 2.4 0a1.2 1.2 0 1 0-2.4 0M642.1 594.3a1.2 1.2 0 1 0 2.4 0a1.2 1.2 0 1 0-2.4 0M713.7 552.7a1.2 1.2 0 1 0 2.4 0a1.2 1.2 0 1 0-2.4 0M687.1 558.0a1.2 1.2 0 1 0 2.4 0a1.2 1.2 0 1 0-2.4 0M662.8 553.7a1.2 1.2 0 1 0 2.4 0a1.2 1.2 0 1 0-2.4 0M673.7 570.8a1.2 1.2 0 1 0 2.4 0a1.2 1.2 0 1 0-2.4 0M671.5 570.6a1.2 1.2 0 1 0 2.4 0a1.2 1.2 0 1 0-2.4 0M639.4 614.1a1.2 1.2 0 1 0 2.4 0a1.2 1.2 0 1 0-2.4 0M636.3 557.8a1.2 1.2 0 1 0 2.4 0a1.2 1.2 0 1 0-2.4 0M675.8 520.6a1.2 1.2 0 1 0 2.4 0a1.2 1.2 0 1 0-2.4 0M740.8 555.3a1.2 1.2 0 1 0 2.4 0a1.2 1.2 0 1 0-2.4 0M655.1 542.2a1.2 1.2 0 1 0 2.4 0a1.2 1.2 0 1 0-2.4 0M655.5 565.8a1.2 1.2 0 1 0 2.4 0a1.2 1.2 0 1 0-2.4 0M743.5 611.4a1.2 1.2 0 1 0 2.4 0a1.2 1.2 0 1 0-2.4 0M659.9 583.7a1.2 1.2 0 1 0 2.4 0a1.2 1.2 0 1 0-2.4 0M696.2 589.7a1.2 1.2 0 1 0 2.4 0a1.2 1.2 0 1 0-2.4 0M651.9 511.4a1.2 1.2 0 1 0 2.4 0a1.2 1.2 0 1 0-2.4 0M648.1 605.2a1.2 1.2 0 1 0 2.4 0a1.2 1.2 0 1 0-2.4 0M640.7 511.1a1.2 1.2 0 1 0 2.4 0a1.2 1.2 0 1 0-2.4 0M685.2 513.1a1.2 1.2 0 1 0 2.4 0a1.2 1.2 0 1 0-2.4 0M653.9 610.3a1.2 1.2 0 1 0 2.4 0a1.2 1.2 0 1 0-2.4 0M654.5 589.4a1.2 1.2 0 1 0 2.4 0a1.2 1.2 0 1 0-2.4 0M726.7 556.1a1.2 1.2 0 1 0 2.4 0a1.2 1.2 0 1 0-2.4 0M683.1 529.5a1.2 1.2 0 1 0 2.4 0a1.2 1.2 0 1 0-2.4 0M670.5 564.6a1.2 1.2 0 1 0 2.4 0a1.2 1.2 0 1 0-2.4 0M697.0 564.5a1.2 1.2 0 1 0 2.4 0a1.2 1.2 0 1 0-2.4 0M674.4 602.9a1.2 1.2 0 1 0 2.4 0a1.2 1.2 0 1 0-2.4 0M684.8 547.9a1.2 1.2 0 1 0 2.4 0a1.2 1.2 0 1 0-2.4 0M686.7 598.2a1.2 1.2 0 1 0 2.4 0a1.2 1.2 0 1 0-2.4 0M700.6 587.3a1.2 1.2 0 1 0 2.4 0a1.2 1.2 0 1 0-2.4 0M724.8 545.2a1.2 1.2 0 1 0 2.4 0a1.2 1.2 0 1 0-2.4 0M713.5 517.0a1.2 1.2 0 1 0 2.4 0a1.2 1.2 0 1 0-2.4 0M687.6 556.7a1.2 1.2 0 1 0 2.4 0a1.2 1.2 0 1 0-2.4 0M677.3 524.6a1.2 1.2 0 1 0 2.4 0a1.2 1.2 0 1 0-2.4 0M722.2 543.8a1.2 1.2 0 1 0 2.4 0a1.2 1.2 0 1 0-2.4 0M677.7 519.3a1.2 1.2 0 1 0 2.4 0a1.2 1.2 0 1 0-2.4 0M729.1 600.8a1.2 1.2 0 1 0 2.4 0a1.2 1.2 0 1 0-2.4 0M654.7 548.8a1.2 1.2 0 1 0 2.4 0a1.2 1.2 0 1 0-2.4 0M665.8 527.1a1.2 1.2 0 1 0 2.4 0a1.2 1.2 0 1 0-2.4 0M725.3 573.4a1.2 1.2 0 1 0 2.4 0a1.2 1.2 0 1 0-2.4 0M733.8 581.4a1.2 1.2 0 1 0 2.4 0a1.2 1.2 0 1 0-2.4 0M671.1 591.6a1.2 1.2 0 1 0 2.4 0a1.2 1.2 0 1 0-2.4 0M646.5 570.6a1.2 1.2 0 1 0 2.4 0a1.2 1.2 0 1 0-2.4 0M690.9 515.0a1.2 1.2 0 1 0 2.4 0a1.2 1.2 0 1 0-2.4 0M666.2 563.1a1.2 1.2 0 1 0 2.4 0a1.2 1.2 0 1 0-2.4 0M648.3 515.4a1.2 1.2 0 1 0 2.4 0a1.2 1.2 0 1 0-2.4 0M701.9 612.7a1.2 1.2 0 1 0 2.4 0a1.2 1.2 0 1 0-2.4 0M698.8 615.0a1.2 1.2 0 1 0 2.4 0a1.2 1.2 0 1 0-2.4 0M687.7 517.7a1.2 1.2 0 1 0 2.4 0a1.2 1.2 0 1 0-2.4 0M652.8 556.1a1.2 1.2 0 1 0 2.4 0a1.2 1.2 0 1 0-2.4 0M730.0 594.9a1.2 1.2 0 1 0 2.4 0a1.2 1.2 0 1 0-2.4 0M741.0 570.7a1.2 1.2 0 1 0 2.4 0a1.2 1.2 0 1 0-2.4 0M717.0 566.3a1.2 1.2 0 1 0 2.4 0a1.2 1.2 0 1 0-2.4 0M652.9 565.3a1.2 1.2 0 1 0 2.4 0a1.2 1.2 0 1 0-2.4 0M665.2 594.9a1.2 1.2 0 1 0 2.4 0a1.2 1.2 0 1 0-2.4 0M724.0 530.6a1.2 1.2 0 1 0 2.4 0a1.2 1.2 0 1 0-2.4 0M649.3 538.0a1.2 1.2 0 1 0 2.4 0a1.2 1.2 0 1 0-2.4 0M637.1 527.5a1.2 1.2 0 1 0 2.4 0a1.2 1.2 0 1 0-2.4 0M739.0 606.9a1.2 1.2 0 1 0 2.4 0a1.2 1.2 0 1 0-2.4 0M682.1 602.7a1.2 1.2 0 1 0 2.4 0a1.2 1.2 0 1 0-2.4 0M655.7 615.2a1.2 1.2 0 1 0 2.4 0a1.2 1.2 0 1 0-2.4 0M697.0 573.2a1.2 1.2 0 1 0 2.4 0a1.2 1.2 0 1 0-2.4 0M665.2 507.2a1.2 1.2 0 1 0 2.4 0a1.2 1.2 0 1 0-2.4 0M693.8 574.9a1.2 1.2 0 1 0 2.4 0a1.2 1.2 0 1 0-2.4 0M711.5 590.9a1.2 1.2 0 1 0 2.4 0a1.2 1.2 0 1 0-2.4 0M735.6 509.3a1.2 1.2 0 1 0 2.4 0a1.2 1.2 0 1 0-2.4 0M709.0 516.2a1.2 1.2 0 1 0 2.4 0a1.2 1.2 0 1 0-2.4 0M727.1 564.2a1.2 1.2 0 1 0 2.4 0a1.2 1.2 0 1 0-2.4 0M635.8 549.8a1.2 1.2 0 1 0 2.4 0a1.2 1.2 0 1 0-2.4 0M726.4 602.7a1.2 1.2 0 1 0 2.4 0a1.2 1.2 0 1 0-2.4 0M735.2 562.4a1.2 1.2 0 1 0 2.4 0a1.2 1.2 0 1 0-2.4 0M709.6 580.7a1.2 1.2 0 1 0 2.4 0a1.2 1.2 0 1 0-2.4 0M688.5 590.2a1.2 1.2 0 1 0 2.4 0a1.2 1.2 0 1 0-2.4 0M652.7 531.6a1.2 1.2 0 1 0 2.4 0a1.2 1.2 0 1 0-2.4 0M702.0 587.5a1.2 1.2 0 1 0 2.4 0a1.2 1.2 0 1 0-2.4 0M741.3 513.7a1.2 1.2 0 1 0 2.4 0a1.2 1.2 0 1 0-2.4 0M743.5 539.9a1.2 1.2 0 1 0 2.4 0a1.2 1.2 0 1 0-2.4 0M674.8 582.8a1.2 1.2 0 1 0 2.4 0a1.2 1.2 0 1 0-2.4 0M742.7 528.8a1.2 1.2 0 1 0 2.4 0a1.2 1.2 0 1 0-2.4 0M677.7 604.5a1.2 1.2 0 1 0 2.4 0a1.2 1.2 0 1 0-2.4 0M727.1 551.6a1.2 1.2 0 1 0 2.4 0a1.2 1.2 0 1 0-2.4 0M664.0 593.8a1.2 1.2 0 1 0 2.4 0a1.2 1.2 0 1 0-2.4 0M656.7 546.6a1.2 1.2 0 1 0 2.4 0a1.2 1.2 0 1 0-2.4 0M636.3 530.3a1.2 1.2 0 1 0 2.4 0a1.2 1.2 0 1 0-2.4 0M683.7 561.3a1.2 1.2 0 1 0 2.4 0a1.2 1.2 0 1 0-2.4 0M718.6 573.7a1.2 1.2 0 1 0 2.4 0a1.2 1.2 0 1 0-2.4 0M659.7 549.6a1.2 1.2 0 1 0 2.4 0a1.2 1.2 0 1 0-2.4 0M661.4 521.2a1.2 1.2 0 1 0 2.4 0a1.2 1.2 0 1 0-2.4 0M652.5 610.7a1.2 1.2 0 1 0 2.4 0a1.2 1.2 0 1 0-2.4 0M721.7 598.8a1.2 1.2 0 1 0 2.4 0a1.2 1.2 0 1 0-2.4 0M713.2 535.4a1.2 1.2 0 1 0 2.4 0a1.2 1.2 0 1 0-2.4 0M715.8 565.2a1.2 1.2 0 1 0 2.4 0a1.2 1.2 0 1 0-2.4 0M720.7 569.6a1.2 1.2 0 1 0 2.4 0a1.2 1.2 0 1 0-2.4 0M704.6 520.3a1.2 1.2 0 1 0 2.4 0a1.2 1.2 0 1 0-2.4 0M728.8 583.2a1.2 1.2 0 1 0 2.4 0a1.2 1.2 0 1 0-2.4 0M696.6 534.6a1.2 1.2 0 1 0 2.4 0a1.2 1.2 0 1 0-2.4 0M707.1 551.5a1.2 1.2 0 1 0 2.4 0a1.2 1.2 0 1 0-2.4 0M659.0 590.0a1.2 1.2 0 1 0 2.4 0a1.2 1.2 0 1 0-2.4 0M711.0 594.1a1.2 1.2 0 1 0 2.4 0a1.2 1.2 0 1 0-2.4 0M743.0 550.0a1.2 1.2 0 1 0 2.4 0a1.2 1.2 0 1 0-2.4 0M700.0 515.0a1.2 1.2 0 1 0 2.4 0a1.2 1.2 0 1 0-2.4 0M706.7 595.9a1.2 1.2 0 1 0 2.4 0a1.2 1.2 0 1 0-2.4 0M680.5 508.7a1.2 1.2 0 1 0 2.4 0a1.2 1.2 0 1 0-2.4 0M712.5 549.0a1.2 1.2 0 1 0 2.4 0a1.2 1.2 0 1 0-2.4 0M655.3 588.2a1.2 1.2 0 1 0 2.4 0a1.2 1.2 0 1 0-2.4 0M679.4 561.6a1.2 1.2 0 1 0 2.4 0a1.2 1.2 0 1 0-2.4 0M700.2 555.8a1.2 1.2 0 1 0 2.4 0a1.2 1.2 0 1 0-2.4 0M708.6 538.0a1.2 1.2 0 1 0 2.4 0a1.2 1.2 0 1 0-2.4 0M659.8 557.1a1.2 1.2 0 1 0 2.4 0a1.2 1.2 0 1 0-2.4 0M722.8 542.0a1.2 1.2 0 1 0 2.4 0a1.2 1.2 0 1 0-2.4 0M655.5 534.9a1.2 1.2 0 1 0 2.4 0a1.2 1.2 0 1 0-2.4 0M673.1 522.0a1.2 1.2 0 1 0 2.4 0a1.2 1.2 0 1 0-2.4 0M686.0 569.4a1.2 1.2 0 1 0 2.4 0a1.2 1.2 0 1 0-2.4 0M743.1 516.3a1.2 1.2 0 1 0 2.4 0a1.2 1.2 0 1 0-2.4 0M663.7 523.7a1.2 1.2 0 1 0 2.4 0a1.2 1.2 0 1 0-2.4 0M675.8 599.7a1.2 1.2 0 1 0 2.4 0a1.2 1.2 0 1 0-2.4 0M652.6 562.3a1.2 1.2 0 1 0 2.4 0a1.2 1.2 0 1 0-2.4 0M681.3 598.1a1.2 1.2 0 1 0 2.4 0a1.2 1.2 0 1 0-2.4 0M695.5 615.3a1.2 1.2 0 1 0 2.4 0a1.2 1.2 0 1 0-2.4 0M728.4 606.3a1.2 1.2 0 1 0 2.4 0a1.2 1.2 0 1 0-2.4 0M719.9 518.5a1.2 1.2 0 1 0 2.4 0a1.2 1.2 0 1 0-2.4 0M646.8 612.3a1.2 1.2 0 1 0 2.4 0a1.2 1.2 0 1 0-2.4 0M655.2 513.6a1.2 1.2 0 1 0 2.4 0a1.2 1.2 0 1 0-2.4 0M701.7 570.8a1.2 1.2 0 1 0 2.4 0a1.2 1.2 0 1 0-2.4 0M653.4 553.3a1.2 1.2 0 1 0 2.4 0a1.2 1.2 0 1 0-2.4 0M679.5 556.5a1.2 1.2 0 1 0 2.4 0a1.2 1.2 0 1 0-2.4 0M674.0 520.9a1.2 1.2 0 1 0 2.4 0a1.2 1.2 0 1 0-2.4 0M705.9 542.7a1.2 1.2 0 1 0 2.4 0a1.2 1.2 0 1 0-2.4 0M728.5 613.6a1.2 1.2 0 1 0 2.4 0a1.2 1.2 0 1 0-2.4 0M638.8 590.3a1.2 1.2 0 1 0 2.4 0a1.2 1.2 0 1 0-2.4 0M715.3 538.6a1.2 1.2 0 1 0 2.4 0a1.2 1.2 0 1 0-2.4 0M697.7 538.4a1.2 1.2 0 1 0 2.4 0a1.2 1.2 0 1 0-2.4 0M728.6 543.1a1.2 1.2 0 1 0 2.4 0a1.2 1.2 0 1 0-2.4 0M705.0 534.4a1.2 1.2 0 1 0 2.4 0a1.2 1.2 0 1 0-2.4 0M728.6 530.6a1.2 1.2 0 1 0 2.4 0a1.2 1.2 0 1 0-2.4 0M738.2 524.6a1.2 1.2 0 1 0 2.4 0a1.2 1.2 0 1 0-2.4 0M679.4 582.5a1.2 1.2 0 1 0 2.4 0a1.2 1.2 0 1 0-2.4 0M678.2 592.0a1.2 1.2 0 1 0 2.4 0a1.2 1.2 0 1 0-2.4 0M653.9 614.4a1.2 1.2 0 1 0 2.4 0a1.2 1.2 0 1 0-2.4 0M691.0 603.4a1.2 1.2 0 1 0 2.4 0a1.2 1.2 0 1 0-2.4 0M653.7 551.0a1.2 1.2 0 1 0 2.4 0a1.2 1.2 0 1 0-2.4 0M689.5 609.2a1.2 1.2 0 1 0 2.4 0a1.2 1.2 0 1 0-2.4 0M743.0 549.8a1.2 1.2 0 1 0 2.4 0a1.2 1.2 0 1 0-2.4 0M678.0 544.3a1.2 1.2 0 1 0 2.4 0a1.2 1.2 0 1 0-2.4 0M643.3 521.6a1.2 1.2 0 1 0 2.4 0a1.2 1.2 0 1 0-2.4 0M717.8 518.2a1.2 1.2 0 1 0 2.4 0a1.2 1.2 0 1 0-2.4 0M724.8 552.6a1.2 1.2 0 1 0 2.4 0a1.2 1.2 0 1 0-2.4 0M655.5 540.2a1.2 1.2 0 1 0 2.4 0a1.2 1.2 0 1 0-2.4 0M648.6 575.6a1.2 1.2 0 1 0 2.4 0a1.2 1.2 0 1 0-2.4 0M663.3 572.9a1.2 1.2 0 1 0 2.4 0a1.2 1.2 0 1 0-2.4 0M684.0 574.3a1.2 1.2 0 1 0 2.4 0a1.2 1.2 0 1 0-2.4 0M644.6 586.6a1.2 1.2 0 1 0 2.4 0a1.2 1.2 0 1 0-2.4 0M656.1 552.6a1.2 1.2 0 1 0 2.4 0a1.2 1.2 0 1 0-2.4 0M738.1 613.8a1.2 1.2 0 1 0 2.4 0a1.2 1.2 0 1 0-2.4 0M694.1 557.0a1.2 1.2 0 1 0 2.4 0a1.2 1.2 0 1 0-2.4 0M692.2 577.4a1.2 1.2 0 1 0 2.4 0a1.2 1.2 0 1 0-2.4 0M739.9 537.8a1.2 1.2 0 1 0 2.4 0a1.2 1.2 0 1 0-2.4 0M635.6 567.5a1.2 1.2 0 1 0 2.4 0a1.2 1.2 0 1 0-2.4 0M672.0 560.9a1.2 1.2 0 1 0 2.4 0a1.2 1.2 0 1 0-2.4 0M688.3 520.0a1.2 1.2 0 1 0 2.4 0a1.2 1.2 0 1 0-2.4 0M672.7 603.1a1.2 1.2 0 1 0 2.4 0a1.2 1.2 0 1 0-2.4 0M696.2 581.8a1.2 1.2 0 1 0 2.4 0a1.2 1.2 0 1 0-2.4 0M700.1 537.2a1.2 1.2 0 1 0 2.4 0a1.2 1.2 0 1 0-2.4 0M647.9 567.1a1.2 1.2 0 1 0 2.4 0a1.2 1.2 0 1 0-2.4 0M653.3 569.4a1.2 1.2 0 1 0 2.4 0a1.2 1.2 0 1 0-2.4 0M734.0 510.6a1.2 1.2 0 1 0 2.4 0a1.2 1.2 0 1 0-2.4 0M727.2 571.3a1.2 1.2 0 1 0 2.4 0a1.2 1.2 0 1 0-2.4 0M741.4 546.7a1.2 1.2 0 1 0 2.4 0a1.2 1.2 0 1 0-2.4 0M675.4 527.7a1.2 1.2 0 1 0 2.4 0a1.2 1.2 0 1 0-2.4 0M717.6 514.2a1.2 1.2 0 1 0 2.4 0a1.2 1.2 0 1 0-2.4 0M652.5 536.3a1.2 1.2 0 1 0 2.4 0a1.2 1.2 0 1 0-2.4 0M739.4 607.8a1.2 1.2 0 1 0 2.4 0a1.2 1.2 0 1 0-2.4 0M703.3 575.4a1.2 1.2 0 1 0 2.4 0a1.2 1.2 0 1 0-2.4 0M668.2 580.2a1.2 1.2 0 1 0 2.4 0a1.2 1.2 0 1 0-2.4 0M736.6 545.6a1.2 1.2 0 1 0 2.4 0a1.2 1.2 0 1 0-2.4 0M650.2 529.9a1.2 1.2 0 1 0 2.4 0a1.2 1.2 0 1 0-2.4 0M679.9 542.8a1.2 1.2 0 1 0 2.4 0a1.2 1.2 0 1 0-2.4 0M669.5 565.5a1.2 1.2 0 1 0 2.4 0a1.2 1.2 0 1 0-2.4 0M735.8 576.1a1.2 1.2 0 1 0 2.4 0a1.2 1.2 0 1 0-2.4 0M671.2 559.1a1.2 1.2 0 1 0 2.4 0a1.2 1.2 0 1 0-2.4 0M652.0 604.2a1.2 1.2 0 1 0 2.4 0a1.2 1.2 0 1 0-2.4 0M638.5 567.6a1.2 1.2 0 1 0 2.4 0a1.2 1.2 0 1 0-2.4 0M718.8 579.7a1.2 1.2 0 1 0 2.4 0a1.2 1.2 0 1 0-2.4 0M637.1 590.4a1.2 1.2 0 1 0 2.4 0a1.2 1.2 0 1 0-2.4 0M682.4 592.9a1.2 1.2 0 1 0 2.4 0a1.2 1.2 0 1 0-2.4 0M644.2 560.0a1.2 1.2 0 1 0 2.4 0a1.2 1.2 0 1 0-2.4 0M737.7 520.7a1.2 1.2 0 1 0 2.4 0a1.2 1.2 0 1 0-2.4 0M731.1 562.0a1.2 1.2 0 1 0 2.4 0a1.2 1.2 0 1 0-2.4 0M681.8 524.6a1.2 1.2 0 1 0 2.4 0a1.2 1.2 0 1 0-2.4 0M689.0 517.8a1.2 1.2 0 1 0 2.4 0a1.2 1.2 0 1 0-2.4 0M647.5 512.0a1.2 1.2 0 1 0 2.4 0a1.2 1.2 0 1 0-2.4 0M650.4 571.0a1.2 1.2 0 1 0 2.4 0a1.2 1.2 0 1 0-2.4 0M675.3 599.8a1.2 1.2 0 1 0 2.4 0a1.2 1.2 0 1 0-2.4 0M657.1 534.0a1.2 1.2 0 1 0 2.4 0a1.2 1.2 0 1 0-2.4 0M715.8 566.1a1.2 1.2 0 1 0 2.4 0a1.2 1.2 0 1 0-2.4 0M644.0 564.7a1.2 1.2 0 1 0 2.4 0a1.2 1.2 0 1 0-2.4 0M662.3 608.3a1.2 1.2 0 1 0 2.4 0a1.2 1.2 0 1 0-2.4 0M707.9 577.8a1.2 1.2 0 1 0 2.4 0a1.2 1.2 0 1 0-2.4 0M665.7 595.3a1.2 1.2 0 1 0 2.4 0a1.2 1.2 0 1 0-2.4 0M719.7 576.1a1.2 1.2 0 1 0 2.4 0a1.2 1.2 0 1 0-2.4 0M679.7 591.2a1.2 1.2 0 1 0 2.4 0a1.2 1.2 0 1 0-2.4 0M675.1 518.9a1.2 1.2 0 1 0 2.4 0a1.2 1.2 0 1 0-2.4 0M675.0 542.6a1.2 1.2 0 1 0 2.4 0a1.2 1.2 0 1 0-2.4 0M702.2 522.0a1.2 1.2 0 1 0 2.4 0a1.2 1.2 0 1 0-2.4 0M718.9 521.8a1.2 1.2 0 1 0 2.4 0a1.2 1.2 0 1 0-2.4 0M692.5 544.4a1.2 1.2 0 1 0 2.4 0a1.2 1.2 0 1 0-2.4 0M743.0 567.7a1.2 1.2 0 1 0 2.4 0a1.2 1.2 0 1 0-2.4 0M662.1 534.1a1.2 1.2 0 1 0 2.4 0a1.2 1.2 0 1 0-2.4 0M668.4 574.8a1.2 1.2 0 1 0 2.4 0a1.2 1.2 0 1 0-2.4 0M669.6 612.7a1.2 1.2 0 1 0 2.4 0a1.2 1.2 0 1 0-2.4 0M718.8 526.4a1.2 1.2 0 1 0 2.4 0a1.2 1.2 0 1 0-2.4 0M636.4 513.8a1.2 1.2 0 1 0 2.4 0a1.2 1.2 0 1 0-2.4 0M682.8 534.3a1.2 1.2 0 1 0 2.4 0a1.2 1.2 0 1 0-2.4 0M678.2 550.0a1.2 1.2 0 1 0 2.4 0a1.2 1.2 0 1 0-2.4 0M734.4 527.8a1.2 1.2 0 1 0 2.4 0a1.2 1.2 0 1 0-2.4 0M742.1 596.8a1.2 1.2 0 1 0 2.4 0a1.2 1.2 0 1 0-2.4 0M735.7 557.0a1.2 1.2 0 1 0 2.4 0a1.2 1.2 0 1 0-2.4 0M685.0 560.6a1.2 1.2 0 1 0 2.4 0a1.2 1.2 0 1 0-2.4 0M726.5 558.9a1.2 1.2 0 1 0 2.4 0a1.2 1.2 0 1 0-2.4 0M641.1 532.0a1.2 1.2 0 1 0 2.4 0a1.2 1.2 0 1 0-2.4 0M740.7 506.6a1.2 1.2 0 1 0 2.4 0a1.2 1.2 0 1 0-2.4 0M701.0 599.1a1.2 1.2 0 1 0 2.4 0a1.2 1.2 0 1 0-2.4 0M676.9 557.7a1.2 1.2 0 1 0 2.4 0a1.2 1.2 0 1 0-2.4 0M689.4 513.3a1.2 1.2 0 1 0 2.4 0a1.2 1.2 0 1 0-2.4 0M681.8 604.1a1.2 1.2 0 1 0 2.4 0a1.2 1.2 0 1 0-2.4 0M679.7 529.6a1.2 1.2 0 1 0 2.4 0a1.2 1.2 0 1 0-2.4 0M729.0 594.7a1.2 1.2 0 1 0 2.4 0a1.2 1.2 0 1 0-2.4 0M700.6 577.6a1.2 1.2 0 1 0 2.4 0a1.2 1.2 0 1 0-2.4 0M663.9 571.3a1.2 1.2 0 1 0 2.4 0a1.2 1.2 0 1 0-2.4 0M714.9 516.1a1.2 1.2 0 1 0 2.4 0a1.2 1.2 0 1 0-2.4 0M676.0 538.5a1.2 1.2 0 1 0 2.4 0a1.2 1.2 0 1 0-2.4 0M660.4 570.5a1.2 1.2 0 1 0 2.4 0a1.2 1.2 0 1 0-2.4 0M642.2 520.8a1.2 1.2 0 1 0 2.4 0a1.2 1.2 0 1 0-2.4 0M688.3 548.7a1.2 1.2 0 1 0 2.4 0a1.2 1.2 0 1 0-2.4 0M694.9 528.7a1.2 1.2 0 1 0 2.4 0a1.2 1.2 0 1 0-2.4 0M671.8 600.6a1.2 1.2 0 1 0 2.4 0a1.2 1.2 0 1 0-2.4 0M682.8 514.8a1.2 1.2 0 1 0 2.4 0a1.2 1.2 0 1 0-2.4 0M740.4 584.1a1.2 1.2 0 1 0 2.4 0a1.2 1.2 0 1 0-2.4 0M708.3 586.0a1.2 1.2 0 1 0 2.4 0a1.2 1.2 0 1 0-2.4 0M713.6 578.0a1.2 1.2 0 1 0 2.4 0a1.2 1.2 0 1 0-2.4 0M644.4 508.7a1.2 1.2 0 1 0 2.4 0a1.2 1.2 0 1 0-2.4 0M639.0 600.8a1.2 1.2 0 1 0 2.4 0a1.2 1.2 0 1 0-2.4 0M642.7 532.7a1.2 1.2 0 1 0 2.4 0a1.2 1.2 0 1 0-2.4 0M730.9 532.5a1.2 1.2 0 1 0 2.4 0a1.2 1.2 0 1 0-2.4 0M704.1 518.4a1.2 1.2 0 1 0 2.4 0a1.2 1.2 0 1 0-2.4 0M639.3 559.6a1.2 1.2 0 1 0 2.4 0a1.2 1.2 0 1 0-2.4 0M710.4 515.1a1.2 1.2 0 1 0 2.4 0a1.2 1.2 0 1 0-2.4 0M725.7 570.1a1.2 1.2 0 1 0 2.4 0a1.2 1.2 0 1 0-2.4 0M697.7 541.4a1.2 1.2 0 1 0 2.4 0a1.2 1.2 0 1 0-2.4 0M644.0 559.9a1.2 1.2 0 1 0 2.4 0a1.2 1.2 0 1 0-2.4 0M718.5 548.2a1.2 1.2 0 1 0 2.4 0a1.2 1.2 0 1 0-2.4 0M673.4 573.0a1.2 1.2 0 1 0 2.4 0a1.2 1.2 0 1 0-2.4 0M642.2 512.8a1.2 1.2 0 1 0 2.4 0a1.2 1.2 0 1 0-2.4 0M683.8 571.3a1.2 1.2 0 1 0 2.4 0a1.2 1.2 0 1 0-2.4 0M694.2 515.8a1.2 1.2 0 1 0 2.4 0a1.2 1.2 0 1 0-2.4 0M686.4 604.4a1.2 1.2 0 1 0 2.4 0a1.2 1.2 0 1 0-2.4 0M647.7 608.0a1.2 1.2 0 1 0 2.4 0a1.2 1.2 0 1 0-2.4 0M696.7 610.7a1.2 1.2 0 1 0 2.4 0a1.2 1.2 0 1 0-2.4 0M652.8 551.1a1.2 1.2 0 1 0 2.4 0a1.2 1.2 0 1 0-2.4 0M660.0 562.3a1.2 1.2 0 1 0 2.4 0a1.2 1.2 0 1 0-2.4 0M723.0 539.5a1.2 1.2 0 1 0 2.4 0a1.2 1.2 0 1 0-2.4 0M698.1 606.0a1.2 1.2 0 1 0 2.4 0a1.2 1.2 0 1 0-2.4 0M704.5 556.6a1.2 1.2 0 1 0 2.4 0a1.2 1.2 0 1 0-2.4 0M656.0 606.5a1.2 1.2 0 1 0 2.4 0a1.2 1.2 0 1 0-2.4 0M739.1 532.7a1.2 1.2 0 1 0 2.4 0a1.2 1.2 0 1 0-2.4 0M666.3 606.1a1.2 1.2 0 1 0 2.4 0a1.2 1.2 0 1 0-2.4 0M671.9 540.2a1.2 1.2 0 1 0 2.4 0a1.2 1.2 0 1 0-2.4 0M699.6 598.0a1.2 1.2 0 1 0 2.4 0a1.2 1.2 0 1 0-2.4 0M645.8 568.8a1.2 1.2 0 1 0 2.4 0a1.2 1.2 0 1 0-2.4 0M645.3 588.9a1.2 1.2 0 1 0 2.4 0a1.2 1.2 0 1 0-2.4 0M652.1 572.1a1.2 1.2 0 1 0 2.4 0a1.2 1.2 0 1 0-2.4 0M679.9 563.0a1.2 1.2 0 1 0 2.4 0a1.2 1.2 0 1 0-2.4 0M729.2 506.6a1.2 1.2 0 1 0 2.4 0a1.2 1.2 0 1 0-2.4 0M723.4 538.2a1.2 1.2 0 1 0 2.4 0a1.2 1.2 0 1 0-2.4 0M703.7 535.8a1.2 1.2 0 1 0 2.4 0a1.2 1.2 0 1 0-2.4 0M664.9 530.6a1.2 1.2 0 1 0 2.4 0a1.2 1.2 0 1 0-2.4 0M690.0 516.3a1.2 1.2 0 1 0 2.4 0a1.2 1.2 0 1 0-2.4 0M710.8 585.5a1.2 1.2 0 1 0 2.4 0a1.2 1.2 0 1 0-2.4 0M714.1 522.8a1.2 1.2 0 1 0 2.4 0a1.2 1.2 0 1 0-2.4 0M708.6 583.8a1.2 1.2 0 1 0 2.4 0a1.2 1.2 0 1 0-2.4 0M718.0 523.0a1.2 1.2 0 1 0 2.4 0a1.2 1.2 0 1 0-2.4 0M696.0 542.0a1.2 1.2 0 1 0 2.4 0a1.2 1.2 0 1 0-2.4 0M736.4 604.1a1.2 1.2 0 1 0 2.4 0a1.2 1.2 0 1 0-2.4 0M659.9 533.9a1.2 1.2 0 1 0 2.4 0a1.2 1.2 0 1 0-2.4 0M666.6 593.7a1.2 1.2 0 1 0 2.4 0a1.2 1.2 0 1 0-2.4 0M708.0 613.0a1.2 1.2 0 1 0 2.4 0a1.2 1.2 0 1 0-2.4 0M653.3 522.2a1.2 1.2 0 1 0 2.4 0a1.2 1.2 0 1 0-2.4 0M656.8 563.1a1.2 1.2 0 1 0 2.4 0a1.2 1.2 0 1 0-2.4 0M689.1 563.5a1.2 1.2 0 1 0 2.4 0a1.2 1.2 0 1 0-2.4 0M729.6 563.1a1.2 1.2 0 1 0 2.4 0a1.2 1.2 0 1 0-2.4 0M668.8 536.0a1.2 1.2 0 1 0 2.4 0a1.2 1.2 0 1 0-2.4 0M656.6 536.2a1.2 1.2 0 1 0 2.4 0a1.2 1.2 0 1 0-2.4 0M646.6 532.2a1.2 1.2 0 1 0 2.4 0a1.2 1.2 0 1 0-2.4 0M684.5 518.1a1.2 1.2 0 1 0 2.4 0a1.2 1.2 0 1 0-2.4 0M681.0 595.0a1.2 1.2 0 1 0 2.4 0a1.2 1.2 0 1 0-2.4 0M702.7 508.4a1.2 1.2 0 1 0 2.4 0a1.2 1.2 0 1 0-2.4 0M647.7 614.3a1.2 1.2 0 1 0 2.4 0a1.2 1.2 0 1 0-2.4 0M649.3 604.7a1.2 1.2 0 1 0 2.4 0a1.2 1.2 0 1 0-2.4 0M679.0 549.6a1.2 1.2 0 1 0 2.4 0a1.2 1.2 0 1 0-2.4 0M637.5 570.7a1.2 1.2 0 1 0 2.4 0a1.2 1.2 0 1 0-2.4 0M666.5 512.8a1.2 1.2 0 1 0 2.4 0a1.2 1.2 0 1 0-2.4 0M644.8 533.3a1.2 1.2 0 1 0 2.4 0a1.2 1.2 0 1 0-2.4 0" fill="none" stroke="#6c7492" stroke-width="0.6"/><path d="M681.1 565.3L675.7 563.9L681.0 559.5L689.1 557.3L687.4 562.2ZM690.2 549.9L695.2 549.4L697.2 552.9L698.1 556.7L695.0 557.2L691.9 554.9ZM687.8 546.9L692.3 548.9L690.7 551.1L686.0 551.8L685.5 549.1ZM686.7 545.8L689.0 543.6L690.7 545.4L691.9 547.2L690.5 552.7L687.6 555.8L685.6 553.0L684.8 549.9ZM679.2 559.1L675.8 555.8L675.7 551.7L678.5 553.2L680.7 555.5L681.0 558.3ZM681.5 540.0L685.8 537.2L689.0 537.4L686.5 542.5L680.5 545.2ZM687.1 534.9L685.3 539.1L680.3 537.8L678.2 532.4L680.1 528.9L683.8 530.8ZM690.9 531.8L694.4 533.8L693.5 536.0L691.6 539.7L689.2 540.2L685.3 535.2L684.1 533.1L688.4 531.8ZM689.4 559.0L686.8 558.2L685.2 557.1L684.6 556.0L685.4 553.8L688.3 554.3L690.4 557.0ZM681.0 557.2L682.7 556.4L684.3 555.9L688.1 560.4L687.0 561.0L687.3 563.5L683.8 561.4L680.7 558.5ZM672.0 551.8L676.6 550.7L677.2 552.2L676.7 555.3L671.7 554.5ZM679.6 560.0L680.2 557.3L684.0 555.7L686.3 559.3L683.1 562.0ZM674.8 542.6L676.4 542.6L676.9 547.7L676.9 550.6L675.2 552.0L673.3 549.0L672.6 545.4L672.1 542.8ZM694.6 557.1L693.5 556.8L692.7 552.9L693.2 551.5L696.2 548.8L697.0 552.2L697.4 553.9ZM647.7 518.0L646.9 520.2L646.3 521.8L641.3 522.1L640.9 520.4L642.4 518.5L645.1 516.4ZM645.7 527.3L642.0 525.6L641.6 521.5L645.5 521.7L647.1 524.6ZM648.5 519.0L647.1 516.1L650.7 515.5L653.0 514.0L655.9 516.9L658.9 519.7L654.8 519.5L651.5 520.1ZM653.4 527.4L652.8 524.8L654.6 524.0L658.6 522.5L660.9 525.1L663.2 525.9L660.0 528.8L657.1 528.7ZM655.9 528.4L658.9 526.4L660.5 526.2L663.1 527.8L663.7 532.1L661.4 533.1L658.3 532.9L656.7 531.9ZM657.5 518.1L657.6 520.2L654.4 522.8L652.1 523.6L649.1 524.9L647.5 523.0L650.6 520.6L653.4 519.2ZM646.9 531.4L652.0 530.1L654.8 531.5L654.7 532.6L652.9 534.4L648.0 535.3L646.9 534.3L643.8 533.0ZM659.3 539.2L654.4 538.9L652.2 537.3L652.8 532.3L658.4 533.1L660.3 534.5ZM651.6 514.2L650.8 512.0L651.3 509.6L654.0 509.5L656.4 511.4L655.0 513.0ZM732.2 527.9L727.3 529.4L724.4 528.1L728.6 525.5L733.2 525.8ZM712.8 523.4L711.4 518.3L713.2 515.2L715.2 516.2L716.7 518.2L715.8 524.8ZM738.1 523.3L736.7 523.8L734.2 522.6L732.6 516.9L733.9 515.1L736.5 517.6ZM731.1 514.3L725.8 514.8L725.2 510.6L728.5 506.8L732.9 510.6ZM728.2 510.5L729.5 508.3L732.7 508.6L735.2 508.7L732.5 511.8L729.5 512.0ZM720.9 513.0L719.3 515.0L718.2 512.0L720.0 508.7L722.0 509.4ZM711.2 514.9L710.7 512.4L710.3 510.9L712.8 510.8L715.7 513.1L717.3 515.2L716.9 515.6L712.9 514.9ZM724.0 514.3L724.0 517.9L723.6 520.7L720.6 517.1L718.4 515.4L718.6 513.8L719.5 512.4L722.0 512.9ZM734.1 514.7L737.7 516.0L738.4 520.5L735.2 519.8L733.2 517.7ZM715.1 519.1L717.5 518.3L722.8 521.2L723.4 523.6L718.8 522.7L714.4 522.4L712.4 521.2L712.5 519.5ZM647.0 570.1L642.5 570.1L644.5 567.8L649.5 565.1L650.8 567.5ZM646.0 573.3L646.0 569.2L647.1 565.9L648.8 567.1L649.6 567.2L650.4 571.1L647.4 574.3ZM654.8 570.0L652.9 567.4L653.7 565.5L659.0 566.7L657.9 568.6ZM650.7 566.3L654.8 565.3L659.3 565.1L658.5 570.5L654.2 571.7ZM649.6 569.2L646.3 569.0L645.5 567.6L647.6 563.2L649.2 563.4L653.1 563.9L651.8 565.7L652.7 568.9ZM650.3 564.8L649.2 564.3L649.5 561.4L651.5 557.8L652.8 556.8L654.6 558.2L654.5 559.2L653.0 563.2ZM667.4 572.7L666.3 570.1L666.7 568.4L670.8 567.4L674.4 568.6L673.6 571.5ZM664.9 563.0L668.0 563.5L670.2 562.1L669.1 567.8L668.4 571.2L666.7 569.7L665.2 567.8ZM653.9 565.2L655.6 568.4L657.2 570.7L656.1 572.0L654.4 571.1L652.5 568.1L652.4 565.9ZM654.9 573.9L655.2 571.5L656.7 569.1L660.0 566.7L663.2 566.9L661.9 568.9L659.8 571.8L655.7 574.6ZM646.8 569.0L641.9 568.0L641.0 565.8L644.9 563.9L650.4 565.2L648.7 567.2ZM662.9 569.9L665.0 565.8L668.9 567.5L671.5 569.7L667.9 572.9L665.1 572.2ZM666.3 572.4L666.8 573.7L666.0 576.0L659.7 576.2L657.5 575.4L657.7 573.9L661.0 572.6ZM666.7 567.8L669.0 565.2L672.6 570.0L671.6 572.5L668.5 572.5ZM708.0 570.0L706.8 571.3L703.7 572.7L701.8 571.5L701.0 569.6L704.2 569.6ZM713.9 587.1L712.4 584.0L711.2 576.0L713.6 574.9L716.0 580.3L717.8 582.1L717.3 586.2ZM707.0 580.1L705.7 583.3L704.4 583.5L703.4 579.9L705.6 575.7L707.6 572.7L708.1 576.3ZM709.9 554.8L709.6 552.9L711.1 551.1L714.3 557.3L714.5 560.3L712.1 560.3ZM698.8 574.4L698.8 572.2L701.8 571.8L704.6 571.6L705.3 574.8L702.9 578.7L699.7 576.2ZM704.3 569.4L706.0 568.7L707.8 572.2L706.1 576.2L703.2 575.6L701.7 570.3ZM706.1 561.5L704.8 557.5L708.1 556.4L709.1 558.9L708.4 562.1ZM727.7 576.3L721.6 579.4L719.0 576.8L721.5 572.9L728.1 572.8ZM703.3 565.8L702.5 564.4L703.8 559.7L704.9 556.6L705.9 557.3L707.0 558.4L707.1 560.7L705.4 564.6ZM705.9 580.7L710.0 581.6L710.6 583.1L705.9 584.2L703.4 583.2ZM719.2 566.5L720.5 569.3L715.8 570.9L711.7 570.7L713.1 566.2L715.5 565.1ZM712.2 561.0L716.2 557.1L719.5 557.7L720.8 559.5L716.8 562.8L711.0 563.6ZM708.5 569.3L709.2 566.2L710.7 566.3L712.2 566.4L713.6 569.5L713.2 571.1L710.8 570.8L709.1 570.6ZM704.6 581.3L707.4 579.4L709.4 580.0L708.2 583.1L707.4 584.0L704.3 584.6L703.4 584.7L702.4 582.6ZM690.5 592.9L687.6 593.0L685.1 593.5L687.2 589.9L686.9 588.0L690.6 587.1L693.3 589.5L692.4 591.6ZM667.7 599.5L669.3 601.4L667.5 603.1L663.0 602.6L663.0 600.0ZM677.3 602.2L679.3 601.5L682.3 604.9L682.8 606.5L681.2 607.2L678.3 605.9ZM689.0 582.4L687.9 583.8L685.6 586.6L683.7 586.3L681.5 585.5L682.5 583.4L684.7 582.3L686.1 580.8ZM681.0 609.1L681.1 605.0L685.3 604.4L690.0 606.2L686.9 609.5L683.4 611.9ZM695.7 590.8L695.8 595.2L694.1 597.2L688.7 596.0L687.8 592.7L691.9 591.1ZM682.3 596.4L679.0 595.9L674.3 595.5L674.8 594.2L679.3 592.3L682.8 592.4L682.7 593.2L682.9 595.1ZM673.1 584.7L674.7 589.7L675.2 591.9L674.3 593.6L671.0 589.5L669.9 587.7L669.5 582.1L670.1 581.8ZM677.7 606.6L680.7 604.6L682.8 605.1L683.3 607.5L679.5 611.3L675.6 612.8ZM683.9 594.7L683.9 597.5L685.2 599.0L679.9 599.9L676.5 597.8L677.6 595.5L680.7 594.9ZM660.8 587.8L665.7 586.4L668.0 586.9L667.6 589.0L664.5 591.5L659.3 589.8ZM686.7 590.6L688.4 592.0L684.6 595.8L683.2 594.7L682.9 591.5ZM659.1 598.0L664.2 599.2L667.0 602.0L667.1 603.6L664.9 604.3L658.8 601.7L655.7 597.7ZM662.9 587.6L667.8 590.6L668.9 593.5L663.6 591.9L657.8 589.4L658.4 586.9ZM691.7 598.5L693.1 602.6L690.3 611.0L688.1 609.0L688.7 598.7ZM701.8 586.1L703.4 588.5L701.8 590.4L697.5 591.4L696.1 590.1L696.6 587.4L699.7 584.6ZM730.7 605.9L729.0 605.4L728.7 603.9L729.6 600.5L731.8 600.7L732.3 602.8ZM736.1 599.2L732.1 600.6L734.7 596.8L736.8 594.2L738.6 593.5L740.4 594.4L740.3 596.5ZM735.1 583.8L735.8 581.8L739.2 581.7L740.8 582.1L742.2 583.9L739.5 585.1L736.2 584.7ZM738.1 595.8L734.1 593.6L733.0 591.4L735.5 591.7L739.7 593.4L741.4 596.0ZM740.3 602.9L738.3 601.9L737.5 598.8L739.1 597.3L741.7 599.1L742.2 601.1ZM723.7 588.2L730.4 588.2L727.8 591.5L724.2 592.1L720.2 590.8ZM729.7 604.1L728.0 601.6L733.0 601.5L737.1 602.2L740.2 604.4L736.9 605.8L733.9 605.3ZM677.3 609.1L680.6 608.1L682.0 610.5L682.8 614.8L680.8 617.2L677.1 613.2ZM647.8 585.5L650.6 586.6L654.4 587.9L654.0 589.6L653.3 591.4L649.8 589.9L648.2 588.5ZM705.7 547.9L705.9 550.5L701.6 551.4L694.8 551.1L695.2 549.4L701.3 547.5ZM701.0 581.3L697.9 578.4L698.9 575.9L702.0 576.2L703.3 576.7L703.1 579.5ZM680.0 527.9L681.9 529.0L682.1 531.5L679.5 531.9L678.6 531.5L676.9 528.3L678.0 527.5L679.4 526.4ZM652.8 595.7L656.4 599.1L650.5 598.8L647.2 597.5L645.5 594.4L649.3 592.7ZM633.9 592.3L635.4 590.7L638.4 589.8L641.4 592.4L640.0 596.2L638.9 596.9L635.4 595.6L633.6 593.7ZM705.8 558.4L709.4 560.7L712.6 562.6L714.3 564.7L713.6 567.4L711.9 567.3L706.0 562.9L707.2 561.8ZM693.7 510.4L696.3 508.2L696.9 509.5L696.2 511.9L694.3 513.9L693.2 512.7ZM663.9 604.2L660.5 601.2L658.4 597.3L662.5 598.4L664.3 601.8ZM677.8 589.0L682.4 590.2L681.6 592.8L678.0 593.8L674.9 594.1L671.6 592.8L674.3 591.2ZM727.6 598.4L730.8 598.2L732.8 599.8L732.1 601.6L728.6 601.9ZM645.6 596.8L647.8 598.8L646.5 600.2L643.4 600.2L640.7 598.6L640.0 597.5L642.4 596.7ZM657.4 615.2L653.3 615.2L650.5 612.0L651.4 609.8L654.6 608.0L657.0 609.1L657.9 609.9L657.6 613.5ZM648.8 560.6L652.6 565.7L652.5 569.9L650.5 568.5L647.8 567.0L646.6 564.2L647.5 559.8ZM702.6 610.6L703.1 607.3L705.8 607.6L706.9 611.1L704.8 612.5ZM638.7 595.6L638.5 592.4L641.7 589.6L645.0 590.6L647.6 593.9L644.0 596.2L639.9 597.2ZM663.4 565.4L665.5 566.9L660.0 567.9L657.8 565.8L655.3 564.2L654.6 562.0L657.2 561.8L662.1 562.0ZM708.8 563.9L706.4 563.2L705.0 561.2L704.0 558.2L706.2 558.1L709.0 560.5L709.4 563.0ZM690.9 583.4L687.1 581.8L686.6 579.4L689.8 580.0L691.8 582.4ZM659.5 585.7L660.9 591.5L659.1 594.4L655.8 589.7L656.9 585.4ZM653.3 581.4L653.2 579.5L657.0 579.8L658.7 581.1L660.1 584.2L658.7 585.3L654.9 584.5ZM689.0 578.5L686.3 576.6L685.0 574.3L685.6 573.1L688.5 573.6L691.5 575.1L693.7 577.3L691.3 579.0ZM694.8 584.2L693.4 582.2L694.8 581.6L698.7 582.6L700.7 584.7L699.1 586.0ZM739.7 530.7L744.1 528.2L747.5 529.0L747.7 531.4L743.4 534.0L739.8 533.5ZM673.1 608.7L669.8 609.5L667.2 610.2L668.3 607.0L671.4 604.8L674.5 604.7L674.9 607.1ZM727.0 615.7L727.8 612.8L728.6 608.7L729.9 609.4L730.2 610.2L730.7 614.3L729.9 616.3L728.1 616.0ZM706.1 576.0L707.0 572.9L711.6 572.6L713.0 574.8L710.8 578.6ZM727.3 615.0L730.1 612.3L732.7 610.4L734.5 610.5L734.5 613.7L733.6 614.5L729.9 617.5L728.4 616.0ZM722.0 548.0L727.2 548.7L731.7 552.5L732.2 554.1L727.1 553.5L720.1 551.0L718.9 548.0ZM680.2 605.2L678.2 607.0L671.9 604.5L669.7 601.9L674.2 601.0L680.6 602.9ZM637.6 590.1L643.0 587.9L648.0 590.1L646.8 592.1L641.9 592.0ZM705.2 552.9L710.4 548.4L715.5 547.9L716.5 548.2L718.2 549.8L716.6 552.6L711.4 553.6L708.0 554.3ZM654.6 614.3L651.6 609.6L652.7 605.5L655.3 607.2L656.9 608.9L657.8 615.6ZM721.5 549.7L719.3 552.6L717.3 550.2L719.1 547.2L721.7 547.8ZM695.1 563.9L694.8 565.8L691.0 570.3L688.8 567.8L691.1 565.1ZM682.1 545.8L688.2 548.6L691.5 552.4L687.1 553.1L681.4 549.1ZM659.1 532.8L662.5 531.8L664.6 534.5L663.5 536.3L661.8 536.9L660.2 536.0L659.8 534.4ZM669.9 547.3L671.2 542.7L673.7 542.2L672.3 549.9L669.6 552.4ZM655.6 516.8L658.5 514.4L662.0 512.8L662.3 515.5L660.5 519.1L657.0 521.1L655.2 519.6Z" fill="#2222d4" stroke="#15159a" stroke-width="0.6"/><rect x="732.4" y="609.1" width="9.5" height="1.8" fill="#e03030"/><rect x="734.9" y="607.3" width="4" height="0.8" fill="#e06060"/></g>
<g clip-path="url(#cc106)"><rect x="758.90" y="506.50" width="109.10" height="108.80" fill="#c1cdec"/><rect x="758.90" y="506.50" width="109.10" height="108.80" fill="#c1cdec" filter="url(#ct106)" opacity="0.7"/><path d="M835.2 604.5a1.2 1.2 0 1 0 2.4 0a1.2 1.2 0 1 0-2.4 0M759.5 609.0a1.2 1.2 0 1 0 2.4 0a1.2 1.2 0 1 0-2.4 0M847.3 512.7a1.2 1.2 0 1 0 2.4 0a1.2 1.2 0 1 0-2.4 0M845.7 594.0a1.2 1.2 0 1 0 2.4 0a1.2 1.2 0 1 0-2.4 0M778.2 612.2a1.2 1.2 0 1 0 2.4 0a1.2 1.2 0 1 0-2.4 0M797.4 555.6a1.2 1.2 0 1 0 2.4 0a1.2 1.2 0 1 0-2.4 0M829.0 581.6a1.2 1.2 0 1 0 2.4 0a1.2 1.2 0 1 0-2.4 0M839.1 536.8a1.2 1.2 0 1 0 2.4 0a1.2 1.2 0 1 0-2.4 0M810.5 521.5a1.2 1.2 0 1 0 2.4 0a1.2 1.2 0 1 0-2.4 0M787.7 559.9a1.2 1.2 0 1 0 2.4 0a1.2 1.2 0 1 0-2.4 0M765.8 544.5a1.2 1.2 0 1 0 2.4 0a1.2 1.2 0 1 0-2.4 0M846.6 526.0a1.2 1.2 0 1 0 2.4 0a1.2 1.2 0 1 0-2.4 0M805.0 510.6a1.2 1.2 0 1 0 2.4 0a1.2 1.2 0 1 0-2.4 0M838.2 517.4a1.2 1.2 0 1 0 2.4 0a1.2 1.2 0 1 0-2.4 0M777.5 587.6a1.2 1.2 0 1 0 2.4 0a1.2 1.2 0 1 0-2.4 0M806.0 566.7a1.2 1.2 0 1 0 2.4 0a1.2 1.2 0 1 0-2.4 0M824.2 560.5a1.2 1.2 0 1 0 2.4 0a1.2 1.2 0 1 0-2.4 0M804.0 523.2a1.2 1.2 0 1 0 2.4 0a1.2 1.2 0 1 0-2.4 0M773.2 528.7a1.2 1.2 0 1 0 2.4 0a1.2 1.2 0 1 0-2.4 0M784.4 541.5a1.2 1.2 0 1 0 2.4 0a1.2 1.2 0 1 0-2.4 0M855.0 529.7a1.2 1.2 0 1 0 2.4 0a1.2 1.2 0 1 0-2.4 0M772.0 535.7a1.2 1.2 0 1 0 2.4 0a1.2 1.2 0 1 0-2.4 0M772.1 596.7a1.2 1.2 0 1 0 2.4 0a1.2 1.2 0 1 0-2.4 0M861.7 589.8a1.2 1.2 0 1 0 2.4 0a1.2 1.2 0 1 0-2.4 0M861.7 566.3a1.2 1.2 0 1 0 2.4 0a1.2 1.2 0 1 0-2.4 0M807.1 548.4a1.2 1.2 0 1 0 2.4 0a1.2 1.2 0 1 0-2.4 0M828.9 532.5a1.2 1.2 0 1 0 2.4 0a1.2 1.2 0 1 0-2.4 0M814.8 548.9a1.2 1.2 0 1 0 2.4 0a1.2 1.2 0 1 0-2.4 0M830.6 601.3a1.2 1.2 0 1 0 2.4 0a1.2 1.2 0 1 0-2.4 0M829.5 521.6a1.2 1.2 0 1 0 2.4 0a1.2 1.2 0 1 0-2.4 0M822.4 586.1a1.2 1.2 0 1 0 2.4 0a1.2 1.2 0 1 0-2.4 0M816.4 513.7a1.2 1.2 0 1 0 2.4 0a1.2 1.2 0 1 0-2.4 0M768.0 565.1a1.2 1.2 0 1 0 2.4 0a1.2 1.2 0 1 0-2.4 0M836.0 560.3a1.2 1.2 0 1 0 2.4 0a1.2 1.2 0 1 0-2.4 0M837.2 566.3a1.2 1.2 0 1 0 2.4 0a1.2 1.2 0 1 0-2.4 0M847.5 530.0a1.2 1.2 0 1 0 2.4 0a1.2 1.2 0 1 0-2.4 0M848.4 587.9a1.2 1.2 0 1 0 2.4 0a1.2 1.2 0 1 0-2.4 0M770.2 531.1a1.2 1.2 0 1 0 2.4 0a1.2 1.2 0 1 0-2.4 0M789.7 592.0a1.2 1.2 0 1 0 2.4 0a1.2 1.2 0 1 0-2.4 0M827.3 513.9a1.2 1.2 0 1 0 2.4 0a1.2 1.2 0 1 0-2.4 0M837.9 539.9a1.2 1.2 0 1 0 2.4 0a1.2 1.2 0 1 0-2.4 0M851.9 536.7a1.2 1.2 0 1 0 2.4 0a1.2 1.2 0 1 0-2.4 0M768.8 542.5a1.2 1.2 0 1 0 2.4 0a1.2 1.2 0 1 0-2.4 0M808.1 553.2a1.2 1.2 0 1 0 2.4 0a1.2 1.2 0 1 0-2.4 0M816.3 518.2a1.2 1.2 0 1 0 2.4 0a1.2 1.2 0 1 0-2.4 0M787.5 511.0a1.2 1.2 0 1 0 2.4 0a1.2 1.2 0 1 0-2.4 0M865.4 559.5a1.2 1.2 0 1 0 2.4 0a1.2 1.2 0 1 0-2.4 0M789.0 524.8a1.2 1.2 0 1 0 2.4 0a1.2 1.2 0 1 0-2.4 0M823.7 507.0a1.2 1.2 0 1 0 2.4 0a1.2 1.2 0 1 0-2.4 0M774.9 579.2a1.2 1.2 0 1 0 2.4 0a1.2 1.2 0 1 0-2.4 0M815.3 583.5a1.2 1.2 0 1 0 2.4 0a1.2 1.2 0 1 0-2.4 0M850.2 541.8a1.2 1.2 0 1 0 2.4 0a1.2 1.2 0 1 0-2.4 0M841.0 594.1a1.2 1.2 0 1 0 2.4 0a1.2 1.2 0 1 0-2.4 0M847.9 564.7a1.2 1.2 0 1 0 2.4 0a1.2 1.2 0 1 0-2.4 0M841.0 510.2a1.2 1.2 0 1 0 2.4 0a1.2 1.2 0 1 0-2.4 0M778.6 569.2a1.2 1.2 0 1 0 2.4 0a1.2 1.2 0 1 0-2.4 0M818.2 573.0a1.2 1.2 0 1 0 2.4 0a1.2 1.2 0 1 0-2.4 0M803.0 511.9a1.2 1.2 0 1 0 2.4 0a1.2 1.2 0 1 0-2.4 0M792.6 528.2a1.2 1.2 0 1 0 2.4 0a1.2 1.2 0 1 0-2.4 0M830.4 532.2a1.2 1.2 0 1 0 2.4 0a1.2 1.2 0 1 0-2.4 0M840.6 564.8a1.2 1.2 0 1 0 2.4 0a1.2 1.2 0 1 0-2.4 0M800.2 573.3a1.2 1.2 0 1 0 2.4 0a1.2 1.2 0 1 0-2.4 0M854.7 542.6a1.2 1.2 0 1 0 2.4 0a1.2 1.2 0 1 0-2.4 0M763.9 600.1a1.2 1.2 0 1 0 2.4 0a1.2 1.2 0 1 0-2.4 0M789.3 603.5a1.2 1.2 0 1 0 2.4 0a1.2 1.2 0 1 0-2.4 0M809.7 550.8a1.2 1.2 0 1 0 2.4 0a1.2 1.2 0 1 0-2.4 0M849.6 518.9a1.2 1.2 0 1 0 2.4 0a1.2 1.2 0 1 0-2.4 0M852.1 536.7a1.2 1.2 0 1 0 2.4 0a1.2 1.2 0 1 0-2.4 0M842.3 610.5a1.2 1.2 0 1 0 2.4 0a1.2 1.2 0 1 0-2.4 0M849.1 543.2a1.2 1.2 0 1 0 2.4 0a1.2 1.2 0 1 0-2.4 0M863.3 563.9a1.2 1.2 0 1 0 2.4 0a1.2 1.2 0 1 0-2.4 0M790.2 546.2a1.2 1.2 0 1 0 2.4 0a1.2 1.2 0 1 0-2.4 0M767.0 575.1a1.2 1.2 0 1 0 2.4 0a1.2 1.2 0 1 0-2.4 0M806.2 567.7a1.2 1.2 0 1 0 2.4 0a1.2 1.2 0 1 0-2.4 0M854.3 555.4a1.2 1.2 0 1 0 2.4 0a1.2 1.2 0 1 0-2.4 0M760.7 571.7a1.2 1.2 0 1 0 2.4 0a1.2 1.2 0 1 0-2.4 0M767.2 571.5a1.2 1.2 0 1 0 2.4 0a1.2 1.2 0 1 0-2.4 0M816.9 555.2a1.2 1.2 0 1 0 2.4 0a1.2 1.2 0 1 0-2.4 0M829.8 516.1a1.2 1.2 0 1 0 2.4 0a1.2 1.2 0 1 0-2.4 0M796.8 529.0a1.2 1.2 0 1 0 2.4 0a1.2 1.2 0 1 0-2.4 0M781.2 519.5a1.2 1.2 0 1 0 2.4 0a1.2 1.2 0 1 0-2.4 0M781.8 599.5a1.2 1.2 0 1 0 2.4 0a1.2 1.2 0 1 0-2.4 0M864.4 573.5a1.2 1.2 0 1 0 2.4 0a1.2 1.2 0 1 0-2.4 0M842.3 508.1a1.2 1.2 0 1 0 2.4 0a1.2 1.2 0 1 0-2.4 0M794.7 584.9a1.2 1.2 0 1 0 2.4 0a1.2 1.2 0 1 0-2.4 0M856.7 512.3a1.2 1.2 0 1 0 2.4 0a1.2 1.2 0 1 0-2.4 0M865.8 612.2a1.2 1.2 0 1 0 2.4 0a1.2 1.2 0 1 0-2.4 0M767.5 550.4a1.2 1.2 0 1 0 2.4 0a1.2 1.2 0 1 0-2.4 0M857.3 543.9a1.2 1.2 0 1 0 2.4 0a1.2 1.2 0 1 0-2.4 0M775.7 569.9a1.2 1.2 0 1 0 2.4 0a1.2 1.2 0 1 0-2.4 0M825.8 590.4a1.2 1.2 0 1 0 2.4 0a1.2 1.2 0 1 0-2.4 0M781.9 561.3a1.2 1.2 0 1 0 2.4 0a1.2 1.2 0 1 0-2.4 0M778.9 608.5a1.2 1.2 0 1 0 2.4 0a1.2 1.2 0 1 0-2.4 0M856.8 610.1a1.2 1.2 0 1 0 2.4 0a1.2 1.2 0 1 0-2.4 0M772.6 525.9a1.2 1.2 0 1 0 2.4 0a1.2 1.2 0 1 0-2.4 0M846.7 557.7a1.2 1.2 0 1 0 2.4 0a1.2 1.2 0 1 0-2.4 0M850.3 576.7a1.2 1.2 0 1 0 2.4 0a1.2 1.2 0 1 0-2.4 0M761.4 519.0a1.2 1.2 0 1 0 2.4 0a1.2 1.2 0 1 0-2.4 0M837.0 536.3a1.2 1.2 0 1 0 2.4 0a1.2 1.2 0 1 0-2.4 0M801.5 573.8a1.2 1.2 0 1 0 2.4 0a1.2 1.2 0 1 0-2.4 0M763.5 517.3a1.2 1.2 0 1 0 2.4 0a1.2 1.2 0 1 0-2.4 0M811.1 508.6a1.2 1.2 0 1 0 2.4 0a1.2 1.2 0 1 0-2.4 0M795.3 548.7a1.2 1.2 0 1 0 2.4 0a1.2 1.2 0 1 0-2.4 0M768.5 515.6a1.2 1.2 0 1 0 2.4 0a1.2 1.2 0 1 0-2.4 0M840.9 581.1a1.2 1.2 0 1 0 2.4 0a1.2 1.2 0 1 0-2.4 0M811.3 555.7a1.2 1.2 0 1 0 2.4 0a1.2 1.2 0 1 0-2.4 0M857.5 557.5a1.2 1.2 0 1 0 2.4 0a1.2 1.2 0 1 0-2.4 0M777.0 561.6a1.2 1.2 0 1 0 2.4 0a1.2 1.2 0 1 0-2.4 0M811.1 566.7a1.2 1.2 0 1 0 2.4 0a1.2 1.2 0 1 0-2.4 0M795.6 561.2a1.2 1.2 0 1 0 2.4 0a1.2 1.2 0 1 0-2.4 0M762.1 579.6a1.2 1.2 0 1 0 2.4 0a1.2 1.2 0 1 0-2.4 0M854.6 586.5a1.2 1.2 0 1 0 2.4 0a1.2 1.2 0 1 0-2.4 0M849.3 613.0a1.2 1.2 0 1 0 2.4 0a1.2 1.2 0 1 0-2.4 0M811.5 552.5a1.2 1.2 0 1 0 2.4 0a1.2 1.2 0 1 0-2.4 0M838.7 530.5a1.2 1.2 0 1 0 2.4 0a1.2 1.2 0 1 0-2.4 0M791.0 571.4a1.2 1.2 0 1 0 2.4 0a1.2 1.2 0 1 0-2.4 0M761.5 612.9a1.2 1.2 0 1 0 2.4 0a1.2 1.2 0 1 0-2.4 0M859.3 562.2a1.2 1.2 0 1 0 2.4 0a1.2 1.2 0 1 0-2.4 0M825.5 544.0a1.2 1.2 0 1 0 2.4 0a1.2 1.2 0 1 0-2.4 0M807.8 516.8a1.2 1.2 0 1 0 2.4 0a1.2 1.2 0 1 0-2.4 0M795.9 527.2a1.2 1.2 0 1 0 2.4 0a1.2 1.2 0 1 0-2.4 0M801.7 578.2a1.2 1.2 0 1 0 2.4 0a1.2 1.2 0 1 0-2.4 0M851.4 515.3a1.2 1.2 0 1 0 2.4 0a1.2 1.2 0 1 0-2.4 0M772.4 574.1a1.2 1.2 0 1 0 2.4 0a1.2 1.2 0 1 0-2.4 0M860.0 567.5a1.2 1.2 0 1 0 2.4 0a1.2 1.2 0 1 0-2.4 0M814.4 600.3a1.2 1.2 0 1 0 2.4 0a1.2 1.2 0 1 0-2.4 0M780.1 506.7a1.2 1.2 0 1 0 2.4 0a1.2 1.2 0 1 0-2.4 0M812.8 570.5a1.2 1.2 0 1 0 2.4 0a1.2 1.2 0 1 0-2.4 0M771.1 581.3a1.2 1.2 0 1 0 2.4 0a1.2 1.2 0 1 0-2.4 0M824.7 597.1a1.2 1.2 0 1 0 2.4 0a1.2 1.2 0 1 0-2.4 0M793.9 513.8a1.2 1.2 0 1 0 2.4 0a1.2 1.2 0 1 0-2.4 0M782.4 532.0a1.2 1.2 0 1 0 2.4 0a1.2 1.2 0 1 0-2.4 0M793.6 577.1a1.2 1.2 0 1 0 2.4 0a1.2 1.2 0 1 0-2.4 0M787.3 613.6a1.2 1.2 0 1 0 2.4 0a1.2 1.2 0 1 0-2.4 0M776.0 601.6a1.2 1.2 0 1 0 2.4 0a1.2 1.2 0 1 0-2.4 0M784.2 607.0a1.2 1.2 0 1 0 2.4 0a1.2 1.2 0 1 0-2.4 0M782.5 566.6a1.2 1.2 0 1 0 2.4 0a1.2 1.2 0 1 0-2.4 0M784.6 584.6a1.2 1.2 0 1 0 2.4 0a1.2 1.2 0 1 0-2.4 0M824.5 586.0a1.2 1.2 0 1 0 2.4 0a1.2 1.2 0 1 0-2.4 0M801.7 524.1a1.2 1.2 0 1 0 2.4 0a1.2 1.2 0 1 0-2.4 0M792.7 599.6a1.2 1.2 0 1 0 2.4 0a1.2 1.2 0 1 0-2.4 0M812.4 525.6a1.2 1.2 0 1 0 2.4 0a1.2 1.2 0 1 0-2.4 0M766.2 563.2a1.2 1.2 0 1 0 2.4 0a1.2 1.2 0 1 0-2.4 0M848.5 580.2a1.2 1.2 0 1 0 2.4 0a1.2 1.2 0 1 0-2.4 0M843.1 513.4a1.2 1.2 0 1 0 2.4 0a1.2 1.2 0 1 0-2.4 0M805.8 539.2a1.2 1.2 0 1 0 2.4 0a1.2 1.2 0 1 0-2.4 0M783.0 609.1a1.2 1.2 0 1 0 2.4 0a1.2 1.2 0 1 0-2.4 0M851.0 544.7a1.2 1.2 0 1 0 2.4 0a1.2 1.2 0 1 0-2.4 0M865.6 529.3a1.2 1.2 0 1 0 2.4 0a1.2 1.2 0 1 0-2.4 0M848.4 556.5a1.2 1.2 0 1 0 2.4 0a1.2 1.2 0 1 0-2.4 0M804.8 614.0a1.2 1.2 0 1 0 2.4 0a1.2 1.2 0 1 0-2.4 0M844.3 582.2a1.2 1.2 0 1 0 2.4 0a1.2 1.2 0 1 0-2.4 0M829.5 576.7a1.2 1.2 0 1 0 2.4 0a1.2 1.2 0 1 0-2.4 0M847.3 582.5a1.2 1.2 0 1 0 2.4 0a1.2 1.2 0 1 0-2.4 0M796.1 571.4a1.2 1.2 0 1 0 2.4 0a1.2 1.2 0 1 0-2.4 0M803.7 528.6a1.2 1.2 0 1 0 2.4 0a1.2 1.2 0 1 0-2.4 0M767.2 605.8a1.2 1.2 0 1 0 2.4 0a1.2 1.2 0 1 0-2.4 0M803.3 562.7a1.2 1.2 0 1 0 2.4 0a1.2 1.2 0 1 0-2.4 0M775.0 565.7a1.2 1.2 0 1 0 2.4 0a1.2 1.2 0 1 0-2.4 0M855.3 582.8a1.2 1.2 0 1 0 2.4 0a1.2 1.2 0 1 0-2.4 0M829.5 568.3a1.2 1.2 0 1 0 2.4 0a1.2 1.2 0 1 0-2.4 0M759.0 507.3a1.2 1.2 0 1 0 2.4 0a1.2 1.2 0 1 0-2.4 0M769.0 572.5a1.2 1.2 0 1 0 2.4 0a1.2 1.2 0 1 0-2.4 0M849.1 610.0a1.2 1.2 0 1 0 2.4 0a1.2 1.2 0 1 0-2.4 0M837.5 585.5a1.2 1.2 0 1 0 2.4 0a1.2 1.2 0 1 0-2.4 0M778.3 513.7a1.2 1.2 0 1 0 2.4 0a1.2 1.2 0 1 0-2.4 0M841.6 534.9a1.2 1.2 0 1 0 2.4 0a1.2 1.2 0 1 0-2.4 0M828.4 604.0a1.2 1.2 0 1 0 2.4 0a1.2 1.2 0 1 0-2.4 0M764.7 592.0a1.2 1.2 0 1 0 2.4 0a1.2 1.2 0 1 0-2.4 0M793.3 566.9a1.2 1.2 0 1 0 2.4 0a1.2 1.2 0 1 0-2.4 0M803.3 595.3a1.2 1.2 0 1 0 2.4 0a1.2 1.2 0 1 0-2.4 0M832.7 605.3a1.2 1.2 0 1 0 2.4 0a1.2 1.2 0 1 0-2.4 0M835.2 594.4a1.2 1.2 0 1 0 2.4 0a1.2 1.2 0 1 0-2.4 0M844.1 560.6a1.2 1.2 0 1 0 2.4 0a1.2 1.2 0 1 0-2.4 0M815.6 565.7a1.2 1.2 0 1 0 2.4 0a1.2 1.2 0 1 0-2.4 0M769.7 510.2a1.2 1.2 0 1 0 2.4 0a1.2 1.2 0 1 0-2.4 0M790.9 551.2a1.2 1.2 0 1 0 2.4 0a1.2 1.2 0 1 0-2.4 0M764.6 582.8a1.2 1.2 0 1 0 2.4 0a1.2 1.2 0 1 0-2.4 0M790.2 559.7a1.2 1.2 0 1 0 2.4 0a1.2 1.2 0 1 0-2.4 0M857.1 598.8a1.2 1.2 0 1 0 2.4 0a1.2 1.2 0 1 0-2.4 0M806.1 558.7a1.2 1.2 0 1 0 2.4 0a1.2 1.2 0 1 0-2.4 0M761.7 510.2a1.2 1.2 0 1 0 2.4 0a1.2 1.2 0 1 0-2.4 0M817.3 511.7a1.2 1.2 0 1 0 2.4 0a1.2 1.2 0 1 0-2.4 0M833.1 520.6a1.2 1.2 0 1 0 2.4 0a1.2 1.2 0 1 0-2.4 0M782.1 588.2a1.2 1.2 0 1 0 2.4 0a1.2 1.2 0 1 0-2.4 0M773.7 587.9a1.2 1.2 0 1 0 2.4 0a1.2 1.2 0 1 0-2.4 0M759.3 559.4a1.2 1.2 0 1 0 2.4 0a1.2 1.2 0 1 0-2.4 0M805.2 533.5a1.2 1.2 0 1 0 2.4 0a1.2 1.2 0 1 0-2.4 0M793.3 598.1a1.2 1.2 0 1 0 2.4 0a1.2 1.2 0 1 0-2.4 0M781.4 529.0a1.2 1.2 0 1 0 2.4 0a1.2 1.2 0 1 0-2.4 0M805.4 550.2a1.2 1.2 0 1 0 2.4 0a1.2 1.2 0 1 0-2.4 0M804.5 563.7a1.2 1.2 0 1 0 2.4 0a1.2 1.2 0 1 0-2.4 0M820.5 533.2a1.2 1.2 0 1 0 2.4 0a1.2 1.2 0 1 0-2.4 0M814.1 567.0a1.2 1.2 0 1 0 2.4 0a1.2 1.2 0 1 0-2.4 0M846.8 535.2a1.2 1.2 0 1 0 2.4 0a1.2 1.2 0 1 0-2.4 0M772.4 542.9a1.2 1.2 0 1 0 2.4 0a1.2 1.2 0 1 0-2.4 0M845.2 555.6a1.2 1.2 0 1 0 2.4 0a1.2 1.2 0 1 0-2.4 0M796.5 566.2a1.2 1.2 0 1 0 2.4 0a1.2 1.2 0 1 0-2.4 0M766.1 536.4a1.2 1.2 0 1 0 2.4 0a1.2 1.2 0 1 0-2.4 0M859.5 559.5a1.2 1.2 0 1 0 2.4 0a1.2 1.2 0 1 0-2.4 0M829.7 518.6a1.2 1.2 0 1 0 2.4 0a1.2 1.2 0 1 0-2.4 0M767.2 612.6a1.2 1.2 0 1 0 2.4 0a1.2 1.2 0 1 0-2.4 0M766.4 588.4a1.2 1.2 0 1 0 2.4 0a1.2 1.2 0 1 0-2.4 0M770.8 571.4a1.2 1.2 0 1 0 2.4 0a1.2 1.2 0 1 0-2.4 0M809.3 528.9a1.2 1.2 0 1 0 2.4 0a1.2 1.2 0 1 0-2.4 0M803.2 615.0a1.2 1.2 0 1 0 2.4 0a1.2 1.2 0 1 0-2.4 0M822.3 584.6a1.2 1.2 0 1 0 2.4 0a1.2 1.2 0 1 0-2.4 0M758.0 607.3a1.2 1.2 0 1 0 2.4 0a1.2 1.2 0 1 0-2.4 0M809.7 569.7a1.2 1.2 0 1 0 2.4 0a1.2 1.2 0 1 0-2.4 0M803.6 529.4a1.2 1.2 0 1 0 2.4 0a1.2 1.2 0 1 0-2.4 0M784.8 589.4a1.2 1.2 0 1 0 2.4 0a1.2 1.2 0 1 0-2.4 0M866.4 588.7a1.2 1.2 0 1 0 2.4 0a1.2 1.2 0 1 0-2.4 0M866.2 567.9a1.2 1.2 0 1 0 2.4 0a1.2 1.2 0 1 0-2.4 0M789.0 565.8a1.2 1.2 0 1 0 2.4 0a1.2 1.2 0 1 0-2.4 0M766.3 510.6a1.2 1.2 0 1 0 2.4 0a1.2 1.2 0 1 0-2.4 0M765.2 565.2a1.2 1.2 0 1 0 2.4 0a1.2 1.2 0 1 0-2.4 0M855.8 563.9a1.2 1.2 0 1 0 2.4 0a1.2 1.2 0 1 0-2.4 0M813.1 570.0a1.2 1.2 0 1 0 2.4 0a1.2 1.2 0 1 0-2.4 0M764.5 580.2a1.2 1.2 0 1 0 2.4 0a1.2 1.2 0 1 0-2.4 0M850.1 509.3a1.2 1.2 0 1 0 2.4 0a1.2 1.2 0 1 0-2.4 0M857.5 570.1a1.2 1.2 0 1 0 2.4 0a1.2 1.2 0 1 0-2.4 0M812.9 512.0a1.2 1.2 0 1 0 2.4 0a1.2 1.2 0 1 0-2.4 0M825.6 581.2a1.2 1.2 0 1 0 2.4 0a1.2 1.2 0 1 0-2.4 0M853.9 529.9a1.2 1.2 0 1 0 2.4 0a1.2 1.2 0 1 0-2.4 0M787.0 610.2a1.2 1.2 0 1 0 2.4 0a1.2 1.2 0 1 0-2.4 0M866.6 554.7a1.2 1.2 0 1 0 2.4 0a1.2 1.2 0 1 0-2.4 0M830.8 528.0a1.2 1.2 0 1 0 2.4 0a1.2 1.2 0 1 0-2.4 0M843.3 612.3a1.2 1.2 0 1 0 2.4 0a1.2 1.2 0 1 0-2.4 0M778.8 544.3a1.2 1.2 0 1 0 2.4 0a1.2 1.2 0 1 0-2.4 0M859.9 527.8a1.2 1.2 0 1 0 2.4 0a1.2 1.2 0 1 0-2.4 0M844.1 569.9a1.2 1.2 0 1 0 2.4 0a1.2 1.2 0 1 0-2.4 0M842.3 555.1a1.2 1.2 0 1 0 2.4 0a1.2 1.2 0 1 0-2.4 0M863.1 595.1a1.2 1.2 0 1 0 2.4 0a1.2 1.2 0 1 0-2.4 0M828.4 533.1a1.2 1.2 0 1 0 2.4 0a1.2 1.2 0 1 0-2.4 0M858.6 614.5a1.2 1.2 0 1 0 2.4 0a1.2 1.2 0 1 0-2.4 0M815.2 514.4a1.2 1.2 0 1 0 2.4 0a1.2 1.2 0 1 0-2.4 0M799.1 574.3a1.2 1.2 0 1 0 2.4 0a1.2 1.2 0 1 0-2.4 0M853.6 609.4a1.2 1.2 0 1 0 2.4 0a1.2 1.2 0 1 0-2.4 0M814.0 552.5a1.2 1.2 0 1 0 2.4 0a1.2 1.2 0 1 0-2.4 0M830.7 599.7a1.2 1.2 0 1 0 2.4 0a1.2 1.2 0 1 0-2.4 0M829.7 576.3a1.2 1.2 0 1 0 2.4 0a1.2 1.2 0 1 0-2.4 0M800.3 593.4a1.2 1.2 0 1 0 2.4 0a1.2 1.2 0 1 0-2.4 0M789.9 538.4a1.2 1.2 0 1 0 2.4 0a1.2 1.2 0 1 0-2.4 0M772.0 575.6a1.2 1.2 0 1 0 2.4 0a1.2 1.2 0 1 0-2.4 0M761.6 600.8a1.2 1.2 0 1 0 2.4 0a1.2 1.2 0 1 0-2.4 0M793.9 594.6a1.2 1.2 0 1 0 2.4 0a1.2 1.2 0 1 0-2.4 0M818.3 514.1a1.2 1.2 0 1 0 2.4 0a1.2 1.2 0 1 0-2.4 0M859.0 572.0a1.2 1.2 0 1 0 2.4 0a1.2 1.2 0 1 0-2.4 0M824.5 601.4a1.2 1.2 0 1 0 2.4 0a1.2 1.2 0 1 0-2.4 0M858.0 555.4a1.2 1.2 0 1 0 2.4 0a1.2 1.2 0 1 0-2.4 0M811.7 575.7a1.2 1.2 0 1 0 2.4 0a1.2 1.2 0 1 0-2.4 0M774.8 518.2a1.2 1.2 0 1 0 2.4 0a1.2 1.2 0 1 0-2.4 0M795.1 604.3a1.2 1.2 0 1 0 2.4 0a1.2 1.2 0 1 0-2.4 0M856.7 605.6a1.2 1.2 0 1 0 2.4 0a1.2 1.2 0 1 0-2.4 0M862.8 579.5a1.2 1.2 0 1 0 2.4 0a1.2 1.2 0 1 0-2.4 0M774.2 558.5a1.2 1.2 0 1 0 2.4 0a1.2 1.2 0 1 0-2.4 0M825.8 554.4a1.2 1.2 0 1 0 2.4 0a1.2 1.2 0 1 0-2.4 0M810.6 564.6a1.2 1.2 0 1 0 2.4 0a1.2 1.2 0 1 0-2.4 0M825.6 517.2a1.2 1.2 0 1 0 2.4 0a1.2 1.2 0 1 0-2.4 0M798.9 510.7a1.2 1.2 0 1 0 2.4 0a1.2 1.2 0 1 0-2.4 0M844.0 545.6a1.2 1.2 0 1 0 2.4 0a1.2 1.2 0 1 0-2.4 0M842.2 524.8a1.2 1.2 0 1 0 2.4 0a1.2 1.2 0 1 0-2.4 0M800.5 509.0a1.2 1.2 0 1 0 2.4 0a1.2 1.2 0 1 0-2.4 0M842.0 548.2a1.2 1.2 0 1 0 2.4 0a1.2 1.2 0 1 0-2.4 0M782.2 584.7a1.2 1.2 0 1 0 2.4 0a1.2 1.2 0 1 0-2.4 0M825.0 530.4a1.2 1.2 0 1 0 2.4 0a1.2 1.2 0 1 0-2.4 0M788.5 609.6a1.2 1.2 0 1 0 2.4 0a1.2 1.2 0 1 0-2.4 0M774.6 606.4a1.2 1.2 0 1 0 2.4 0a1.2 1.2 0 1 0-2.4 0M823.0 602.4a1.2 1.2 0 1 0 2.4 0a1.2 1.2 0 1 0-2.4 0M849.7 597.2a1.2 1.2 0 1 0 2.4 0a1.2 1.2 0 1 0-2.4 0M791.0 604.3a1.2 1.2 0 1 0 2.4 0a1.2 1.2 0 1 0-2.4 0M776.6 599.1a1.2 1.2 0 1 0 2.4 0a1.2 1.2 0 1 0-2.4 0M851.5 571.9a1.2 1.2 0 1 0 2.4 0a1.2 1.2 0 1 0-2.4 0M790.9 590.3a1.2 1.2 0 1 0 2.4 0a1.2 1.2 0 1 0-2.4 0M794.2 554.8a1.2 1.2 0 1 0 2.4 0a1.2 1.2 0 1 0-2.4 0M836.5 579.5a1.2 1.2 0 1 0 2.4 0a1.2 1.2 0 1 0-2.4 0M810.4 604.8a1.2 1.2 0 1 0 2.4 0a1.2 1.2 0 1 0-2.4 0M772.0 589.1a1.2 1.2 0 1 0 2.4 0a1.2 1.2 0 1 0-2.4 0M823.9 552.4a1.2 1.2 0 1 0 2.4 0a1.2 1.2 0 1 0-2.4 0M767.4 527.4a1.2 1.2 0 1 0 2.4 0a1.2 1.2 0 1 0-2.4 0M790.2 507.8a1.2 1.2 0 1 0 2.4 0a1.2 1.2 0 1 0-2.4 0M857.6 584.1a1.2 1.2 0 1 0 2.4 0a1.2 1.2 0 1 0-2.4 0M825.4 546.0a1.2 1.2 0 1 0 2.4 0a1.2 1.2 0 1 0-2.4 0M805.5 526.0a1.2 1.2 0 1 0 2.4 0a1.2 1.2 0 1 0-2.4 0M830.2 555.8a1.2 1.2 0 1 0 2.4 0a1.2 1.2 0 1 0-2.4 0M825.5 537.0a1.2 1.2 0 1 0 2.4 0a1.2 1.2 0 1 0-2.4 0M777.6 531.9a1.2 1.2 0 1 0 2.4 0a1.2 1.2 0 1 0-2.4 0M828.1 515.3a1.2 1.2 0 1 0 2.4 0a1.2 1.2 0 1 0-2.4 0M774.6 545.7a1.2 1.2 0 1 0 2.4 0a1.2 1.2 0 1 0-2.4 0M815.3 614.6a1.2 1.2 0 1 0 2.4 0a1.2 1.2 0 1 0-2.4 0M831.9 573.5a1.2 1.2 0 1 0 2.4 0a1.2 1.2 0 1 0-2.4 0M832.2 562.8a1.2 1.2 0 1 0 2.4 0a1.2 1.2 0 1 0-2.4 0M778.6 602.5a1.2 1.2 0 1 0 2.4 0a1.2 1.2 0 1 0-2.4 0M853.4 522.8a1.2 1.2 0 1 0 2.4 0a1.2 1.2 0 1 0-2.4 0M790.4 582.5a1.2 1.2 0 1 0 2.4 0a1.2 1.2 0 1 0-2.4 0M812.1 611.3a1.2 1.2 0 1 0 2.4 0a1.2 1.2 0 1 0-2.4 0M815.2 587.4a1.2 1.2 0 1 0 2.4 0a1.2 1.2 0 1 0-2.4 0M771.9 525.8a1.2 1.2 0 1 0 2.4 0a1.2 1.2 0 1 0-2.4 0M768.6 571.4a1.2 1.2 0 1 0 2.4 0a1.2 1.2 0 1 0-2.4 0M773.8 587.2a1.2 1.2 0 1 0 2.4 0a1.2 1.2 0 1 0-2.4 0M819.8 570.7a1.2 1.2 0 1 0 2.4 0a1.2 1.2 0 1 0-2.4 0M814.8 593.6a1.2 1.2 0 1 0 2.4 0a1.2 1.2 0 1 0-2.4 0M766.5 523.0a1.2 1.2 0 1 0 2.4 0a1.2 1.2 0 1 0-2.4 0M800.4 610.5a1.2 1.2 0 1 0 2.4 0a1.2 1.2 0 1 0-2.4 0M828.1 584.8a1.2 1.2 0 1 0 2.4 0a1.2 1.2 0 1 0-2.4 0M768.7 519.3a1.2 1.2 0 1 0 2.4 0a1.2 1.2 0 1 0-2.4 0M815.0 602.0a1.2 1.2 0 1 0 2.4 0a1.2 1.2 0 1 0-2.4 0M827.5 519.8a1.2 1.2 0 1 0 2.4 0a1.2 1.2 0 1 0-2.4 0M843.6 511.6a1.2 1.2 0 1 0 2.4 0a1.2 1.2 0 1 0-2.4 0M785.4 606.3a1.2 1.2 0 1 0 2.4 0a1.2 1.2 0 1 0-2.4 0M816.4 560.7a1.2 1.2 0 1 0 2.4 0a1.2 1.2 0 1 0-2.4 0M798.0 609.5a1.2 1.2 0 1 0 2.4 0a1.2 1.2 0 1 0-2.4 0M810.7 545.0a1.2 1.2 0 1 0 2.4 0a1.2 1.2 0 1 0-2.4 0M769.0 518.5a1.2 1.2 0 1 0 2.4 0a1.2 1.2 0 1 0-2.4 0M826.7 529.6a1.2 1.2 0 1 0 2.4 0a1.2 1.2 0 1 0-2.4 0M790.6 541.1a1.2 1.2 0 1 0 2.4 0a1.2 1.2 0 1 0-2.4 0M853.3 519.6a1.2 1.2 0 1 0 2.4 0a1.2 1.2 0 1 0-2.4 0M860.5 606.1a1.2 1.2 0 1 0 2.4 0a1.2 1.2 0 1 0-2.4 0M837.3 521.4a1.2 1.2 0 1 0 2.4 0a1.2 1.2 0 1 0-2.4 0M814.0 564.4a1.2 1.2 0 1 0 2.4 0a1.2 1.2 0 1 0-2.4 0M805.6 559.1a1.2 1.2 0 1 0 2.4 0a1.2 1.2 0 1 0-2.4 0M805.2 592.3a1.2 1.2 0 1 0 2.4 0a1.2 1.2 0 1 0-2.4 0M830.3 573.7a1.2 1.2 0 1 0 2.4 0a1.2 1.2 0 1 0-2.4 0M796.7 537.1a1.2 1.2 0 1 0 2.4 0a1.2 1.2 0 1 0-2.4 0M816.5 524.8a1.2 1.2 0 1 0 2.4 0a1.2 1.2 0 1 0-2.4 0M807.4 543.9a1.2 1.2 0 1 0 2.4 0a1.2 1.2 0 1 0-2.4 0M785.9 568.0a1.2 1.2 0 1 0 2.4 0a1.2 1.2 0 1 0-2.4 0M799.6 560.5a1.2 1.2 0 1 0 2.4 0a1.2 1.2 0 1 0-2.4 0M797.1 590.1a1.2 1.2 0 1 0 2.4 0a1.2 1.2 0 1 0-2.4 0M848.9 546.7a1.2 1.2 0 1 0 2.4 0a1.2 1.2 0 1 0-2.4 0M828.0 589.0a1.2 1.2 0 1 0 2.4 0a1.2 1.2 0 1 0-2.4 0M858.7 600.7a1.2 1.2 0 1 0 2.4 0a1.2 1.2 0 1 0-2.4 0M771.0 592.3a1.2 1.2 0 1 0 2.4 0a1.2 1.2 0 1 0-2.4 0M775.1 507.0a1.2 1.2 0 1 0 2.4 0a1.2 1.2 0 1 0-2.4 0M814.2 530.8a1.2 1.2 0 1 0 2.4 0a1.2 1.2 0 1 0-2.4 0M762.7 573.2a1.2 1.2 0 1 0 2.4 0a1.2 1.2 0 1 0-2.4 0M853.7 539.4a1.2 1.2 0 1 0 2.4 0a1.2 1.2 0 1 0-2.4 0M832.7 548.8a1.2 1.2 0 1 0 2.4 0a1.2 1.2 0 1 0-2.4 0M791.4 590.6a1.2 1.2 0 1 0 2.4 0a1.2 1.2 0 1 0-2.4 0M850.4 545.8a1.2 1.2 0 1 0 2.4 0a1.2 1.2 0 1 0-2.4 0M771.5 579.9a1.2 1.2 0 1 0 2.4 0a1.2 1.2 0 1 0-2.4 0M850.6 559.1a1.2 1.2 0 1 0 2.4 0a1.2 1.2 0 1 0-2.4 0M855.5 591.3a1.2 1.2 0 1 0 2.4 0a1.2 1.2 0 1 0-2.4 0M778.6 545.7a1.2 1.2 0 1 0 2.4 0a1.2 1.2 0 1 0-2.4 0M832.2 523.2a1.2 1.2 0 1 0 2.4 0a1.2 1.2 0 1 0-2.4 0M804.2 609.7a1.2 1.2 0 1 0 2.4 0a1.2 1.2 0 1 0-2.4 0M775.8 514.3a1.2 1.2 0 1 0 2.4 0a1.2 1.2 0 1 0-2.4 0M862.8 598.1a1.2 1.2 0 1 0 2.4 0a1.2 1.2 0 1 0-2.4 0M792.1 525.5a1.2 1.2 0 1 0 2.4 0a1.2 1.2 0 1 0-2.4 0M791.4 554.3a1.2 1.2 0 1 0 2.4 0a1.2 1.2 0 1 0-2.4 0M820.0 512.4a1.2 1.2 0 1 0 2.4 0a1.2 1.2 0 1 0-2.4 0M793.4 510.4a1.2 1.2 0 1 0 2.4 0a1.2 1.2 0 1 0-2.4 0M818.5 541.7a1.2 1.2 0 1 0 2.4 0a1.2 1.2 0 1 0-2.4 0M815.2 548.1a1.2 1.2 0 1 0 2.4 0a1.2 1.2 0 1 0-2.4 0M787.4 597.5a1.2 1.2 0 1 0 2.4 0a1.2 1.2 0 1 0-2.4 0M807.9 604.4a1.2 1.2 0 1 0 2.4 0a1.2 1.2 0 1 0-2.4 0M863.0 519.4a1.2 1.2 0 1 0 2.4 0a1.2 1.2 0 1 0-2.4 0M829.0 611.3a1.2 1.2 0 1 0 2.4 0a1.2 1.2 0 1 0-2.4 0M841.3 603.3a1.2 1.2 0 1 0 2.4 0a1.2 1.2 0 1 0-2.4 0M795.2 592.9a1.2 1.2 0 1 0 2.4 0a1.2 1.2 0 1 0-2.4 0M780.8 587.2a1.2 1.2 0 1 0 2.4 0a1.2 1.2 0 1 0-2.4 0M796.1 548.8a1.2 1.2 0 1 0 2.4 0a1.2 1.2 0 1 0-2.4 0M784.0 535.2a1.2 1.2 0 1 0 2.4 0a1.2 1.2 0 1 0-2.4 0M782.7 544.6a1.2 1.2 0 1 0 2.4 0a1.2 1.2 0 1 0-2.4 0M862.0 587.9a1.2 1.2 0 1 0 2.4 0a1.2 1.2 0 1 0-2.4 0M758.3 613.7a1.2 1.2 0 1 0 2.4 0a1.2 1.2 0 1 0-2.4 0M791.1 575.5a1.2 1.2 0 1 0 2.4 0a1.2 1.2 0 1 0-2.4 0M846.1 582.7a1.2 1.2 0 1 0 2.4 0a1.2 1.2 0 1 0-2.4 0M816.4 606.1a1.2 1.2 0 1 0 2.4 0a1.2 1.2 0 1 0-2.4 0M797.8 508.8a1.2 1.2 0 1 0 2.4 0a1.2 1.2 0 1 0-2.4 0M825.1 542.7a1.2 1.2 0 1 0 2.4 0a1.2 1.2 0 1 0-2.4 0M782.0 568.7a1.2 1.2 0 1 0 2.4 0a1.2 1.2 0 1 0-2.4 0M794.1 568.0a1.2 1.2 0 1 0 2.4 0a1.2 1.2 0 1 0-2.4 0M820.4 525.2a1.2 1.2 0 1 0 2.4 0a1.2 1.2 0 1 0-2.4 0M823.1 549.3a1.2 1.2 0 1 0 2.4 0a1.2 1.2 0 1 0-2.4 0M835.3 531.0a1.2 1.2 0 1 0 2.4 0a1.2 1.2 0 1 0-2.4 0M847.5 597.4a1.2 1.2 0 1 0 2.4 0a1.2 1.2 0 1 0-2.4 0M763.9 514.8a1.2 1.2 0 1 0 2.4 0a1.2 1.2 0 1 0-2.4 0M830.1 590.5a1.2 1.2 0 1 0 2.4 0a1.2 1.2 0 1 0-2.4 0M759.8 526.3a1.2 1.2 0 1 0 2.4 0a1.2 1.2 0 1 0-2.4 0M767.4 566.1a1.2 1.2 0 1 0 2.4 0a1.2 1.2 0 1 0-2.4 0M799.1 546.6a1.2 1.2 0 1 0 2.4 0a1.2 1.2 0 1 0-2.4 0M767.2 572.7a1.2 1.2 0 1 0 2.4 0a1.2 1.2 0 1 0-2.4 0M865.0 551.7a1.2 1.2 0 1 0 2.4 0a1.2 1.2 0 1 0-2.4 0M847.0 515.4a1.2 1.2 0 1 0 2.4 0a1.2 1.2 0 1 0-2.4 0M860.5 554.4a1.2 1.2 0 1 0 2.4 0a1.2 1.2 0 1 0-2.4 0M792.5 573.3a1.2 1.2 0 1 0 2.4 0a1.2 1.2 0 1 0-2.4 0M777.1 577.7a1.2 1.2 0 1 0 2.4 0a1.2 1.2 0 1 0-2.4 0M826.7 578.0a1.2 1.2 0 1 0 2.4 0a1.2 1.2 0 1 0-2.4 0M807.4 542.4a1.2 1.2 0 1 0 2.4 0a1.2 1.2 0 1 0-2.4 0M843.5 610.9a1.2 1.2 0 1 0 2.4 0a1.2 1.2 0 1 0-2.4 0M778.2 588.0a1.2 1.2 0 1 0 2.4 0a1.2 1.2 0 1 0-2.4 0M830.0 553.6a1.2 1.2 0 1 0 2.4 0a1.2 1.2 0 1 0-2.4 0M802.9 549.2a1.2 1.2 0 1 0 2.4 0a1.2 1.2 0 1 0-2.4 0M857.9 580.2a1.2 1.2 0 1 0 2.4 0a1.2 1.2 0 1 0-2.4 0M834.4 605.1a1.2 1.2 0 1 0 2.4 0a1.2 1.2 0 1 0-2.4 0M851.1 582.3a1.2 1.2 0 1 0 2.4 0a1.2 1.2 0 1 0-2.4 0M784.6 536.2a1.2 1.2 0 1 0 2.4 0a1.2 1.2 0 1 0-2.4 0M804.4 568.1a1.2 1.2 0 1 0 2.4 0a1.2 1.2 0 1 0-2.4 0M795.5 522.2a1.2 1.2 0 1 0 2.4 0a1.2 1.2 0 1 0-2.4 0M783.2 516.9a1.2 1.2 0 1 0 2.4 0a1.2 1.2 0 1 0-2.4 0M855.4 529.1a1.2 1.2 0 1 0 2.4 0a1.2 1.2 0 1 0-2.4 0M806.1 561.5a1.2 1.2 0 1 0 2.4 0a1.2 1.2 0 1 0-2.4 0M766.1 545.9a1.2 1.2 0 1 0 2.4 0a1.2 1.2 0 1 0-2.4 0M762.3 521.5a1.2 1.2 0 1 0 2.4 0a1.2 1.2 0 1 0-2.4 0M828.9 536.7a1.2 1.2 0 1 0 2.4 0a1.2 1.2 0 1 0-2.4 0M834.8 508.0a1.2 1.2 0 1 0 2.4 0a1.2 1.2 0 1 0-2.4 0M786.8 553.5a1.2 1.2 0 1 0 2.4 0a1.2 1.2 0 1 0-2.4 0M829.5 583.9a1.2 1.2 0 1 0 2.4 0a1.2 1.2 0 1 0-2.4 0M800.5 510.8a1.2 1.2 0 1 0 2.4 0a1.2 1.2 0 1 0-2.4 0M805.4 510.6a1.2 1.2 0 1 0 2.4 0a1.2 1.2 0 1 0-2.4 0M848.3 521.5a1.2 1.2 0 1 0 2.4 0a1.2 1.2 0 1 0-2.4 0M773.1 542.0a1.2 1.2 0 1 0 2.4 0a1.2 1.2 0 1 0-2.4 0M826.5 540.9a1.2 1.2 0 1 0 2.4 0a1.2 1.2 0 1 0-2.4 0M813.0 560.7a1.2 1.2 0 1 0 2.4 0a1.2 1.2 0 1 0-2.4 0M757.9 613.0a1.2 1.2 0 1 0 2.4 0a1.2 1.2 0 1 0-2.4 0M835.2 514.3a1.2 1.2 0 1 0 2.4 0a1.2 1.2 0 1 0-2.4 0M817.0 595.8a1.2 1.2 0 1 0 2.4 0a1.2 1.2 0 1 0-2.4 0M775.6 604.0a1.2 1.2 0 1 0 2.4 0a1.2 1.2 0 1 0-2.4 0M796.0 574.0a1.2 1.2 0 1 0 2.4 0a1.2 1.2 0 1 0-2.4 0M841.2 604.3a1.2 1.2 0 1 0 2.4 0a1.2 1.2 0 1 0-2.4 0M826.1 551.2a1.2 1.2 0 1 0 2.4 0a1.2 1.2 0 1 0-2.4 0M769.6 587.4a1.2 1.2 0 1 0 2.4 0a1.2 1.2 0 1 0-2.4 0M776.4 607.4a1.2 1.2 0 1 0 2.4 0a1.2 1.2 0 1 0-2.4 0M772.1 580.9a1.2 1.2 0 1 0 2.4 0a1.2 1.2 0 1 0-2.4 0M865.4 518.1a1.2 1.2 0 1 0 2.4 0a1.2 1.2 0 1 0-2.4 0M856.6 585.4a1.2 1.2 0 1 0 2.4 0a1.2 1.2 0 1 0-2.4 0M806.8 535.8a1.2 1.2 0 1 0 2.4 0a1.2 1.2 0 1 0-2.4 0M863.1 529.5a1.2 1.2 0 1 0 2.4 0a1.2 1.2 0 1 0-2.4 0M767.9 606.4a1.2 1.2 0 1 0 2.4 0a1.2 1.2 0 1 0-2.4 0M786.3 529.2a1.2 1.2 0 1 0 2.4 0a1.2 1.2 0 1 0-2.4 0M797.5 610.5a1.2 1.2 0 1 0 2.4 0a1.2 1.2 0 1 0-2.4 0M864.9 532.3a1.2 1.2 0 1 0 2.4 0a1.2 1.2 0 1 0-2.4 0M824.3 590.6a1.2 1.2 0 1 0 2.4 0a1.2 1.2 0 1 0-2.4 0M806.9 610.2a1.2 1.2 0 1 0 2.4 0a1.2 1.2 0 1 0-2.4 0M773.7 602.4a1.2 1.2 0 1 0 2.4 0a1.2 1.2 0 1 0-2.4 0M798.8 592.2a1.2 1.2 0 1 0 2.4 0a1.2 1.2 0 1 0-2.4 0M834.3 605.3a1.2 1.2 0 1 0 2.4 0a1.2 1.2 0 1 0-2.4 0M775.3 563.9a1.2 1.2 0 1 0 2.4 0a1.2 1.2 0 1 0-2.4 0M824.5 517.9a1.2 1.2 0 1 0 2.4 0a1.2 1.2 0 1 0-2.4 0" fill="none" stroke="#6c7492" stroke-width="0.6"/><path d="M792.6 532.3L794.1 531.9L795.5 532.9L796.4 534.2L794.3 535.1L792.4 536.7L790.0 536.1L791.2 534.1ZM794.7 521.2L796.0 522.4L797.3 525.6L795.7 527.2L793.7 526.5L791.8 526.0L792.2 521.9ZM794.9 531.9L798.3 534.8L799.1 536.7L798.5 538.8L794.1 533.4ZM802.8 528.5L803.9 530.8L803.0 533.0L801.3 533.6L800.9 530.2ZM795.2 538.8L799.1 541.5L801.0 544.1L798.2 543.9L794.8 542.0L790.4 538.8L792.8 537.8ZM794.1 526.4L798.3 526.6L799.4 530.8L795.0 532.2L792.2 529.5ZM799.8 531.1L797.0 530.6L796.0 527.2L798.0 526.9L800.4 528.3ZM816.4 531.7L817.7 529.6L819.0 530.0L819.5 532.5L819.7 534.9L819.0 536.0L816.9 534.7L816.8 533.2ZM818.7 540.2L819.7 537.9L821.6 535.4L823.7 534.5L825.5 535.3L825.2 537.6L821.1 540.2ZM828.9 538.8L824.4 536.1L825.3 534.4L829.1 535.0L834.4 537.7L836.5 539.7L833.4 541.8ZM814.3 541.4L814.4 538.5L817.0 535.7L821.5 535.0L819.7 540.7ZM824.9 549.1L821.3 551.4L817.0 551.1L814.5 548.8L816.3 546.6L817.8 545.5L821.3 544.1L822.8 546.3ZM822.0 530.8L824.1 532.0L824.5 535.5L821.5 538.2L820.2 537.8L819.6 534.3L819.8 532.6ZM831.3 540.4L828.9 540.1L829.0 537.9L829.7 536.9L833.6 536.1L834.9 538.1L834.8 539.2ZM854.2 542.0L853.7 537.0L856.8 535.9L859.2 537.7L858.6 540.9ZM857.1 535.8L859.7 532.2L861.1 535.7L861.1 540.0L857.2 539.3ZM850.5 540.1L849.5 538.0L851.6 535.3L856.2 533.2L856.5 535.4L852.4 540.6ZM863.2 540.4L860.9 541.7L856.5 540.6L857.6 537.9L860.7 538.8ZM848.9 536.0L850.3 535.4L855.2 537.9L854.1 540.4L850.8 540.8L848.1 538.2ZM773.2 557.4L777.1 556.7L779.6 558.8L779.4 561.8L776.1 562.7L773.5 561.0ZM776.2 554.9L778.7 557.9L776.7 559.3L772.7 559.0L770.9 556.1L772.5 554.4ZM774.2 562.3L771.9 561.5L770.7 559.1L770.0 556.2L771.8 556.0L774.8 556.1L775.2 559.8L775.9 561.8ZM781.2 566.0L776.7 561.7L779.4 560.6L783.6 562.4L784.9 566.5ZM777.8 556.4L782.1 560.7L781.0 563.3L777.8 560.9L775.8 558.2ZM854.0 576.1L854.3 577.7L854.5 578.7L851.4 578.2L849.2 576.5L849.7 575.4L848.6 573.2L851.8 574.9ZM843.2 568.6L844.5 570.4L837.7 574.4L834.2 573.9L837.3 570.5ZM836.6 584.1L836.4 583.0L839.0 581.1L841.3 581.9L838.9 584.9ZM838.6 576.1L840.8 577.1L842.8 578.3L842.5 579.7L840.6 581.4L837.7 580.0L838.0 578.7ZM841.6 577.1L845.4 578.8L846.3 581.2L845.9 582.5L843.2 582.9L841.9 580.9L841.7 579.3ZM842.7 579.7L844.8 577.7L847.0 580.2L847.6 582.7L846.2 584.1L843.3 582.0ZM840.9 587.7L839.9 587.3L841.3 583.6L845.5 580.9L847.4 582.1L843.7 586.3ZM793.1 605.6L792.3 607.2L789.1 612.5L787.0 613.6L784.5 613.5L783.2 611.9L787.0 607.9L788.7 607.3ZM795.4 596.8L796.8 598.1L795.7 601.2L794.5 602.5L793.6 600.5L794.7 596.6ZM800.3 605.6L802.0 608.7L798.6 610.1L793.7 608.2L796.4 604.3ZM783.3 602.9L779.4 602.5L775.7 602.3L774.6 599.6L776.6 599.0L778.8 599.0L784.7 601.6ZM798.0 607.7L800.0 604.4L802.3 608.0L802.6 614.9L800.1 612.0ZM782.1 596.9L783.2 595.3L785.5 594.0L787.7 595.2L787.5 599.5L786.4 601.4L784.7 600.7L783.4 600.4ZM792.0 596.1L793.8 593.7L797.4 594.1L798.5 597.7L795.4 599.6L792.9 597.6ZM797.0 601.0L794.9 600.3L795.7 597.4L798.8 594.4L800.2 596.4L804.3 597.9L800.9 600.6ZM780.8 603.9L782.0 606.7L781.9 609.8L779.4 610.2L777.6 607.3L777.0 603.3L779.0 602.6ZM810.3 562.3L810.1 564.1L808.2 564.9L805.4 566.1L804.2 565.3L804.4 563.6L804.9 562.6L807.3 562.2ZM810.1 511.9L808.0 512.3L806.6 510.8L807.7 509.4L811.7 508.7L814.0 510.3ZM781.5 602.5L781.3 599.9L782.1 598.8L786.2 596.5L786.8 598.6L786.7 600.3L784.3 602.7ZM767.6 571.3L765.4 574.1L765.0 571.9L764.7 570.0L766.5 567.6L767.4 568.3L767.8 570.0ZM777.0 603.4L775.1 603.4L774.2 600.6L776.5 598.0L777.5 599.6ZM768.4 525.9L770.1 523.9L773.1 524.4L772.6 525.5L771.5 528.5L770.4 529.5L768.5 529.2L768.1 527.4ZM784.9 533.7L785.1 530.8L785.7 527.5L787.4 529.4L787.7 534.8L786.9 537.9L786.0 538.7ZM800.4 579.5L798.2 582.5L796.5 580.6L796.2 577.6L798.2 575.5L800.5 577.1ZM833.2 507.3L834.9 510.3L832.0 513.1L828.7 511.1L828.9 509.1L831.5 506.5ZM782.7 595.0L780.5 595.0L779.8 592.4L778.6 588.9L780.1 589.2L781.8 586.7L783.3 590.7L784.2 592.0ZM797.8 596.3L794.5 599.7L792.9 597.6L794.4 592.3L796.8 591.7L798.3 593.6ZM818.9 542.6L820.0 540.8L823.9 541.5L825.7 543.7L823.3 547.4L821.0 548.0ZM772.6 542.4L775.2 543.7L776.6 545.8L774.4 545.7L771.5 545.8L768.7 543.4L770.0 542.3ZM766.9 597.4L766.3 600.3L766.2 601.4L764.7 602.7L763.5 603.6L762.9 601.6L764.4 597.4L765.2 597.1ZM795.4 609.1L792.4 610.4L790.8 610.8L791.6 606.8L793.3 605.8L797.7 603.8L797.8 605.5ZM765.8 541.0L763.7 537.8L764.0 534.6L765.1 534.2L766.8 535.4L768.0 538.0L768.5 539.9L767.3 540.6ZM762.9 516.6L759.6 516.3L757.2 515.3L758.8 514.3L759.2 513.0L765.1 514.4L765.6 515.5ZM853.6 543.2L856.6 547.3L855.0 548.1L851.2 544.5L850.7 542.8ZM847.0 566.2L852.5 565.8L854.6 565.6L855.3 567.6L852.3 570.4L849.8 571.2L846.4 570.4L846.4 567.3ZM790.4 565.3L789.2 567.1L787.5 569.6L785.9 566.4L785.3 563.7L786.9 561.6L789.7 560.5ZM862.1 608.4L858.6 610.4L859.1 608.9L858.3 607.0L863.2 602.6L865.0 603.4L865.0 606.3ZM808.4 534.0L806.5 538.6L804.7 538.6L803.7 537.9L802.4 535.1L802.9 533.3L806.1 532.0L807.5 533.1ZM845.3 567.3L839.5 565.1L840.0 563.2L845.4 564.5L846.9 566.1ZM828.1 532.0L825.2 531.6L824.9 527.7L826.4 526.2L828.3 527.8L829.9 532.3Z" fill="#2222d4" stroke="#15159a" stroke-width="0.6"/><rect x="855.5" y="609.1" width="9.5" height="1.8" fill="#e03030"/><rect x="858.0" y="607.3" width="4" height="0.8" fill="#e06060"/></g>
<text x="569.00" y="414.80" font-family='"Liberation Sans", sans-serif' font-size="13.0" font-weight="normal" fill="#000" text-anchor="middle">NC</text>
<text x="685.30" y="414.80" font-family='"Liberation Sans", sans-serif' font-size="13.0" font-weight="normal" fill="#000" text-anchor="middle">Si-1</text>
<text x="813.50" y="414.80" font-family='"Liberation Sans", sans-serif' font-size="13.0" font-weight="normal" fill="#000" text-anchor="middle">Si-2</text>
<text x="563.60" y="635.00" font-family='"Liberation Sans", sans-serif' font-size="13.0" font-weight="normal" fill="#000" text-anchor="middle">NC</text>
<text x="691.00" y="635.00" font-family='"Liberation Sans", sans-serif' font-size="13.0" font-weight="normal" fill="#000" text-anchor="middle">Si-1</text>
<text x="812.20" y="635.00" font-family='"Liberation Sans", sans-serif' font-size="13.0" font-weight="normal" fill="#000" text-anchor="middle">Si-2</text>
<text x="502.00" y="341.20" font-family='"Liberation Serif", serif' font-size="13.8" font-weight="bold" fill="#2a1212" text-anchor="middle" transform="rotate(-90 502.00 341.20)" stroke="#2a1212" stroke-width="0.35">Cell invasion</text>
<text x="502.00" y="561.80" font-family='"Liberation Serif", serif' font-size="13.8" font-weight="bold" fill="#2a1212" text-anchor="middle" transform="rotate(-90 502.00 561.80)" stroke="#2a1212" stroke-width="0.35">Cell invasion</text>
</g>
</svg></body></html>
